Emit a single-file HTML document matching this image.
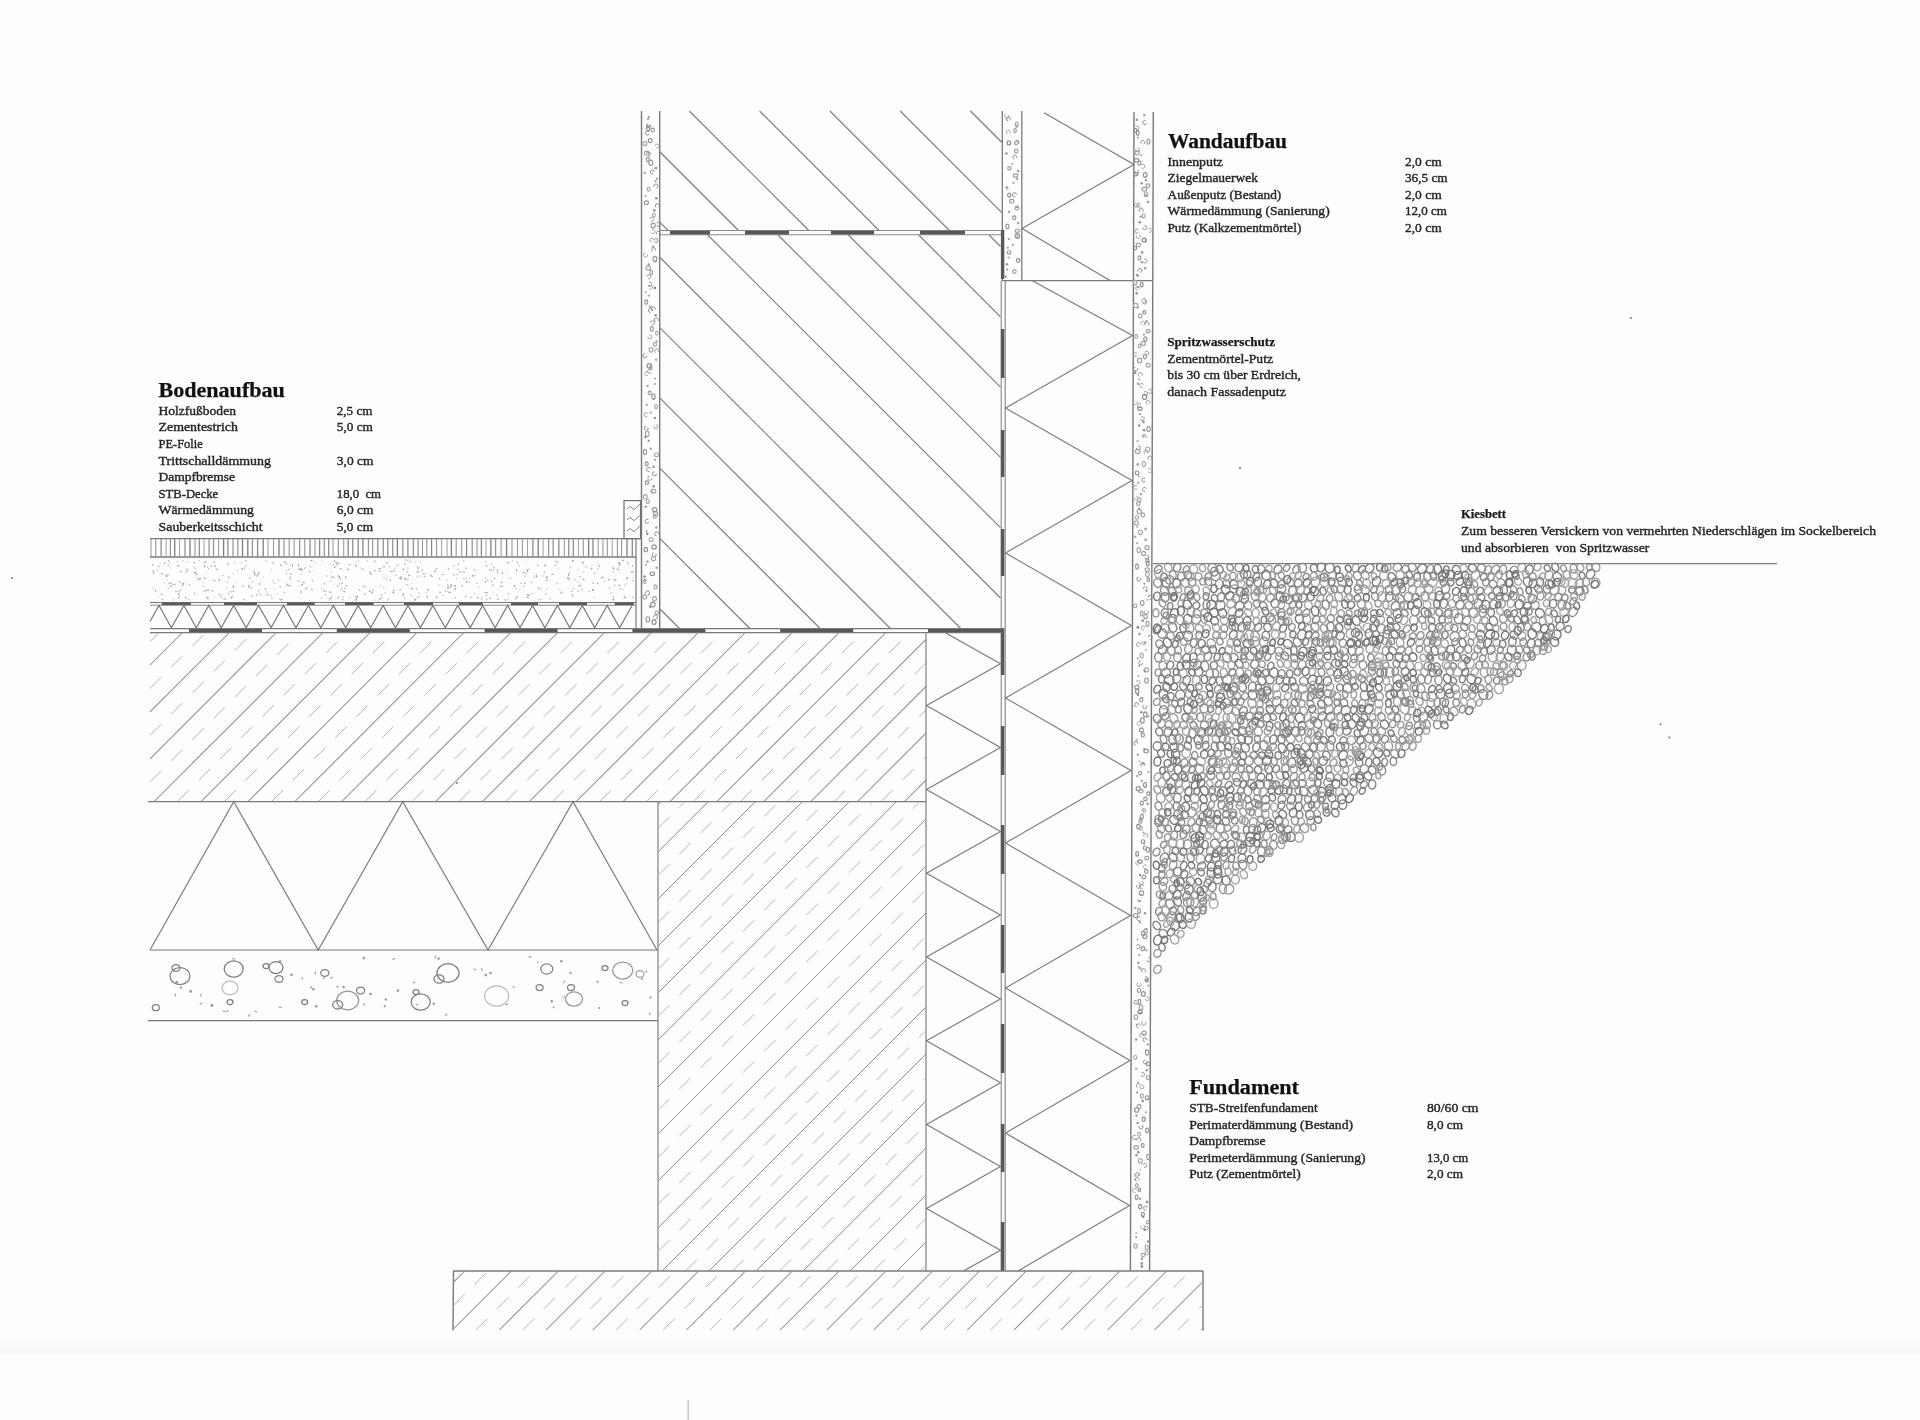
<!DOCTYPE html>
<html><head><meta charset="utf-8"><title>Detail</title>
<style>html,body{margin:0;padding:0;background:#fdfdfd;width:1920px;height:1420px;overflow:hidden} svg{display:block;filter:blur(0.4px)} text{font-family:"Liberation Serif",serif;white-space:pre}</style>
</head><body>
<svg width="1920" height="1420" viewBox="0 0 1920 1420" shape-rendering="geometricPrecision"><rect x="0" y="0" width="1920" height="1420" fill="#fdfdfd"/>
<linearGradient id="band" x1="0" y1="0" x2="0" y2="1"><stop offset="0" stop-color="#fdfdfd"/><stop offset="0.85" stop-color="#f8f8f8"/><stop offset="1" stop-color="#fdfdfd"/></linearGradient>
<rect x="0" y="1336" width="1920" height="20" fill="url(#band)"/>
<line x1="660.0" y1="222.3" x2="668.2" y2="230.5" stroke="#7e7e7e" stroke-width="1.15" />
<line x1="660.0" y1="152.0" x2="738.5" y2="230.5" stroke="#7e7e7e" stroke-width="1.15" />
<line x1="689.3" y1="111.0" x2="808.8" y2="230.5" stroke="#7e7e7e" stroke-width="1.15" />
<line x1="759.6" y1="111.0" x2="879.1" y2="230.5" stroke="#7e7e7e" stroke-width="1.15" />
<line x1="829.9" y1="111.0" x2="949.4" y2="230.5" stroke="#7e7e7e" stroke-width="1.15" />
<line x1="900.2" y1="111.0" x2="1002.0" y2="212.8" stroke="#7e7e7e" stroke-width="1.15" />
<line x1="970.5" y1="111.0" x2="1002.0" y2="142.5" stroke="#7e7e7e" stroke-width="1.15" />
<line x1="660.0" y1="609.0" x2="680.0" y2="629.0" stroke="#7e7e7e" stroke-width="1.15" />
<line x1="660.0" y1="538.7" x2="750.3" y2="629.0" stroke="#7e7e7e" stroke-width="1.15" />
<line x1="660.0" y1="468.4" x2="820.6" y2="629.0" stroke="#7e7e7e" stroke-width="1.15" />
<line x1="660.0" y1="398.1" x2="890.9" y2="629.0" stroke="#7e7e7e" stroke-width="1.15" />
<line x1="660.0" y1="327.8" x2="961.2" y2="629.0" stroke="#7e7e7e" stroke-width="1.15" />
<line x1="660.0" y1="257.5" x2="1000.5" y2="598.0" stroke="#7e7e7e" stroke-width="1.15" />
<line x1="707.8" y1="235.0" x2="1000.5" y2="527.7" stroke="#7e7e7e" stroke-width="1.15" />
<line x1="778.1" y1="235.0" x2="1000.5" y2="457.4" stroke="#7e7e7e" stroke-width="1.15" />
<line x1="848.4" y1="235.0" x2="1000.5" y2="387.1" stroke="#7e7e7e" stroke-width="1.15" />
<line x1="918.7" y1="235.0" x2="1000.5" y2="316.8" stroke="#7e7e7e" stroke-width="1.15" />
<line x1="989.0" y1="235.0" x2="1000.5" y2="246.5" stroke="#7e7e7e" stroke-width="1.15" />
<line x1="660.0" y1="230.5" x2="1002.0" y2="230.5" stroke="#8a8a8a" stroke-width="1.1" />
<line x1="660.0" y1="234.8" x2="1002.0" y2="234.8" stroke="#8a8a8a" stroke-width="1.1" />
<line x1="670.0" y1="232.6" x2="710.0" y2="232.6" stroke="#585858" stroke-width="3.6" />
<line x1="745.0" y1="232.6" x2="789.0" y2="232.6" stroke="#585858" stroke-width="3.6" />
<line x1="831.0" y1="232.6" x2="874.0" y2="232.6" stroke="#585858" stroke-width="3.6" />
<line x1="920.0" y1="232.6" x2="965.0" y2="232.6" stroke="#585858" stroke-width="3.6" />
<line x1="641.5" y1="111.0" x2="641.5" y2="628.0" stroke="#7a7a7a" stroke-width="1.4" />
<line x1="659.7" y1="111.0" x2="659.7" y2="629.0" stroke="#7a7a7a" stroke-width="1.4" />
<line x1="1002.3" y1="111.0" x2="1002.3" y2="280.5" stroke="#7a7a7a" stroke-width="1.3" />
<line x1="1021.8" y1="111.0" x2="1021.8" y2="280.5" stroke="#7a7a7a" stroke-width="1.3" />
<line x1="1001.2" y1="280.5" x2="1001.2" y2="1271.0" stroke="#8a8a8a" stroke-width="1.1" />
<line x1="1005.2" y1="280.5" x2="1005.2" y2="1271.0" stroke="#8a8a8a" stroke-width="1.2" />
<line x1="1002.6" y1="230.0" x2="1002.6" y2="279.0" stroke="#585858" stroke-width="3.4" />
<line x1="1002.6" y1="329.0" x2="1002.6" y2="378.0" stroke="#585858" stroke-width="3.4" />
<line x1="1002.6" y1="430.0" x2="1002.6" y2="477.0" stroke="#585858" stroke-width="3.4" />
<line x1="1002.6" y1="529.0" x2="1002.6" y2="576.0" stroke="#585858" stroke-width="3.4" />
<line x1="1002.6" y1="628.0" x2="1002.6" y2="675.0" stroke="#585858" stroke-width="3.4" />
<line x1="1002.6" y1="726.0" x2="1002.6" y2="775.0" stroke="#585858" stroke-width="3.4" />
<line x1="1002.6" y1="825.0" x2="1002.6" y2="874.0" stroke="#585858" stroke-width="3.4" />
<line x1="1002.6" y1="925.0" x2="1002.6" y2="973.0" stroke="#585858" stroke-width="3.4" />
<line x1="1002.6" y1="1024.0" x2="1002.6" y2="1073.0" stroke="#585858" stroke-width="3.4" />
<line x1="1002.6" y1="1124.0" x2="1002.6" y2="1172.0" stroke="#585858" stroke-width="3.4" />
<line x1="1002.6" y1="1222.0" x2="1002.6" y2="1271.0" stroke="#585858" stroke-width="3.4" />
<line x1="1134.0" y1="112.0" x2="1130.4" y2="1271.0" stroke="#7a7a7a" stroke-width="1.4" />
<line x1="1153.3" y1="112.0" x2="1149.6" y2="1271.0" stroke="#7a7a7a" stroke-width="1.4" />
<polyline fill="none" stroke="#7a7a7a" stroke-width="1.15" points="1044.0,112.8 1134.0,164.4 1022.0,228.6 1110.0,280.5"/>
<line x1="1002.0" y1="280.6" x2="1152.0" y2="280.6" stroke="#7a7a7a" stroke-width="1.15" />
<polyline fill="none" stroke="#7a7a7a" stroke-width="1.15" points="1032.0,280.6 1132.5,335.5 1005.5,408.0 1132.0,480.5 1005.5,553.0 1131.5,625.5 1005.5,698.0 1131.0,770.5 1005.5,843.0 1130.5,915.5 1005.5,988.0 1130.0,1060.5 1005.5,1133.0 1129.5,1205.5 1018.0,1271.0"/>
<line x1="150.0" y1="538.6" x2="641.0" y2="538.6" stroke="#7a7a7a" stroke-width="1.4" />
<line x1="150.0" y1="557.0" x2="636.0" y2="557.0" stroke="#7a7a7a" stroke-width="1.4" />
<line x1="151.0" y1="539" x2="151.0" y2="556.6" stroke="#8a8a8a" stroke-width="0.9"/>
<line x1="155.8" y1="539" x2="155.8" y2="556.6" stroke="#7e7e7e" stroke-width="0.9"/>
<line x1="161.1" y1="539" x2="161.1" y2="556.6" stroke="#7e7e7e" stroke-width="1.1"/>
<line x1="166.1" y1="539" x2="166.1" y2="556.6" stroke="#979797" stroke-width="0.9"/>
<line x1="170.4" y1="539" x2="170.4" y2="556.6" stroke="#8a8a8a" stroke-width="1.1"/>
<line x1="174.7" y1="539" x2="174.7" y2="556.6" stroke="#7e7e7e" stroke-width="1.3"/>
<line x1="179.5" y1="539" x2="179.5" y2="556.6" stroke="#979797" stroke-width="0.9"/>
<line x1="185.0" y1="539" x2="185.0" y2="556.6" stroke="#979797" stroke-width="1.3"/>
<line x1="190.0" y1="539" x2="190.0" y2="556.6" stroke="#7e7e7e" stroke-width="1.3"/>
<line x1="195.0" y1="539" x2="195.0" y2="556.6" stroke="#7e7e7e" stroke-width="0.9"/>
<line x1="199.3" y1="539" x2="199.3" y2="556.6" stroke="#7e7e7e" stroke-width="1.1"/>
<line x1="204.1" y1="539" x2="204.1" y2="556.6" stroke="#979797" stroke-width="0.9"/>
<line x1="209.1" y1="539" x2="209.1" y2="556.6" stroke="#979797" stroke-width="1.3"/>
<line x1="213.5" y1="539" x2="213.5" y2="556.6" stroke="#979797" stroke-width="1.3"/>
<line x1="218.6" y1="539" x2="218.6" y2="556.6" stroke="#8a8a8a" stroke-width="0.9"/>
<line x1="223.6" y1="539" x2="223.6" y2="556.6" stroke="#7e7e7e" stroke-width="1.3"/>
<line x1="227.9" y1="539" x2="227.9" y2="556.6" stroke="#7e7e7e" stroke-width="1.1"/>
<line x1="233.0" y1="539" x2="233.0" y2="556.6" stroke="#8a8a8a" stroke-width="1.1"/>
<line x1="237.9" y1="539" x2="237.9" y2="556.6" stroke="#8a8a8a" stroke-width="1.1"/>
<line x1="242.5" y1="539" x2="242.5" y2="556.6" stroke="#7e7e7e" stroke-width="1.3"/>
<line x1="247.8" y1="539" x2="247.8" y2="556.6" stroke="#7e7e7e" stroke-width="1.3"/>
<line x1="252.4" y1="539" x2="252.4" y2="556.6" stroke="#8a8a8a" stroke-width="1.1"/>
<line x1="257.6" y1="539" x2="257.6" y2="556.6" stroke="#8a8a8a" stroke-width="1.3"/>
<line x1="263.2" y1="539" x2="263.2" y2="556.6" stroke="#7e7e7e" stroke-width="1.3"/>
<line x1="268.0" y1="539" x2="268.0" y2="556.6" stroke="#8a8a8a" stroke-width="0.9"/>
<line x1="273.5" y1="539" x2="273.5" y2="556.6" stroke="#8a8a8a" stroke-width="0.9"/>
<line x1="279.0" y1="539" x2="279.0" y2="556.6" stroke="#7e7e7e" stroke-width="1.3"/>
<line x1="284.0" y1="539" x2="284.0" y2="556.6" stroke="#8a8a8a" stroke-width="1.1"/>
<line x1="289.2" y1="539" x2="289.2" y2="556.6" stroke="#979797" stroke-width="1.1"/>
<line x1="294.2" y1="539" x2="294.2" y2="556.6" stroke="#8a8a8a" stroke-width="0.9"/>
<line x1="299.6" y1="539" x2="299.6" y2="556.6" stroke="#8a8a8a" stroke-width="1.1"/>
<line x1="304.8" y1="539" x2="304.8" y2="556.6" stroke="#7e7e7e" stroke-width="0.9"/>
<line x1="310.0" y1="539" x2="310.0" y2="556.6" stroke="#8a8a8a" stroke-width="1.3"/>
<line x1="315.0" y1="539" x2="315.0" y2="556.6" stroke="#979797" stroke-width="1.1"/>
<line x1="319.6" y1="539" x2="319.6" y2="556.6" stroke="#8a8a8a" stroke-width="1.3"/>
<line x1="324.3" y1="539" x2="324.3" y2="556.6" stroke="#8a8a8a" stroke-width="1.1"/>
<line x1="328.7" y1="539" x2="328.7" y2="556.6" stroke="#7e7e7e" stroke-width="1.1"/>
<line x1="333.0" y1="539" x2="333.0" y2="556.6" stroke="#8a8a8a" stroke-width="0.9"/>
<line x1="338.3" y1="539" x2="338.3" y2="556.6" stroke="#8a8a8a" stroke-width="1.1"/>
<line x1="343.7" y1="539" x2="343.7" y2="556.6" stroke="#8a8a8a" stroke-width="0.9"/>
<line x1="348.2" y1="539" x2="348.2" y2="556.6" stroke="#8a8a8a" stroke-width="1.3"/>
<line x1="352.8" y1="539" x2="352.8" y2="556.6" stroke="#7e7e7e" stroke-width="1.1"/>
<line x1="358.2" y1="539" x2="358.2" y2="556.6" stroke="#8a8a8a" stroke-width="1.3"/>
<line x1="362.9" y1="539" x2="362.9" y2="556.6" stroke="#8a8a8a" stroke-width="1.3"/>
<line x1="368.4" y1="539" x2="368.4" y2="556.6" stroke="#7e7e7e" stroke-width="0.9"/>
<line x1="372.7" y1="539" x2="372.7" y2="556.6" stroke="#7e7e7e" stroke-width="0.9"/>
<line x1="377.8" y1="539" x2="377.8" y2="556.6" stroke="#7e7e7e" stroke-width="1.1"/>
<line x1="383.2" y1="539" x2="383.2" y2="556.6" stroke="#7e7e7e" stroke-width="1.1"/>
<line x1="387.8" y1="539" x2="387.8" y2="556.6" stroke="#7e7e7e" stroke-width="1.1"/>
<line x1="392.7" y1="539" x2="392.7" y2="556.6" stroke="#979797" stroke-width="1.3"/>
<line x1="397.4" y1="539" x2="397.4" y2="556.6" stroke="#7e7e7e" stroke-width="1.3"/>
<line x1="402.8" y1="539" x2="402.8" y2="556.6" stroke="#979797" stroke-width="1.3"/>
<line x1="407.9" y1="539" x2="407.9" y2="556.6" stroke="#7e7e7e" stroke-width="1.1"/>
<line x1="413.4" y1="539" x2="413.4" y2="556.6" stroke="#979797" stroke-width="1.3"/>
<line x1="418.1" y1="539" x2="418.1" y2="556.6" stroke="#8a8a8a" stroke-width="1.1"/>
<line x1="422.5" y1="539" x2="422.5" y2="556.6" stroke="#979797" stroke-width="1.1"/>
<line x1="426.8" y1="539" x2="426.8" y2="556.6" stroke="#7e7e7e" stroke-width="0.9"/>
<line x1="431.6" y1="539" x2="431.6" y2="556.6" stroke="#7e7e7e" stroke-width="1.1"/>
<line x1="436.6" y1="539" x2="436.6" y2="556.6" stroke="#7e7e7e" stroke-width="0.9"/>
<line x1="441.6" y1="539" x2="441.6" y2="556.6" stroke="#979797" stroke-width="0.9"/>
<line x1="447.1" y1="539" x2="447.1" y2="556.6" stroke="#979797" stroke-width="0.9"/>
<line x1="451.4" y1="539" x2="451.4" y2="556.6" stroke="#7e7e7e" stroke-width="1.3"/>
<line x1="456.2" y1="539" x2="456.2" y2="556.6" stroke="#979797" stroke-width="1.1"/>
<line x1="461.7" y1="539" x2="461.7" y2="556.6" stroke="#979797" stroke-width="1.1"/>
<line x1="466.6" y1="539" x2="466.6" y2="556.6" stroke="#7e7e7e" stroke-width="1.1"/>
<line x1="472.2" y1="539" x2="472.2" y2="556.6" stroke="#8a8a8a" stroke-width="1.1"/>
<line x1="477.0" y1="539" x2="477.0" y2="556.6" stroke="#7e7e7e" stroke-width="0.9"/>
<line x1="481.4" y1="539" x2="481.4" y2="556.6" stroke="#8a8a8a" stroke-width="1.3"/>
<line x1="486.0" y1="539" x2="486.0" y2="556.6" stroke="#979797" stroke-width="0.9"/>
<line x1="490.9" y1="539" x2="490.9" y2="556.6" stroke="#7e7e7e" stroke-width="1.3"/>
<line x1="495.6" y1="539" x2="495.6" y2="556.6" stroke="#979797" stroke-width="1.3"/>
<line x1="501.1" y1="539" x2="501.1" y2="556.6" stroke="#979797" stroke-width="1.1"/>
<line x1="506.6" y1="539" x2="506.6" y2="556.6" stroke="#7e7e7e" stroke-width="1.3"/>
<line x1="512.0" y1="539" x2="512.0" y2="556.6" stroke="#979797" stroke-width="1.1"/>
<line x1="517.5" y1="539" x2="517.5" y2="556.6" stroke="#8a8a8a" stroke-width="0.9"/>
<line x1="522.4" y1="539" x2="522.4" y2="556.6" stroke="#979797" stroke-width="1.1"/>
<line x1="527.5" y1="539" x2="527.5" y2="556.6" stroke="#979797" stroke-width="0.9"/>
<line x1="532.9" y1="539" x2="532.9" y2="556.6" stroke="#8a8a8a" stroke-width="1.3"/>
<line x1="538.2" y1="539" x2="538.2" y2="556.6" stroke="#7e7e7e" stroke-width="1.3"/>
<line x1="543.1" y1="539" x2="543.1" y2="556.6" stroke="#979797" stroke-width="0.9"/>
<line x1="548.7" y1="539" x2="548.7" y2="556.6" stroke="#8a8a8a" stroke-width="1.1"/>
<line x1="553.2" y1="539" x2="553.2" y2="556.6" stroke="#979797" stroke-width="1.3"/>
<line x1="558.8" y1="539" x2="558.8" y2="556.6" stroke="#8a8a8a" stroke-width="1.3"/>
<line x1="564.3" y1="539" x2="564.3" y2="556.6" stroke="#8a8a8a" stroke-width="0.9"/>
<line x1="568.8" y1="539" x2="568.8" y2="556.6" stroke="#7e7e7e" stroke-width="1.1"/>
<line x1="573.3" y1="539" x2="573.3" y2="556.6" stroke="#7e7e7e" stroke-width="1.1"/>
<line x1="578.4" y1="539" x2="578.4" y2="556.6" stroke="#979797" stroke-width="0.9"/>
<line x1="583.3" y1="539" x2="583.3" y2="556.6" stroke="#979797" stroke-width="1.1"/>
<line x1="588.6" y1="539" x2="588.6" y2="556.6" stroke="#7e7e7e" stroke-width="1.3"/>
<line x1="593.0" y1="539" x2="593.0" y2="556.6" stroke="#8a8a8a" stroke-width="1.3"/>
<line x1="598.2" y1="539" x2="598.2" y2="556.6" stroke="#8a8a8a" stroke-width="0.9"/>
<line x1="603.0" y1="539" x2="603.0" y2="556.6" stroke="#979797" stroke-width="1.1"/>
<line x1="607.3" y1="539" x2="607.3" y2="556.6" stroke="#979797" stroke-width="1.1"/>
<line x1="612.2" y1="539" x2="612.2" y2="556.6" stroke="#979797" stroke-width="0.9"/>
<line x1="617.4" y1="539" x2="617.4" y2="556.6" stroke="#7e7e7e" stroke-width="0.9"/>
<line x1="621.6" y1="539" x2="621.6" y2="556.6" stroke="#979797" stroke-width="1.1"/>
<line x1="627.0" y1="539" x2="627.0" y2="556.6" stroke="#7e7e7e" stroke-width="1.3"/>
<line x1="632.3" y1="539" x2="632.3" y2="556.6" stroke="#8a8a8a" stroke-width="1.3"/>
<line x1="636.0" y1="538.6" x2="636.0" y2="632.0" stroke="#7a7a7a" stroke-width="1.2" />
<rect x="624" y="500.6" width="16.5" height="38" fill="none" stroke="#707070" stroke-width="1.2"/>
<path d="M627,509 q3,-4 5,-1 t5,-1 t4,-2" fill="none" stroke="#777" stroke-width="0.9"/>
<path d="M627,520 q3,-4 5,-1 t5,-1 t4,-2" fill="none" stroke="#777" stroke-width="0.9"/>
<path d="M627,531 q3,-4 5,-1 t5,-1 t4,-2" fill="none" stroke="#777" stroke-width="0.9"/>
<circle cx="227.1" cy="581.9" r="0.71" fill="#a0a0a0"/>
<line x1="602.0" y1="577.4" x2="603.9" y2="577.5" stroke="#aaaaaa" stroke-width="0.9"/>
<circle cx="393.6" cy="590.5" r="0.83" fill="#959595"/>
<line x1="181.4" y1="589.6" x2="178.6" y2="591.3" stroke="#959595" stroke-width="0.9"/>
<circle cx="215.0" cy="566.1" r="0.81" fill="#959595"/>
<circle cx="445.3" cy="591.0" r="0.69" fill="#aaaaaa"/>
<circle cx="501.5" cy="582.3" r="0.81" fill="#959595"/>
<circle cx="203.1" cy="582.4" r="0.52" fill="#b8b8b8"/>
<circle cx="199.1" cy="578.1" r="0.68" fill="#a0a0a0"/>
<circle cx="447.2" cy="580.2" r="0.68" fill="#b8b8b8"/>
<line x1="409.0" y1="579.1" x2="405.9" y2="579.9" stroke="#b8b8b8" stroke-width="0.9"/>
<circle cx="249.6" cy="577.9" r="0.68" fill="#959595"/>
<circle cx="187.0" cy="569.6" r="0.81" fill="#b8b8b8"/>
<line x1="584.4" y1="566.2" x2="587.3" y2="567.6" stroke="#b8b8b8" stroke-width="0.9"/>
<line x1="618.4" y1="568.8" x2="616.6" y2="569.4" stroke="#959595" stroke-width="0.9"/>
<line x1="473.9" y1="568.9" x2="474.8" y2="570.6" stroke="#959595" stroke-width="0.9"/>
<circle cx="305.5" cy="588.9" r="0.68" fill="#959595"/>
<line x1="160.7" y1="573.3" x2="163.8" y2="574.4" stroke="#a0a0a0" stroke-width="0.9"/>
<circle cx="262.2" cy="595.1" r="0.52" fill="#b8b8b8"/>
<circle cx="527.5" cy="570.8" r="0.84" fill="#959595"/>
<circle cx="477.8" cy="597.8" r="0.78" fill="#959595"/>
<line x1="195.1" y1="562.3" x2="193.2" y2="563.0" stroke="#959595" stroke-width="0.9"/>
<circle cx="160.1" cy="563.5" r="0.53" fill="#aaaaaa"/>
<circle cx="567.9" cy="578.2" r="0.87" fill="#959595"/>
<circle cx="281.1" cy="565.2" r="0.88" fill="#aaaaaa"/>
<circle cx="619.2" cy="570.5" r="0.75" fill="#b8b8b8"/>
<circle cx="408.0" cy="568.2" r="0.61" fill="#aaaaaa"/>
<circle cx="539.4" cy="599.8" r="0.79" fill="#a0a0a0"/>
<circle cx="417.6" cy="567.6" r="0.54" fill="#959595"/>
<circle cx="546.7" cy="577.3" r="0.89" fill="#959595"/>
<circle cx="300.4" cy="568.6" r="0.83" fill="#aaaaaa"/>
<circle cx="492.6" cy="585.4" r="0.89" fill="#b8b8b8"/>
<line x1="555.4" y1="560.6" x2="555.8" y2="562.1" stroke="#b8b8b8" stroke-width="0.9"/>
<circle cx="472.6" cy="575.2" r="0.74" fill="#b8b8b8"/>
<circle cx="485.9" cy="561.8" r="0.68" fill="#b8b8b8"/>
<line x1="278.9" y1="598.5" x2="281.4" y2="600.9" stroke="#b8b8b8" stroke-width="0.9"/>
<circle cx="301.2" cy="574.3" r="0.53" fill="#959595"/>
<circle cx="286.4" cy="586.2" r="0.54" fill="#a0a0a0"/>
<circle cx="545.8" cy="565.8" r="0.51" fill="#959595"/>
<circle cx="298.6" cy="569.3" r="0.76" fill="#aaaaaa"/>
<circle cx="497.1" cy="595.2" r="0.79" fill="#b8b8b8"/>
<line x1="390.2" y1="571.4" x2="393.3" y2="571.8" stroke="#aaaaaa" stroke-width="0.9"/>
<line x1="581.9" y1="585.1" x2="579.0" y2="585.9" stroke="#aaaaaa" stroke-width="0.9"/>
<circle cx="426.0" cy="592.5" r="0.53" fill="#aaaaaa"/>
<line x1="172.2" y1="585.5" x2="169.9" y2="586.8" stroke="#959595" stroke-width="0.9"/>
<line x1="454.6" y1="585.0" x2="456.2" y2="586.8" stroke="#959595" stroke-width="0.9"/>
<line x1="185.8" y1="597.3" x2="185.0" y2="598.7" stroke="#a0a0a0" stroke-width="0.9"/>
<circle cx="507.1" cy="570.1" r="0.59" fill="#b8b8b8"/>
<line x1="516.6" y1="569.2" x2="516.6" y2="571.5" stroke="#959595" stroke-width="0.9"/>
<line x1="382.9" y1="587.3" x2="384.6" y2="587.8" stroke="#aaaaaa" stroke-width="0.9"/>
<circle cx="274.4" cy="589.7" r="0.50" fill="#aaaaaa"/>
<line x1="181.2" y1="570.8" x2="180.1" y2="572.5" stroke="#aaaaaa" stroke-width="0.9"/>
<circle cx="401.0" cy="578.6" r="0.90" fill="#a0a0a0"/>
<circle cx="416.7" cy="572.5" r="0.51" fill="#959595"/>
<line x1="373.2" y1="592.8" x2="371.0" y2="592.8" stroke="#959595" stroke-width="0.9"/>
<circle cx="593.8" cy="597.2" r="0.56" fill="#a0a0a0"/>
<circle cx="404.6" cy="598.1" r="0.85" fill="#b8b8b8"/>
<line x1="491.0" y1="569.3" x2="491.6" y2="571.0" stroke="#959595" stroke-width="0.9"/>
<circle cx="609.9" cy="587.3" r="0.67" fill="#aaaaaa"/>
<circle cx="333.3" cy="564.8" r="0.80" fill="#b8b8b8"/>
<line x1="556.5" y1="564.8" x2="554.5" y2="565.4" stroke="#a0a0a0" stroke-width="0.9"/>
<line x1="331.4" y1="575.7" x2="332.4" y2="577.9" stroke="#a0a0a0" stroke-width="0.9"/>
<circle cx="284.6" cy="561.9" r="0.75" fill="#b8b8b8"/>
<circle cx="223.8" cy="598.8" r="0.58" fill="#b8b8b8"/>
<line x1="332.0" y1="598.2" x2="328.7" y2="599.2" stroke="#959595" stroke-width="0.9"/>
<circle cx="416.7" cy="588.8" r="0.68" fill="#959595"/>
<circle cx="514.8" cy="585.8" r="0.86" fill="#a0a0a0"/>
<circle cx="417.2" cy="566.8" r="0.62" fill="#b8b8b8"/>
<circle cx="508.2" cy="599.1" r="0.62" fill="#aaaaaa"/>
<circle cx="420.6" cy="575.8" r="0.53" fill="#aaaaaa"/>
<circle cx="393.3" cy="592.5" r="0.86" fill="#959595"/>
<circle cx="632.3" cy="578.0" r="0.60" fill="#aaaaaa"/>
<circle cx="236.2" cy="582.2" r="0.60" fill="#b8b8b8"/>
<line x1="426.6" y1="595.5" x2="427.6" y2="598.3" stroke="#959595" stroke-width="0.9"/>
<line x1="253.2" y1="570.8" x2="255.4" y2="573.4" stroke="#959595" stroke-width="0.9"/>
<line x1="212.7" y1="580.1" x2="215.8" y2="581.1" stroke="#aaaaaa" stroke-width="0.9"/>
<circle cx="337.4" cy="585.8" r="0.84" fill="#b8b8b8"/>
<circle cx="572.7" cy="560.9" r="0.89" fill="#959595"/>
<line x1="388.1" y1="562.9" x2="386.1" y2="563.1" stroke="#959595" stroke-width="0.9"/>
<circle cx="204.6" cy="566.2" r="0.88" fill="#a0a0a0"/>
<line x1="499.9" y1="585.9" x2="502.8" y2="586.7" stroke="#959595" stroke-width="0.9"/>
<circle cx="152.7" cy="565.0" r="0.76" fill="#a0a0a0"/>
<circle cx="298.4" cy="565.1" r="0.78" fill="#959595"/>
<circle cx="206.0" cy="562.8" r="0.66" fill="#aaaaaa"/>
<circle cx="259.8" cy="584.0" r="0.90" fill="#b8b8b8"/>
<line x1="286.3" y1="572.7" x2="286.4" y2="574.6" stroke="#aaaaaa" stroke-width="0.9"/>
<line x1="271.1" y1="598.4" x2="272.9" y2="598.8" stroke="#b8b8b8" stroke-width="0.9"/>
<circle cx="578.5" cy="585.9" r="0.77" fill="#aaaaaa"/>
<circle cx="597.9" cy="569.1" r="0.79" fill="#b8b8b8"/>
<circle cx="326.6" cy="575.9" r="0.80" fill="#b8b8b8"/>
<line x1="395.4" y1="568.2" x2="394.0" y2="569.5" stroke="#b8b8b8" stroke-width="0.9"/>
<line x1="376.2" y1="570.6" x2="373.7" y2="571.0" stroke="#a0a0a0" stroke-width="0.9"/>
<circle cx="242.3" cy="568.9" r="0.88" fill="#a0a0a0"/>
<circle cx="222.6" cy="575.7" r="0.67" fill="#aaaaaa"/>
<circle cx="494.2" cy="567.4" r="0.79" fill="#b8b8b8"/>
<circle cx="632.8" cy="597.3" r="0.76" fill="#aaaaaa"/>
<circle cx="405.0" cy="578.7" r="0.84" fill="#959595"/>
<circle cx="626.8" cy="577.7" r="0.61" fill="#a0a0a0"/>
<circle cx="321.4" cy="598.2" r="0.65" fill="#aaaaaa"/>
<line x1="522.5" y1="572.3" x2="524.9" y2="572.7" stroke="#a0a0a0" stroke-width="0.9"/>
<circle cx="331.6" cy="596.8" r="0.79" fill="#b8b8b8"/>
<circle cx="380.7" cy="585.3" r="0.52" fill="#959595"/>
<line x1="168.8" y1="562.5" x2="170.1" y2="563.4" stroke="#b8b8b8" stroke-width="0.9"/>
<circle cx="443.9" cy="574.5" r="0.60" fill="#a0a0a0"/>
<circle cx="497.4" cy="572.7" r="0.79" fill="#a0a0a0"/>
<line x1="439.1" y1="592.2" x2="441.0" y2="592.4" stroke="#a0a0a0" stroke-width="0.9"/>
<line x1="381.0" y1="598.3" x2="378.4" y2="600.3" stroke="#959595" stroke-width="0.9"/>
<circle cx="544.7" cy="565.3" r="0.82" fill="#a0a0a0"/>
<line x1="508.0" y1="592.9" x2="509.1" y2="594.7" stroke="#aaaaaa" stroke-width="0.9"/>
<circle cx="326.4" cy="591.3" r="0.66" fill="#aaaaaa"/>
<line x1="229.1" y1="576.3" x2="228.7" y2="578.4" stroke="#959595" stroke-width="0.9"/>
<line x1="624.5" y1="595.3" x2="623.8" y2="597.1" stroke="#b8b8b8" stroke-width="0.9"/>
<line x1="355.0" y1="599.5" x2="356.7" y2="601.1" stroke="#aaaaaa" stroke-width="0.9"/>
<line x1="451.0" y1="587.0" x2="449.4" y2="588.3" stroke="#a0a0a0" stroke-width="0.9"/>
<circle cx="286.7" cy="570.7" r="0.58" fill="#b8b8b8"/>
<circle cx="271.3" cy="569.8" r="0.63" fill="#aaaaaa"/>
<circle cx="342.9" cy="599.7" r="0.76" fill="#aaaaaa"/>
<circle cx="200.5" cy="578.6" r="0.69" fill="#a0a0a0"/>
<line x1="546.8" y1="593.6" x2="545.0" y2="594.4" stroke="#a0a0a0" stroke-width="0.9"/>
<line x1="176.3" y1="584.0" x2="174.1" y2="584.5" stroke="#aaaaaa" stroke-width="0.9"/>
<circle cx="569.5" cy="578.0" r="0.54" fill="#a0a0a0"/>
<circle cx="439.3" cy="584.8" r="0.64" fill="#b8b8b8"/>
<circle cx="173.3" cy="600.0" r="0.83" fill="#aaaaaa"/>
<circle cx="546.7" cy="576.4" r="0.53" fill="#b8b8b8"/>
<circle cx="167.2" cy="579.8" r="0.54" fill="#959595"/>
<line x1="342.5" y1="582.0" x2="341.5" y2="584.0" stroke="#a0a0a0" stroke-width="0.9"/>
<line x1="282.7" y1="599.5" x2="280.6" y2="599.8" stroke="#959595" stroke-width="0.9"/>
<circle cx="425.1" cy="574.3" r="0.76" fill="#b8b8b8"/>
<line x1="340.3" y1="576.2" x2="338.1" y2="576.9" stroke="#959595" stroke-width="0.9"/>
<line x1="547.4" y1="576.2" x2="546.1" y2="577.4" stroke="#959595" stroke-width="0.9"/>
<line x1="176.9" y1="565.7" x2="179.6" y2="566.5" stroke="#959595" stroke-width="0.9"/>
<circle cx="330.7" cy="580.2" r="0.56" fill="#b8b8b8"/>
<circle cx="234.8" cy="562.7" r="0.62" fill="#aaaaaa"/>
<line x1="555.6" y1="561.7" x2="558.9" y2="562.3" stroke="#b8b8b8" stroke-width="0.9"/>
<line x1="339.0" y1="596.2" x2="337.6" y2="599.1" stroke="#aaaaaa" stroke-width="0.9"/>
<circle cx="451.3" cy="584.6" r="0.57" fill="#959595"/>
<circle cx="257.1" cy="576.0" r="0.64" fill="#959595"/>
<line x1="224.0" y1="598.8" x2="226.6" y2="599.2" stroke="#aaaaaa" stroke-width="0.9"/>
<line x1="517.1" y1="561.5" x2="517.9" y2="563.8" stroke="#a0a0a0" stroke-width="0.9"/>
<line x1="561.2" y1="591.1" x2="560.6" y2="593.4" stroke="#b8b8b8" stroke-width="0.9"/>
<circle cx="469.6" cy="577.9" r="0.50" fill="#a0a0a0"/>
<circle cx="627.3" cy="578.6" r="0.83" fill="#959595"/>
<circle cx="542.7" cy="576.0" r="0.67" fill="#b8b8b8"/>
<circle cx="196.2" cy="577.7" r="0.52" fill="#a0a0a0"/>
<circle cx="214.8" cy="596.9" r="0.52" fill="#a0a0a0"/>
<line x1="394.9" y1="575.1" x2="396.5" y2="575.2" stroke="#aaaaaa" stroke-width="0.9"/>
<circle cx="448.0" cy="587.7" r="0.89" fill="#aaaaaa"/>
<line x1="389.1" y1="598.3" x2="387.5" y2="600.7" stroke="#aaaaaa" stroke-width="0.9"/>
<line x1="258.6" y1="593.3" x2="261.5" y2="594.9" stroke="#b8b8b8" stroke-width="0.9"/>
<circle cx="284.5" cy="592.6" r="0.58" fill="#959595"/>
<circle cx="278.7" cy="580.2" r="0.58" fill="#a0a0a0"/>
<circle cx="346.5" cy="585.5" r="0.86" fill="#b8b8b8"/>
<circle cx="233.3" cy="591.4" r="0.75" fill="#a0a0a0"/>
<circle cx="325.4" cy="594.9" r="0.60" fill="#a0a0a0"/>
<line x1="410.2" y1="594.3" x2="412.6" y2="596.8" stroke="#b8b8b8" stroke-width="0.9"/>
<line x1="430.3" y1="574.4" x2="432.3" y2="576.2" stroke="#959595" stroke-width="0.9"/>
<circle cx="613.7" cy="571.9" r="0.76" fill="#b8b8b8"/>
<line x1="626.3" y1="583.4" x2="624.3" y2="585.7" stroke="#b8b8b8" stroke-width="0.9"/>
<line x1="258.8" y1="571.6" x2="258.7" y2="574.9" stroke="#959595" stroke-width="0.9"/>
<line x1="215.6" y1="569.1" x2="218.2" y2="569.5" stroke="#a0a0a0" stroke-width="0.9"/>
<circle cx="298.4" cy="580.9" r="0.73" fill="#959595"/>
<line x1="435.9" y1="568.2" x2="437.3" y2="568.9" stroke="#959595" stroke-width="0.9"/>
<circle cx="538.3" cy="588.3" r="0.76" fill="#a0a0a0"/>
<circle cx="572.0" cy="591.3" r="0.89" fill="#b8b8b8"/>
<line x1="179.1" y1="592.8" x2="178.3" y2="595.2" stroke="#959595" stroke-width="0.9"/>
<circle cx="389.6" cy="566.6" r="0.71" fill="#a0a0a0"/>
<circle cx="347.7" cy="569.5" r="0.50" fill="#a0a0a0"/>
<circle cx="417.5" cy="597.6" r="0.71" fill="#aaaaaa"/>
<circle cx="461.8" cy="585.9" r="0.70" fill="#aaaaaa"/>
<line x1="182.7" y1="585.0" x2="181.8" y2="586.2" stroke="#959595" stroke-width="0.9"/>
<circle cx="559.0" cy="589.8" r="0.57" fill="#959595"/>
<line x1="632.4" y1="570.5" x2="633.8" y2="573.1" stroke="#a0a0a0" stroke-width="0.9"/>
<line x1="487.0" y1="593.8" x2="485.9" y2="596.4" stroke="#b8b8b8" stroke-width="0.9"/>
<line x1="482.5" y1="596.7" x2="481.0" y2="599.8" stroke="#b8b8b8" stroke-width="0.9"/>
<circle cx="256.6" cy="595.2" r="0.86" fill="#b8b8b8"/>
<circle cx="557.7" cy="568.1" r="0.58" fill="#b8b8b8"/>
<circle cx="339.4" cy="584.0" r="0.69" fill="#959595"/>
<circle cx="407.8" cy="560.3" r="0.73" fill="#aaaaaa"/>
<line x1="300.3" y1="568.5" x2="300.0" y2="570.3" stroke="#a0a0a0" stroke-width="0.9"/>
<line x1="167.9" y1="564.5" x2="168.7" y2="566.1" stroke="#aaaaaa" stroke-width="0.9"/>
<line x1="165.8" y1="561.7" x2="164.1" y2="564.1" stroke="#a0a0a0" stroke-width="0.9"/>
<circle cx="183.7" cy="583.6" r="0.85" fill="#a0a0a0"/>
<circle cx="516.3" cy="588.4" r="0.58" fill="#aaaaaa"/>
<line x1="206.0" y1="561.4" x2="203.6" y2="562.8" stroke="#a0a0a0" stroke-width="0.9"/>
<circle cx="290.5" cy="564.0" r="0.62" fill="#aaaaaa"/>
<circle cx="314.2" cy="570.4" r="0.52" fill="#b8b8b8"/>
<line x1="518.2" y1="596.4" x2="515.8" y2="597.6" stroke="#959595" stroke-width="0.9"/>
<circle cx="166.9" cy="576.5" r="0.64" fill="#a0a0a0"/>
<circle cx="491.6" cy="581.5" r="0.73" fill="#a0a0a0"/>
<circle cx="290.4" cy="577.4" r="0.80" fill="#b8b8b8"/>
<circle cx="623.3" cy="560.2" r="0.78" fill="#959595"/>
<circle cx="549.8" cy="598.7" r="0.73" fill="#b8b8b8"/>
<line x1="228.6" y1="592.6" x2="228.6" y2="594.3" stroke="#aaaaaa" stroke-width="0.9"/>
<line x1="458.8" y1="563.2" x2="457.9" y2="565.3" stroke="#a0a0a0" stroke-width="0.9"/>
<line x1="345.4" y1="575.8" x2="346.1" y2="578.5" stroke="#a0a0a0" stroke-width="0.9"/>
<circle cx="331.3" cy="572.1" r="0.65" fill="#aaaaaa"/>
<circle cx="578.1" cy="569.3" r="0.64" fill="#a0a0a0"/>
<line x1="309.5" y1="566.2" x2="311.5" y2="567.4" stroke="#b8b8b8" stroke-width="0.9"/>
<circle cx="524.8" cy="583.2" r="0.76" fill="#959595"/>
<circle cx="487.7" cy="580.3" r="0.79" fill="#aaaaaa"/>
<line x1="621.8" y1="588.9" x2="623.7" y2="590.0" stroke="#b8b8b8" stroke-width="0.9"/>
<line x1="243.2" y1="599.0" x2="245.7" y2="600.4" stroke="#a0a0a0" stroke-width="0.9"/>
<circle cx="246.2" cy="566.0" r="0.79" fill="#b8b8b8"/>
<line x1="361.6" y1="567.8" x2="363.7" y2="570.4" stroke="#a0a0a0" stroke-width="0.9"/>
<line x1="375.6" y1="560.5" x2="374.2" y2="562.6" stroke="#959595" stroke-width="0.9"/>
<circle cx="456.8" cy="578.5" r="0.50" fill="#959595"/>
<line x1="268.8" y1="594.1" x2="266.3" y2="595.4" stroke="#959595" stroke-width="0.9"/>
<line x1="466.5" y1="595.1" x2="465.0" y2="597.5" stroke="#aaaaaa" stroke-width="0.9"/>
<line x1="370.8" y1="572.5" x2="368.9" y2="573.2" stroke="#a0a0a0" stroke-width="0.9"/>
<circle cx="344.9" cy="588.5" r="0.69" fill="#959595"/>
<circle cx="161.5" cy="594.3" r="0.86" fill="#aaaaaa"/>
<line x1="310.1" y1="560.4" x2="312.7" y2="560.7" stroke="#a0a0a0" stroke-width="0.9"/>
<line x1="229.5" y1="591.3" x2="232.0" y2="592.1" stroke="#b8b8b8" stroke-width="0.9"/>
<circle cx="412.8" cy="588.7" r="0.71" fill="#b8b8b8"/>
<circle cx="349.8" cy="597.9" r="0.66" fill="#aaaaaa"/>
<line x1="519.6" y1="564.9" x2="518.8" y2="566.7" stroke="#b8b8b8" stroke-width="0.9"/>
<circle cx="336.0" cy="562.5" r="0.75" fill="#959595"/>
<circle cx="477.3" cy="583.2" r="0.80" fill="#b8b8b8"/>
<circle cx="605.0" cy="581.1" r="0.68" fill="#959595"/>
<circle cx="231.3" cy="597.2" r="0.69" fill="#aaaaaa"/>
<line x1="422.9" y1="569.0" x2="421.3" y2="571.8" stroke="#b8b8b8" stroke-width="0.9"/>
<line x1="535.3" y1="576.5" x2="533.4" y2="578.1" stroke="#aaaaaa" stroke-width="0.9"/>
<line x1="529.7" y1="569.2" x2="526.8" y2="569.4" stroke="#b8b8b8" stroke-width="0.9"/>
<line x1="384.1" y1="592.2" x2="385.6" y2="593.7" stroke="#b8b8b8" stroke-width="0.9"/>
<line x1="383.1" y1="577.1" x2="385.0" y2="578.1" stroke="#b8b8b8" stroke-width="0.9"/>
<circle cx="337.6" cy="563.4" r="0.81" fill="#b8b8b8"/>
<line x1="219.7" y1="593.3" x2="218.8" y2="594.9" stroke="#a0a0a0" stroke-width="0.9"/>
<line x1="186.7" y1="571.7" x2="185.0" y2="572.5" stroke="#aaaaaa" stroke-width="0.9"/>
<circle cx="369.8" cy="591.4" r="0.82" fill="#959595"/>
<line x1="232.9" y1="595.6" x2="231.3" y2="598.5" stroke="#a0a0a0" stroke-width="0.9"/>
<circle cx="531.9" cy="593.6" r="0.71" fill="#aaaaaa"/>
<line x1="509.6" y1="577.5" x2="510.9" y2="579.0" stroke="#a0a0a0" stroke-width="0.9"/>
<circle cx="219.2" cy="579.7" r="0.86" fill="#959595"/>
<circle cx="489.6" cy="569.9" r="0.56" fill="#a0a0a0"/>
<circle cx="306.6" cy="587.8" r="0.84" fill="#b8b8b8"/>
<line x1="332.7" y1="576.8" x2="334.6" y2="577.9" stroke="#a0a0a0" stroke-width="0.9"/>
<circle cx="463.6" cy="560.8" r="0.82" fill="#b8b8b8"/>
<line x1="197.3" y1="579.4" x2="200.2" y2="579.7" stroke="#aaaaaa" stroke-width="0.9"/>
<line x1="453.4" y1="573.5" x2="454.8" y2="576.2" stroke="#b8b8b8" stroke-width="0.9"/>
<circle cx="419.1" cy="596.5" r="0.67" fill="#b8b8b8"/>
<circle cx="419.0" cy="593.1" r="0.66" fill="#959595"/>
<circle cx="394.8" cy="570.9" r="0.76" fill="#aaaaaa"/>
<circle cx="533.7" cy="573.2" r="0.55" fill="#b8b8b8"/>
<line x1="620.9" y1="563.5" x2="618.8" y2="566.0" stroke="#959595" stroke-width="0.9"/>
<circle cx="414.9" cy="562.0" r="0.52" fill="#a0a0a0"/>
<line x1="548.2" y1="579.0" x2="545.6" y2="581.0" stroke="#a0a0a0" stroke-width="0.9"/>
<line x1="446.9" y1="584.7" x2="449.1" y2="586.4" stroke="#a0a0a0" stroke-width="0.9"/>
<circle cx="372.7" cy="590.5" r="0.85" fill="#aaaaaa"/>
<line x1="355.2" y1="564.0" x2="356.5" y2="566.9" stroke="#a0a0a0" stroke-width="0.9"/>
<circle cx="531.1" cy="582.5" r="0.57" fill="#b8b8b8"/>
<circle cx="168.5" cy="560.8" r="0.70" fill="#a0a0a0"/>
<line x1="403.7" y1="593.0" x2="402.9" y2="596.2" stroke="#959595" stroke-width="0.9"/>
<circle cx="367.2" cy="560.6" r="0.69" fill="#aaaaaa"/>
<line x1="350.8" y1="564.1" x2="348.2" y2="565.0" stroke="#aaaaaa" stroke-width="0.9"/>
<line x1="357.8" y1="560.4" x2="359.2" y2="561.5" stroke="#a0a0a0" stroke-width="0.9"/>
<circle cx="379.7" cy="571.0" r="0.79" fill="#959595"/>
<line x1="242.3" y1="562.0" x2="241.2" y2="563.3" stroke="#aaaaaa" stroke-width="0.9"/>
<circle cx="455.0" cy="588.4" r="0.87" fill="#b8b8b8"/>
<circle cx="177.4" cy="561.3" r="0.66" fill="#a0a0a0"/>
<line x1="302.6" y1="584.0" x2="301.9" y2="586.0" stroke="#959595" stroke-width="0.9"/>
<circle cx="609.3" cy="589.1" r="0.56" fill="#aaaaaa"/>
<line x1="536.3" y1="574.5" x2="536.5" y2="577.6" stroke="#959595" stroke-width="0.9"/>
<line x1="370.2" y1="570.9" x2="371.2" y2="572.2" stroke="#b8b8b8" stroke-width="0.9"/>
<line x1="621.4" y1="588.1" x2="618.7" y2="589.3" stroke="#b8b8b8" stroke-width="0.9"/>
<line x1="159.5" y1="566.0" x2="157.5" y2="566.2" stroke="#959595" stroke-width="0.9"/>
<line x1="338.7" y1="575.0" x2="337.0" y2="576.2" stroke="#aaaaaa" stroke-width="0.9"/>
<circle cx="152.8" cy="570.5" r="0.62" fill="#a0a0a0"/>
<line x1="219.8" y1="595.6" x2="221.9" y2="598.1" stroke="#aaaaaa" stroke-width="0.9"/>
<line x1="541.0" y1="587.4" x2="540.7" y2="590.0" stroke="#b8b8b8" stroke-width="0.9"/>
<line x1="385.7" y1="575.3" x2="386.6" y2="576.6" stroke="#aaaaaa" stroke-width="0.9"/>
<line x1="342.6" y1="588.3" x2="340.7" y2="589.8" stroke="#a0a0a0" stroke-width="0.9"/>
<line x1="194.3" y1="592.3" x2="195.1" y2="594.7" stroke="#aaaaaa" stroke-width="0.9"/>
<circle cx="277.1" cy="593.3" r="0.58" fill="#aaaaaa"/>
<line x1="244.7" y1="567.2" x2="244.2" y2="569.4" stroke="#b8b8b8" stroke-width="0.9"/>
<circle cx="527.8" cy="594.3" r="0.65" fill="#959595"/>
<line x1="203.1" y1="585.3" x2="204.0" y2="586.6" stroke="#aaaaaa" stroke-width="0.9"/>
<circle cx="287.2" cy="584.3" r="0.90" fill="#aaaaaa"/>
<circle cx="569.5" cy="579.5" r="0.87" fill="#b8b8b8"/>
<circle cx="286.9" cy="563.9" r="0.60" fill="#aaaaaa"/>
<circle cx="170.3" cy="568.0" r="0.51" fill="#a0a0a0"/>
<line x1="168.8" y1="574.8" x2="165.5" y2="575.3" stroke="#959595" stroke-width="0.9"/>
<circle cx="182.9" cy="583.9" r="0.78" fill="#a0a0a0"/>
<circle cx="195.4" cy="572.7" r="0.88" fill="#a0a0a0"/>
<circle cx="474.8" cy="575.7" r="0.65" fill="#aaaaaa"/>
<circle cx="265.3" cy="588.8" r="0.88" fill="#b8b8b8"/>
<circle cx="180.6" cy="582.1" r="0.60" fill="#a0a0a0"/>
<line x1="399.4" y1="589.6" x2="401.2" y2="589.9" stroke="#959595" stroke-width="0.9"/>
<line x1="515.9" y1="597.6" x2="515.2" y2="599.9" stroke="#b8b8b8" stroke-width="0.9"/>
<circle cx="466.5" cy="578.8" r="0.55" fill="#959595"/>
<circle cx="384.0" cy="566.7" r="0.87" fill="#aaaaaa"/>
<line x1="582.0" y1="578.7" x2="584.8" y2="580.2" stroke="#a0a0a0" stroke-width="0.9"/>
<circle cx="189.5" cy="584.7" r="0.81" fill="#aaaaaa"/>
<circle cx="613.7" cy="597.0" r="0.75" fill="#a0a0a0"/>
<line x1="370.0" y1="573.6" x2="372.1" y2="574.4" stroke="#959595" stroke-width="0.9"/>
<circle cx="312.0" cy="589.4" r="0.72" fill="#959595"/>
<circle cx="221.8" cy="594.8" r="0.60" fill="#959595"/>
<circle cx="164.3" cy="582.8" r="0.60" fill="#aaaaaa"/>
<circle cx="204.7" cy="578.2" r="0.89" fill="#aaaaaa"/>
<line x1="179.4" y1="595.8" x2="178.8" y2="598.9" stroke="#aaaaaa" stroke-width="0.9"/>
<line x1="209.4" y1="590.2" x2="206.0" y2="590.3" stroke="#959595" stroke-width="0.9"/>
<circle cx="597.9" cy="563.9" r="0.52" fill="#aaaaaa"/>
<line x1="502.2" y1="571.7" x2="502.6" y2="574.2" stroke="#a0a0a0" stroke-width="0.9"/>
<line x1="398.2" y1="577.7" x2="400.2" y2="579.0" stroke="#b8b8b8" stroke-width="0.9"/>
<circle cx="591.6" cy="568.7" r="0.84" fill="#aaaaaa"/>
<circle cx="403.4" cy="569.2" r="0.83" fill="#a0a0a0"/>
<line x1="580.7" y1="589.2" x2="582.8" y2="590.9" stroke="#aaaaaa" stroke-width="0.9"/>
<circle cx="493.1" cy="592.5" r="0.50" fill="#aaaaaa"/>
<line x1="485.7" y1="580.8" x2="485.5" y2="583.0" stroke="#a0a0a0" stroke-width="0.9"/>
<line x1="287.8" y1="585.6" x2="291.1" y2="585.7" stroke="#a0a0a0" stroke-width="0.9"/>
<circle cx="381.7" cy="594.9" r="0.73" fill="#aaaaaa"/>
<line x1="627.1" y1="561.5" x2="628.6" y2="564.5" stroke="#a0a0a0" stroke-width="0.9"/>
<circle cx="618.9" cy="562.9" r="0.83" fill="#aaaaaa"/>
<line x1="569.2" y1="572.8" x2="568.4" y2="576.0" stroke="#959595" stroke-width="0.9"/>
<line x1="292.5" y1="564.3" x2="292.4" y2="566.9" stroke="#959595" stroke-width="0.9"/>
<line x1="411.0" y1="560.8" x2="410.3" y2="562.5" stroke="#aaaaaa" stroke-width="0.9"/>
<line x1="302.3" y1="582.2" x2="305.1" y2="583.1" stroke="#a0a0a0" stroke-width="0.9"/>
<circle cx="246.0" cy="560.7" r="0.71" fill="#959595"/>
<line x1="490.7" y1="564.1" x2="492.4" y2="564.4" stroke="#aaaaaa" stroke-width="0.9"/>
<circle cx="389.9" cy="580.0" r="0.55" fill="#a0a0a0"/>
<circle cx="578.3" cy="581.7" r="0.56" fill="#aaaaaa"/>
<circle cx="428.1" cy="589.9" r="0.88" fill="#a0a0a0"/>
<line x1="339.4" y1="576.8" x2="340.5" y2="580.0" stroke="#a0a0a0" stroke-width="0.9"/>
<circle cx="526.5" cy="573.5" r="0.79" fill="#b8b8b8"/>
<line x1="558.3" y1="582.6" x2="555.7" y2="584.3" stroke="#b8b8b8" stroke-width="0.9"/>
<line x1="177.8" y1="580.7" x2="179.5" y2="582.3" stroke="#b8b8b8" stroke-width="0.9"/>
<circle cx="457.0" cy="574.6" r="0.63" fill="#a0a0a0"/>
<circle cx="248.8" cy="586.8" r="0.89" fill="#959595"/>
<line x1="526.3" y1="597.5" x2="529.1" y2="597.8" stroke="#a0a0a0" stroke-width="0.9"/>
<circle cx="280.1" cy="587.1" r="0.75" fill="#a0a0a0"/>
<circle cx="272.8" cy="580.8" r="0.62" fill="#a0a0a0"/>
<circle cx="299.2" cy="585.9" r="0.53" fill="#b8b8b8"/>
<circle cx="436.5" cy="597.3" r="0.85" fill="#aaaaaa"/>
<circle cx="593.3" cy="583.1" r="0.80" fill="#a0a0a0"/>
<line x1="290.4" y1="578.2" x2="289.5" y2="579.9" stroke="#aaaaaa" stroke-width="0.9"/>
<circle cx="494.4" cy="578.4" r="0.69" fill="#959595"/>
<circle cx="301.7" cy="569.7" r="0.89" fill="#959595"/>
<circle cx="343.1" cy="597.0" r="0.63" fill="#aaaaaa"/>
<line x1="308.9" y1="570.8" x2="310.7" y2="573.2" stroke="#aaaaaa" stroke-width="0.9"/>
<line x1="228.4" y1="562.7" x2="227.2" y2="564.9" stroke="#959595" stroke-width="0.9"/>
<line x1="554.1" y1="574.2" x2="551.3" y2="574.3" stroke="#aaaaaa" stroke-width="0.9"/>
<line x1="602.2" y1="576.7" x2="600.7" y2="579.0" stroke="#aaaaaa" stroke-width="0.9"/>
<circle cx="561.7" cy="592.8" r="0.61" fill="#959595"/>
<line x1="456.0" y1="585.3" x2="454.6" y2="585.9" stroke="#959595" stroke-width="0.9"/>
<circle cx="521.1" cy="583.4" r="0.67" fill="#aaaaaa"/>
<line x1="529.7" y1="594.9" x2="527.2" y2="596.2" stroke="#959595" stroke-width="0.9"/>
<circle cx="290.8" cy="574.1" r="0.76" fill="#959595"/>
<line x1="155.3" y1="589.8" x2="155.6" y2="591.7" stroke="#959595" stroke-width="0.9"/>
<circle cx="298.5" cy="565.8" r="0.54" fill="#aaaaaa"/>
<line x1="595.5" y1="573.0" x2="593.6" y2="573.2" stroke="#aaaaaa" stroke-width="0.9"/>
<circle cx="357.5" cy="596.4" r="0.60" fill="#a0a0a0"/>
<circle cx="583.8" cy="572.0" r="0.72" fill="#b8b8b8"/>
<circle cx="633.2" cy="580.7" r="0.66" fill="#959595"/>
<circle cx="324.4" cy="583.8" r="0.77" fill="#a0a0a0"/>
<circle cx="405.2" cy="564.0" r="0.76" fill="#959595"/>
<circle cx="599.5" cy="566.2" r="0.69" fill="#959595"/>
<line x1="364.2" y1="585.0" x2="362.5" y2="587.5" stroke="#b8b8b8" stroke-width="0.9"/>
<circle cx="196.5" cy="574.5" r="0.83" fill="#a0a0a0"/>
<line x1="399.1" y1="564.4" x2="396.1" y2="566.3" stroke="#b8b8b8" stroke-width="0.9"/>
<circle cx="580.1" cy="576.8" r="0.83" fill="#b8b8b8"/>
<circle cx="252.2" cy="595.7" r="0.75" fill="#a0a0a0"/>
<line x1="442.7" y1="574.1" x2="441.8" y2="575.4" stroke="#a0a0a0" stroke-width="0.9"/>
<circle cx="153.3" cy="588.4" r="0.66" fill="#b8b8b8"/>
<circle cx="199.5" cy="560.6" r="0.70" fill="#aaaaaa"/>
<line x1="418.7" y1="570.6" x2="418.1" y2="572.9" stroke="#aaaaaa" stroke-width="0.9"/>
<line x1="210.6" y1="566.3" x2="212.2" y2="566.4" stroke="#a0a0a0" stroke-width="0.9"/>
<circle cx="608.9" cy="579.6" r="0.82" fill="#959595"/>
<line x1="181.9" y1="560.5" x2="183.7" y2="561.4" stroke="#b8b8b8" stroke-width="0.9"/>
<line x1="284.8" y1="561.3" x2="285.9" y2="563.4" stroke="#a0a0a0" stroke-width="0.9"/>
<line x1="337.9" y1="562.2" x2="338.4" y2="564.9" stroke="#a0a0a0" stroke-width="0.9"/>
<line x1="272.2" y1="561.8" x2="274.0" y2="564.5" stroke="#aaaaaa" stroke-width="0.9"/>
<line x1="545.3" y1="572.1" x2="543.6" y2="572.3" stroke="#959595" stroke-width="0.9"/>
<circle cx="478.4" cy="587.0" r="0.62" fill="#959595"/>
<line x1="573.9" y1="579.4" x2="575.7" y2="579.9" stroke="#aaaaaa" stroke-width="0.9"/>
<line x1="334.7" y1="560.3" x2="334.4" y2="562.0" stroke="#959595" stroke-width="0.9"/>
<circle cx="409.3" cy="575.4" r="0.88" fill="#a0a0a0"/>
<circle cx="355.5" cy="596.5" r="0.58" fill="#959595"/>
<circle cx="288.7" cy="569.5" r="0.64" fill="#a0a0a0"/>
<circle cx="227.1" cy="588.2" r="0.72" fill="#b8b8b8"/>
<circle cx="531.6" cy="582.2" r="0.56" fill="#aaaaaa"/>
<circle cx="322.1" cy="588.9" r="0.62" fill="#aaaaaa"/>
<line x1="381.4" y1="568.2" x2="378.0" y2="568.8" stroke="#aaaaaa" stroke-width="0.9"/>
<line x1="439.2" y1="577.6" x2="440.0" y2="580.0" stroke="#aaaaaa" stroke-width="0.9"/>
<line x1="212.5" y1="590.0" x2="212.2" y2="592.0" stroke="#a0a0a0" stroke-width="0.9"/>
<line x1="524.0" y1="575.4" x2="525.3" y2="577.3" stroke="#aaaaaa" stroke-width="0.9"/>
<line x1="193.5" y1="567.1" x2="196.2" y2="568.9" stroke="#b8b8b8" stroke-width="0.9"/>
<line x1="184.8" y1="596.6" x2="187.2" y2="598.2" stroke="#b8b8b8" stroke-width="0.9"/>
<line x1="194.4" y1="571.5" x2="195.8" y2="573.3" stroke="#959595" stroke-width="0.9"/>
<line x1="590.1" y1="591.0" x2="588.3" y2="591.4" stroke="#aaaaaa" stroke-width="0.9"/>
<line x1="328.7" y1="592.0" x2="331.6" y2="592.2" stroke="#959595" stroke-width="0.9"/>
<circle cx="375.0" cy="600.0" r="0.57" fill="#a0a0a0"/>
<line x1="207.5" y1="596.5" x2="208.3" y2="599.1" stroke="#a0a0a0" stroke-width="0.9"/>
<circle cx="359.6" cy="590.3" r="0.72" fill="#a0a0a0"/>
<circle cx="455.4" cy="597.7" r="0.73" fill="#aaaaaa"/>
<circle cx="497.4" cy="570.2" r="0.87" fill="#b8b8b8"/>
<line x1="205.9" y1="590.5" x2="203.5" y2="591.6" stroke="#a0a0a0" stroke-width="0.9"/>
<line x1="487.5" y1="599.0" x2="486.0" y2="600.1" stroke="#a0a0a0" stroke-width="0.9"/>
<circle cx="592.8" cy="590.0" r="0.90" fill="#959595"/>
<circle cx="448.6" cy="568.8" r="0.88" fill="#b8b8b8"/>
<line x1="356.4" y1="597.2" x2="356.3" y2="600.1" stroke="#959595" stroke-width="0.9"/>
<line x1="251.3" y1="586.9" x2="251.3" y2="588.8" stroke="#aaaaaa" stroke-width="0.9"/>
<circle cx="611.0" cy="593.0" r="0.72" fill="#aaaaaa"/>
<circle cx="619.3" cy="585.5" r="0.89" fill="#aaaaaa"/>
<circle cx="233.0" cy="573.9" r="0.55" fill="#b8b8b8"/>
<circle cx="482.8" cy="579.5" r="0.50" fill="#aaaaaa"/>
<line x1="485.3" y1="565.3" x2="488.0" y2="566.5" stroke="#b8b8b8" stroke-width="0.9"/>
<line x1="435.2" y1="569.6" x2="434.7" y2="572.6" stroke="#a0a0a0" stroke-width="0.9"/>
<circle cx="233.6" cy="586.7" r="0.84" fill="#959595"/>
<line x1="347.7" y1="568.3" x2="348.6" y2="570.0" stroke="#a0a0a0" stroke-width="0.9"/>
<circle cx="181.1" cy="571.2" r="0.68" fill="#b8b8b8"/>
<circle cx="206.5" cy="573.0" r="0.62" fill="#b8b8b8"/>
<circle cx="420.7" cy="561.8" r="0.53" fill="#959595"/>
<circle cx="497.7" cy="599.2" r="0.76" fill="#a0a0a0"/>
<line x1="613.1" y1="579.5" x2="616.5" y2="579.6" stroke="#b8b8b8" stroke-width="0.9"/>
<line x1="462.7" y1="585.1" x2="461.9" y2="586.6" stroke="#b8b8b8" stroke-width="0.9"/>
<circle cx="512.3" cy="561.0" r="0.62" fill="#aaaaaa"/>
<line x1="241.5" y1="585.5" x2="244.3" y2="586.5" stroke="#aaaaaa" stroke-width="0.9"/>
<circle cx="301.6" cy="584.7" r="0.63" fill="#b8b8b8"/>
<circle cx="329.6" cy="582.0" r="0.60" fill="#b8b8b8"/>
<line x1="171.9" y1="582.7" x2="168.6" y2="583.7" stroke="#959595" stroke-width="0.9"/>
<circle cx="390.3" cy="580.0" r="0.74" fill="#b8b8b8"/>
<circle cx="454.0" cy="565.7" r="0.68" fill="#aaaaaa"/>
<circle cx="619.4" cy="563.6" r="0.69" fill="#959595"/>
<circle cx="257.2" cy="574.9" r="0.56" fill="#959595"/>
<line x1="186.7" y1="562.2" x2="188.2" y2="562.5" stroke="#b8b8b8" stroke-width="0.9"/>
<line x1="612.8" y1="567.1" x2="614.2" y2="569.0" stroke="#959595" stroke-width="0.9"/>
<circle cx="423.5" cy="573.9" r="0.72" fill="#a0a0a0"/>
<circle cx="401.1" cy="577.1" r="0.89" fill="#aaaaaa"/>
<line x1="615.6" y1="584.8" x2="614.2" y2="586.4" stroke="#a0a0a0" stroke-width="0.9"/>
<circle cx="469.4" cy="582.6" r="0.69" fill="#b8b8b8"/>
<circle cx="464.0" cy="572.0" r="0.84" fill="#a0a0a0"/>
<line x1="259.2" y1="589.6" x2="258.2" y2="591.6" stroke="#aaaaaa" stroke-width="0.9"/>
<circle cx="431.9" cy="576.7" r="0.66" fill="#959595"/>
<line x1="207.1" y1="567.2" x2="209.5" y2="569.3" stroke="#a0a0a0" stroke-width="0.9"/>
<line x1="465.1" y1="567.5" x2="467.0" y2="569.1" stroke="#959595" stroke-width="0.9"/>
<line x1="412.9" y1="587.9" x2="410.3" y2="589.2" stroke="#a0a0a0" stroke-width="0.9"/>
<circle cx="537.8" cy="565.4" r="0.75" fill="#a0a0a0"/>
<circle cx="614.9" cy="580.6" r="0.72" fill="#959595"/>
<circle cx="618.6" cy="567.7" r="0.55" fill="#a0a0a0"/>
<circle cx="526.1" cy="562.3" r="0.52" fill="#b8b8b8"/>
<circle cx="490.3" cy="598.2" r="0.78" fill="#a0a0a0"/>
<line x1="357.3" y1="595.5" x2="356.7" y2="598.8" stroke="#aaaaaa" stroke-width="0.9"/>
<line x1="571.7" y1="566.7" x2="569.3" y2="568.4" stroke="#b8b8b8" stroke-width="0.9"/>
<circle cx="157.6" cy="570.2" r="0.79" fill="#b8b8b8"/>
<circle cx="173.0" cy="584.2" r="0.82" fill="#b8b8b8"/>
<line x1="206.5" y1="597.0" x2="207.7" y2="599.6" stroke="#b8b8b8" stroke-width="0.9"/>
<circle cx="162.3" cy="599.5" r="0.70" fill="#a0a0a0"/>
<circle cx="187.5" cy="570.3" r="0.85" fill="#b8b8b8"/>
<circle cx="474.7" cy="593.4" r="0.72" fill="#b8b8b8"/>
<line x1="484.3" y1="592.3" x2="487.8" y2="592.6" stroke="#a0a0a0" stroke-width="0.9"/>
<circle cx="386.8" cy="579.4" r="0.53" fill="#a0a0a0"/>
<circle cx="451.0" cy="585.8" r="0.89" fill="#959595"/>
<circle cx="486.0" cy="577.9" r="0.64" fill="#a0a0a0"/>
<circle cx="406.6" cy="572.5" r="0.58" fill="#a0a0a0"/>
<circle cx="546.8" cy="589.1" r="0.66" fill="#959595"/>
<circle cx="322.5" cy="560.2" r="0.59" fill="#b8b8b8"/>
<line x1="271.9" y1="595.1" x2="270.7" y2="596.4" stroke="#aaaaaa" stroke-width="0.9"/>
<line x1="337.3" y1="562.5" x2="336.7" y2="565.0" stroke="#b8b8b8" stroke-width="0.9"/>
<circle cx="613.3" cy="599.7" r="0.85" fill="#a0a0a0"/>
<line x1="525.2" y1="585.3" x2="522.8" y2="587.2" stroke="#b8b8b8" stroke-width="0.9"/>
<circle cx="266.7" cy="591.9" r="0.62" fill="#a0a0a0"/>
<circle cx="519.9" cy="589.6" r="0.64" fill="#aaaaaa"/>
<circle cx="417.5" cy="576.2" r="0.77" fill="#b8b8b8"/>
<circle cx="577.9" cy="591.3" r="0.82" fill="#aaaaaa"/>
<circle cx="632.4" cy="566.0" r="0.66" fill="#959595"/>
<line x1="342.9" y1="590.9" x2="345.6" y2="592.2" stroke="#a0a0a0" stroke-width="0.9"/>
<line x1="273.5" y1="582.9" x2="275.4" y2="583.3" stroke="#b8b8b8" stroke-width="0.9"/>
<circle cx="597.7" cy="583.4" r="0.89" fill="#b8b8b8"/>
<circle cx="324.1" cy="591.0" r="0.84" fill="#a0a0a0"/>
<line x1="305.9" y1="567.0" x2="303.9" y2="568.9" stroke="#a0a0a0" stroke-width="0.9"/>
<circle cx="266.2" cy="560.8" r="0.58" fill="#959595"/>
<line x1="442.6" y1="594.6" x2="443.8" y2="595.7" stroke="#aaaaaa" stroke-width="0.9"/>
<circle cx="214.2" cy="561.9" r="0.79" fill="#b8b8b8"/>
<line x1="154.4" y1="570.8" x2="153.0" y2="573.9" stroke="#a0a0a0" stroke-width="0.9"/>
<line x1="254.3" y1="573.1" x2="255.1" y2="575.8" stroke="#959595" stroke-width="0.9"/>
<circle cx="314.8" cy="562.3" r="0.53" fill="#a0a0a0"/>
<line x1="447.4" y1="591.0" x2="449.0" y2="592.8" stroke="#959595" stroke-width="0.9"/>
<circle cx="158.6" cy="597.0" r="0.52" fill="#b8b8b8"/>
<circle cx="447.9" cy="589.0" r="0.51" fill="#a0a0a0"/>
<line x1="253.5" y1="581.2" x2="251.5" y2="582.5" stroke="#b8b8b8" stroke-width="0.9"/>
<circle cx="411.6" cy="583.5" r="0.59" fill="#b8b8b8"/>
<circle cx="450.2" cy="592.5" r="0.81" fill="#a0a0a0"/>
<line x1="301.1" y1="590.9" x2="300.6" y2="593.1" stroke="#959595" stroke-width="0.9"/>
<circle cx="407.3" cy="571.0" r="0.54" fill="#959595"/>
<circle cx="542.0" cy="599.1" r="0.66" fill="#aaaaaa"/>
<line x1="623.9" y1="597.5" x2="626.4" y2="597.9" stroke="#a0a0a0" stroke-width="0.9"/>
<line x1="419.6" y1="567.3" x2="417.4" y2="569.7" stroke="#b8b8b8" stroke-width="0.9"/>
<line x1="571.7" y1="594.2" x2="573.1" y2="596.8" stroke="#a0a0a0" stroke-width="0.9"/>
<circle cx="364.8" cy="594.4" r="0.86" fill="#b8b8b8"/>
<line x1="339.5" y1="568.5" x2="342.3" y2="569.5" stroke="#a0a0a0" stroke-width="0.9"/>
<circle cx="183.5" cy="585.8" r="0.52" fill="#b8b8b8"/>
<line x1="423.9" y1="576.4" x2="425.5" y2="576.5" stroke="#aaaaaa" stroke-width="0.9"/>
<circle cx="493.9" cy="569.7" r="0.80" fill="#b8b8b8"/>
<line x1="461.8" y1="571.9" x2="458.7" y2="572.1" stroke="#aaaaaa" stroke-width="0.9"/>
<line x1="382.1" y1="597.4" x2="380.3" y2="598.4" stroke="#aaaaaa" stroke-width="0.9"/>
<line x1="311.8" y1="579.4" x2="313.3" y2="581.7" stroke="#aaaaaa" stroke-width="0.9"/>
<circle cx="613.2" cy="568.5" r="0.84" fill="#aaaaaa"/>
<line x1="506.5" y1="561.8" x2="509.2" y2="563.6" stroke="#959595" stroke-width="0.9"/>
<circle cx="631.5" cy="571.9" r="0.56" fill="#a0a0a0"/>
<circle cx="591.9" cy="565.3" r="0.54" fill="#b8b8b8"/>
<circle cx="233.3" cy="587.3" r="0.76" fill="#b8b8b8"/>
<circle cx="472.7" cy="575.9" r="0.73" fill="#a0a0a0"/>
<circle cx="249.1" cy="585.1" r="0.70" fill="#aaaaaa"/>
<circle cx="263.6" cy="577.2" r="0.52" fill="#a0a0a0"/>
<circle cx="582.9" cy="562.6" r="0.89" fill="#959595"/>
<circle cx="405.3" cy="560.1" r="0.75" fill="#aaaaaa"/>
<circle cx="414.9" cy="599.7" r="0.88" fill="#959595"/>
<line x1="189.3" y1="598.8" x2="187.9" y2="600.3" stroke="#aaaaaa" stroke-width="0.9"/>
<circle cx="237.4" cy="570.6" r="0.58" fill="#a0a0a0"/>
<line x1="175.1" y1="591.6" x2="177.9" y2="591.7" stroke="#b8b8b8" stroke-width="0.9"/>
<circle cx="466.8" cy="581.8" r="0.89" fill="#959595"/>
<circle cx="573.3" cy="588.7" r="0.72" fill="#b8b8b8"/>
<line x1="336.6" y1="566.0" x2="333.9" y2="568.0" stroke="#959595" stroke-width="0.9"/>
<circle cx="458.1" cy="569.6" r="0.78" fill="#b8b8b8"/>
<line x1="503.9" y1="599.6" x2="506.5" y2="600.4" stroke="#a0a0a0" stroke-width="0.9"/>
<circle cx="168.2" cy="588.7" r="0.77" fill="#b8b8b8"/>
<circle cx="365.2" cy="586.7" r="0.69" fill="#a0a0a0"/>
<circle cx="464.0" cy="578.8" r="0.59" fill="#959595"/>
<circle cx="455.4" cy="589.7" r="0.66" fill="#a0a0a0"/>
<line x1="405.7" y1="584.5" x2="408.7" y2="585.2" stroke="#b8b8b8" stroke-width="0.9"/>
<line x1="472.2" y1="597.0" x2="469.8" y2="597.6" stroke="#b8b8b8" stroke-width="0.9"/>
<line x1="150.0" y1="602.5" x2="636.0" y2="602.5" stroke="#777" stroke-width="1.2" />
<line x1="150.0" y1="605.2" x2="636.0" y2="605.2" stroke="#8a8a8a" stroke-width="1.0" />
<line x1="161.7" y1="603.8" x2="190.8" y2="603.8" stroke="#5a5a5a" stroke-width="2.6" />
<line x1="224.0" y1="603.8" x2="257.0" y2="603.8" stroke="#5a5a5a" stroke-width="2.6" />
<line x1="287.0" y1="603.8" x2="314.7" y2="603.8" stroke="#5a5a5a" stroke-width="2.6" />
<line x1="345.0" y1="603.8" x2="373.6" y2="603.8" stroke="#5a5a5a" stroke-width="2.6" />
<line x1="404.0" y1="603.8" x2="433.0" y2="603.8" stroke="#5a5a5a" stroke-width="2.6" />
<line x1="458.8" y1="603.8" x2="482.8" y2="603.8" stroke="#5a5a5a" stroke-width="2.6" />
<line x1="511.0" y1="603.8" x2="538.0" y2="603.8" stroke="#5a5a5a" stroke-width="2.6" />
<line x1="559.0" y1="603.8" x2="587.0" y2="603.8" stroke="#5a5a5a" stroke-width="2.6" />
<line x1="614.8" y1="603.8" x2="633.8" y2="603.8" stroke="#5a5a5a" stroke-width="2.6" />
<polyline fill="none" stroke="#767676" stroke-width="1.1" points="150.0,621.6 159.0,605.4 171.4,627.8 183.9,605.4 196.3,627.8 208.8,605.4 221.2,627.8 233.7,605.4 246.2,627.8 258.6,605.4 271.1,627.8 283.5,605.4 295.9,627.8 308.4,605.4 320.8,627.8 333.3,605.4 345.7,627.8 358.2,605.4 370.6,627.8 383.1,605.4 395.5,627.8 408.0,605.4 420.4,627.8 432.9,605.4 445.3,627.8 457.8,605.4 470.2,627.8 482.7,605.4 495.1,627.8 507.6,605.4 520.0,627.8 532.5,605.4 544.9,627.8 557.4,605.4 569.8,627.8 582.3,605.4 594.7,627.8 607.2,605.4 619.6,627.8 632.1,605.4"/>
<line x1="150.0" y1="628.6" x2="1002.0" y2="628.6" stroke="#7a7a7a" stroke-width="1.2" />
<line x1="150.0" y1="632.6" x2="1002.0" y2="632.6" stroke="#7a7a7a" stroke-width="1.2" />
<line x1="189.0" y1="630.6" x2="262.0" y2="630.6" stroke="#585858" stroke-width="3.4" />
<line x1="336.8" y1="630.6" x2="409.8" y2="630.6" stroke="#585858" stroke-width="3.4" />
<line x1="484.6" y1="630.6" x2="557.6" y2="630.6" stroke="#585858" stroke-width="3.4" />
<line x1="632.4" y1="630.6" x2="705.4" y2="630.6" stroke="#585858" stroke-width="3.4" />
<line x1="780.2" y1="630.6" x2="853.2" y2="630.6" stroke="#585858" stroke-width="3.4" />
<line x1="928.0" y1="630.6" x2="1001.0" y2="630.6" stroke="#585858" stroke-width="3.4" />
<line x1="150.0" y1="665.0" x2="182.0" y2="633.0" stroke="#8c8c8c" stroke-width="1.05" />
<line x1="150.0" y1="711.9" x2="228.9" y2="633.0" stroke="#8c8c8c" stroke-width="1.05" />
<line x1="150.0" y1="758.8" x2="275.8" y2="633.0" stroke="#8c8c8c" stroke-width="1.05" />
<line x1="154.2" y1="801.5" x2="322.7" y2="633.0" stroke="#8c8c8c" stroke-width="1.05" />
<line x1="201.1" y1="801.5" x2="369.6" y2="633.0" stroke="#8c8c8c" stroke-width="1.05" />
<line x1="248.0" y1="801.5" x2="416.5" y2="633.0" stroke="#8c8c8c" stroke-width="1.05" />
<line x1="294.9" y1="801.5" x2="463.4" y2="633.0" stroke="#8c8c8c" stroke-width="1.05" />
<line x1="341.8" y1="801.5" x2="510.3" y2="633.0" stroke="#8c8c8c" stroke-width="1.05" />
<line x1="388.7" y1="801.5" x2="557.2" y2="633.0" stroke="#8c8c8c" stroke-width="1.05" />
<line x1="435.6" y1="801.5" x2="604.1" y2="633.0" stroke="#8c8c8c" stroke-width="1.05" />
<line x1="482.5" y1="801.5" x2="651.0" y2="633.0" stroke="#8c8c8c" stroke-width="1.05" />
<line x1="529.4" y1="801.5" x2="697.9" y2="633.0" stroke="#8c8c8c" stroke-width="1.05" />
<line x1="576.3" y1="801.5" x2="744.8" y2="633.0" stroke="#8c8c8c" stroke-width="1.05" />
<line x1="623.2" y1="801.5" x2="791.7" y2="633.0" stroke="#8c8c8c" stroke-width="1.05" />
<line x1="670.1" y1="801.5" x2="838.6" y2="633.0" stroke="#8c8c8c" stroke-width="1.05" />
<line x1="717.0" y1="801.5" x2="885.5" y2="633.0" stroke="#8c8c8c" stroke-width="1.05" />
<line x1="763.9" y1="801.5" x2="926.0" y2="639.4" stroke="#8c8c8c" stroke-width="1.05" />
<line x1="810.8" y1="801.5" x2="926.0" y2="686.3" stroke="#8c8c8c" stroke-width="1.05" />
<line x1="857.7" y1="801.5" x2="926.0" y2="733.2" stroke="#8c8c8c" stroke-width="1.05" />
<line x1="904.6" y1="801.5" x2="926.0" y2="780.1" stroke="#8c8c8c" stroke-width="1.05" />
<line x1="150.0" y1="641.6" x2="158.6" y2="633.0" stroke="#b4b4b4" stroke-width="1.0" stroke-dasharray="16 14"/>
<line x1="150.0" y1="688.5" x2="205.5" y2="633.0" stroke="#b4b4b4" stroke-width="1.0" stroke-dasharray="16 14"/>
<line x1="150.0" y1="735.4" x2="252.4" y2="633.0" stroke="#b4b4b4" stroke-width="1.0" stroke-dasharray="16 14"/>
<line x1="150.0" y1="782.2" x2="299.2" y2="633.0" stroke="#b4b4b4" stroke-width="1.0" stroke-dasharray="16 14"/>
<line x1="177.7" y1="801.5" x2="346.2" y2="633.0" stroke="#b4b4b4" stroke-width="1.0" stroke-dasharray="16 14"/>
<line x1="224.5" y1="801.5" x2="393.0" y2="633.0" stroke="#b4b4b4" stroke-width="1.0" stroke-dasharray="16 14"/>
<line x1="271.5" y1="801.5" x2="440.0" y2="633.0" stroke="#b4b4b4" stroke-width="1.0" stroke-dasharray="16 14"/>
<line x1="318.3" y1="801.5" x2="486.8" y2="633.0" stroke="#b4b4b4" stroke-width="1.0" stroke-dasharray="16 14"/>
<line x1="365.2" y1="801.5" x2="533.8" y2="633.0" stroke="#b4b4b4" stroke-width="1.0" stroke-dasharray="16 14"/>
<line x1="412.2" y1="801.5" x2="580.7" y2="633.0" stroke="#b4b4b4" stroke-width="1.0" stroke-dasharray="16 14"/>
<line x1="459.0" y1="801.5" x2="627.5" y2="633.0" stroke="#b4b4b4" stroke-width="1.0" stroke-dasharray="16 14"/>
<line x1="506.0" y1="801.5" x2="674.5" y2="633.0" stroke="#b4b4b4" stroke-width="1.0" stroke-dasharray="16 14"/>
<line x1="552.8" y1="801.5" x2="721.3" y2="633.0" stroke="#b4b4b4" stroke-width="1.0" stroke-dasharray="16 14"/>
<line x1="599.8" y1="801.5" x2="768.2" y2="633.0" stroke="#b4b4b4" stroke-width="1.0" stroke-dasharray="16 14"/>
<line x1="646.7" y1="801.5" x2="815.2" y2="633.0" stroke="#b4b4b4" stroke-width="1.0" stroke-dasharray="16 14"/>
<line x1="693.6" y1="801.5" x2="862.1" y2="633.0" stroke="#b4b4b4" stroke-width="1.0" stroke-dasharray="16 14"/>
<line x1="740.5" y1="801.5" x2="909.0" y2="633.0" stroke="#b4b4b4" stroke-width="1.0" stroke-dasharray="16 14"/>
<line x1="787.3" y1="801.5" x2="926.0" y2="662.8" stroke="#b4b4b4" stroke-width="1.0" stroke-dasharray="16 14"/>
<line x1="834.2" y1="801.5" x2="926.0" y2="709.8" stroke="#b4b4b4" stroke-width="1.0" stroke-dasharray="16 14"/>
<line x1="881.2" y1="801.5" x2="926.0" y2="756.7" stroke="#b4b4b4" stroke-width="1.0" stroke-dasharray="16 14"/>
<line x1="148.0" y1="801.6" x2="926.0" y2="801.6" stroke="#7a7a7a" stroke-width="1.15" />
<line x1="926.0" y1="633.0" x2="926.0" y2="1271.0" stroke="#7a7a7a" stroke-width="1.15" />
<polyline fill="none" stroke="#7a7a7a" stroke-width="1.15" points="945.8,633.0 1000.5,663.8 926.5,705.6 1000.5,747.5 926.5,789.4 1000.5,831.4 926.5,873.2 1000.5,915.1 926.5,957.0 1000.5,999.0 926.5,1040.8 1000.5,1082.8 926.5,1124.6 1000.5,1166.5 926.5,1208.4 1000.5,1250.3 963.5,1271.0"/>
<line x1="658.0" y1="802.0" x2="658.0" y2="1271.0" stroke="#7a7a7a" stroke-width="1.15" />
<line x1="658.0" y1="805.0" x2="661.0" y2="802.0" stroke="#929292" stroke-width="1.0" />
<line x1="658.0" y1="852.0" x2="708.0" y2="802.0" stroke="#929292" stroke-width="1.0" />
<line x1="658.0" y1="899.0" x2="755.0" y2="802.0" stroke="#929292" stroke-width="1.0" />
<line x1="658.0" y1="946.0" x2="802.0" y2="802.0" stroke="#929292" stroke-width="1.0" />
<line x1="658.0" y1="993.0" x2="849.0" y2="802.0" stroke="#929292" stroke-width="1.0" />
<line x1="658.0" y1="1040.0" x2="896.0" y2="802.0" stroke="#929292" stroke-width="1.0" />
<line x1="658.0" y1="1087.0" x2="926.0" y2="819.0" stroke="#929292" stroke-width="1.0" />
<line x1="658.0" y1="1134.0" x2="926.0" y2="866.0" stroke="#929292" stroke-width="1.0" />
<line x1="658.0" y1="1181.0" x2="926.0" y2="913.0" stroke="#929292" stroke-width="1.0" />
<line x1="658.0" y1="1228.0" x2="926.0" y2="960.0" stroke="#929292" stroke-width="1.0" />
<line x1="662.0" y1="1271.0" x2="926.0" y2="1007.0" stroke="#929292" stroke-width="1.0" />
<line x1="709.0" y1="1271.0" x2="926.0" y2="1054.0" stroke="#929292" stroke-width="1.0" />
<line x1="756.0" y1="1271.0" x2="926.0" y2="1101.0" stroke="#929292" stroke-width="1.0" />
<line x1="803.0" y1="1271.0" x2="926.0" y2="1148.0" stroke="#929292" stroke-width="1.0" />
<line x1="850.0" y1="1271.0" x2="926.0" y2="1195.0" stroke="#929292" stroke-width="1.0" />
<line x1="897.0" y1="1271.0" x2="926.0" y2="1242.0" stroke="#929292" stroke-width="1.0" />
<line x1="658.0" y1="828.5" x2="684.5" y2="802.0" stroke="#b4b4b4" stroke-width="1.0" stroke-dasharray="16 14"/>
<line x1="658.0" y1="875.5" x2="731.5" y2="802.0" stroke="#b4b4b4" stroke-width="1.0" stroke-dasharray="16 14"/>
<line x1="658.0" y1="922.5" x2="778.5" y2="802.0" stroke="#b4b4b4" stroke-width="1.0" stroke-dasharray="16 14"/>
<line x1="658.0" y1="969.5" x2="825.5" y2="802.0" stroke="#b4b4b4" stroke-width="1.0" stroke-dasharray="16 14"/>
<line x1="658.0" y1="1016.5" x2="872.5" y2="802.0" stroke="#b4b4b4" stroke-width="1.0" stroke-dasharray="16 14"/>
<line x1="658.0" y1="1063.5" x2="919.5" y2="802.0" stroke="#b4b4b4" stroke-width="1.0" stroke-dasharray="16 14"/>
<line x1="658.0" y1="1110.5" x2="926.0" y2="842.5" stroke="#b4b4b4" stroke-width="1.0" stroke-dasharray="16 14"/>
<line x1="658.0" y1="1157.5" x2="926.0" y2="889.5" stroke="#b4b4b4" stroke-width="1.0" stroke-dasharray="16 14"/>
<line x1="658.0" y1="1204.5" x2="926.0" y2="936.5" stroke="#b4b4b4" stroke-width="1.0" stroke-dasharray="16 14"/>
<line x1="658.0" y1="1251.5" x2="926.0" y2="983.5" stroke="#b4b4b4" stroke-width="1.0" stroke-dasharray="16 14"/>
<line x1="685.5" y1="1271.0" x2="926.0" y2="1030.5" stroke="#b4b4b4" stroke-width="1.0" stroke-dasharray="16 14"/>
<line x1="732.5" y1="1271.0" x2="926.0" y2="1077.5" stroke="#b4b4b4" stroke-width="1.0" stroke-dasharray="16 14"/>
<line x1="779.5" y1="1271.0" x2="926.0" y2="1124.5" stroke="#b4b4b4" stroke-width="1.0" stroke-dasharray="16 14"/>
<line x1="826.5" y1="1271.0" x2="926.0" y2="1171.5" stroke="#b4b4b4" stroke-width="1.0" stroke-dasharray="16 14"/>
<line x1="873.5" y1="1271.0" x2="926.0" y2="1218.5" stroke="#b4b4b4" stroke-width="1.0" stroke-dasharray="16 14"/>
<line x1="920.5" y1="1271.0" x2="926.0" y2="1265.5" stroke="#b4b4b4" stroke-width="1.0" stroke-dasharray="16 14"/>
<polyline fill="none" stroke="#7a7a7a" stroke-width="1.15" points="150.0,950.0 233.7,801.6 318.2,950.0 402.7,801.6 488.0,950.0 573.0,801.6 657.0,950.0"/>
<line x1="150.0" y1="950.0" x2="658.0" y2="950.0" stroke="#7a7a7a" stroke-width="1.15" />
<line x1="148.0" y1="1020.6" x2="658.0" y2="1020.6" stroke="#7a7a7a" stroke-width="1.15" />
<ellipse cx="180" cy="976" rx="10" ry="8.5" fill="none" stroke="#7e7e7e" stroke-opacity="1" stroke-width="1.25"/>
<ellipse cx="176" cy="968" rx="4" ry="3.4" fill="none" stroke="#7e7e7e" stroke-opacity="1" stroke-width="1.25"/>
<ellipse cx="233.7" cy="969" rx="9.5" ry="8.1" fill="none" stroke="#7e7e7e" stroke-opacity="1" stroke-width="1.25"/>
<ellipse cx="230" cy="988" rx="8" ry="6.8" fill="none" stroke="#7e7e7e" stroke-opacity="0.5" stroke-width="1.25"/>
<ellipse cx="276" cy="967.6" rx="7" ry="6.0" fill="none" stroke="#7e7e7e" stroke-opacity="1" stroke-width="1.25"/>
<ellipse cx="279" cy="979" rx="4" ry="3.4" fill="none" stroke="#7e7e7e" stroke-opacity="1" stroke-width="1.25"/>
<ellipse cx="266" cy="966" rx="3" ry="2.5" fill="none" stroke="#7e7e7e" stroke-opacity="1" stroke-width="1.25"/>
<ellipse cx="324.8" cy="973" rx="4" ry="3.4" fill="none" stroke="#7e7e7e" stroke-opacity="1" stroke-width="1.25"/>
<ellipse cx="448" cy="973" rx="11" ry="9.3" fill="none" stroke="#7e7e7e" stroke-opacity="1" stroke-width="1.25"/>
<ellipse cx="439" cy="979" rx="5" ry="4.2" fill="none" stroke="#7e7e7e" stroke-opacity="1" stroke-width="1.25"/>
<ellipse cx="546.8" cy="969" rx="6" ry="5.1" fill="none" stroke="#7e7e7e" stroke-opacity="1" stroke-width="1.25"/>
<ellipse cx="622.7" cy="970.5" rx="10" ry="8.5" fill="none" stroke="#7e7e7e" stroke-opacity="0.8" stroke-width="1.25"/>
<ellipse cx="155.8" cy="1007.7" rx="3.5" ry="3.0" fill="none" stroke="#7e7e7e" stroke-opacity="1" stroke-width="1.25"/>
<ellipse cx="230" cy="1002" rx="3" ry="2.5" fill="none" stroke="#7e7e7e" stroke-opacity="1" stroke-width="1.25"/>
<ellipse cx="304.7" cy="1002" rx="3" ry="2.5" fill="none" stroke="#7e7e7e" stroke-opacity="1" stroke-width="1.25"/>
<ellipse cx="347.7" cy="1000.5" rx="11" ry="9.3" fill="none" stroke="#7e7e7e" stroke-opacity="0.8" stroke-width="1.25"/>
<ellipse cx="337.7" cy="1004.8" rx="5" ry="4.2" fill="none" stroke="#7e7e7e" stroke-opacity="1" stroke-width="1.25"/>
<ellipse cx="360.6" cy="990.5" rx="4" ry="3.4" fill="none" stroke="#7e7e7e" stroke-opacity="1" stroke-width="1.25"/>
<ellipse cx="420.7" cy="1002" rx="9.5" ry="8.1" fill="none" stroke="#7e7e7e" stroke-opacity="1" stroke-width="1.25"/>
<ellipse cx="416" cy="992" rx="3" ry="2.5" fill="none" stroke="#7e7e7e" stroke-opacity="1" stroke-width="1.25"/>
<ellipse cx="496.6" cy="996" rx="12" ry="10.2" fill="none" stroke="#7e7e7e" stroke-opacity="0.5" stroke-width="1.25"/>
<ellipse cx="574" cy="999" rx="8.5" ry="7.2" fill="none" stroke="#7e7e7e" stroke-opacity="0.8" stroke-width="1.25"/>
<ellipse cx="571" cy="987.6" rx="3.5" ry="3.0" fill="none" stroke="#7e7e7e" stroke-opacity="1" stroke-width="1.25"/>
<ellipse cx="539.6" cy="987.6" rx="3.5" ry="3.0" fill="none" stroke="#7e7e7e" stroke-opacity="1" stroke-width="1.25"/>
<ellipse cx="625" cy="1003" rx="3" ry="2.5" fill="none" stroke="#7e7e7e" stroke-opacity="1" stroke-width="1.25"/>
<ellipse cx="605" cy="968" rx="3" ry="2.5" fill="none" stroke="#7e7e7e" stroke-opacity="1" stroke-width="1.25"/>
<ellipse cx="640" cy="974" rx="4" ry="3.4" fill="none" stroke="#7e7e7e" stroke-opacity="0.7" stroke-width="1.25"/>
<circle cx="513.6" cy="986.8" r="0.9" fill="#999"/>
<path d="M225.6,1011.6 l-3.0,-0.4" stroke="#a0a0a0" stroke-width="1.1"/>
<circle cx="417.2" cy="1004.6" r="0.9" fill="#999"/>
<path d="M563.5,983.1 l1.4,-2.7" stroke="#a0a0a0" stroke-width="1.1"/>
<circle cx="599.3" cy="1007.9" r="1.0" fill="#999"/>
<circle cx="568.6" cy="1004.9" r="0.9" fill="#999"/>
<circle cx="280.0" cy="961.3" r="1.3" fill="#999"/>
<circle cx="414.1" cy="982.6" r="1.0" fill="#999"/>
<circle cx="650.5" cy="997.4" r="1.1" fill="#999"/>
<circle cx="551.7" cy="1001.3" r="1.2" fill="#999"/>
<circle cx="337.4" cy="986.8" r="1.0" fill="#999"/>
<circle cx="324.0" cy="978.2" r="0.9" fill="#999"/>
<circle cx="438.6" cy="958.5" r="1.2" fill="#999"/>
<circle cx="291.5" cy="974.8" r="1.3" fill="#999"/>
<path d="M200.4,993.8 l0.9,2.9" stroke="#a0a0a0" stroke-width="1.1"/>
<path d="M365.3,1003.3 l-2.1,2.2" stroke="#a0a0a0" stroke-width="1.1"/>
<circle cx="176.8" cy="982.0" r="1.2" fill="#999"/>
<path d="M301.7,979.9 l1.1,-2.8" stroke="#a0a0a0" stroke-width="1.1"/>
<path d="M330.1,978.5 l2.7,-1.4" stroke="#a0a0a0" stroke-width="1.1"/>
<path d="M250.2,1014.3 l-2.1,2.2" stroke="#a0a0a0" stroke-width="1.1"/>
<circle cx="485.8" cy="975.1" r="1.3" fill="#999"/>
<circle cx="343.6" cy="987.1" r="1.3" fill="#999"/>
<path d="M531.2,956.6 l-2.9,0.7" stroke="#a0a0a0" stroke-width="1.1"/>
<circle cx="384.7" cy="1006.2" r="1.1" fill="#999"/>
<circle cx="597.5" cy="981.8" r="1.1" fill="#999"/>
<path d="M564.9,995.9 l-2.4,1.7" stroke="#a0a0a0" stroke-width="1.1"/>
<path d="M175.2,996.5 l0.4,-3.0" stroke="#a0a0a0" stroke-width="1.1"/>
<circle cx="537.6" cy="962.2" r="0.8" fill="#999"/>
<circle cx="561.3" cy="961.2" r="1.3" fill="#999"/>
<path d="M435.5,958.4 l-0.7,-2.9" stroke="#a0a0a0" stroke-width="1.1"/>
<path d="M394.9,958.3 l-2.6,1.5" stroke="#a0a0a0" stroke-width="1.1"/>
<path d="M445.2,1015.9 l2.1,-2.2" stroke="#a0a0a0" stroke-width="1.1"/>
<path d="M227.3,975.4 l3.0,0.1" stroke="#a0a0a0" stroke-width="1.1"/>
<circle cx="646.4" cy="971.8" r="1.0" fill="#999"/>
<path d="M281.7,1007.4 l-3.0,-0.2" stroke="#a0a0a0" stroke-width="1.1"/>
<circle cx="363.8" cy="958.1" r="1.3" fill="#999"/>
<circle cx="553.6" cy="1007.3" r="0.9" fill="#999"/>
<circle cx="180.9" cy="987.7" r="1.1" fill="#999"/>
<circle cx="398.0" cy="990.6" r="1.3" fill="#999"/>
<path d="M254.5,1011.1 l2.8,0.9" stroke="#a0a0a0" stroke-width="1.1"/>
<circle cx="311.2" cy="987.5" r="1.1" fill="#999"/>
<path d="M315.8,971.7 l-0.8,2.9" stroke="#a0a0a0" stroke-width="1.1"/>
<path d="M508.1,1004.0 l-2.9,0.8" stroke="#a0a0a0" stroke-width="1.1"/>
<path d="M619.6,982.1 l2.8,1.1" stroke="#a0a0a0" stroke-width="1.1"/>
<circle cx="370.6" cy="994.0" r="1.3" fill="#999"/>
<circle cx="190.7" cy="991.4" r="1.4" fill="#999"/>
<circle cx="433.8" cy="1003.8" r="1.2" fill="#999"/>
<circle cx="490.5" cy="973.0" r="1.3" fill="#999"/>
<circle cx="227.5" cy="1011.0" r="0.9" fill="#999"/>
<path d="M202.3,1002.8 l-2.6,1.5" stroke="#a0a0a0" stroke-width="1.1"/>
<path d="M482.5,970.7 l-1.2,-2.8" stroke="#a0a0a0" stroke-width="1.1"/>
<path d="M232.0,958.5 l2.9,0.8" stroke="#a0a0a0" stroke-width="1.1"/>
<circle cx="570.6" cy="972.9" r="1.1" fill="#999"/>
<circle cx="313.4" cy="989.2" r="1.3" fill="#999"/>
<circle cx="316.2" cy="1006.3" r="1.3" fill="#999"/>
<circle cx="642.1" cy="978.9" r="1.0" fill="#999"/>
<path d="M473.5,968.6 l2.5,1.7" stroke="#a0a0a0" stroke-width="1.1"/>
<circle cx="385.8" cy="999.4" r="1.2" fill="#999"/>
<circle cx="211.8" cy="1005.5" r="1.4" fill="#999"/>
<path d="M650.1,1012.3 l-0.8,2.9" stroke="#a0a0a0" stroke-width="1.1"/>
<line x1="453.0" y1="1271.0" x2="1203.0" y2="1271.0" stroke="#7a7a7a" stroke-width="1.5" />
<line x1="453.5" y1="1271.0" x2="453.0" y2="1330.5" stroke="#7a7a7a" stroke-width="1.4" />
<line x1="1203.0" y1="1271.0" x2="1203.0" y2="1330.5" stroke="#7a7a7a" stroke-width="1.4" />
<line x1="453.5" y1="1282.2" x2="464.7" y2="1271.0" stroke="#8c8c8c" stroke-width="1.05" />
<line x1="453.5" y1="1329.0" x2="511.5" y2="1271.0" stroke="#8c8c8c" stroke-width="1.05" />
<line x1="499.3" y1="1330.0" x2="558.3" y2="1271.0" stroke="#8c8c8c" stroke-width="1.05" />
<line x1="546.1" y1="1330.0" x2="605.1" y2="1271.0" stroke="#8c8c8c" stroke-width="1.05" />
<line x1="592.9" y1="1330.0" x2="651.9" y2="1271.0" stroke="#8c8c8c" stroke-width="1.05" />
<line x1="639.7" y1="1330.0" x2="698.7" y2="1271.0" stroke="#8c8c8c" stroke-width="1.05" />
<line x1="686.5" y1="1330.0" x2="745.5" y2="1271.0" stroke="#8c8c8c" stroke-width="1.05" />
<line x1="733.3" y1="1330.0" x2="792.3" y2="1271.0" stroke="#8c8c8c" stroke-width="1.05" />
<line x1="780.1" y1="1330.0" x2="839.1" y2="1271.0" stroke="#8c8c8c" stroke-width="1.05" />
<line x1="826.9" y1="1330.0" x2="885.9" y2="1271.0" stroke="#8c8c8c" stroke-width="1.05" />
<line x1="873.7" y1="1330.0" x2="932.7" y2="1271.0" stroke="#8c8c8c" stroke-width="1.05" />
<line x1="920.5" y1="1330.0" x2="979.5" y2="1271.0" stroke="#8c8c8c" stroke-width="1.05" />
<line x1="967.3" y1="1330.0" x2="1026.3" y2="1271.0" stroke="#8c8c8c" stroke-width="1.05" />
<line x1="1014.1" y1="1330.0" x2="1073.1" y2="1271.0" stroke="#8c8c8c" stroke-width="1.05" />
<line x1="1060.9" y1="1330.0" x2="1119.9" y2="1271.0" stroke="#8c8c8c" stroke-width="1.05" />
<line x1="1107.7" y1="1330.0" x2="1166.7" y2="1271.0" stroke="#8c8c8c" stroke-width="1.05" />
<line x1="1154.5" y1="1330.0" x2="1203.0" y2="1281.5" stroke="#8c8c8c" stroke-width="1.05" />
<line x1="1201.3" y1="1330.0" x2="1203.0" y2="1328.3" stroke="#8c8c8c" stroke-width="1.05" />
<line x1="453.5" y1="1305.6" x2="488.1" y2="1271.0" stroke="#b4b4b4" stroke-width="1.0" stroke-dasharray="16 14"/>
<line x1="475.9" y1="1330.0" x2="534.9" y2="1271.0" stroke="#b4b4b4" stroke-width="1.0" stroke-dasharray="16 14"/>
<line x1="522.7" y1="1330.0" x2="581.7" y2="1271.0" stroke="#b4b4b4" stroke-width="1.0" stroke-dasharray="16 14"/>
<line x1="569.5" y1="1330.0" x2="628.5" y2="1271.0" stroke="#b4b4b4" stroke-width="1.0" stroke-dasharray="16 14"/>
<line x1="616.3" y1="1330.0" x2="675.3" y2="1271.0" stroke="#b4b4b4" stroke-width="1.0" stroke-dasharray="16 14"/>
<line x1="663.1" y1="1330.0" x2="722.1" y2="1271.0" stroke="#b4b4b4" stroke-width="1.0" stroke-dasharray="16 14"/>
<line x1="709.9" y1="1330.0" x2="768.9" y2="1271.0" stroke="#b4b4b4" stroke-width="1.0" stroke-dasharray="16 14"/>
<line x1="756.7" y1="1330.0" x2="815.7" y2="1271.0" stroke="#b4b4b4" stroke-width="1.0" stroke-dasharray="16 14"/>
<line x1="803.5" y1="1330.0" x2="862.5" y2="1271.0" stroke="#b4b4b4" stroke-width="1.0" stroke-dasharray="16 14"/>
<line x1="850.3" y1="1330.0" x2="909.3" y2="1271.0" stroke="#b4b4b4" stroke-width="1.0" stroke-dasharray="16 14"/>
<line x1="897.1" y1="1330.0" x2="956.1" y2="1271.0" stroke="#b4b4b4" stroke-width="1.0" stroke-dasharray="16 14"/>
<line x1="943.9" y1="1330.0" x2="1002.9" y2="1271.0" stroke="#b4b4b4" stroke-width="1.0" stroke-dasharray="16 14"/>
<line x1="990.7" y1="1330.0" x2="1049.7" y2="1271.0" stroke="#b4b4b4" stroke-width="1.0" stroke-dasharray="16 14"/>
<line x1="1037.5" y1="1330.0" x2="1096.5" y2="1271.0" stroke="#b4b4b4" stroke-width="1.0" stroke-dasharray="16 14"/>
<line x1="1084.3" y1="1330.0" x2="1143.3" y2="1271.0" stroke="#b4b4b4" stroke-width="1.0" stroke-dasharray="16 14"/>
<line x1="1131.1" y1="1330.0" x2="1190.1" y2="1271.0" stroke="#b4b4b4" stroke-width="1.0" stroke-dasharray="16 14"/>
<line x1="1177.9" y1="1330.0" x2="1203.0" y2="1304.9" stroke="#b4b4b4" stroke-width="1.0" stroke-dasharray="16 14"/>
<circle cx="648.8" cy="117.0" r="1.0" fill="#8e8e8e"/>
<circle cx="648.0" cy="119.1" r="1.0" fill="#8e8e8e"/>
<path d="M650.4,124.9 a2,2 0 1 1 -2.2,-1.2" fill="none" stroke="#8e8e8e" stroke-width="1"/>
<ellipse cx="648.2" cy="128.1" rx="1.6" ry="2.5" fill="none" stroke="#8e8e8e" stroke-width="1.15"/>
<ellipse cx="652.7" cy="130.0" rx="1.8" ry="1.9" fill="none" stroke="#9a9a9a" stroke-width="1.15"/>
<path d="M649.1,134.1 a2,2 0 1 1 -0.4,-2.5" fill="none" stroke="#8e8e8e" stroke-width="1"/>
<ellipse cx="650.2" cy="140.6" rx="1.9" ry="2.1" fill="none" stroke="#8e8e8e" stroke-width="1.15"/>
<ellipse cx="644.9" cy="143.6" rx="2.0" ry="2.0" fill="none" stroke="#a6a6a6" stroke-width="1.15"/>
<path d="M655.0,145.8 a2,2 0 1 1 1.3,2.1" fill="none" stroke="#a6a6a6" stroke-width="1"/>
<ellipse cx="646.6" cy="153.2" rx="2.2" ry="2.1" fill="none" stroke="#a6a6a6" stroke-width="1.15"/>
<path d="M646.4,153.8 a2,2 0 1 1 1.4,2.0" fill="none" stroke="#8e8e8e" stroke-width="1"/>
<ellipse cx="647.9" cy="159.5" rx="1.5" ry="2.1" fill="none" stroke="#8e8e8e" stroke-width="1.15"/>
<ellipse cx="650.8" cy="162.7" rx="1.9" ry="2.6" fill="none" stroke="#9a9a9a" stroke-width="1.15"/>
<circle cx="655.9" cy="168.1" r="1.3" fill="#8e8e8e"/>
<circle cx="644.7" cy="172.9" r="1.2" fill="#a6a6a6"/>
<path d="M653.1,174.0 a2,2 0 1 1 1.3,-2.1" fill="none" stroke="#8e8e8e" stroke-width="1"/>
<circle cx="657.0" cy="178.7" r="1.0" fill="#8e8e8e"/>
<circle cx="655.6" cy="181.3" r="1.0" fill="#8e8e8e"/>
<path d="M654.2,186.9 a2,2 0 1 1 2.2,1.1" fill="none" stroke="#8e8e8e" stroke-width="1"/>
<ellipse cx="648.7" cy="189.2" rx="1.5" ry="1.9" fill="none" stroke="#a6a6a6" stroke-width="1.15"/>
<circle cx="645.6" cy="195.8" r="0.9" fill="#8e8e8e"/>
<circle cx="656.3" cy="198.3" r="1.3" fill="#8e8e8e"/>
<ellipse cx="646.4" cy="202.7" rx="2.1" ry="1.8" fill="none" stroke="#9a9a9a" stroke-width="1.15"/>
<path d="M656.1,207.3 a2,2 0 1 1 2.5,-0.1" fill="none" stroke="#8e8e8e" stroke-width="1"/>
<circle cx="654.4" cy="210.4" r="1.4" fill="#9a9a9a"/>
<ellipse cx="653.9" cy="215.0" rx="1.4" ry="2.0" fill="none" stroke="#a6a6a6" stroke-width="1.15"/>
<path d="M649.6,219.0 a2,2 0 1 1 1.3,2.1" fill="none" stroke="#a6a6a6" stroke-width="1"/>
<path d="M656.6,223.0 a2,2 0 1 1 -0.1,2.5" fill="none" stroke="#8e8e8e" stroke-width="1"/>
<ellipse cx="653.2" cy="225.5" rx="2.1" ry="2.4" fill="none" stroke="#9a9a9a" stroke-width="1.15"/>
<path d="M651.9,229.9 a2,2 0 1 1 -0.8,2.4" fill="none" stroke="#a6a6a6" stroke-width="1"/>
<path d="M656.5,234.2 a2,2 0 1 1 2.3,1.0" fill="none" stroke="#8e8e8e" stroke-width="1"/>
<path d="M654.3,239.3 a2,2 0 1 1 0.2,2.5" fill="none" stroke="#8e8e8e" stroke-width="1"/>
<path d="M651.8,242.2 a2,2 0 1 1 2.1,-1.4" fill="none" stroke="#a6a6a6" stroke-width="1"/>
<circle cx="653.1" cy="246.8" r="1.3" fill="#9a9a9a"/>
<path d="M653.0,251.6 a2,2 0 1 1 2.4,-0.8" fill="none" stroke="#9a9a9a" stroke-width="1"/>
<path d="M647.4,254.5 a2,2 0 1 1 -2.1,-1.4" fill="none" stroke="#a6a6a6" stroke-width="1"/>
<ellipse cx="655.0" cy="258.9" rx="1.9" ry="2.6" fill="none" stroke="#9a9a9a" stroke-width="1.15"/>
<circle cx="655.5" cy="261.6" r="1.1" fill="#9a9a9a"/>
<circle cx="648.7" cy="264.5" r="1.2" fill="#9a9a9a"/>
<ellipse cx="648.2" cy="267.9" rx="2.2" ry="2.0" fill="none" stroke="#a6a6a6" stroke-width="1.15"/>
<ellipse cx="651.2" cy="272.5" rx="1.3" ry="2.4" fill="none" stroke="#a6a6a6" stroke-width="1.15"/>
<path d="M646.8,276.5 a2,2 0 1 1 1.2,2.2" fill="none" stroke="#9a9a9a" stroke-width="1"/>
<path d="M648.9,282.6 a2,2 0 1 1 -0.9,2.3" fill="none" stroke="#9a9a9a" stroke-width="1"/>
<path d="M648.5,286.8 a2,2 0 1 1 0.9,2.3" fill="none" stroke="#a6a6a6" stroke-width="1"/>
<circle cx="654.9" cy="287.9" r="1.3" fill="#8e8e8e"/>
<circle cx="645.8" cy="292.2" r="1.0" fill="#a6a6a6"/>
<circle cx="648.9" cy="295.6" r="1.2" fill="#a6a6a6"/>
<ellipse cx="646.2" cy="302.1" rx="1.4" ry="2.2" fill="none" stroke="#9a9a9a" stroke-width="1.15"/>
<circle cx="650.1" cy="306.8" r="1.3" fill="#a6a6a6"/>
<path d="M653.1,310.7 a2,2 0 1 1 2.1,-1.4" fill="none" stroke="#8e8e8e" stroke-width="1"/>
<path d="M650.7,312.4 a2,2 0 1 1 1.8,-1.8" fill="none" stroke="#8e8e8e" stroke-width="1"/>
<circle cx="655.6" cy="315.3" r="1.3" fill="#9a9a9a"/>
<path d="M655.6,321.7 a2,2 0 1 1 2.4,-0.8" fill="none" stroke="#8e8e8e" stroke-width="1"/>
<path d="M650.5,322.8 a2,2 0 1 1 1.5,2.0" fill="none" stroke="#9a9a9a" stroke-width="1"/>
<ellipse cx="651.8" cy="328.9" rx="1.5" ry="2.2" fill="none" stroke="#9a9a9a" stroke-width="1.15"/>
<ellipse cx="656.8" cy="333.1" rx="1.3" ry="2.1" fill="none" stroke="#a6a6a6" stroke-width="1.15"/>
<path d="M649.6,334.9 a2,2 0 1 1 -1.8,1.7" fill="none" stroke="#a6a6a6" stroke-width="1"/>
<circle cx="656.5" cy="341.3" r="1.1" fill="#9a9a9a"/>
<ellipse cx="654.9" cy="344.4" rx="1.6" ry="1.7" fill="none" stroke="#a6a6a6" stroke-width="1.15"/>
<ellipse cx="650.9" cy="349.8" rx="1.8" ry="2.3" fill="none" stroke="#a6a6a6" stroke-width="1.15"/>
<path d="M655.8,352.6 a2,2 0 1 1 2.4,-0.6" fill="none" stroke="#9a9a9a" stroke-width="1"/>
<path d="M646.8,355.5 a2,2 0 1 1 -1.8,-1.7" fill="none" stroke="#8e8e8e" stroke-width="1"/>
<circle cx="656.1" cy="359.8" r="1.1" fill="#9a9a9a"/>
<ellipse cx="649.3" cy="365.9" rx="2.2" ry="2.2" fill="none" stroke="#8e8e8e" stroke-width="1.15"/>
<ellipse cx="650.8" cy="367.7" rx="1.3" ry="1.9" fill="none" stroke="#9a9a9a" stroke-width="1.15"/>
<path d="M651.2,372.6 a2,2 0 1 1 0.0,-2.5" fill="none" stroke="#9a9a9a" stroke-width="1"/>
<path d="M647.9,375.4 a2,2 0 1 1 0.9,-2.3" fill="none" stroke="#a6a6a6" stroke-width="1"/>
<circle cx="655.1" cy="378.4" r="0.9" fill="#8e8e8e"/>
<circle cx="654.8" cy="384.0" r="1.0" fill="#9a9a9a"/>
<circle cx="647.5" cy="386.0" r="1.2" fill="#a6a6a6"/>
<ellipse cx="649.7" cy="392.9" rx="1.5" ry="1.8" fill="none" stroke="#9a9a9a" stroke-width="1.15"/>
<ellipse cx="653.5" cy="396.6" rx="1.7" ry="2.5" fill="none" stroke="#9a9a9a" stroke-width="1.15"/>
<circle cx="653.8" cy="398.9" r="1.1" fill="#9a9a9a"/>
<circle cx="646.8" cy="404.9" r="1.1" fill="#a6a6a6"/>
<ellipse cx="656.1" cy="406.6" rx="1.4" ry="2.0" fill="none" stroke="#a6a6a6" stroke-width="1.15"/>
<circle cx="650.8" cy="412.7" r="1.1" fill="#a6a6a6"/>
<path d="M647.2,416.2 a2,2 0 1 1 0.6,-2.4" fill="none" stroke="#a6a6a6" stroke-width="1"/>
<circle cx="655.0" cy="417.9" r="1.2" fill="#8e8e8e"/>
<path d="M655.7,424.7 a2,2 0 1 1 -1.8,1.7" fill="none" stroke="#a6a6a6" stroke-width="1"/>
<path d="M648.1,427.7 a2,2 0 1 1 -1.9,-1.6" fill="none" stroke="#9a9a9a" stroke-width="1"/>
<circle cx="647.9" cy="429.3" r="1.0" fill="#a6a6a6"/>
<ellipse cx="647.2" cy="433.9" rx="1.9" ry="2.5" fill="none" stroke="#a6a6a6" stroke-width="1.15"/>
<circle cx="645.5" cy="437.0" r="1.3" fill="#8e8e8e"/>
<circle cx="648.6" cy="440.9" r="1.1" fill="#8e8e8e"/>
<circle cx="650.8" cy="448.7" r="1.3" fill="#a6a6a6"/>
<ellipse cx="645.0" cy="452.0" rx="1.6" ry="2.5" fill="none" stroke="#8e8e8e" stroke-width="1.15"/>
<ellipse cx="656.6" cy="454.8" rx="2.1" ry="1.8" fill="none" stroke="#a6a6a6" stroke-width="1.15"/>
<circle cx="655.0" cy="459.8" r="1.0" fill="#8e8e8e"/>
<ellipse cx="646.7" cy="463.8" rx="1.4" ry="2.2" fill="none" stroke="#9a9a9a" stroke-width="1.15"/>
<circle cx="653.6" cy="466.8" r="1.4" fill="#a6a6a6"/>
<path d="M649.6,471.1 a2,2 0 1 1 0.8,-2.4" fill="none" stroke="#8e8e8e" stroke-width="1"/>
<path d="M656.5,473.7 a2,2 0 1 1 -1.6,-1.9" fill="none" stroke="#8e8e8e" stroke-width="1"/>
<path d="M651.7,478.0 a2,2 0 1 1 -1.9,-1.7" fill="none" stroke="#a6a6a6" stroke-width="1"/>
<ellipse cx="646.9" cy="482.7" rx="1.6" ry="1.8" fill="none" stroke="#8e8e8e" stroke-width="1.15"/>
<circle cx="653.7" cy="486.2" r="1.3" fill="#8e8e8e"/>
<ellipse cx="653.8" cy="491.2" rx="2.1" ry="1.9" fill="none" stroke="#a6a6a6" stroke-width="1.15"/>
<path d="M654.3,492.2 a2,2 0 1 1 -0.5,-2.5" fill="none" stroke="#a6a6a6" stroke-width="1"/>
<ellipse cx="645.3" cy="496.8" rx="2.0" ry="2.2" fill="none" stroke="#a6a6a6" stroke-width="1.15"/>
<ellipse cx="647.8" cy="501.4" rx="1.6" ry="2.0" fill="none" stroke="#a6a6a6" stroke-width="1.15"/>
<circle cx="645.8" cy="506.8" r="1.3" fill="#9a9a9a"/>
<ellipse cx="654.6" cy="509.6" rx="2.2" ry="2.0" fill="none" stroke="#8e8e8e" stroke-width="1.15"/>
<ellipse cx="655.6" cy="513.7" rx="2.1" ry="2.1" fill="none" stroke="#9a9a9a" stroke-width="1.15"/>
<ellipse cx="654.8" cy="516.2" rx="1.6" ry="2.0" fill="none" stroke="#a6a6a6" stroke-width="1.15"/>
<path d="M648.9,522.2 a2,2 0 1 1 -0.6,-2.4" fill="none" stroke="#8e8e8e" stroke-width="1"/>
<circle cx="656.3" cy="527.5" r="1.3" fill="#a6a6a6"/>
<circle cx="646.5" cy="531.1" r="0.9" fill="#8e8e8e"/>
<circle cx="647.2" cy="533.8" r="1.3" fill="#8e8e8e"/>
<path d="M656.7,535.8 a2,2 0 1 1 1.9,-1.6" fill="none" stroke="#8e8e8e" stroke-width="1"/>
<ellipse cx="651.2" cy="539.6" rx="1.9" ry="2.1" fill="none" stroke="#a6a6a6" stroke-width="1.15"/>
<ellipse cx="654.1" cy="546.9" rx="2.2" ry="2.0" fill="none" stroke="#8e8e8e" stroke-width="1.15"/>
<ellipse cx="645.8" cy="549.6" rx="1.7" ry="2.2" fill="none" stroke="#8e8e8e" stroke-width="1.15"/>
<path d="M656.0,553.9 a2,2 0 1 1 -2.3,-1.1" fill="none" stroke="#8e8e8e" stroke-width="1"/>
<ellipse cx="653.5" cy="558.5" rx="2.0" ry="2.3" fill="none" stroke="#a6a6a6" stroke-width="1.15"/>
<circle cx="647.5" cy="561.6" r="1.2" fill="#9a9a9a"/>
<circle cx="646.0" cy="564.9" r="1.0" fill="#a6a6a6"/>
<circle cx="656.8" cy="567.8" r="1.3" fill="#a6a6a6"/>
<ellipse cx="652.4" cy="573.8" rx="2.2" ry="1.8" fill="none" stroke="#8e8e8e" stroke-width="1.15"/>
<circle cx="644.5" cy="576.6" r="1.3" fill="#8e8e8e"/>
<circle cx="645.1" cy="580.9" r="1.0" fill="#9a9a9a"/>
<path d="M646.4,582.7 a2,2 0 1 1 0.1,-2.5" fill="none" stroke="#8e8e8e" stroke-width="1"/>
<ellipse cx="655.5" cy="587.0" rx="1.5" ry="2.1" fill="none" stroke="#a6a6a6" stroke-width="1.15"/>
<path d="M645.8,593.7 a2,2 0 1 1 2.2,1.1" fill="none" stroke="#8e8e8e" stroke-width="1"/>
<ellipse cx="644.9" cy="597.0" rx="1.9" ry="2.2" fill="none" stroke="#a6a6a6" stroke-width="1.15"/>
<ellipse cx="654.5" cy="598.7" rx="1.9" ry="2.1" fill="none" stroke="#a6a6a6" stroke-width="1.15"/>
<ellipse cx="652.9" cy="604.6" rx="2.1" ry="2.4" fill="none" stroke="#8e8e8e" stroke-width="1.15"/>
<circle cx="650.2" cy="606.8" r="1.2" fill="#8e8e8e"/>
<ellipse cx="656.8" cy="612.7" rx="1.7" ry="1.7" fill="none" stroke="#a6a6a6" stroke-width="1.15"/>
<path d="M653.6,617.5 a2,2 0 1 1 2.1,1.3" fill="none" stroke="#8e8e8e" stroke-width="1"/>
<ellipse cx="647.9" cy="619.3" rx="1.9" ry="2.6" fill="none" stroke="#9a9a9a" stroke-width="1.15"/>
<ellipse cx="654.1" cy="622.1" rx="2.0" ry="2.4" fill="none" stroke="#8e8e8e" stroke-width="1.15"/>
<path d="M1008.4,115.5 a2,2 0 1 1 -2.2,-1.1" fill="none" stroke="#a6a6a6" stroke-width="1"/>
<path d="M1008.3,120.9 a2,2 0 1 1 2.1,-1.3" fill="none" stroke="#8e8e8e" stroke-width="1"/>
<ellipse cx="1016.8" cy="124.6" rx="1.4" ry="2.5" fill="none" stroke="#a6a6a6" stroke-width="1.15"/>
<circle cx="1016.3" cy="125.9" r="1.1" fill="#9a9a9a"/>
<ellipse cx="1015.0" cy="130.6" rx="1.3" ry="2.0" fill="none" stroke="#9a9a9a" stroke-width="1.15"/>
<path d="M1007.7,134.2 a2,2 0 1 1 2.3,-1.0" fill="none" stroke="#a6a6a6" stroke-width="1"/>
<path d="M1015.8,140.7 a2,2 0 1 1 -0.4,2.5" fill="none" stroke="#9a9a9a" stroke-width="1"/>
<ellipse cx="1008.9" cy="142.9" rx="1.8" ry="2.0" fill="none" stroke="#8e8e8e" stroke-width="1.15"/>
<path d="M1016.5,145.2 a2,2 0 1 1 1.9,-1.6" fill="none" stroke="#8e8e8e" stroke-width="1"/>
<ellipse cx="1016.2" cy="151.2" rx="1.7" ry="1.9" fill="none" stroke="#9a9a9a" stroke-width="1.15"/>
<circle cx="1006.4" cy="153.5" r="1.2" fill="#8e8e8e"/>
<path d="M1014.3,159.1 a2,2 0 1 1 2.3,-1.1" fill="none" stroke="#9a9a9a" stroke-width="1"/>
<circle cx="1012.5" cy="163.9" r="1.0" fill="#a6a6a6"/>
<ellipse cx="1009.4" cy="168.3" rx="1.7" ry="1.7" fill="none" stroke="#9a9a9a" stroke-width="1.15"/>
<circle cx="1018.3" cy="171.1" r="1.2" fill="#8e8e8e"/>
<ellipse cx="1015.6" cy="175.5" rx="2.3" ry="1.7" fill="none" stroke="#9a9a9a" stroke-width="1.15"/>
<circle cx="1017.2" cy="179.0" r="1.2" fill="#a6a6a6"/>
<circle cx="1013.5" cy="182.9" r="1.1" fill="#a6a6a6"/>
<circle cx="1006.6" cy="187.1" r="1.1" fill="#8e8e8e"/>
<circle cx="1007.4" cy="188.6" r="1.2" fill="#a6a6a6"/>
<ellipse cx="1009.2" cy="195.1" rx="1.6" ry="2.0" fill="none" stroke="#8e8e8e" stroke-width="1.15"/>
<path d="M1014.9,196.7 a2,2 0 1 1 1.6,-1.9" fill="none" stroke="#8e8e8e" stroke-width="1"/>
<ellipse cx="1011.7" cy="201.2" rx="2.1" ry="1.8" fill="none" stroke="#9a9a9a" stroke-width="1.15"/>
<circle cx="1017.0" cy="206.9" r="1.2" fill="#9a9a9a"/>
<ellipse cx="1016.9" cy="208.0" rx="2.0" ry="1.9" fill="none" stroke="#a6a6a6" stroke-width="1.15"/>
<circle cx="1009.1" cy="211.8" r="1.1" fill="#8e8e8e"/>
<ellipse cx="1014.3" cy="217.7" rx="1.6" ry="1.9" fill="none" stroke="#8e8e8e" stroke-width="1.15"/>
<circle cx="1018.1" cy="223.1" r="1.3" fill="#a6a6a6"/>
<ellipse cx="1007.4" cy="226.4" rx="1.5" ry="2.3" fill="none" stroke="#9a9a9a" stroke-width="1.15"/>
<ellipse cx="1017.3" cy="230.8" rx="2.2" ry="1.6" fill="none" stroke="#9a9a9a" stroke-width="1.15"/>
<path d="M1014.3,234.6 a2,2 0 1 1 0.1,2.5" fill="none" stroke="#9a9a9a" stroke-width="1"/>
<ellipse cx="1017.6" cy="236.1" rx="2.0" ry="2.4" fill="none" stroke="#8e8e8e" stroke-width="1.15"/>
<circle cx="1008.7" cy="239.1" r="1.0" fill="#8e8e8e"/>
<circle cx="1013.0" cy="244.8" r="1.1" fill="#9a9a9a"/>
<circle cx="1007.8" cy="247.7" r="1.0" fill="#8e8e8e"/>
<ellipse cx="1009.1" cy="252.4" rx="1.9" ry="1.7" fill="none" stroke="#9a9a9a" stroke-width="1.15"/>
<circle cx="1008.5" cy="257.5" r="1.0" fill="#9a9a9a"/>
<ellipse cx="1018.2" cy="260.5" rx="1.8" ry="1.9" fill="none" stroke="#8e8e8e" stroke-width="1.15"/>
<circle cx="1006.9" cy="264.2" r="1.3" fill="#9a9a9a"/>
<circle cx="1007.3" cy="269.4" r="1.0" fill="#8e8e8e"/>
<ellipse cx="1014.4" cy="271.6" rx="1.8" ry="1.8" fill="none" stroke="#9a9a9a" stroke-width="1.15"/>
<circle cx="1005.6" cy="276.6" r="1.2" fill="#8e8e8e"/>
<circle cx="1144.3" cy="115.1" r="1.2" fill="#9a9a9a"/>
<circle cx="1136.9" cy="119.8" r="1.3" fill="#9a9a9a"/>
<path d="M1146.6,123.3 a2,2 0 1 1 -0.8,-2.4" fill="none" stroke="#8e8e8e" stroke-width="1"/>
<path d="M1135.2,127.1 a2,2 0 1 1 0.5,2.4" fill="none" stroke="#9a9a9a" stroke-width="1"/>
<ellipse cx="1135.5" cy="130.5" rx="1.6" ry="1.9" fill="none" stroke="#8e8e8e" stroke-width="1.15"/>
<ellipse cx="1137.7" cy="132.7" rx="1.3" ry="2.5" fill="none" stroke="#8e8e8e" stroke-width="1.15"/>
<circle cx="1138.1" cy="137.6" r="1.1" fill="#a6a6a6"/>
<ellipse cx="1148.4" cy="141.6" rx="1.5" ry="2.6" fill="none" stroke="#9a9a9a" stroke-width="1.15"/>
<path d="M1141.2,143.7 a2,2 0 1 1 2.5,0.5" fill="none" stroke="#9a9a9a" stroke-width="1"/>
<path d="M1137.4,147.9 a2,2 0 1 1 -1.8,1.8" fill="none" stroke="#a6a6a6" stroke-width="1"/>
<ellipse cx="1137.2" cy="152.8" rx="2.1" ry="2.2" fill="none" stroke="#a6a6a6" stroke-width="1.15"/>
<circle cx="1141.4" cy="155.3" r="1.0" fill="#9a9a9a"/>
<ellipse cx="1136.6" cy="160.3" rx="2.3" ry="1.7" fill="none" stroke="#8e8e8e" stroke-width="1.15"/>
<ellipse cx="1139.3" cy="163.1" rx="1.5" ry="2.2" fill="none" stroke="#9a9a9a" stroke-width="1.15"/>
<path d="M1141.1,165.3 a2,2 0 1 1 0.4,2.5" fill="none" stroke="#a6a6a6" stroke-width="1"/>
<path d="M1137.0,170.0 a2,2 0 1 1 -2.1,1.4" fill="none" stroke="#a6a6a6" stroke-width="1"/>
<ellipse cx="1135.7" cy="174.1" rx="2.2" ry="1.7" fill="none" stroke="#8e8e8e" stroke-width="1.15"/>
<ellipse cx="1145.2" cy="175.0" rx="1.8" ry="2.4" fill="none" stroke="#8e8e8e" stroke-width="1.15"/>
<circle cx="1145.9" cy="180.2" r="1.1" fill="#8e8e8e"/>
<circle cx="1141.7" cy="183.2" r="1.3" fill="#9a9a9a"/>
<ellipse cx="1148.0" cy="185.6" rx="1.9" ry="1.8" fill="none" stroke="#9a9a9a" stroke-width="1.15"/>
<ellipse cx="1144.3" cy="189.3" rx="2.3" ry="1.9" fill="none" stroke="#9a9a9a" stroke-width="1.15"/>
<ellipse cx="1146.1" cy="194.3" rx="1.8" ry="2.3" fill="none" stroke="#a6a6a6" stroke-width="1.15"/>
<circle cx="1145.8" cy="195.4" r="1.3" fill="#a6a6a6"/>
<circle cx="1147.9" cy="202.0" r="1.3" fill="#9a9a9a"/>
<path d="M1138.1,203.9 a2,2 0 1 1 -2.4,-0.7" fill="none" stroke="#8e8e8e" stroke-width="1"/>
<path d="M1140.4,206.3 a2,2 0 1 1 -0.2,-2.5" fill="none" stroke="#9a9a9a" stroke-width="1"/>
<path d="M1139.9,211.7 a2,2 0 1 1 2.5,-0.0" fill="none" stroke="#8e8e8e" stroke-width="1"/>
<ellipse cx="1143.6" cy="215.9" rx="1.4" ry="2.0" fill="none" stroke="#a6a6a6" stroke-width="1.15"/>
<circle cx="1140.7" cy="216.6" r="1.2" fill="#9a9a9a"/>
<circle cx="1139.8" cy="222.3" r="1.3" fill="#8e8e8e"/>
<path d="M1144.4,225.7 a2,2 0 1 1 -1.7,1.8" fill="none" stroke="#9a9a9a" stroke-width="1"/>
<path d="M1148.0,229.5 a2,2 0 1 1 0.7,2.4" fill="none" stroke="#a6a6a6" stroke-width="1"/>
<path d="M1138.4,232.4 a2,2 0 1 1 0.2,-2.5" fill="none" stroke="#9a9a9a" stroke-width="1"/>
<path d="M1139.1,234.7 a2,2 0 1 1 -2.4,0.7" fill="none" stroke="#a6a6a6" stroke-width="1"/>
<ellipse cx="1144.0" cy="240.0" rx="1.9" ry="2.0" fill="none" stroke="#8e8e8e" stroke-width="1.15"/>
<path d="M1142.6,240.9 a2,2 0 1 1 2.1,1.3" fill="none" stroke="#8e8e8e" stroke-width="1"/>
<ellipse cx="1138.4" cy="244.9" rx="2.1" ry="1.8" fill="none" stroke="#a6a6a6" stroke-width="1.15"/>
<ellipse cx="1135.3" cy="248.1" rx="1.4" ry="1.9" fill="none" stroke="#8e8e8e" stroke-width="1.15"/>
<circle cx="1142.1" cy="252.4" r="1.3" fill="#9a9a9a"/>
<ellipse cx="1139.5" cy="258.0" rx="1.4" ry="2.2" fill="none" stroke="#9a9a9a" stroke-width="1.15"/>
<path d="M1144.4,259.2 a2,2 0 1 1 -1.2,2.2" fill="none" stroke="#a6a6a6" stroke-width="1"/>
<circle cx="1141.8" cy="262.2" r="1.3" fill="#a6a6a6"/>
<circle cx="1145.1" cy="268.2" r="1.3" fill="#9a9a9a"/>
<path d="M1138.1,271.5 a2,2 0 1 1 2.3,1.0" fill="none" stroke="#8e8e8e" stroke-width="1"/>
<circle cx="1137.1" cy="275.0" r="1.3" fill="#9a9a9a"/>
<circle cx="1138.1" cy="276.0" r="1.1" fill="#a6a6a6"/>
<ellipse cx="1135.2" cy="282.5" rx="1.8" ry="2.4" fill="none" stroke="#a6a6a6" stroke-width="1.15"/>
<ellipse cx="1141.8" cy="284.5" rx="1.3" ry="2.3" fill="none" stroke="#8e8e8e" stroke-width="1.15"/>
<circle cx="1138.0" cy="287.2" r="1.1" fill="#a6a6a6"/>
<path d="M1137.6,290.3 a2,2 0 1 1 2.0,-1.5" fill="none" stroke="#a6a6a6" stroke-width="1"/>
<circle cx="1136.8" cy="293.4" r="1.3" fill="#9a9a9a"/>
<path d="M1144.7,300.0 a2,2 0 1 1 -2.0,1.5" fill="none" stroke="#9a9a9a" stroke-width="1"/>
<path d="M1142.1,301.2 a2,2 0 1 1 2.1,1.3" fill="none" stroke="#9a9a9a" stroke-width="1"/>
<ellipse cx="1135.7" cy="305.5" rx="2.2" ry="2.1" fill="none" stroke="#a6a6a6" stroke-width="1.15"/>
<circle cx="1137.7" cy="307.6" r="1.3" fill="#a6a6a6"/>
<ellipse cx="1144.3" cy="312.3" rx="1.4" ry="1.7" fill="none" stroke="#8e8e8e" stroke-width="1.15"/>
<ellipse cx="1140.2" cy="315.8" rx="1.8" ry="2.0" fill="none" stroke="#a6a6a6" stroke-width="1.15"/>
<circle cx="1146.5" cy="320.9" r="1.1" fill="#a6a6a6"/>
<path d="M1141.0,324.4 a2,2 0 1 1 2.4,0.8" fill="none" stroke="#a6a6a6" stroke-width="1"/>
<path d="M1145.4,324.9 a2,2 0 1 1 2.4,0.6" fill="none" stroke="#8e8e8e" stroke-width="1"/>
<ellipse cx="1148.2" cy="331.3" rx="2.0" ry="1.6" fill="none" stroke="#9a9a9a" stroke-width="1.15"/>
<circle cx="1143.9" cy="334.6" r="1.1" fill="#9a9a9a"/>
<ellipse cx="1136.2" cy="336.5" rx="1.4" ry="1.9" fill="none" stroke="#a6a6a6" stroke-width="1.15"/>
<ellipse cx="1145.4" cy="339.1" rx="1.6" ry="2.4" fill="none" stroke="#8e8e8e" stroke-width="1.15"/>
<ellipse cx="1143.1" cy="343.5" rx="2.1" ry="2.0" fill="none" stroke="#9a9a9a" stroke-width="1.15"/>
<ellipse cx="1139.6" cy="346.0" rx="1.4" ry="1.9" fill="none" stroke="#a6a6a6" stroke-width="1.15"/>
<path d="M1145.0,352.2 a2,2 0 1 1 0.4,2.5" fill="none" stroke="#9a9a9a" stroke-width="1"/>
<path d="M1137.5,355.4 a2,2 0 1 1 -0.5,-2.4" fill="none" stroke="#9a9a9a" stroke-width="1"/>
<ellipse cx="1144.9" cy="356.5" rx="1.4" ry="2.4" fill="none" stroke="#9a9a9a" stroke-width="1.15"/>
<ellipse cx="1139.6" cy="360.4" rx="2.1" ry="2.3" fill="none" stroke="#9a9a9a" stroke-width="1.15"/>
<ellipse cx="1148.2" cy="365.2" rx="2.0" ry="1.9" fill="none" stroke="#a6a6a6" stroke-width="1.15"/>
<path d="M1137.5,368.0 a2,2 0 1 1 -2.2,-1.1" fill="none" stroke="#8e8e8e" stroke-width="1"/>
<circle cx="1135.1" cy="372.7" r="1.4" fill="#8e8e8e"/>
<path d="M1139.4,376.5 a2,2 0 1 1 2.4,-0.8" fill="none" stroke="#9a9a9a" stroke-width="1"/>
<circle cx="1139.1" cy="379.2" r="1.0" fill="#9a9a9a"/>
<circle cx="1138.1" cy="383.7" r="1.3" fill="#a6a6a6"/>
<path d="M1142.7,387.2 a2,2 0 1 1 0.8,-2.4" fill="none" stroke="#a6a6a6" stroke-width="1"/>
<path d="M1148.4,390.1 a2,2 0 1 1 -0.0,2.5" fill="none" stroke="#9a9a9a" stroke-width="1"/>
<path d="M1143.9,392.4 a2,2 0 1 1 0.2,2.5" fill="none" stroke="#8e8e8e" stroke-width="1"/>
<ellipse cx="1144.6" cy="396.9" rx="2.1" ry="2.5" fill="none" stroke="#8e8e8e" stroke-width="1.15"/>
<path d="M1136.9,401.3 a2,2 0 1 1 -2.4,-0.7" fill="none" stroke="#a6a6a6" stroke-width="1"/>
<path d="M1147.3,404.3 a2,2 0 1 1 2.4,-0.8" fill="none" stroke="#9a9a9a" stroke-width="1"/>
<path d="M1141.3,406.6 a2,2 0 1 1 -0.3,-2.5" fill="none" stroke="#8e8e8e" stroke-width="1"/>
<ellipse cx="1139.9" cy="408.7" rx="2.2" ry="1.6" fill="none" stroke="#8e8e8e" stroke-width="1.15"/>
<circle cx="1140.0" cy="414.1" r="1.0" fill="#8e8e8e"/>
<path d="M1141.2,416.9 a2,2 0 1 1 -0.9,2.3" fill="none" stroke="#9a9a9a" stroke-width="1"/>
<circle cx="1143.5" cy="422.1" r="1.3" fill="#9a9a9a"/>
<circle cx="1139.2" cy="425.5" r="1.2" fill="#8e8e8e"/>
<ellipse cx="1148.5" cy="429.1" rx="1.7" ry="2.5" fill="none" stroke="#9a9a9a" stroke-width="1.15"/>
<circle cx="1144.0" cy="430.2" r="1.4" fill="#9a9a9a"/>
<circle cx="1143.9" cy="436.0" r="0.9" fill="#a6a6a6"/>
<path d="M1143.0,438.0 a2,2 0 1 1 2.5,-0.0" fill="none" stroke="#9a9a9a" stroke-width="1"/>
<circle cx="1137.5" cy="441.0" r="1.1" fill="#a6a6a6"/>
<path d="M1138.0,446.0 a2,2 0 1 1 -1.7,1.9" fill="none" stroke="#8e8e8e" stroke-width="1"/>
<ellipse cx="1147.7" cy="449.5" rx="2.0" ry="2.5" fill="none" stroke="#a6a6a6" stroke-width="1.15"/>
<ellipse cx="1137.7" cy="451.5" rx="2.3" ry="2.1" fill="none" stroke="#a6a6a6" stroke-width="1.15"/>
<path d="M1145.2,453.9 a2,2 0 1 1 2.4,-0.7" fill="none" stroke="#a6a6a6" stroke-width="1"/>
<path d="M1148.5,459.4 a2,2 0 1 1 2.5,0.3" fill="none" stroke="#8e8e8e" stroke-width="1"/>
<ellipse cx="1143.8" cy="464.0" rx="1.7" ry="2.5" fill="none" stroke="#a6a6a6" stroke-width="1.15"/>
<circle cx="1137.8" cy="464.5" r="1.4" fill="#a6a6a6"/>
<path d="M1147.9,469.7 a2,2 0 1 1 0.6,2.4" fill="none" stroke="#a6a6a6" stroke-width="1"/>
<ellipse cx="1137.1" cy="472.9" rx="1.9" ry="1.9" fill="none" stroke="#8e8e8e" stroke-width="1.15"/>
<circle cx="1138.7" cy="476.3" r="0.9" fill="#9a9a9a"/>
<path d="M1145.4,481.2 a2,2 0 1 1 -0.0,-2.5" fill="none" stroke="#8e8e8e" stroke-width="1"/>
<circle cx="1138.2" cy="482.8" r="1.0" fill="#8e8e8e"/>
<path d="M1137.4,488.4 a2,2 0 1 1 -0.5,-2.5" fill="none" stroke="#a6a6a6" stroke-width="1"/>
<path d="M1145.1,491.3 a2,2 0 1 1 1.3,-2.1" fill="none" stroke="#9a9a9a" stroke-width="1"/>
<circle cx="1140.7" cy="494.1" r="1.1" fill="#8e8e8e"/>
<path d="M1136.2,496.1 a2,2 0 1 1 -2.2,1.3" fill="none" stroke="#a6a6a6" stroke-width="1"/>
<ellipse cx="1139.3" cy="499.9" rx="1.6" ry="2.4" fill="none" stroke="#a6a6a6" stroke-width="1.15"/>
<ellipse cx="1138.3" cy="503.5" rx="1.7" ry="2.0" fill="none" stroke="#9a9a9a" stroke-width="1.15"/>
<circle cx="1139.2" cy="508.5" r="1.0" fill="#8e8e8e"/>
<ellipse cx="1139.3" cy="511.6" rx="2.1" ry="2.4" fill="none" stroke="#9a9a9a" stroke-width="1.15"/>
<ellipse cx="1143.0" cy="515.0" rx="1.5" ry="2.2" fill="none" stroke="#a6a6a6" stroke-width="1.15"/>
<ellipse cx="1137.0" cy="517.4" rx="1.7" ry="1.7" fill="none" stroke="#a6a6a6" stroke-width="1.15"/>
<ellipse cx="1136.4" cy="522.9" rx="2.0" ry="2.0" fill="none" stroke="#a6a6a6" stroke-width="1.15"/>
<circle cx="1137.1" cy="526.8" r="0.9" fill="#8e8e8e"/>
<circle cx="1145.6" cy="529.0" r="1.4" fill="#a6a6a6"/>
<ellipse cx="1140.4" cy="532.3" rx="2.0" ry="2.3" fill="none" stroke="#a6a6a6" stroke-width="1.15"/>
<circle cx="1135.1" cy="536.7" r="1.3" fill="#a6a6a6"/>
<circle cx="1145.7" cy="539.8" r="1.3" fill="#9a9a9a"/>
<circle cx="1137.1" cy="543.2" r="1.0" fill="#9a9a9a"/>
<ellipse cx="1147.1" cy="547.6" rx="2.1" ry="2.0" fill="none" stroke="#9a9a9a" stroke-width="1.15"/>
<ellipse cx="1138.7" cy="550.1" rx="1.8" ry="2.5" fill="none" stroke="#a6a6a6" stroke-width="1.15"/>
<ellipse cx="1143.6" cy="553.4" rx="1.9" ry="2.2" fill="none" stroke="#9a9a9a" stroke-width="1.15"/>
<path d="M1146.6,555.3 a2,2 0 1 1 -1.6,1.9" fill="none" stroke="#8e8e8e" stroke-width="1"/>
<ellipse cx="1147.3" cy="560.6" rx="1.6" ry="2.1" fill="none" stroke="#9a9a9a" stroke-width="1.15"/>
<ellipse cx="1147.7" cy="563.5" rx="1.4" ry="2.4" fill="none" stroke="#8e8e8e" stroke-width="1.15"/>
<ellipse cx="1137.0" cy="566.5" rx="1.4" ry="2.6" fill="none" stroke="#9a9a9a" stroke-width="1.15"/>
<ellipse cx="1147.2" cy="569.6" rx="2.2" ry="1.7" fill="none" stroke="#a6a6a6" stroke-width="1.15"/>
<ellipse cx="1147.5" cy="574.2" rx="1.8" ry="2.3" fill="none" stroke="#a6a6a6" stroke-width="1.15"/>
<path d="M1140.7,578.4 a2,2 0 1 1 -2.1,-1.4" fill="none" stroke="#8e8e8e" stroke-width="1"/>
<ellipse cx="1148.2" cy="579.8" rx="1.3" ry="1.9" fill="none" stroke="#8e8e8e" stroke-width="1.15"/>
<circle cx="1144.4" cy="583.8" r="1.0" fill="#8e8e8e"/>
<path d="M1143.2,589.0 a2,2 0 1 1 1.8,1.7" fill="none" stroke="#9a9a9a" stroke-width="1"/>
<circle cx="1146.6" cy="591.3" r="1.0" fill="#9a9a9a"/>
<path d="M1148.2,597.1 a2,2 0 1 1 1.3,2.2" fill="none" stroke="#8e8e8e" stroke-width="1"/>
<circle cx="1147.1" cy="599.9" r="0.9" fill="#a6a6a6"/>
<ellipse cx="1142.2" cy="603.0" rx="1.8" ry="2.5" fill="none" stroke="#9a9a9a" stroke-width="1.15"/>
<ellipse cx="1135.2" cy="605.7" rx="1.6" ry="2.0" fill="none" stroke="#a6a6a6" stroke-width="1.15"/>
<path d="M1147.7,610.6 a2,2 0 1 1 -2.5,-0.3" fill="none" stroke="#a6a6a6" stroke-width="1"/>
<ellipse cx="1141.7" cy="613.5" rx="1.3" ry="2.4" fill="none" stroke="#a6a6a6" stroke-width="1.15"/>
<ellipse cx="1145.6" cy="616.4" rx="1.7" ry="2.3" fill="none" stroke="#9a9a9a" stroke-width="1.15"/>
<circle cx="1142.7" cy="620.7" r="1.4" fill="#9a9a9a"/>
<ellipse cx="1147.5" cy="623.8" rx="1.5" ry="2.6" fill="none" stroke="#9a9a9a" stroke-width="1.15"/>
<circle cx="1137.8" cy="627.4" r="1.4" fill="#8e8e8e"/>
<path d="M1144.3,629.7 a2,2 0 1 1 0.8,-2.4" fill="none" stroke="#9a9a9a" stroke-width="1"/>
<circle cx="1139.5" cy="634.1" r="1.3" fill="#9a9a9a"/>
<path d="M1148.3,637.3 a2,2 0 1 1 1.5,2.0" fill="none" stroke="#8e8e8e" stroke-width="1"/>
<path d="M1145.3,641.1 a2,2 0 1 1 -2.5,-0.1" fill="none" stroke="#a6a6a6" stroke-width="1"/>
<circle cx="1144.5" cy="642.6" r="1.0" fill="#8e8e8e"/>
<path d="M1138.7,646.5 a2,2 0 1 1 1.8,-1.7" fill="none" stroke="#9a9a9a" stroke-width="1"/>
<circle cx="1145.9" cy="649.9" r="0.9" fill="#9a9a9a"/>
<ellipse cx="1141.7" cy="655.6" rx="1.6" ry="2.4" fill="none" stroke="#a6a6a6" stroke-width="1.15"/>
<circle cx="1137.8" cy="658.3" r="1.1" fill="#a6a6a6"/>
<path d="M1142.7,662.9 a2,2 0 1 1 -1.6,-2.0" fill="none" stroke="#9a9a9a" stroke-width="1"/>
<circle cx="1139.3" cy="665.9" r="0.9" fill="#8e8e8e"/>
<ellipse cx="1146.3" cy="669.9" rx="2.3" ry="2.1" fill="none" stroke="#a6a6a6" stroke-width="1.15"/>
<circle cx="1145.0" cy="671.0" r="1.3" fill="#9a9a9a"/>
<circle cx="1138.5" cy="675.8" r="0.9" fill="#8e8e8e"/>
<ellipse cx="1146.5" cy="680.6" rx="1.9" ry="2.5" fill="none" stroke="#9a9a9a" stroke-width="1.15"/>
<path d="M1136.1,682.0 a2,2 0 1 1 1.0,2.3" fill="none" stroke="#a6a6a6" stroke-width="1"/>
<ellipse cx="1136.8" cy="687.4" rx="2.1" ry="1.9" fill="none" stroke="#8e8e8e" stroke-width="1.15"/>
<ellipse cx="1137.2" cy="691.2" rx="1.6" ry="2.5" fill="none" stroke="#8e8e8e" stroke-width="1.15"/>
<circle cx="1138.0" cy="694.7" r="1.2" fill="#8e8e8e"/>
<circle cx="1142.2" cy="698.0" r="1.1" fill="#8e8e8e"/>
<ellipse cx="1141.3" cy="699.6" rx="1.5" ry="2.1" fill="none" stroke="#9a9a9a" stroke-width="1.15"/>
<path d="M1146.1,705.3 a2,2 0 1 1 -2.5,-0.3" fill="none" stroke="#8e8e8e" stroke-width="1"/>
<path d="M1136.6,706.6 a2,2 0 1 1 2.0,-1.5" fill="none" stroke="#8e8e8e" stroke-width="1"/>
<circle cx="1141.3" cy="712.2" r="1.2" fill="#8e8e8e"/>
<ellipse cx="1145.3" cy="714.5" rx="1.7" ry="2.6" fill="none" stroke="#8e8e8e" stroke-width="1.15"/>
<circle cx="1148.3" cy="716.4" r="1.1" fill="#9a9a9a"/>
<ellipse cx="1142.4" cy="720.5" rx="1.8" ry="2.6" fill="none" stroke="#8e8e8e" stroke-width="1.15"/>
<path d="M1141.1,724.2 a2,2 0 1 1 -0.8,-2.4" fill="none" stroke="#a6a6a6" stroke-width="1"/>
<ellipse cx="1141.5" cy="729.7" rx="2.0" ry="2.0" fill="none" stroke="#a6a6a6" stroke-width="1.15"/>
<path d="M1143.2,731.0 a2,2 0 1 1 -0.6,-2.4" fill="none" stroke="#8e8e8e" stroke-width="1"/>
<ellipse cx="1142.9" cy="734.9" rx="1.5" ry="2.1" fill="none" stroke="#8e8e8e" stroke-width="1.15"/>
<circle cx="1136.6" cy="739.8" r="1.0" fill="#a6a6a6"/>
<circle cx="1136.4" cy="741.1" r="0.9" fill="#a6a6a6"/>
<path d="M1135.7,745.4 a2,2 0 1 1 2.0,-1.5" fill="none" stroke="#9a9a9a" stroke-width="1"/>
<circle cx="1144.4" cy="749.2" r="1.2" fill="#a6a6a6"/>
<ellipse cx="1146.1" cy="750.9" rx="2.2" ry="1.8" fill="none" stroke="#8e8e8e" stroke-width="1.15"/>
<circle cx="1137.8" cy="754.8" r="1.2" fill="#a6a6a6"/>
<circle cx="1139.4" cy="761.3" r="0.9" fill="#a6a6a6"/>
<circle cx="1143.1" cy="763.8" r="1.3" fill="#a6a6a6"/>
<path d="M1141.9,766.4 a2,2 0 1 1 2.4,-0.7" fill="none" stroke="#8e8e8e" stroke-width="1"/>
<circle cx="1148.4" cy="771.8" r="1.1" fill="#a6a6a6"/>
<ellipse cx="1140.0" cy="773.1" rx="1.6" ry="1.7" fill="none" stroke="#9a9a9a" stroke-width="1.15"/>
<circle cx="1137.1" cy="775.9" r="1.0" fill="#8e8e8e"/>
<circle cx="1141.8" cy="780.9" r="1.1" fill="#9a9a9a"/>
<ellipse cx="1145.1" cy="784.9" rx="1.5" ry="2.4" fill="none" stroke="#8e8e8e" stroke-width="1.15"/>
<ellipse cx="1138.3" cy="788.7" rx="2.1" ry="2.2" fill="none" stroke="#8e8e8e" stroke-width="1.15"/>
<ellipse cx="1140.8" cy="791.0" rx="2.3" ry="1.6" fill="none" stroke="#a6a6a6" stroke-width="1.15"/>
<ellipse cx="1148.3" cy="793.7" rx="1.5" ry="1.9" fill="none" stroke="#8e8e8e" stroke-width="1.15"/>
<ellipse cx="1145.4" cy="799.0" rx="1.7" ry="1.9" fill="none" stroke="#8e8e8e" stroke-width="1.15"/>
<ellipse cx="1141.9" cy="803.1" rx="1.5" ry="2.0" fill="none" stroke="#8e8e8e" stroke-width="1.15"/>
<circle cx="1147.6" cy="803.7" r="1.2" fill="#8e8e8e"/>
<path d="M1141.7,810.3 a2,2 0 1 1 1.4,2.1" fill="none" stroke="#a6a6a6" stroke-width="1"/>
<circle cx="1143.4" cy="810.5" r="0.9" fill="#9a9a9a"/>
<ellipse cx="1142.0" cy="816.4" rx="1.5" ry="2.3" fill="none" stroke="#9a9a9a" stroke-width="1.15"/>
<ellipse cx="1140.8" cy="819.6" rx="1.3" ry="1.8" fill="none" stroke="#9a9a9a" stroke-width="1.15"/>
<ellipse cx="1140.4" cy="821.5" rx="1.6" ry="2.0" fill="none" stroke="#a6a6a6" stroke-width="1.15"/>
<ellipse cx="1138.4" cy="826.6" rx="1.7" ry="2.3" fill="none" stroke="#8e8e8e" stroke-width="1.15"/>
<ellipse cx="1140.8" cy="828.3" rx="1.5" ry="1.9" fill="none" stroke="#a6a6a6" stroke-width="1.15"/>
<circle cx="1143.5" cy="832.6" r="1.0" fill="#9a9a9a"/>
<path d="M1144.0,836.5 a2,2 0 1 1 2.3,1.0" fill="none" stroke="#9a9a9a" stroke-width="1"/>
<ellipse cx="1143.0" cy="841.4" rx="1.8" ry="1.7" fill="none" stroke="#8e8e8e" stroke-width="1.15"/>
<circle cx="1144.3" cy="844.2" r="0.9" fill="#a6a6a6"/>
<ellipse cx="1144.7" cy="848.0" rx="1.5" ry="1.8" fill="none" stroke="#9a9a9a" stroke-width="1.15"/>
<ellipse cx="1147.8" cy="849.7" rx="1.7" ry="2.4" fill="none" stroke="#9a9a9a" stroke-width="1.15"/>
<ellipse cx="1137.2" cy="853.8" rx="1.4" ry="2.3" fill="none" stroke="#8e8e8e" stroke-width="1.15"/>
<ellipse cx="1146.7" cy="857.9" rx="2.0" ry="1.7" fill="none" stroke="#9a9a9a" stroke-width="1.15"/>
<ellipse cx="1140.1" cy="861.6" rx="2.2" ry="1.7" fill="none" stroke="#8e8e8e" stroke-width="1.15"/>
<path d="M1139.1,864.8 a2,2 0 1 1 0.6,-2.4" fill="none" stroke="#a6a6a6" stroke-width="1"/>
<path d="M1146.7,868.3 a2,2 0 1 1 0.5,-2.4" fill="none" stroke="#a6a6a6" stroke-width="1"/>
<ellipse cx="1146.3" cy="871.6" rx="1.8" ry="1.9" fill="none" stroke="#8e8e8e" stroke-width="1.15"/>
<circle cx="1140.0" cy="875.0" r="1.2" fill="#8e8e8e"/>
<ellipse cx="1143.9" cy="877.1" rx="2.0" ry="1.8" fill="none" stroke="#9a9a9a" stroke-width="1.15"/>
<path d="M1142.2,881.1 a2,2 0 1 1 -2.4,0.8" fill="none" stroke="#a6a6a6" stroke-width="1"/>
<path d="M1140.1,885.3 a2,2 0 1 1 -2.4,-0.7" fill="none" stroke="#a6a6a6" stroke-width="1"/>
<path d="M1142.3,888.2 a2,2 0 1 1 1.0,-2.3" fill="none" stroke="#8e8e8e" stroke-width="1"/>
<ellipse cx="1141.5" cy="893.2" rx="2.2" ry="2.3" fill="none" stroke="#9a9a9a" stroke-width="1.15"/>
<circle cx="1141.1" cy="894.4" r="1.0" fill="#a6a6a6"/>
<circle cx="1138.2" cy="900.4" r="1.0" fill="#a6a6a6"/>
<circle cx="1139.9" cy="901.2" r="1.1" fill="#9a9a9a"/>
<circle cx="1135.4" cy="908.0" r="1.3" fill="#a6a6a6"/>
<ellipse cx="1139.1" cy="910.9" rx="1.4" ry="2.4" fill="none" stroke="#9a9a9a" stroke-width="1.15"/>
<circle cx="1145.0" cy="913.3" r="1.3" fill="#9a9a9a"/>
<ellipse cx="1135.6" cy="915.6" rx="2.2" ry="2.0" fill="none" stroke="#9a9a9a" stroke-width="1.15"/>
<path d="M1140.7,919.7 a2,2 0 1 1 -0.6,-2.4" fill="none" stroke="#8e8e8e" stroke-width="1"/>
<circle cx="1139.8" cy="922.3" r="1.1" fill="#8e8e8e"/>
<circle cx="1146.5" cy="928.7" r="1.0" fill="#8e8e8e"/>
<ellipse cx="1145.6" cy="930.9" rx="1.7" ry="2.0" fill="none" stroke="#9a9a9a" stroke-width="1.15"/>
<ellipse cx="1143.0" cy="933.5" rx="1.5" ry="2.4" fill="none" stroke="#9a9a9a" stroke-width="1.15"/>
<ellipse cx="1144.9" cy="936.5" rx="2.0" ry="2.2" fill="none" stroke="#8e8e8e" stroke-width="1.15"/>
<circle cx="1137.5" cy="939.6" r="1.0" fill="#a6a6a6"/>
<path d="M1136.3,945.5 a2,2 0 1 1 0.3,2.5" fill="none" stroke="#8e8e8e" stroke-width="1"/>
<ellipse cx="1142.9" cy="948.6" rx="1.9" ry="2.1" fill="none" stroke="#8e8e8e" stroke-width="1.15"/>
<circle cx="1146.5" cy="950.4" r="1.0" fill="#8e8e8e"/>
<circle cx="1139.2" cy="955.0" r="1.0" fill="#8e8e8e"/>
<path d="M1148.3,957.9 a2,2 0 1 1 -1.3,2.2" fill="none" stroke="#8e8e8e" stroke-width="1"/>
<circle cx="1138.2" cy="962.7" r="1.3" fill="#a6a6a6"/>
<circle cx="1138.6" cy="966.7" r="0.9" fill="#8e8e8e"/>
<circle cx="1140.1" cy="968.3" r="1.3" fill="#a6a6a6"/>
<path d="M1142.4,972.4 a2,2 0 1 1 2.5,-0.3" fill="none" stroke="#8e8e8e" stroke-width="1"/>
<path d="M1145.2,977.1 a2,2 0 1 1 -0.9,2.3" fill="none" stroke="#8e8e8e" stroke-width="1"/>
<ellipse cx="1146.8" cy="980.4" rx="1.5" ry="1.6" fill="none" stroke="#8e8e8e" stroke-width="1.15"/>
<path d="M1140.5,983.1 a2,2 0 1 1 -2.5,-0.2" fill="none" stroke="#9a9a9a" stroke-width="1"/>
<circle cx="1148.3" cy="985.6" r="1.0" fill="#9a9a9a"/>
<ellipse cx="1138.9" cy="990.4" rx="1.7" ry="1.9" fill="none" stroke="#9a9a9a" stroke-width="1.15"/>
<ellipse cx="1143.3" cy="993.9" rx="1.9" ry="2.3" fill="none" stroke="#8e8e8e" stroke-width="1.15"/>
<path d="M1146.4,996.8 a2,2 0 1 1 -1.2,2.2" fill="none" stroke="#a6a6a6" stroke-width="1"/>
<ellipse cx="1139.4" cy="1001.9" rx="1.3" ry="2.5" fill="none" stroke="#9a9a9a" stroke-width="1.15"/>
<path d="M1138.0,1002.5 a2,2 0 1 1 -1.3,-2.1" fill="none" stroke="#8e8e8e" stroke-width="1"/>
<ellipse cx="1141.0" cy="1007.4" rx="1.8" ry="2.4" fill="none" stroke="#a6a6a6" stroke-width="1.15"/>
<ellipse cx="1140.1" cy="1012.0" rx="2.2" ry="1.9" fill="none" stroke="#8e8e8e" stroke-width="1.15"/>
<circle cx="1140.4" cy="1013.1" r="1.2" fill="#8e8e8e"/>
<ellipse cx="1135.9" cy="1017.0" rx="1.8" ry="2.3" fill="none" stroke="#a6a6a6" stroke-width="1.15"/>
<path d="M1145.4,1022.2 a2,2 0 1 1 -2.4,-0.8" fill="none" stroke="#9a9a9a" stroke-width="1"/>
<circle cx="1136.8" cy="1025.1" r="1.0" fill="#8e8e8e"/>
<path d="M1139.1,1027.6 a2,2 0 1 1 1.2,-2.2" fill="none" stroke="#a6a6a6" stroke-width="1"/>
<ellipse cx="1144.1" cy="1033.0" rx="2.1" ry="2.0" fill="none" stroke="#8e8e8e" stroke-width="1.15"/>
<path d="M1141.1,1037.3 a2,2 0 1 1 2.3,-1.0" fill="none" stroke="#a6a6a6" stroke-width="1"/>
<circle cx="1136.1" cy="1039.6" r="1.4" fill="#a6a6a6"/>
<path d="M1144.8,1041.8 a2,2 0 1 1 2.1,-1.4" fill="none" stroke="#8e8e8e" stroke-width="1"/>
<circle cx="1147.8" cy="1044.5" r="1.1" fill="#8e8e8e"/>
<circle cx="1146.2" cy="1050.3" r="1.0" fill="#8e8e8e"/>
<ellipse cx="1147.1" cy="1052.6" rx="1.7" ry="2.5" fill="none" stroke="#9a9a9a" stroke-width="1.15"/>
<ellipse cx="1135.3" cy="1057.4" rx="1.6" ry="1.9" fill="none" stroke="#a6a6a6" stroke-width="1.15"/>
<path d="M1147.4,1061.5 a2,2 0 1 1 -2.0,-1.5" fill="none" stroke="#9a9a9a" stroke-width="1"/>
<ellipse cx="1148.1" cy="1063.8" rx="2.0" ry="1.8" fill="none" stroke="#8e8e8e" stroke-width="1.15"/>
<circle cx="1136.2" cy="1068.6" r="1.2" fill="#a6a6a6"/>
<circle cx="1146.9" cy="1070.2" r="1.3" fill="#9a9a9a"/>
<path d="M1141.2,1073.0 a2,2 0 1 1 -0.3,2.5" fill="none" stroke="#9a9a9a" stroke-width="1"/>
<ellipse cx="1147.9" cy="1077.6" rx="1.7" ry="1.8" fill="none" stroke="#9a9a9a" stroke-width="1.15"/>
<circle cx="1137.9" cy="1082.7" r="1.1" fill="#a6a6a6"/>
<path d="M1141.5,1085.0 a2,2 0 1 1 -1.6,2.0" fill="none" stroke="#a6a6a6" stroke-width="1"/>
<path d="M1137.8,1087.5 a2,2 0 1 1 2.3,-1.0" fill="none" stroke="#a6a6a6" stroke-width="1"/>
<circle cx="1137.1" cy="1092.5" r="1.1" fill="#8e8e8e"/>
<ellipse cx="1141.8" cy="1096.1" rx="1.5" ry="2.2" fill="none" stroke="#a6a6a6" stroke-width="1.15"/>
<ellipse cx="1147.2" cy="1097.7" rx="1.8" ry="2.0" fill="none" stroke="#8e8e8e" stroke-width="1.15"/>
<circle cx="1142.8" cy="1101.1" r="1.3" fill="#8e8e8e"/>
<ellipse cx="1139.1" cy="1106.6" rx="1.9" ry="2.2" fill="none" stroke="#a6a6a6" stroke-width="1.15"/>
<ellipse cx="1136.7" cy="1110.0" rx="2.1" ry="2.3" fill="none" stroke="#8e8e8e" stroke-width="1.15"/>
<circle cx="1146.0" cy="1112.3" r="1.0" fill="#9a9a9a"/>
<circle cx="1136.4" cy="1115.7" r="1.1" fill="#8e8e8e"/>
<ellipse cx="1143.7" cy="1119.3" rx="1.5" ry="2.2" fill="none" stroke="#8e8e8e" stroke-width="1.15"/>
<circle cx="1137.6" cy="1122.9" r="1.2" fill="#9a9a9a"/>
<path d="M1141.6,1125.1 a2,2 0 1 1 -2.3,0.9" fill="none" stroke="#8e8e8e" stroke-width="1"/>
<ellipse cx="1147.0" cy="1130.5" rx="1.5" ry="2.4" fill="none" stroke="#9a9a9a" stroke-width="1.15"/>
<ellipse cx="1139.1" cy="1134.3" rx="1.5" ry="1.9" fill="none" stroke="#a6a6a6" stroke-width="1.15"/>
<path d="M1136.4,1138.0 a2,2 0 1 1 -0.9,-2.3" fill="none" stroke="#8e8e8e" stroke-width="1"/>
<path d="M1137.1,1140.6 a2,2 0 1 1 2.3,0.9" fill="none" stroke="#8e8e8e" stroke-width="1"/>
<ellipse cx="1142.7" cy="1145.4" rx="1.4" ry="1.9" fill="none" stroke="#8e8e8e" stroke-width="1.15"/>
<ellipse cx="1136.2" cy="1147.4" rx="2.2" ry="1.8" fill="none" stroke="#9a9a9a" stroke-width="1.15"/>
<circle cx="1138.3" cy="1152.3" r="1.3" fill="#8e8e8e"/>
<circle cx="1136.5" cy="1155.3" r="1.3" fill="#9a9a9a"/>
<ellipse cx="1148.4" cy="1156.9" rx="1.7" ry="2.5" fill="none" stroke="#9a9a9a" stroke-width="1.15"/>
<ellipse cx="1140.3" cy="1160.8" rx="2.0" ry="2.3" fill="none" stroke="#a6a6a6" stroke-width="1.15"/>
<path d="M1142.9,1165.0 a2,2 0 1 1 1.1,2.2" fill="none" stroke="#9a9a9a" stroke-width="1"/>
<circle cx="1140.5" cy="1169.8" r="0.9" fill="#a6a6a6"/>
<path d="M1137.9,1173.5 a2,2 0 1 1 -2.5,-0.1" fill="none" stroke="#a6a6a6" stroke-width="1"/>
<path d="M1136.6,1176.1 a2,2 0 1 1 2.5,-0.3" fill="none" stroke="#9a9a9a" stroke-width="1"/>
<circle cx="1135.2" cy="1179.3" r="1.1" fill="#8e8e8e"/>
<path d="M1136.8,1181.7 a2,2 0 1 1 2.3,-1.0" fill="none" stroke="#a6a6a6" stroke-width="1"/>
<ellipse cx="1136.9" cy="1185.5" rx="1.3" ry="2.0" fill="none" stroke="#9a9a9a" stroke-width="1.15"/>
<ellipse cx="1139.4" cy="1189.7" rx="1.3" ry="1.7" fill="none" stroke="#8e8e8e" stroke-width="1.15"/>
<path d="M1135.6,1192.2 a2,2 0 1 1 0.9,-2.3" fill="none" stroke="#a6a6a6" stroke-width="1"/>
<ellipse cx="1136.6" cy="1197.2" rx="1.3" ry="2.3" fill="none" stroke="#9a9a9a" stroke-width="1.15"/>
<circle cx="1140.0" cy="1198.7" r="1.3" fill="#a6a6a6"/>
<circle cx="1147.1" cy="1202.0" r="1.4" fill="#9a9a9a"/>
<ellipse cx="1140.2" cy="1206.6" rx="1.6" ry="2.2" fill="none" stroke="#8e8e8e" stroke-width="1.15"/>
<path d="M1146.2,1210.0 a2,2 0 1 1 1.3,-2.2" fill="none" stroke="#9a9a9a" stroke-width="1"/>
<ellipse cx="1142.9" cy="1214.4" rx="1.5" ry="2.0" fill="none" stroke="#8e8e8e" stroke-width="1.15"/>
<circle cx="1143.2" cy="1216.9" r="1.1" fill="#8e8e8e"/>
<ellipse cx="1147.7" cy="1222.2" rx="1.3" ry="1.7" fill="none" stroke="#a6a6a6" stroke-width="1.15"/>
<path d="M1143.3,1224.9 a2,2 0 1 1 -2.3,0.9" fill="none" stroke="#a6a6a6" stroke-width="1"/>
<path d="M1145.3,1226.4 a2,2 0 1 1 -0.8,2.4" fill="none" stroke="#9a9a9a" stroke-width="1"/>
<circle cx="1144.7" cy="1229.6" r="1.3" fill="#8e8e8e"/>
<circle cx="1136.2" cy="1233.2" r="0.9" fill="#a6a6a6"/>
<circle cx="1136.2" cy="1237.2" r="1.0" fill="#8e8e8e"/>
<circle cx="1148.1" cy="1241.6" r="1.3" fill="#9a9a9a"/>
<ellipse cx="1135.6" cy="1246.1" rx="1.7" ry="2.2" fill="none" stroke="#a6a6a6" stroke-width="1.15"/>
<ellipse cx="1146.7" cy="1247.4" rx="1.5" ry="2.4" fill="none" stroke="#a6a6a6" stroke-width="1.15"/>
<ellipse cx="1146.6" cy="1252.9" rx="1.7" ry="1.9" fill="none" stroke="#a6a6a6" stroke-width="1.15"/>
<ellipse cx="1142.9" cy="1255.1" rx="1.8" ry="1.7" fill="none" stroke="#a6a6a6" stroke-width="1.15"/>
<circle cx="1142.0" cy="1258.7" r="1.2" fill="#9a9a9a"/>
<circle cx="1141.8" cy="1263.5" r="1.4" fill="#9a9a9a"/>
<circle cx="1141.9" cy="1266.6" r="1.4" fill="#8e8e8e"/>
<clipPath id="gclip"><rect x="1152" y="562.5" width="700" height="430"/></clipPath>
<g fill="none" stroke-width="1.45" clip-path="url(#gclip)"><ellipse cx="1158.2" cy="569.4" rx="4.4" ry="3.3" transform="rotate(130 1158.2 569.4)" stroke="#808080"/><ellipse cx="1168.2" cy="567.2" rx="4.8" ry="3.6" transform="rotate(71 1168.2 567.2)" stroke="#a4a4a4"/><ellipse cx="1177.2" cy="567.5" rx="4.4" ry="3.5" transform="rotate(114 1177.2 567.5)" stroke="#808080"/><ellipse cx="1186.2" cy="569.1" rx="3.5" ry="2.6" transform="rotate(127 1186.2 569.1)" stroke="#989898"/><ellipse cx="1193.8" cy="569.0" rx="4.3" ry="3.9" transform="rotate(73 1193.8 569.0)" stroke="#a4a4a4"/><ellipse cx="1202.5" cy="568.2" rx="3.6" ry="3.0" transform="rotate(77 1202.5 568.2)" stroke="#a4a4a4"/><ellipse cx="1212.1" cy="567.7" rx="4.6" ry="4.0" transform="rotate(125 1212.1 567.7)" stroke="#8c8c8c"/><ellipse cx="1219.8" cy="569.4" rx="4.2" ry="3.3" transform="rotate(79 1219.8 569.4)" stroke="#808080"/><ellipse cx="1230.1" cy="567.5" rx="3.6" ry="3.0" transform="rotate(67 1230.1 567.5)" stroke="#8c8c8c"/><ellipse cx="1239.0" cy="567.4" rx="4.3" ry="3.9" transform="rotate(115 1239.0 567.4)" stroke="#8c8c8c"/><ellipse cx="1246.2" cy="568.2" rx="3.4" ry="2.8" transform="rotate(80 1246.2 568.2)" stroke="#747474"/><ellipse cx="1255.5" cy="569.4" rx="3.6" ry="3.2" transform="rotate(82 1255.5 569.4)" stroke="#808080"/><ellipse cx="1261.3" cy="569.1" rx="4.3" ry="3.6" transform="rotate(70 1261.3 569.1)" stroke="#8c8c8c"/><ellipse cx="1268.9" cy="568.7" rx="3.5" ry="3.1" transform="rotate(111 1268.9 568.7)" stroke="#a4a4a4"/><ellipse cx="1277.9" cy="569.4" rx="4.5" ry="3.7" transform="rotate(115 1277.9 569.4)" stroke="#808080"/><ellipse cx="1286.6" cy="568.0" rx="3.7" ry="2.7" transform="rotate(129 1286.6 568.0)" stroke="#8c8c8c"/><ellipse cx="1296.5" cy="569.4" rx="4.3" ry="3.4" transform="rotate(124 1296.5 569.4)" stroke="#8c8c8c"/><ellipse cx="1302.4" cy="567.8" rx="4.6" ry="4.2" transform="rotate(71 1302.4 567.8)" stroke="#8c8c8c"/><ellipse cx="1314.0" cy="568.3" rx="4.1" ry="3.6" transform="rotate(75 1314.0 568.3)" stroke="#747474"/><ellipse cx="1321.1" cy="567.3" rx="4.6" ry="3.9" transform="rotate(107 1321.1 567.3)" stroke="#808080"/><ellipse cx="1329.6" cy="568.0" rx="4.9" ry="4.5" transform="rotate(86 1329.6 568.0)" stroke="#747474"/><ellipse cx="1337.4" cy="569.9" rx="3.7" ry="2.7" transform="rotate(86 1337.4 569.9)" stroke="#747474"/><ellipse cx="1348.3" cy="568.5" rx="3.5" ry="2.7" transform="rotate(61 1348.3 568.5)" stroke="#747474"/><ellipse cx="1355.5" cy="567.9" rx="4.2" ry="3.3" transform="rotate(102 1355.5 567.9)" stroke="#a4a4a4"/><ellipse cx="1362.1" cy="569.4" rx="4.1" ry="3.1" transform="rotate(129 1362.1 569.4)" stroke="#747474"/><ellipse cx="1369.6" cy="568.3" rx="4.7" ry="4.1" transform="rotate(127 1369.6 568.3)" stroke="#747474"/><ellipse cx="1379.7" cy="567.0" rx="4.0" ry="3.1" transform="rotate(100 1379.7 567.0)" stroke="#747474"/><ellipse cx="1387.9" cy="567.3" rx="3.6" ry="3.0" transform="rotate(90 1387.9 567.3)" stroke="#989898"/><ellipse cx="1397.3" cy="567.3" rx="4.4" ry="3.9" transform="rotate(129 1397.3 567.3)" stroke="#8c8c8c"/><ellipse cx="1405.4" cy="569.0" rx="3.8" ry="3.5" transform="rotate(116 1405.4 569.0)" stroke="#808080"/><ellipse cx="1412.3" cy="567.3" rx="4.4" ry="3.7" transform="rotate(54 1412.3 567.3)" stroke="#8c8c8c"/><ellipse cx="1422.0" cy="568.7" rx="4.9" ry="4.1" transform="rotate(129 1422.0 568.7)" stroke="#747474"/><ellipse cx="1430.1" cy="568.9" rx="4.3" ry="3.2" transform="rotate(109 1430.1 568.9)" stroke="#8c8c8c"/><ellipse cx="1437.9" cy="569.1" rx="4.9" ry="3.6" transform="rotate(76 1437.9 569.1)" stroke="#747474"/><ellipse cx="1446.1" cy="569.7" rx="3.7" ry="2.8" transform="rotate(109 1446.1 569.7)" stroke="#808080"/><ellipse cx="1456.4" cy="569.9" rx="4.6" ry="3.9" transform="rotate(61 1456.4 569.9)" stroke="#747474"/><ellipse cx="1463.7" cy="568.2" rx="4.0" ry="3.5" transform="rotate(64 1463.7 568.2)" stroke="#a4a4a4"/><ellipse cx="1472.5" cy="568.1" rx="4.2" ry="3.7" transform="rotate(54 1472.5 568.1)" stroke="#747474"/><ellipse cx="1481.7" cy="568.2" rx="4.3" ry="3.9" transform="rotate(55 1481.7 568.2)" stroke="#8c8c8c"/><ellipse cx="1487.8" cy="569.8" rx="4.3" ry="3.1" transform="rotate(120 1487.8 569.8)" stroke="#989898"/><ellipse cx="1495.5" cy="569.5" rx="4.7" ry="3.6" transform="rotate(125 1495.5 569.5)" stroke="#8c8c8c"/><ellipse cx="1502.9" cy="569.6" rx="4.7" ry="3.5" transform="rotate(111 1502.9 569.6)" stroke="#989898"/><ellipse cx="1513.9" cy="570.0" rx="3.9" ry="3.5" transform="rotate(124 1513.9 570.0)" stroke="#8c8c8c"/><ellipse cx="1521.6" cy="567.4" rx="4.5" ry="3.6" transform="rotate(114 1521.6 567.4)" stroke="#a4a4a4"/><ellipse cx="1529.4" cy="569.6" rx="4.8" ry="3.7" transform="rotate(106 1529.4 569.6)" stroke="#747474"/><ellipse cx="1537.5" cy="567.0" rx="3.9" ry="3.4" transform="rotate(124 1537.5 567.0)" stroke="#989898"/><ellipse cx="1547.3" cy="568.3" rx="3.5" ry="2.8" transform="rotate(64 1547.3 568.3)" stroke="#808080"/><ellipse cx="1555.3" cy="567.3" rx="4.5" ry="3.3" transform="rotate(70 1555.3 567.3)" stroke="#747474"/><ellipse cx="1563.6" cy="568.3" rx="3.4" ry="2.7" transform="rotate(69 1563.6 568.3)" stroke="#989898"/><ellipse cx="1573.6" cy="568.6" rx="4.5" ry="3.4" transform="rotate(81 1573.6 568.6)" stroke="#8c8c8c"/><ellipse cx="1580.4" cy="567.4" rx="4.1" ry="3.3" transform="rotate(65 1580.4 567.4)" stroke="#989898"/><ellipse cx="1589.3" cy="567.3" rx="3.6" ry="2.6" transform="rotate(86 1589.3 567.3)" stroke="#989898"/><ellipse cx="1596.1" cy="567.3" rx="4.2" ry="3.7" transform="rotate(63 1596.1 567.3)" stroke="#989898"/><ellipse cx="1163.9" cy="577.0" rx="3.9" ry="3.3" transform="rotate(95 1163.9 577.0)" stroke="#747474"/><ellipse cx="1172.8" cy="575.0" rx="4.2" ry="3.3" transform="rotate(86 1172.8 575.0)" stroke="#989898"/><ellipse cx="1181.3" cy="576.4" rx="4.3" ry="3.7" transform="rotate(100 1181.3 576.4)" stroke="#808080"/><ellipse cx="1190.1" cy="576.7" rx="4.1" ry="3.7" transform="rotate(52 1190.1 576.7)" stroke="#a4a4a4"/><ellipse cx="1198.5" cy="576.6" rx="3.7" ry="3.3" transform="rotate(87 1198.5 576.6)" stroke="#989898"/><ellipse cx="1208.3" cy="576.2" rx="3.5" ry="3.0" transform="rotate(129 1208.3 576.2)" stroke="#8c8c8c"/><ellipse cx="1215.7" cy="575.8" rx="4.8" ry="4.4" transform="rotate(101 1215.7 575.8)" stroke="#8c8c8c"/><ellipse cx="1223.3" cy="575.0" rx="3.6" ry="3.1" transform="rotate(111 1223.3 575.0)" stroke="#989898"/><ellipse cx="1233.0" cy="576.0" rx="3.8" ry="3.2" transform="rotate(91 1233.0 576.0)" stroke="#989898"/><ellipse cx="1240.5" cy="577.1" rx="4.6" ry="3.3" transform="rotate(90 1240.5 577.1)" stroke="#a4a4a4"/><ellipse cx="1247.3" cy="574.6" rx="4.0" ry="3.5" transform="rotate(121 1247.3 574.6)" stroke="#808080"/><ellipse cx="1256.3" cy="576.8" rx="4.1" ry="3.0" transform="rotate(109 1256.3 576.8)" stroke="#808080"/><ellipse cx="1266.2" cy="575.2" rx="4.9" ry="4.3" transform="rotate(74 1266.2 575.2)" stroke="#747474"/><ellipse cx="1272.7" cy="575.4" rx="3.6" ry="2.6" transform="rotate(76 1272.7 575.4)" stroke="#989898"/><ellipse cx="1281.3" cy="575.4" rx="3.8" ry="2.9" transform="rotate(65 1281.3 575.4)" stroke="#989898"/><ellipse cx="1292.5" cy="576.4" rx="3.6" ry="3.1" transform="rotate(115 1292.5 576.4)" stroke="#a4a4a4"/><ellipse cx="1298.2" cy="575.2" rx="3.8" ry="2.9" transform="rotate(115 1298.2 575.2)" stroke="#a4a4a4"/><ellipse cx="1306.0" cy="576.6" rx="3.4" ry="2.8" transform="rotate(119 1306.0 576.6)" stroke="#8c8c8c"/><ellipse cx="1313.9" cy="576.2" rx="3.9" ry="3.4" transform="rotate(78 1313.9 576.2)" stroke="#989898"/><ellipse cx="1324.2" cy="577.1" rx="4.0" ry="3.7" transform="rotate(51 1324.2 577.1)" stroke="#747474"/><ellipse cx="1332.4" cy="576.0" rx="4.4" ry="3.6" transform="rotate(85 1332.4 576.0)" stroke="#a4a4a4"/><ellipse cx="1339.7" cy="577.1" rx="4.2" ry="3.7" transform="rotate(76 1339.7 577.1)" stroke="#747474"/><ellipse cx="1348.8" cy="576.2" rx="3.6" ry="3.2" transform="rotate(114 1348.8 576.2)" stroke="#a4a4a4"/><ellipse cx="1357.4" cy="575.7" rx="4.4" ry="3.8" transform="rotate(66 1357.4 575.7)" stroke="#8c8c8c"/><ellipse cx="1365.0" cy="575.0" rx="4.9" ry="3.7" transform="rotate(62 1365.0 575.0)" stroke="#989898"/><ellipse cx="1374.2" cy="576.4" rx="3.6" ry="2.7" transform="rotate(70 1374.2 576.4)" stroke="#a4a4a4"/><ellipse cx="1383.9" cy="575.5" rx="4.8" ry="4.2" transform="rotate(104 1383.9 575.5)" stroke="#a4a4a4"/><ellipse cx="1392.0" cy="577.0" rx="4.6" ry="3.5" transform="rotate(68 1392.0 577.0)" stroke="#808080"/><ellipse cx="1400.0" cy="575.1" rx="4.6" ry="3.9" transform="rotate(73 1400.0 575.1)" stroke="#a4a4a4"/><ellipse cx="1409.4" cy="574.7" rx="3.6" ry="2.8" transform="rotate(60 1409.4 574.7)" stroke="#808080"/><ellipse cx="1417.1" cy="576.9" rx="4.2" ry="3.3" transform="rotate(91 1417.1 576.9)" stroke="#747474"/><ellipse cx="1427.4" cy="576.5" rx="4.3" ry="3.5" transform="rotate(76 1427.4 576.5)" stroke="#808080"/><ellipse cx="1433.4" cy="576.2" rx="3.8" ry="2.9" transform="rotate(70 1433.4 576.2)" stroke="#808080"/><ellipse cx="1442.2" cy="575.7" rx="4.7" ry="3.7" transform="rotate(90 1442.2 575.7)" stroke="#747474"/><ellipse cx="1450.9" cy="575.4" rx="5.0" ry="3.8" transform="rotate(107 1450.9 575.4)" stroke="#747474"/><ellipse cx="1457.6" cy="575.6" rx="4.2" ry="3.8" transform="rotate(126 1457.6 575.6)" stroke="#747474"/><ellipse cx="1465.4" cy="575.2" rx="3.9" ry="3.3" transform="rotate(77 1465.4 575.2)" stroke="#747474"/><ellipse cx="1475.4" cy="575.3" rx="4.9" ry="3.9" transform="rotate(127 1475.4 575.3)" stroke="#989898"/><ellipse cx="1483.7" cy="576.9" rx="3.6" ry="3.2" transform="rotate(112 1483.7 576.9)" stroke="#808080"/><ellipse cx="1491.1" cy="577.0" rx="3.6" ry="3.1" transform="rotate(108 1491.1 577.0)" stroke="#8c8c8c"/><ellipse cx="1499.1" cy="574.4" rx="4.3" ry="3.3" transform="rotate(100 1499.1 574.4)" stroke="#989898"/><ellipse cx="1509.5" cy="575.0" rx="4.3" ry="3.1" transform="rotate(89 1509.5 575.0)" stroke="#747474"/><ellipse cx="1515.8" cy="575.8" rx="3.7" ry="3.2" transform="rotate(55 1515.8 575.8)" stroke="#747474"/><ellipse cx="1525.7" cy="574.2" rx="3.6" ry="3.0" transform="rotate(89 1525.7 574.2)" stroke="#a4a4a4"/><ellipse cx="1532.8" cy="576.9" rx="4.1" ry="3.4" transform="rotate(92 1532.8 576.9)" stroke="#8c8c8c"/><ellipse cx="1542.4" cy="576.3" rx="3.7" ry="2.8" transform="rotate(122 1542.4 576.3)" stroke="#a4a4a4"/><ellipse cx="1548.9" cy="575.2" rx="4.8" ry="3.9" transform="rotate(106 1548.9 575.2)" stroke="#a4a4a4"/><ellipse cx="1557.4" cy="577.0" rx="4.7" ry="4.1" transform="rotate(53 1557.4 577.0)" stroke="#808080"/><ellipse cx="1566.9" cy="574.5" rx="4.2" ry="3.7" transform="rotate(61 1566.9 574.5)" stroke="#989898"/><ellipse cx="1573.6" cy="574.4" rx="4.9" ry="3.9" transform="rotate(58 1573.6 574.4)" stroke="#a4a4a4"/><ellipse cx="1582.3" cy="575.7" rx="3.6" ry="2.7" transform="rotate(69 1582.3 575.7)" stroke="#808080"/><ellipse cx="1590.5" cy="574.2" rx="4.9" ry="4.0" transform="rotate(120 1590.5 574.2)" stroke="#808080"/><ellipse cx="1157.6" cy="583.0" rx="4.4" ry="3.8" transform="rotate(63 1157.6 583.0)" stroke="#8c8c8c"/><ellipse cx="1166.2" cy="582.4" rx="4.8" ry="4.2" transform="rotate(85 1166.2 582.4)" stroke="#747474"/><ellipse cx="1176.6" cy="583.3" rx="4.6" ry="3.8" transform="rotate(95 1176.6 583.3)" stroke="#747474"/><ellipse cx="1185.0" cy="582.9" rx="4.6" ry="3.8" transform="rotate(60 1185.0 582.9)" stroke="#989898"/><ellipse cx="1192.2" cy="582.1" rx="4.2" ry="3.5" transform="rotate(62 1192.2 582.1)" stroke="#8c8c8c"/><ellipse cx="1202.8" cy="581.7" rx="3.4" ry="3.0" transform="rotate(82 1202.8 581.7)" stroke="#989898"/><ellipse cx="1208.1" cy="581.5" rx="4.3" ry="3.2" transform="rotate(54 1208.1 581.5)" stroke="#8c8c8c"/><ellipse cx="1218.9" cy="584.1" rx="4.9" ry="3.7" transform="rotate(104 1218.9 584.1)" stroke="#989898"/><ellipse cx="1226.8" cy="583.8" rx="4.2" ry="3.3" transform="rotate(69 1226.8 583.8)" stroke="#8c8c8c"/><ellipse cx="1234.0" cy="584.3" rx="4.5" ry="3.7" transform="rotate(62 1234.0 584.3)" stroke="#747474"/><ellipse cx="1241.1" cy="583.6" rx="4.1" ry="3.4" transform="rotate(113 1241.1 583.6)" stroke="#a4a4a4"/><ellipse cx="1250.0" cy="581.4" rx="4.1" ry="3.3" transform="rotate(107 1250.0 581.4)" stroke="#747474"/><ellipse cx="1257.9" cy="582.0" rx="4.8" ry="3.6" transform="rotate(99 1257.9 582.0)" stroke="#808080"/><ellipse cx="1267.0" cy="584.3" rx="4.6" ry="3.3" transform="rotate(120 1267.0 584.3)" stroke="#747474"/><ellipse cx="1274.2" cy="583.3" rx="4.4" ry="3.5" transform="rotate(53 1274.2 583.3)" stroke="#747474"/><ellipse cx="1281.6" cy="584.0" rx="4.3" ry="3.2" transform="rotate(128 1281.6 584.0)" stroke="#8c8c8c"/><ellipse cx="1290.5" cy="582.2" rx="4.7" ry="3.5" transform="rotate(71 1290.5 582.2)" stroke="#989898"/><ellipse cx="1298.2" cy="583.1" rx="4.1" ry="3.7" transform="rotate(108 1298.2 583.1)" stroke="#808080"/><ellipse cx="1306.8" cy="582.6" rx="4.2" ry="3.3" transform="rotate(112 1306.8 582.6)" stroke="#747474"/><ellipse cx="1315.5" cy="582.1" rx="5.0" ry="4.1" transform="rotate(105 1315.5 582.1)" stroke="#989898"/><ellipse cx="1324.8" cy="581.8" rx="4.9" ry="4.5" transform="rotate(116 1324.8 581.8)" stroke="#a4a4a4"/><ellipse cx="1331.5" cy="581.9" rx="3.9" ry="3.4" transform="rotate(93 1331.5 581.9)" stroke="#747474"/><ellipse cx="1341.8" cy="581.9" rx="4.9" ry="3.6" transform="rotate(59 1341.8 581.9)" stroke="#8c8c8c"/><ellipse cx="1349.2" cy="582.1" rx="3.9" ry="3.0" transform="rotate(78 1349.2 582.1)" stroke="#747474"/><ellipse cx="1359.6" cy="583.3" rx="3.6" ry="2.6" transform="rotate(63 1359.6 583.3)" stroke="#8c8c8c"/><ellipse cx="1366.6" cy="583.3" rx="4.8" ry="3.6" transform="rotate(89 1366.6 583.3)" stroke="#a4a4a4"/><ellipse cx="1376.4" cy="581.5" rx="5.0" ry="3.8" transform="rotate(118 1376.4 581.5)" stroke="#747474"/><ellipse cx="1385.8" cy="583.7" rx="4.3" ry="3.7" transform="rotate(110 1385.8 583.7)" stroke="#a4a4a4"/><ellipse cx="1394.2" cy="582.2" rx="3.8" ry="2.8" transform="rotate(129 1394.2 582.2)" stroke="#747474"/><ellipse cx="1400.8" cy="583.1" rx="4.4" ry="3.5" transform="rotate(72 1400.8 583.1)" stroke="#808080"/><ellipse cx="1411.7" cy="582.9" rx="3.9" ry="3.2" transform="rotate(122 1411.7 582.9)" stroke="#a4a4a4"/><ellipse cx="1417.3" cy="582.9" rx="4.2" ry="3.5" transform="rotate(108 1417.3 582.9)" stroke="#a4a4a4"/><ellipse cx="1425.1" cy="583.9" rx="3.4" ry="2.7" transform="rotate(61 1425.1 583.9)" stroke="#a4a4a4"/><ellipse cx="1432.8" cy="582.3" rx="4.7" ry="4.2" transform="rotate(127 1432.8 582.3)" stroke="#a4a4a4"/><ellipse cx="1443.4" cy="582.6" rx="3.6" ry="3.1" transform="rotate(76 1443.4 582.6)" stroke="#808080"/><ellipse cx="1450.7" cy="581.9" rx="3.9" ry="2.9" transform="rotate(76 1450.7 581.9)" stroke="#808080"/><ellipse cx="1459.8" cy="581.6" rx="3.9" ry="3.6" transform="rotate(119 1459.8 581.6)" stroke="#747474"/><ellipse cx="1468.1" cy="583.7" rx="4.3" ry="3.2" transform="rotate(70 1468.1 583.7)" stroke="#747474"/><ellipse cx="1475.1" cy="584.0" rx="3.4" ry="2.5" transform="rotate(64 1475.1 584.0)" stroke="#989898"/><ellipse cx="1485.8" cy="582.3" rx="3.6" ry="3.2" transform="rotate(105 1485.8 582.3)" stroke="#8c8c8c"/><ellipse cx="1493.2" cy="584.2" rx="4.1" ry="3.5" transform="rotate(53 1493.2 584.2)" stroke="#8c8c8c"/><ellipse cx="1500.7" cy="583.6" rx="4.8" ry="3.8" transform="rotate(105 1500.7 583.6)" stroke="#989898"/><ellipse cx="1509.1" cy="583.0" rx="4.3" ry="3.5" transform="rotate(61 1509.1 583.0)" stroke="#747474"/><ellipse cx="1518.1" cy="581.6" rx="3.7" ry="3.4" transform="rotate(53 1518.1 581.6)" stroke="#a4a4a4"/><ellipse cx="1527.7" cy="581.9" rx="4.9" ry="4.0" transform="rotate(61 1527.7 581.9)" stroke="#808080"/><ellipse cx="1533.0" cy="583.4" rx="4.4" ry="3.9" transform="rotate(105 1533.0 583.4)" stroke="#808080"/><ellipse cx="1540.0" cy="582.1" rx="4.6" ry="3.5" transform="rotate(93 1540.0 582.1)" stroke="#808080"/><ellipse cx="1549.0" cy="584.1" rx="4.6" ry="3.7" transform="rotate(88 1549.0 584.1)" stroke="#8c8c8c"/><ellipse cx="1557.0" cy="582.1" rx="3.9" ry="3.2" transform="rotate(113 1557.0 582.1)" stroke="#747474"/><ellipse cx="1565.2" cy="583.4" rx="4.1" ry="3.4" transform="rotate(114 1565.2 583.4)" stroke="#a4a4a4"/><ellipse cx="1572.6" cy="583.5" rx="5.0" ry="4.3" transform="rotate(94 1572.6 583.5)" stroke="#a4a4a4"/><ellipse cx="1579.3" cy="583.5" rx="4.7" ry="3.7" transform="rotate(130 1579.3 583.5)" stroke="#989898"/><ellipse cx="1586.0" cy="581.6" rx="4.3" ry="3.4" transform="rotate(71 1586.0 581.6)" stroke="#989898"/><ellipse cx="1595.6" cy="583.0" rx="4.8" ry="4.3" transform="rotate(96 1595.6 583.0)" stroke="#a4a4a4"/><ellipse cx="1164.4" cy="590.9" rx="4.7" ry="3.5" transform="rotate(60 1164.4 590.9)" stroke="#8c8c8c"/><ellipse cx="1172.2" cy="591.5" rx="4.5" ry="3.4" transform="rotate(69 1172.2 591.5)" stroke="#808080"/><ellipse cx="1178.5" cy="589.5" rx="3.5" ry="2.9" transform="rotate(74 1178.5 589.5)" stroke="#a4a4a4"/><ellipse cx="1188.6" cy="591.0" rx="4.3" ry="3.7" transform="rotate(64 1188.6 591.0)" stroke="#989898"/><ellipse cx="1195.6" cy="588.8" rx="4.1" ry="3.5" transform="rotate(65 1195.6 588.8)" stroke="#a4a4a4"/><ellipse cx="1206.5" cy="591.1" rx="4.2" ry="3.2" transform="rotate(72 1206.5 591.1)" stroke="#a4a4a4"/><ellipse cx="1214.0" cy="588.7" rx="4.0" ry="3.1" transform="rotate(98 1214.0 588.7)" stroke="#747474"/><ellipse cx="1225.7" cy="589.7" rx="4.5" ry="4.0" transform="rotate(61 1225.7 589.7)" stroke="#747474"/><ellipse cx="1234.1" cy="588.9" rx="4.3" ry="3.7" transform="rotate(129 1234.1 588.9)" stroke="#a4a4a4"/><ellipse cx="1240.3" cy="591.7" rx="4.3" ry="3.9" transform="rotate(70 1240.3 591.7)" stroke="#747474"/><ellipse cx="1248.1" cy="590.8" rx="4.4" ry="3.3" transform="rotate(94 1248.1 590.8)" stroke="#989898"/><ellipse cx="1256.7" cy="591.2" rx="3.4" ry="2.8" transform="rotate(126 1256.7 591.2)" stroke="#8c8c8c"/><ellipse cx="1263.3" cy="588.9" rx="4.3" ry="3.5" transform="rotate(87 1263.3 588.9)" stroke="#a4a4a4"/><ellipse cx="1272.8" cy="590.8" rx="4.0" ry="3.0" transform="rotate(56 1272.8 590.8)" stroke="#989898"/><ellipse cx="1281.5" cy="589.2" rx="4.5" ry="4.0" transform="rotate(125 1281.5 589.2)" stroke="#8c8c8c"/><ellipse cx="1292.5" cy="590.7" rx="4.7" ry="3.8" transform="rotate(95 1292.5 590.7)" stroke="#808080"/><ellipse cx="1300.6" cy="590.3" rx="4.8" ry="3.5" transform="rotate(114 1300.6 590.3)" stroke="#989898"/><ellipse cx="1307.0" cy="591.2" rx="3.9" ry="2.9" transform="rotate(105 1307.0 591.2)" stroke="#a4a4a4"/><ellipse cx="1314.1" cy="591.1" rx="4.8" ry="4.3" transform="rotate(64 1314.1 591.1)" stroke="#747474"/><ellipse cx="1323.0" cy="591.2" rx="3.9" ry="2.9" transform="rotate(71 1323.0 591.2)" stroke="#808080"/><ellipse cx="1334.3" cy="589.3" rx="3.5" ry="3.0" transform="rotate(59 1334.3 589.3)" stroke="#808080"/><ellipse cx="1340.6" cy="589.0" rx="4.1" ry="3.8" transform="rotate(125 1340.6 589.0)" stroke="#989898"/><ellipse cx="1347.7" cy="589.8" rx="4.1" ry="3.4" transform="rotate(104 1347.7 589.8)" stroke="#747474"/><ellipse cx="1358.2" cy="589.0" rx="4.6" ry="3.9" transform="rotate(80 1358.2 589.0)" stroke="#808080"/><ellipse cx="1364.9" cy="589.9" rx="5.0" ry="3.9" transform="rotate(61 1364.9 589.9)" stroke="#989898"/><ellipse cx="1374.0" cy="589.6" rx="3.6" ry="3.0" transform="rotate(122 1374.0 589.6)" stroke="#808080"/><ellipse cx="1380.0" cy="590.6" rx="4.6" ry="3.5" transform="rotate(105 1380.0 590.6)" stroke="#989898"/><ellipse cx="1389.2" cy="590.3" rx="4.7" ry="3.5" transform="rotate(68 1389.2 590.3)" stroke="#8c8c8c"/><ellipse cx="1396.0" cy="590.1" rx="4.6" ry="3.9" transform="rotate(124 1396.0 590.1)" stroke="#989898"/><ellipse cx="1402.5" cy="588.8" rx="4.1" ry="3.0" transform="rotate(92 1402.5 588.8)" stroke="#808080"/><ellipse cx="1412.4" cy="589.9" rx="4.9" ry="3.9" transform="rotate(100 1412.4 589.9)" stroke="#a4a4a4"/><ellipse cx="1420.0" cy="591.4" rx="4.9" ry="4.5" transform="rotate(110 1420.0 591.4)" stroke="#a4a4a4"/><ellipse cx="1428.7" cy="588.7" rx="4.5" ry="4.1" transform="rotate(52 1428.7 588.7)" stroke="#989898"/><ellipse cx="1438.7" cy="590.9" rx="4.0" ry="3.5" transform="rotate(51 1438.7 590.9)" stroke="#a4a4a4"/><ellipse cx="1445.6" cy="588.8" rx="4.7" ry="4.0" transform="rotate(100 1445.6 588.8)" stroke="#8c8c8c"/><ellipse cx="1455.9" cy="591.3" rx="4.1" ry="3.2" transform="rotate(121 1455.9 591.3)" stroke="#747474"/><ellipse cx="1463.9" cy="591.4" rx="4.7" ry="3.4" transform="rotate(83 1463.9 591.4)" stroke="#747474"/><ellipse cx="1471.6" cy="591.2" rx="3.5" ry="3.2" transform="rotate(72 1471.6 591.2)" stroke="#989898"/><ellipse cx="1480.0" cy="591.2" rx="4.2" ry="3.2" transform="rotate(119 1480.0 591.2)" stroke="#747474"/><ellipse cx="1488.2" cy="590.8" rx="4.2" ry="3.6" transform="rotate(127 1488.2 590.8)" stroke="#a4a4a4"/><ellipse cx="1497.9" cy="591.0" rx="4.9" ry="4.5" transform="rotate(57 1497.9 591.0)" stroke="#808080"/><ellipse cx="1503.8" cy="589.7" rx="5.0" ry="3.6" transform="rotate(85 1503.8 589.7)" stroke="#808080"/><ellipse cx="1513.6" cy="589.3" rx="3.9" ry="2.8" transform="rotate(66 1513.6 589.3)" stroke="#989898"/><ellipse cx="1520.2" cy="591.5" rx="3.8" ry="2.7" transform="rotate(77 1520.2 591.5)" stroke="#989898"/><ellipse cx="1528.7" cy="590.4" rx="3.5" ry="2.6" transform="rotate(75 1528.7 590.4)" stroke="#747474"/><ellipse cx="1538.3" cy="589.0" rx="4.5" ry="3.3" transform="rotate(53 1538.3 589.0)" stroke="#808080"/><ellipse cx="1546.8" cy="589.4" rx="4.3" ry="3.4" transform="rotate(72 1546.8 589.4)" stroke="#808080"/><ellipse cx="1554.8" cy="590.1" rx="5.0" ry="4.0" transform="rotate(127 1554.8 590.1)" stroke="#989898"/><ellipse cx="1562.0" cy="590.3" rx="4.2" ry="3.8" transform="rotate(96 1562.0 590.3)" stroke="#a4a4a4"/><ellipse cx="1572.0" cy="589.8" rx="3.4" ry="3.1" transform="rotate(113 1572.0 589.8)" stroke="#808080"/><ellipse cx="1579.9" cy="590.9" rx="4.4" ry="3.9" transform="rotate(63 1579.9 590.9)" stroke="#808080"/><ellipse cx="1585.1" cy="589.8" rx="3.7" ry="2.7" transform="rotate(71 1585.1 589.8)" stroke="#808080"/><ellipse cx="1157.0" cy="596.3" rx="4.2" ry="3.3" transform="rotate(98 1157.0 596.3)" stroke="#747474"/><ellipse cx="1165.1" cy="597.3" rx="4.5" ry="3.9" transform="rotate(89 1165.1 597.3)" stroke="#808080"/><ellipse cx="1173.8" cy="597.6" rx="3.6" ry="2.8" transform="rotate(99 1173.8 597.6)" stroke="#808080"/><ellipse cx="1182.8" cy="597.0" rx="3.5" ry="2.5" transform="rotate(117 1182.8 597.0)" stroke="#8c8c8c"/><ellipse cx="1190.6" cy="596.4" rx="4.0" ry="3.0" transform="rotate(119 1190.6 596.4)" stroke="#989898"/><ellipse cx="1196.9" cy="597.1" rx="3.6" ry="2.9" transform="rotate(70 1196.9 597.1)" stroke="#989898"/><ellipse cx="1206.0" cy="596.4" rx="3.6" ry="2.8" transform="rotate(101 1206.0 596.4)" stroke="#808080"/><ellipse cx="1214.6" cy="598.1" rx="3.7" ry="3.1" transform="rotate(64 1214.6 598.1)" stroke="#808080"/><ellipse cx="1221.0" cy="597.3" rx="4.5" ry="3.5" transform="rotate(103 1221.0 597.3)" stroke="#808080"/><ellipse cx="1229.8" cy="595.9" rx="4.5" ry="3.7" transform="rotate(127 1229.8 595.9)" stroke="#747474"/><ellipse cx="1235.7" cy="598.7" rx="4.1" ry="3.7" transform="rotate(80 1235.7 598.7)" stroke="#989898"/><ellipse cx="1244.8" cy="598.9" rx="4.5" ry="3.4" transform="rotate(105 1244.8 598.9)" stroke="#747474"/><ellipse cx="1254.9" cy="596.5" rx="4.3" ry="3.5" transform="rotate(68 1254.9 596.5)" stroke="#989898"/><ellipse cx="1262.5" cy="597.3" rx="4.1" ry="3.5" transform="rotate(108 1262.5 597.3)" stroke="#989898"/><ellipse cx="1270.4" cy="597.9" rx="4.2" ry="3.8" transform="rotate(86 1270.4 597.9)" stroke="#8c8c8c"/><ellipse cx="1279.9" cy="596.4" rx="4.7" ry="3.7" transform="rotate(89 1279.9 596.4)" stroke="#747474"/><ellipse cx="1285.9" cy="597.2" rx="4.0" ry="3.2" transform="rotate(92 1285.9 597.2)" stroke="#989898"/><ellipse cx="1295.4" cy="597.8" rx="3.5" ry="2.8" transform="rotate(62 1295.4 597.8)" stroke="#8c8c8c"/><ellipse cx="1303.2" cy="597.7" rx="4.7" ry="3.5" transform="rotate(127 1303.2 597.7)" stroke="#8c8c8c"/><ellipse cx="1310.7" cy="596.3" rx="4.3" ry="3.6" transform="rotate(92 1310.7 596.3)" stroke="#747474"/><ellipse cx="1320.2" cy="598.4" rx="3.9" ry="2.9" transform="rotate(127 1320.2 598.4)" stroke="#a4a4a4"/><ellipse cx="1329.7" cy="598.6" rx="3.9" ry="3.1" transform="rotate(89 1329.7 598.6)" stroke="#989898"/><ellipse cx="1338.6" cy="596.7" rx="4.8" ry="3.7" transform="rotate(72 1338.6 596.7)" stroke="#989898"/><ellipse cx="1348.0" cy="598.7" rx="4.2" ry="3.7" transform="rotate(129 1348.0 598.7)" stroke="#a4a4a4"/><ellipse cx="1357.6" cy="598.3" rx="3.6" ry="3.2" transform="rotate(79 1357.6 598.3)" stroke="#808080"/><ellipse cx="1366.4" cy="597.3" rx="3.8" ry="2.9" transform="rotate(90 1366.4 597.3)" stroke="#747474"/><ellipse cx="1375.1" cy="596.5" rx="4.2" ry="3.5" transform="rotate(68 1375.1 596.5)" stroke="#8c8c8c"/><ellipse cx="1381.7" cy="596.7" rx="4.9" ry="4.2" transform="rotate(91 1381.7 596.7)" stroke="#a4a4a4"/><ellipse cx="1389.6" cy="596.7" rx="4.8" ry="3.7" transform="rotate(101 1389.6 596.7)" stroke="#808080"/><ellipse cx="1399.8" cy="598.6" rx="4.9" ry="3.7" transform="rotate(51 1399.8 598.6)" stroke="#808080"/><ellipse cx="1408.5" cy="596.8" rx="4.7" ry="4.3" transform="rotate(124 1408.5 596.8)" stroke="#989898"/><ellipse cx="1415.5" cy="597.2" rx="3.8" ry="3.3" transform="rotate(122 1415.5 597.2)" stroke="#808080"/><ellipse cx="1424.9" cy="596.5" rx="4.8" ry="3.6" transform="rotate(75 1424.9 596.5)" stroke="#8c8c8c"/><ellipse cx="1432.8" cy="596.4" rx="3.8" ry="3.5" transform="rotate(51 1432.8 596.4)" stroke="#a4a4a4"/><ellipse cx="1439.1" cy="596.1" rx="5.0" ry="3.8" transform="rotate(109 1439.1 596.1)" stroke="#747474"/><ellipse cx="1446.8" cy="596.1" rx="3.5" ry="2.8" transform="rotate(128 1446.8 596.1)" stroke="#8c8c8c"/><ellipse cx="1456.1" cy="598.3" rx="3.6" ry="3.0" transform="rotate(88 1456.1 598.3)" stroke="#989898"/><ellipse cx="1463.6" cy="596.9" rx="3.5" ry="2.8" transform="rotate(77 1463.6 596.9)" stroke="#808080"/><ellipse cx="1473.0" cy="598.8" rx="5.0" ry="4.4" transform="rotate(60 1473.0 598.8)" stroke="#989898"/><ellipse cx="1481.4" cy="597.3" rx="3.7" ry="3.2" transform="rotate(50 1481.4 597.3)" stroke="#808080"/><ellipse cx="1491.8" cy="595.9" rx="3.4" ry="3.1" transform="rotate(71 1491.8 595.9)" stroke="#8c8c8c"/><ellipse cx="1499.6" cy="596.2" rx="3.9" ry="3.0" transform="rotate(129 1499.6 596.2)" stroke="#747474"/><ellipse cx="1505.3" cy="597.1" rx="4.2" ry="3.1" transform="rotate(58 1505.3 597.1)" stroke="#808080"/><ellipse cx="1513.7" cy="596.2" rx="3.8" ry="3.3" transform="rotate(94 1513.7 596.2)" stroke="#8c8c8c"/><ellipse cx="1521.9" cy="598.6" rx="3.5" ry="2.8" transform="rotate(55 1521.9 598.6)" stroke="#989898"/><ellipse cx="1531.2" cy="597.7" rx="4.1" ry="3.0" transform="rotate(117 1531.2 597.7)" stroke="#a4a4a4"/><ellipse cx="1540.5" cy="595.9" rx="4.2" ry="3.3" transform="rotate(98 1540.5 595.9)" stroke="#989898"/><ellipse cx="1548.1" cy="596.2" rx="3.6" ry="2.6" transform="rotate(119 1548.1 596.2)" stroke="#989898"/><ellipse cx="1558.3" cy="596.9" rx="3.8" ry="3.4" transform="rotate(122 1558.3 596.9)" stroke="#8c8c8c"/><ellipse cx="1564.9" cy="597.8" rx="3.4" ry="3.1" transform="rotate(104 1564.9 597.8)" stroke="#8c8c8c"/><ellipse cx="1574.1" cy="596.8" rx="4.0" ry="3.1" transform="rotate(57 1574.1 596.8)" stroke="#989898"/><ellipse cx="1582.3" cy="596.5" rx="3.8" ry="2.8" transform="rotate(101 1582.3 596.5)" stroke="#a4a4a4"/><ellipse cx="1162.4" cy="603.3" rx="4.0" ry="2.9" transform="rotate(54 1162.4 603.3)" stroke="#989898"/><ellipse cx="1170.2" cy="606.1" rx="3.5" ry="2.6" transform="rotate(94 1170.2 606.1)" stroke="#8c8c8c"/><ellipse cx="1180.9" cy="603.5" rx="3.4" ry="3.0" transform="rotate(98 1180.9 603.5)" stroke="#a4a4a4"/><ellipse cx="1187.3" cy="604.6" rx="4.7" ry="4.0" transform="rotate(54 1187.3 604.6)" stroke="#747474"/><ellipse cx="1196.3" cy="605.6" rx="3.7" ry="3.3" transform="rotate(130 1196.3 605.6)" stroke="#747474"/><ellipse cx="1206.5" cy="604.5" rx="4.5" ry="3.4" transform="rotate(96 1206.5 604.5)" stroke="#8c8c8c"/><ellipse cx="1211.2" cy="604.9" rx="4.9" ry="4.2" transform="rotate(120 1211.2 604.9)" stroke="#747474"/><ellipse cx="1220.6" cy="605.5" rx="4.9" ry="4.4" transform="rotate(107 1220.6 605.5)" stroke="#808080"/><ellipse cx="1231.2" cy="603.5" rx="4.8" ry="4.0" transform="rotate(125 1231.2 603.5)" stroke="#989898"/><ellipse cx="1239.6" cy="606.0" rx="4.7" ry="4.1" transform="rotate(108 1239.6 606.0)" stroke="#808080"/><ellipse cx="1248.0" cy="605.3" rx="4.5" ry="3.7" transform="rotate(72 1248.0 605.3)" stroke="#989898"/><ellipse cx="1256.5" cy="603.7" rx="3.9" ry="3.1" transform="rotate(80 1256.5 603.7)" stroke="#8c8c8c"/><ellipse cx="1263.5" cy="605.9" rx="4.4" ry="3.3" transform="rotate(58 1263.5 605.9)" stroke="#808080"/><ellipse cx="1274.8" cy="603.4" rx="4.5" ry="3.8" transform="rotate(89 1274.8 603.4)" stroke="#808080"/><ellipse cx="1281.6" cy="605.4" rx="3.6" ry="2.8" transform="rotate(118 1281.6 605.4)" stroke="#a4a4a4"/><ellipse cx="1292.6" cy="604.7" rx="3.6" ry="3.3" transform="rotate(102 1292.6 604.7)" stroke="#8c8c8c"/><ellipse cx="1299.1" cy="604.8" rx="3.5" ry="2.8" transform="rotate(89 1299.1 604.8)" stroke="#808080"/><ellipse cx="1308.5" cy="605.2" rx="4.4" ry="3.8" transform="rotate(71 1308.5 605.2)" stroke="#a4a4a4"/><ellipse cx="1317.8" cy="603.9" rx="3.4" ry="2.7" transform="rotate(94 1317.8 603.9)" stroke="#a4a4a4"/><ellipse cx="1325.7" cy="604.9" rx="4.8" ry="3.5" transform="rotate(79 1325.7 604.9)" stroke="#808080"/><ellipse cx="1334.2" cy="604.0" rx="3.8" ry="3.2" transform="rotate(77 1334.2 604.0)" stroke="#a4a4a4"/><ellipse cx="1344.8" cy="604.1" rx="4.2" ry="3.1" transform="rotate(79 1344.8 604.1)" stroke="#747474"/><ellipse cx="1351.0" cy="604.7" rx="3.8" ry="3.5" transform="rotate(118 1351.0 604.7)" stroke="#747474"/><ellipse cx="1361.2" cy="604.0" rx="4.5" ry="3.9" transform="rotate(67 1361.2 604.0)" stroke="#989898"/><ellipse cx="1368.5" cy="605.6" rx="4.0" ry="3.3" transform="rotate(67 1368.5 605.6)" stroke="#a4a4a4"/><ellipse cx="1378.1" cy="603.5" rx="3.5" ry="3.2" transform="rotate(79 1378.1 603.5)" stroke="#989898"/><ellipse cx="1385.9" cy="605.0" rx="3.7" ry="2.9" transform="rotate(91 1385.9 605.0)" stroke="#a4a4a4"/><ellipse cx="1395.6" cy="606.2" rx="4.7" ry="4.1" transform="rotate(126 1395.6 606.2)" stroke="#808080"/><ellipse cx="1404.2" cy="605.7" rx="4.4" ry="3.8" transform="rotate(64 1404.2 605.7)" stroke="#8c8c8c"/><ellipse cx="1410.7" cy="605.5" rx="3.7" ry="3.0" transform="rotate(93 1410.7 605.5)" stroke="#747474"/><ellipse cx="1417.6" cy="603.5" rx="4.9" ry="3.9" transform="rotate(81 1417.6 603.5)" stroke="#747474"/><ellipse cx="1426.9" cy="604.6" rx="4.1" ry="3.8" transform="rotate(72 1426.9 604.6)" stroke="#a4a4a4"/><ellipse cx="1436.8" cy="603.9" rx="4.2" ry="3.1" transform="rotate(82 1436.8 603.9)" stroke="#747474"/><ellipse cx="1443.9" cy="603.7" rx="4.8" ry="3.5" transform="rotate(102 1443.9 603.7)" stroke="#808080"/><ellipse cx="1452.0" cy="603.6" rx="4.1" ry="3.6" transform="rotate(76 1452.0 603.6)" stroke="#a4a4a4"/><ellipse cx="1460.0" cy="604.8" rx="4.5" ry="4.0" transform="rotate(124 1460.0 604.8)" stroke="#808080"/><ellipse cx="1468.9" cy="605.3" rx="4.0" ry="3.6" transform="rotate(74 1468.9 605.3)" stroke="#989898"/><ellipse cx="1478.0" cy="603.6" rx="4.8" ry="4.0" transform="rotate(101 1478.0 603.6)" stroke="#8c8c8c"/><ellipse cx="1485.7" cy="604.9" rx="4.5" ry="3.9" transform="rotate(84 1485.7 604.9)" stroke="#747474"/><ellipse cx="1493.6" cy="604.3" rx="4.4" ry="3.9" transform="rotate(110 1493.6 604.3)" stroke="#808080"/><ellipse cx="1502.3" cy="604.0" rx="3.7" ry="2.8" transform="rotate(105 1502.3 604.0)" stroke="#a4a4a4"/><ellipse cx="1510.9" cy="603.5" rx="4.2" ry="3.7" transform="rotate(111 1510.9 603.5)" stroke="#a4a4a4"/><ellipse cx="1519.2" cy="604.4" rx="4.9" ry="3.9" transform="rotate(101 1519.2 604.4)" stroke="#747474"/><ellipse cx="1527.3" cy="606.0" rx="3.9" ry="3.6" transform="rotate(129 1527.3 606.0)" stroke="#747474"/><ellipse cx="1535.2" cy="605.3" rx="4.2" ry="3.8" transform="rotate(127 1535.2 605.3)" stroke="#989898"/><ellipse cx="1546.6" cy="603.3" rx="3.6" ry="3.3" transform="rotate(120 1546.6 603.3)" stroke="#a4a4a4"/><ellipse cx="1553.0" cy="603.7" rx="4.3" ry="3.7" transform="rotate(89 1553.0 603.7)" stroke="#808080"/><ellipse cx="1562.0" cy="605.0" rx="4.8" ry="3.7" transform="rotate(96 1562.0 605.0)" stroke="#8c8c8c"/><ellipse cx="1567.1" cy="605.8" rx="3.6" ry="3.2" transform="rotate(55 1567.1 605.8)" stroke="#808080"/><ellipse cx="1576.7" cy="605.7" rx="3.7" ry="2.8" transform="rotate(74 1576.7 605.7)" stroke="#747474"/><ellipse cx="1155.9" cy="612.9" rx="4.2" ry="3.1" transform="rotate(88 1155.9 612.9)" stroke="#989898"/><ellipse cx="1164.7" cy="612.8" rx="4.3" ry="3.4" transform="rotate(107 1164.7 612.8)" stroke="#8c8c8c"/><ellipse cx="1174.5" cy="613.1" rx="4.5" ry="3.9" transform="rotate(124 1174.5 613.1)" stroke="#747474"/><ellipse cx="1180.9" cy="610.8" rx="4.6" ry="3.4" transform="rotate(95 1180.9 610.8)" stroke="#747474"/><ellipse cx="1190.9" cy="611.4" rx="4.9" ry="3.7" transform="rotate(95 1190.9 611.4)" stroke="#989898"/><ellipse cx="1197.0" cy="613.6" rx="4.2" ry="3.7" transform="rotate(53 1197.0 613.6)" stroke="#989898"/><ellipse cx="1204.7" cy="613.1" rx="4.3" ry="3.5" transform="rotate(53 1204.7 613.1)" stroke="#989898"/><ellipse cx="1213.9" cy="612.6" rx="4.5" ry="4.1" transform="rotate(74 1213.9 612.6)" stroke="#747474"/><ellipse cx="1222.6" cy="613.2" rx="4.6" ry="3.9" transform="rotate(71 1222.6 613.2)" stroke="#747474"/><ellipse cx="1232.3" cy="611.8" rx="4.7" ry="4.0" transform="rotate(117 1232.3 611.8)" stroke="#a4a4a4"/><ellipse cx="1239.1" cy="613.1" rx="4.4" ry="3.7" transform="rotate(120 1239.1 613.1)" stroke="#747474"/><ellipse cx="1248.2" cy="612.6" rx="4.2" ry="3.2" transform="rotate(53 1248.2 612.6)" stroke="#a4a4a4"/><ellipse cx="1255.6" cy="613.0" rx="4.5" ry="3.6" transform="rotate(98 1255.6 613.0)" stroke="#a4a4a4"/><ellipse cx="1265.4" cy="611.1" rx="4.1" ry="3.1" transform="rotate(65 1265.4 611.1)" stroke="#747474"/><ellipse cx="1273.6" cy="612.6" rx="3.5" ry="2.9" transform="rotate(80 1273.6 612.6)" stroke="#a4a4a4"/><ellipse cx="1281.3" cy="613.4" rx="4.8" ry="3.6" transform="rotate(110 1281.3 613.4)" stroke="#808080"/><ellipse cx="1290.6" cy="611.3" rx="3.9" ry="3.2" transform="rotate(108 1290.6 611.3)" stroke="#989898"/><ellipse cx="1298.7" cy="612.2" rx="3.4" ry="2.7" transform="rotate(120 1298.7 612.2)" stroke="#989898"/><ellipse cx="1306.3" cy="612.7" rx="4.2" ry="3.0" transform="rotate(127 1306.3 612.7)" stroke="#8c8c8c"/><ellipse cx="1315.1" cy="611.2" rx="4.9" ry="3.6" transform="rotate(78 1315.1 611.2)" stroke="#747474"/><ellipse cx="1322.9" cy="611.6" rx="4.2" ry="3.2" transform="rotate(75 1322.9 611.6)" stroke="#989898"/><ellipse cx="1333.7" cy="611.1" rx="4.5" ry="3.2" transform="rotate(98 1333.7 611.1)" stroke="#a4a4a4"/><ellipse cx="1341.1" cy="613.4" rx="3.7" ry="3.2" transform="rotate(92 1341.1 613.4)" stroke="#989898"/><ellipse cx="1349.2" cy="613.2" rx="3.5" ry="2.8" transform="rotate(73 1349.2 613.2)" stroke="#989898"/><ellipse cx="1357.7" cy="613.4" rx="3.4" ry="2.8" transform="rotate(55 1357.7 613.4)" stroke="#989898"/><ellipse cx="1364.3" cy="612.9" rx="3.6" ry="3.0" transform="rotate(114 1364.3 612.9)" stroke="#747474"/><ellipse cx="1374.4" cy="613.7" rx="4.0" ry="3.6" transform="rotate(53 1374.4 613.7)" stroke="#808080"/><ellipse cx="1379.8" cy="613.0" rx="3.7" ry="3.2" transform="rotate(51 1379.8 613.0)" stroke="#747474"/><ellipse cx="1388.3" cy="612.3" rx="3.6" ry="2.9" transform="rotate(59 1388.3 612.3)" stroke="#a4a4a4"/><ellipse cx="1397.1" cy="613.5" rx="4.8" ry="4.0" transform="rotate(92 1397.1 613.5)" stroke="#808080"/><ellipse cx="1404.7" cy="612.9" rx="3.9" ry="2.9" transform="rotate(55 1404.7 612.9)" stroke="#8c8c8c"/><ellipse cx="1415.3" cy="611.0" rx="4.8" ry="3.9" transform="rotate(101 1415.3 611.0)" stroke="#808080"/><ellipse cx="1425.0" cy="612.5" rx="4.9" ry="3.8" transform="rotate(68 1425.0 612.5)" stroke="#747474"/><ellipse cx="1432.2" cy="611.5" rx="3.5" ry="2.5" transform="rotate(91 1432.2 611.5)" stroke="#a4a4a4"/><ellipse cx="1439.1" cy="612.3" rx="3.8" ry="3.2" transform="rotate(71 1439.1 612.3)" stroke="#808080"/><ellipse cx="1447.8" cy="612.6" rx="4.6" ry="3.3" transform="rotate(127 1447.8 612.6)" stroke="#8c8c8c"/><ellipse cx="1455.1" cy="613.5" rx="4.4" ry="3.3" transform="rotate(92 1455.1 613.5)" stroke="#989898"/><ellipse cx="1465.5" cy="612.3" rx="4.3" ry="3.5" transform="rotate(64 1465.5 612.3)" stroke="#989898"/><ellipse cx="1473.6" cy="612.9" rx="4.8" ry="4.3" transform="rotate(56 1473.6 612.9)" stroke="#8c8c8c"/><ellipse cx="1482.7" cy="612.8" rx="4.1" ry="3.7" transform="rotate(114 1482.7 612.8)" stroke="#8c8c8c"/><ellipse cx="1491.1" cy="612.8" rx="4.0" ry="3.3" transform="rotate(91 1491.1 612.8)" stroke="#808080"/><ellipse cx="1499.9" cy="611.2" rx="3.9" ry="3.1" transform="rotate(56 1499.9 611.2)" stroke="#a4a4a4"/><ellipse cx="1507.6" cy="613.5" rx="3.9" ry="3.1" transform="rotate(78 1507.6 613.5)" stroke="#747474"/><ellipse cx="1514.3" cy="613.2" rx="3.5" ry="3.0" transform="rotate(114 1514.3 613.2)" stroke="#808080"/><ellipse cx="1524.0" cy="611.9" rx="4.1" ry="3.8" transform="rotate(94 1524.0 611.9)" stroke="#747474"/><ellipse cx="1528.9" cy="611.5" rx="3.6" ry="3.2" transform="rotate(70 1528.9 611.5)" stroke="#808080"/><ellipse cx="1539.9" cy="613.2" rx="4.8" ry="4.2" transform="rotate(53 1539.9 613.2)" stroke="#747474"/><ellipse cx="1548.4" cy="611.8" rx="3.6" ry="2.8" transform="rotate(109 1548.4 611.8)" stroke="#a4a4a4"/><ellipse cx="1554.3" cy="613.5" rx="3.5" ry="2.9" transform="rotate(59 1554.3 613.5)" stroke="#808080"/><ellipse cx="1564.0" cy="611.8" rx="4.6" ry="4.1" transform="rotate(110 1564.0 611.8)" stroke="#a4a4a4"/><ellipse cx="1573.2" cy="611.9" rx="5.0" ry="3.8" transform="rotate(126 1573.2 611.9)" stroke="#8c8c8c"/><ellipse cx="1164.2" cy="620.6" rx="3.6" ry="3.1" transform="rotate(124 1164.2 620.6)" stroke="#a4a4a4"/><ellipse cx="1172.5" cy="618.7" rx="4.4" ry="3.8" transform="rotate(112 1172.5 618.7)" stroke="#747474"/><ellipse cx="1180.1" cy="620.1" rx="4.9" ry="3.9" transform="rotate(61 1180.1 620.1)" stroke="#a4a4a4"/><ellipse cx="1187.7" cy="619.2" rx="4.8" ry="4.1" transform="rotate(93 1187.7 619.2)" stroke="#747474"/><ellipse cx="1196.2" cy="619.4" rx="4.8" ry="4.3" transform="rotate(128 1196.2 619.4)" stroke="#8c8c8c"/><ellipse cx="1204.0" cy="619.1" rx="4.2" ry="3.0" transform="rotate(70 1204.0 619.1)" stroke="#989898"/><ellipse cx="1214.5" cy="620.8" rx="4.2" ry="3.8" transform="rotate(61 1214.5 620.8)" stroke="#747474"/><ellipse cx="1224.1" cy="620.1" rx="4.4" ry="3.6" transform="rotate(69 1224.1 620.1)" stroke="#a4a4a4"/><ellipse cx="1231.9" cy="618.6" rx="3.5" ry="3.2" transform="rotate(68 1231.9 618.6)" stroke="#747474"/><ellipse cx="1239.3" cy="620.7" rx="4.6" ry="3.6" transform="rotate(89 1239.3 620.7)" stroke="#989898"/><ellipse cx="1247.1" cy="621.0" rx="4.4" ry="3.8" transform="rotate(100 1247.1 621.0)" stroke="#747474"/><ellipse cx="1256.2" cy="621.3" rx="3.7" ry="3.1" transform="rotate(109 1256.2 621.3)" stroke="#a4a4a4"/><ellipse cx="1263.8" cy="619.9" rx="3.7" ry="2.7" transform="rotate(92 1263.8 619.9)" stroke="#808080"/><ellipse cx="1272.1" cy="620.1" rx="4.3" ry="3.5" transform="rotate(91 1272.1 620.1)" stroke="#989898"/><ellipse cx="1281.5" cy="620.7" rx="4.5" ry="3.3" transform="rotate(71 1281.5 620.7)" stroke="#8c8c8c"/><ellipse cx="1288.5" cy="621.2" rx="4.1" ry="3.2" transform="rotate(75 1288.5 621.2)" stroke="#a4a4a4"/><ellipse cx="1299.4" cy="618.8" rx="4.4" ry="4.0" transform="rotate(80 1299.4 618.8)" stroke="#747474"/><ellipse cx="1306.8" cy="618.8" rx="4.7" ry="3.8" transform="rotate(78 1306.8 618.8)" stroke="#989898"/><ellipse cx="1316.1" cy="619.5" rx="4.2" ry="3.3" transform="rotate(122 1316.1 619.5)" stroke="#808080"/><ellipse cx="1322.7" cy="619.4" rx="3.7" ry="3.0" transform="rotate(61 1322.7 619.4)" stroke="#989898"/><ellipse cx="1330.8" cy="618.4" rx="3.8" ry="3.4" transform="rotate(67 1330.8 618.4)" stroke="#8c8c8c"/><ellipse cx="1339.9" cy="619.6" rx="3.4" ry="3.1" transform="rotate(52 1339.9 619.6)" stroke="#808080"/><ellipse cx="1347.4" cy="619.6" rx="5.0" ry="3.7" transform="rotate(97 1347.4 619.6)" stroke="#747474"/><ellipse cx="1356.3" cy="620.7" rx="5.0" ry="3.7" transform="rotate(70 1356.3 620.7)" stroke="#747474"/><ellipse cx="1364.5" cy="618.6" rx="3.7" ry="2.8" transform="rotate(124 1364.5 618.6)" stroke="#747474"/><ellipse cx="1373.5" cy="618.8" rx="3.6" ry="2.9" transform="rotate(114 1373.5 618.8)" stroke="#747474"/><ellipse cx="1380.0" cy="619.2" rx="4.8" ry="4.2" transform="rotate(53 1380.0 619.2)" stroke="#a4a4a4"/><ellipse cx="1390.4" cy="620.6" rx="3.7" ry="2.9" transform="rotate(67 1390.4 620.6)" stroke="#747474"/><ellipse cx="1398.6" cy="618.5" rx="4.1" ry="3.2" transform="rotate(111 1398.6 618.5)" stroke="#747474"/><ellipse cx="1404.3" cy="620.3" rx="4.5" ry="3.3" transform="rotate(117 1404.3 620.3)" stroke="#a4a4a4"/><ellipse cx="1413.7" cy="620.3" rx="4.9" ry="4.1" transform="rotate(91 1413.7 620.3)" stroke="#989898"/><ellipse cx="1422.3" cy="619.8" rx="3.7" ry="3.3" transform="rotate(52 1422.3 619.8)" stroke="#8c8c8c"/><ellipse cx="1431.5" cy="620.4" rx="3.8" ry="3.1" transform="rotate(57 1431.5 620.4)" stroke="#808080"/><ellipse cx="1442.1" cy="619.5" rx="3.7" ry="3.3" transform="rotate(99 1442.1 619.5)" stroke="#747474"/><ellipse cx="1448.2" cy="620.1" rx="4.0" ry="3.6" transform="rotate(103 1448.2 620.1)" stroke="#a4a4a4"/><ellipse cx="1458.6" cy="618.8" rx="5.0" ry="4.2" transform="rotate(98 1458.6 618.8)" stroke="#808080"/><ellipse cx="1466.7" cy="620.7" rx="4.6" ry="3.9" transform="rotate(125 1466.7 620.7)" stroke="#8c8c8c"/><ellipse cx="1477.2" cy="618.6" rx="4.6" ry="3.4" transform="rotate(100 1477.2 618.6)" stroke="#a4a4a4"/><ellipse cx="1484.8" cy="620.5" rx="3.5" ry="3.1" transform="rotate(122 1484.8 620.5)" stroke="#a4a4a4"/><ellipse cx="1493.5" cy="621.0" rx="4.9" ry="3.9" transform="rotate(67 1493.5 621.0)" stroke="#808080"/><ellipse cx="1503.2" cy="618.8" rx="4.0" ry="3.6" transform="rotate(65 1503.2 618.8)" stroke="#989898"/><ellipse cx="1510.8" cy="618.4" rx="4.1" ry="2.9" transform="rotate(61 1510.8 618.4)" stroke="#808080"/><ellipse cx="1517.3" cy="619.9" rx="4.2" ry="3.1" transform="rotate(59 1517.3 619.9)" stroke="#808080"/><ellipse cx="1524.9" cy="619.8" rx="4.0" ry="3.7" transform="rotate(54 1524.9 619.8)" stroke="#808080"/><ellipse cx="1533.7" cy="620.0" rx="3.4" ry="2.7" transform="rotate(69 1533.7 620.0)" stroke="#a4a4a4"/><ellipse cx="1542.8" cy="620.5" rx="4.4" ry="3.4" transform="rotate(85 1542.8 620.5)" stroke="#a4a4a4"/><ellipse cx="1548.8" cy="619.5" rx="4.7" ry="3.5" transform="rotate(58 1548.8 619.5)" stroke="#a4a4a4"/><ellipse cx="1558.0" cy="619.5" rx="3.4" ry="2.5" transform="rotate(108 1558.0 619.5)" stroke="#808080"/><ellipse cx="1565.9" cy="618.9" rx="3.7" ry="2.9" transform="rotate(109 1565.9 618.9)" stroke="#747474"/><ellipse cx="1156.8" cy="628.9" rx="5.0" ry="3.6" transform="rotate(98 1156.8 628.9)" stroke="#747474"/><ellipse cx="1165.3" cy="628.0" rx="4.6" ry="3.5" transform="rotate(57 1165.3 628.0)" stroke="#a4a4a4"/><ellipse cx="1172.7" cy="627.3" rx="5.0" ry="3.9" transform="rotate(67 1172.7 627.3)" stroke="#808080"/><ellipse cx="1183.1" cy="628.1" rx="4.1" ry="3.3" transform="rotate(87 1183.1 628.1)" stroke="#747474"/><ellipse cx="1189.8" cy="628.4" rx="4.9" ry="4.0" transform="rotate(94 1189.8 628.4)" stroke="#989898"/><ellipse cx="1199.2" cy="628.7" rx="4.5" ry="3.7" transform="rotate(69 1199.2 628.7)" stroke="#a4a4a4"/><ellipse cx="1206.6" cy="628.6" rx="4.0" ry="3.7" transform="rotate(71 1206.6 628.6)" stroke="#a4a4a4"/><ellipse cx="1216.1" cy="627.6" rx="4.1" ry="3.4" transform="rotate(62 1216.1 627.6)" stroke="#a4a4a4"/><ellipse cx="1224.3" cy="628.4" rx="3.9" ry="3.4" transform="rotate(83 1224.3 628.4)" stroke="#8c8c8c"/><ellipse cx="1232.1" cy="626.4" rx="4.1" ry="3.0" transform="rotate(64 1232.1 626.4)" stroke="#989898"/><ellipse cx="1241.9" cy="627.1" rx="4.7" ry="3.6" transform="rotate(97 1241.9 627.1)" stroke="#808080"/><ellipse cx="1250.8" cy="626.1" rx="4.5" ry="3.8" transform="rotate(89 1250.8 626.1)" stroke="#989898"/><ellipse cx="1258.1" cy="627.3" rx="4.2" ry="3.2" transform="rotate(120 1258.1 627.3)" stroke="#808080"/><ellipse cx="1267.6" cy="627.5" rx="4.2" ry="3.7" transform="rotate(59 1267.6 627.5)" stroke="#808080"/><ellipse cx="1276.4" cy="626.4" rx="4.4" ry="3.7" transform="rotate(110 1276.4 626.4)" stroke="#a4a4a4"/><ellipse cx="1283.2" cy="628.3" rx="4.2" ry="3.2" transform="rotate(120 1283.2 628.3)" stroke="#747474"/><ellipse cx="1291.9" cy="627.1" rx="3.7" ry="3.2" transform="rotate(112 1291.9 627.1)" stroke="#8c8c8c"/><ellipse cx="1301.7" cy="626.1" rx="3.8" ry="3.0" transform="rotate(118 1301.7 626.1)" stroke="#747474"/><ellipse cx="1308.4" cy="628.3" rx="3.8" ry="3.3" transform="rotate(111 1308.4 628.3)" stroke="#989898"/><ellipse cx="1314.9" cy="626.8" rx="4.6" ry="3.8" transform="rotate(60 1314.9 626.8)" stroke="#8c8c8c"/><ellipse cx="1324.1" cy="628.9" rx="4.7" ry="3.4" transform="rotate(62 1324.1 628.9)" stroke="#989898"/><ellipse cx="1330.5" cy="626.6" rx="4.4" ry="3.7" transform="rotate(91 1330.5 626.6)" stroke="#808080"/><ellipse cx="1339.1" cy="628.0" rx="4.9" ry="3.6" transform="rotate(89 1339.1 628.0)" stroke="#808080"/><ellipse cx="1347.4" cy="626.1" rx="3.5" ry="2.7" transform="rotate(66 1347.4 626.1)" stroke="#a4a4a4"/><ellipse cx="1358.1" cy="628.8" rx="4.0" ry="3.1" transform="rotate(77 1358.1 628.8)" stroke="#a4a4a4"/><ellipse cx="1367.3" cy="628.0" rx="4.9" ry="4.1" transform="rotate(110 1367.3 628.0)" stroke="#a4a4a4"/><ellipse cx="1373.2" cy="627.7" rx="3.9" ry="3.1" transform="rotate(51 1373.2 627.7)" stroke="#747474"/><ellipse cx="1381.3" cy="628.7" rx="4.4" ry="3.8" transform="rotate(115 1381.3 628.7)" stroke="#989898"/><ellipse cx="1390.4" cy="626.7" rx="3.9" ry="2.9" transform="rotate(81 1390.4 626.7)" stroke="#808080"/><ellipse cx="1396.6" cy="626.9" rx="3.6" ry="3.0" transform="rotate(55 1396.6 626.9)" stroke="#8c8c8c"/><ellipse cx="1406.9" cy="628.9" rx="4.2" ry="3.1" transform="rotate(128 1406.9 628.9)" stroke="#989898"/><ellipse cx="1414.1" cy="627.6" rx="3.6" ry="3.1" transform="rotate(95 1414.1 627.6)" stroke="#747474"/><ellipse cx="1424.2" cy="626.1" rx="3.6" ry="2.6" transform="rotate(94 1424.2 626.1)" stroke="#a4a4a4"/><ellipse cx="1432.1" cy="627.5" rx="4.2" ry="3.4" transform="rotate(99 1432.1 627.5)" stroke="#747474"/><ellipse cx="1439.1" cy="627.0" rx="3.8" ry="3.3" transform="rotate(113 1439.1 627.0)" stroke="#808080"/><ellipse cx="1449.0" cy="626.4" rx="4.7" ry="3.7" transform="rotate(124 1449.0 626.4)" stroke="#989898"/><ellipse cx="1454.3" cy="627.9" rx="3.9" ry="3.4" transform="rotate(53 1454.3 627.9)" stroke="#8c8c8c"/><ellipse cx="1464.3" cy="627.0" rx="3.9" ry="3.3" transform="rotate(51 1464.3 627.0)" stroke="#808080"/><ellipse cx="1472.1" cy="628.6" rx="3.8" ry="3.0" transform="rotate(81 1472.1 628.6)" stroke="#989898"/><ellipse cx="1481.1" cy="627.6" rx="4.6" ry="3.7" transform="rotate(52 1481.1 627.6)" stroke="#989898"/><ellipse cx="1489.3" cy="626.9" rx="3.7" ry="3.3" transform="rotate(75 1489.3 626.9)" stroke="#747474"/><ellipse cx="1495.8" cy="628.0" rx="3.7" ry="3.0" transform="rotate(72 1495.8 628.0)" stroke="#a4a4a4"/><ellipse cx="1503.7" cy="626.5" rx="3.8" ry="3.3" transform="rotate(83 1503.7 626.5)" stroke="#989898"/><ellipse cx="1512.2" cy="627.2" rx="4.4" ry="3.2" transform="rotate(89 1512.2 627.2)" stroke="#a4a4a4"/><ellipse cx="1520.8" cy="627.4" rx="4.1" ry="3.4" transform="rotate(80 1520.8 627.4)" stroke="#808080"/><ellipse cx="1527.4" cy="627.0" rx="3.9" ry="3.1" transform="rotate(100 1527.4 627.0)" stroke="#989898"/><ellipse cx="1536.4" cy="627.2" rx="4.9" ry="4.5" transform="rotate(60 1536.4 627.2)" stroke="#808080"/><ellipse cx="1544.3" cy="628.6" rx="4.3" ry="3.6" transform="rotate(130 1544.3 628.6)" stroke="#747474"/><ellipse cx="1551.3" cy="627.5" rx="3.6" ry="2.8" transform="rotate(87 1551.3 627.5)" stroke="#747474"/><ellipse cx="1560.1" cy="626.4" rx="4.4" ry="3.9" transform="rotate(121 1560.1 626.4)" stroke="#808080"/><ellipse cx="1568.1" cy="629.0" rx="3.5" ry="3.1" transform="rotate(109 1568.1 629.0)" stroke="#8c8c8c"/><ellipse cx="1162.3" cy="633.6" rx="4.6" ry="4.2" transform="rotate(100 1162.3 633.6)" stroke="#8c8c8c"/><ellipse cx="1170.6" cy="636.0" rx="4.0" ry="3.5" transform="rotate(66 1170.6 636.0)" stroke="#989898"/><ellipse cx="1179.9" cy="636.0" rx="3.6" ry="3.2" transform="rotate(68 1179.9 636.0)" stroke="#747474"/><ellipse cx="1188.0" cy="636.0" rx="5.0" ry="4.3" transform="rotate(106 1188.0 636.0)" stroke="#808080"/><ellipse cx="1198.9" cy="635.2" rx="4.0" ry="2.9" transform="rotate(92 1198.9 635.2)" stroke="#8c8c8c"/><ellipse cx="1205.7" cy="633.7" rx="4.1" ry="3.2" transform="rotate(107 1205.7 633.7)" stroke="#747474"/><ellipse cx="1216.0" cy="635.0" rx="3.5" ry="3.1" transform="rotate(111 1216.0 635.0)" stroke="#989898"/><ellipse cx="1223.5" cy="634.9" rx="3.9" ry="3.3" transform="rotate(104 1223.5 634.9)" stroke="#989898"/><ellipse cx="1233.3" cy="634.7" rx="4.5" ry="3.6" transform="rotate(122 1233.3 634.7)" stroke="#747474"/><ellipse cx="1240.2" cy="634.9" rx="4.4" ry="3.2" transform="rotate(94 1240.2 634.9)" stroke="#a4a4a4"/><ellipse cx="1249.0" cy="635.3" rx="5.0" ry="4.3" transform="rotate(108 1249.0 635.3)" stroke="#989898"/><ellipse cx="1255.1" cy="636.1" rx="4.8" ry="4.2" transform="rotate(67 1255.1 636.1)" stroke="#989898"/><ellipse cx="1265.8" cy="635.9" rx="4.7" ry="3.8" transform="rotate(89 1265.8 635.9)" stroke="#808080"/><ellipse cx="1275.2" cy="634.1" rx="4.6" ry="3.7" transform="rotate(98 1275.2 634.1)" stroke="#a4a4a4"/><ellipse cx="1282.3" cy="635.4" rx="3.7" ry="3.3" transform="rotate(118 1282.3 635.4)" stroke="#a4a4a4"/><ellipse cx="1292.9" cy="634.4" rx="3.4" ry="3.1" transform="rotate(92 1292.9 634.4)" stroke="#808080"/><ellipse cx="1301.8" cy="634.7" rx="5.0" ry="4.0" transform="rotate(108 1301.8 634.7)" stroke="#808080"/><ellipse cx="1308.6" cy="634.7" rx="3.9" ry="3.2" transform="rotate(118 1308.6 634.7)" stroke="#747474"/><ellipse cx="1315.2" cy="636.0" rx="4.2" ry="3.5" transform="rotate(125 1315.2 636.0)" stroke="#808080"/><ellipse cx="1325.4" cy="635.1" rx="3.8" ry="2.9" transform="rotate(118 1325.4 635.1)" stroke="#a4a4a4"/><ellipse cx="1334.4" cy="634.1" rx="3.4" ry="2.7" transform="rotate(96 1334.4 634.1)" stroke="#808080"/><ellipse cx="1340.1" cy="635.7" rx="4.4" ry="4.0" transform="rotate(125 1340.1 635.7)" stroke="#808080"/><ellipse cx="1350.0" cy="633.7" rx="4.7" ry="3.9" transform="rotate(96 1350.0 633.7)" stroke="#a4a4a4"/><ellipse cx="1358.9" cy="635.2" rx="4.1" ry="3.4" transform="rotate(78 1358.9 635.2)" stroke="#808080"/><ellipse cx="1368.7" cy="633.6" rx="4.4" ry="3.5" transform="rotate(96 1368.7 633.6)" stroke="#808080"/><ellipse cx="1376.0" cy="634.2" rx="3.6" ry="3.1" transform="rotate(74 1376.0 634.2)" stroke="#8c8c8c"/><ellipse cx="1386.5" cy="634.1" rx="3.9" ry="3.1" transform="rotate(101 1386.5 634.1)" stroke="#8c8c8c"/><ellipse cx="1394.5" cy="634.5" rx="4.1" ry="3.3" transform="rotate(58 1394.5 634.5)" stroke="#747474"/><ellipse cx="1401.9" cy="634.4" rx="3.6" ry="2.7" transform="rotate(82 1401.9 634.4)" stroke="#747474"/><ellipse cx="1412.8" cy="636.2" rx="3.5" ry="3.1" transform="rotate(128 1412.8 636.2)" stroke="#989898"/><ellipse cx="1420.4" cy="635.6" rx="4.2" ry="3.4" transform="rotate(117 1420.4 635.6)" stroke="#8c8c8c"/><ellipse cx="1429.9" cy="635.2" rx="4.0" ry="3.1" transform="rotate(120 1429.9 635.2)" stroke="#808080"/><ellipse cx="1438.3" cy="635.8" rx="4.4" ry="3.4" transform="rotate(59 1438.3 635.8)" stroke="#a4a4a4"/><ellipse cx="1445.1" cy="635.0" rx="3.7" ry="3.1" transform="rotate(104 1445.1 635.0)" stroke="#808080"/><ellipse cx="1454.7" cy="636.4" rx="4.9" ry="4.4" transform="rotate(126 1454.7 636.4)" stroke="#8c8c8c"/><ellipse cx="1462.6" cy="634.2" rx="4.1" ry="3.8" transform="rotate(57 1462.6 634.2)" stroke="#989898"/><ellipse cx="1471.9" cy="635.7" rx="4.2" ry="3.5" transform="rotate(65 1471.9 635.7)" stroke="#a4a4a4"/><ellipse cx="1480.7" cy="635.1" rx="4.8" ry="4.0" transform="rotate(73 1480.7 635.1)" stroke="#747474"/><ellipse cx="1490.1" cy="634.3" rx="4.8" ry="4.3" transform="rotate(126 1490.1 634.3)" stroke="#747474"/><ellipse cx="1495.2" cy="635.6" rx="4.2" ry="3.6" transform="rotate(83 1495.2 635.6)" stroke="#747474"/><ellipse cx="1505.1" cy="635.2" rx="4.3" ry="3.5" transform="rotate(115 1505.1 635.2)" stroke="#747474"/><ellipse cx="1514.1" cy="635.1" rx="4.3" ry="3.6" transform="rotate(51 1514.1 635.1)" stroke="#808080"/><ellipse cx="1522.1" cy="636.1" rx="4.3" ry="3.7" transform="rotate(109 1522.1 636.1)" stroke="#a4a4a4"/><ellipse cx="1532.2" cy="633.8" rx="4.9" ry="4.2" transform="rotate(81 1532.2 633.8)" stroke="#747474"/><ellipse cx="1540.4" cy="636.5" rx="3.9" ry="3.1" transform="rotate(91 1540.4 636.5)" stroke="#a4a4a4"/><ellipse cx="1548.1" cy="636.0" rx="3.4" ry="3.0" transform="rotate(126 1548.1 636.0)" stroke="#989898"/><ellipse cx="1556.5" cy="635.1" rx="5.0" ry="4.2" transform="rotate(124 1556.5 635.1)" stroke="#747474"/><ellipse cx="1159.6" cy="644.1" rx="4.4" ry="3.6" transform="rotate(59 1159.6 644.1)" stroke="#8c8c8c"/><ellipse cx="1167.4" cy="642.7" rx="4.8" ry="3.8" transform="rotate(70 1167.4 642.7)" stroke="#747474"/><ellipse cx="1175.4" cy="644.0" rx="3.7" ry="2.8" transform="rotate(103 1175.4 644.0)" stroke="#808080"/><ellipse cx="1184.1" cy="641.5" rx="4.0" ry="3.1" transform="rotate(126 1184.1 641.5)" stroke="#989898"/><ellipse cx="1193.7" cy="643.0" rx="4.4" ry="3.4" transform="rotate(105 1193.7 643.0)" stroke="#808080"/><ellipse cx="1201.7" cy="643.7" rx="4.1" ry="3.7" transform="rotate(95 1201.7 643.7)" stroke="#747474"/><ellipse cx="1211.4" cy="643.3" rx="4.6" ry="3.9" transform="rotate(52 1211.4 643.3)" stroke="#989898"/><ellipse cx="1219.9" cy="641.5" rx="3.5" ry="2.9" transform="rotate(58 1219.9 641.5)" stroke="#989898"/><ellipse cx="1230.3" cy="643.4" rx="4.1" ry="3.1" transform="rotate(84 1230.3 643.4)" stroke="#a4a4a4"/><ellipse cx="1237.1" cy="643.0" rx="3.5" ry="3.2" transform="rotate(74 1237.1 643.0)" stroke="#747474"/><ellipse cx="1247.1" cy="643.6" rx="4.4" ry="3.9" transform="rotate(60 1247.1 643.6)" stroke="#747474"/><ellipse cx="1255.2" cy="641.5" rx="4.8" ry="4.1" transform="rotate(83 1255.2 641.5)" stroke="#a4a4a4"/><ellipse cx="1263.8" cy="642.1" rx="4.8" ry="4.2" transform="rotate(96 1263.8 642.1)" stroke="#8c8c8c"/><ellipse cx="1272.6" cy="642.8" rx="3.5" ry="2.7" transform="rotate(102 1272.6 642.8)" stroke="#747474"/><ellipse cx="1280.8" cy="641.7" rx="3.4" ry="2.7" transform="rotate(117 1280.8 641.7)" stroke="#747474"/><ellipse cx="1287.9" cy="644.1" rx="4.9" ry="4.1" transform="rotate(56 1287.9 644.1)" stroke="#747474"/><ellipse cx="1297.3" cy="642.3" rx="4.6" ry="3.7" transform="rotate(59 1297.3 642.3)" stroke="#808080"/><ellipse cx="1307.5" cy="643.2" rx="5.0" ry="4.4" transform="rotate(88 1307.5 643.2)" stroke="#a4a4a4"/><ellipse cx="1316.1" cy="641.4" rx="4.0" ry="3.4" transform="rotate(79 1316.1 641.4)" stroke="#808080"/><ellipse cx="1325.6" cy="642.8" rx="4.3" ry="3.4" transform="rotate(53 1325.6 642.8)" stroke="#989898"/><ellipse cx="1332.7" cy="643.1" rx="4.4" ry="3.4" transform="rotate(100 1332.7 643.1)" stroke="#a4a4a4"/><ellipse cx="1342.7" cy="643.0" rx="4.0" ry="3.6" transform="rotate(104 1342.7 643.0)" stroke="#8c8c8c"/><ellipse cx="1351.1" cy="643.0" rx="4.2" ry="3.8" transform="rotate(129 1351.1 643.0)" stroke="#747474"/><ellipse cx="1359.5" cy="643.3" rx="4.0" ry="3.3" transform="rotate(84 1359.5 643.3)" stroke="#989898"/><ellipse cx="1366.9" cy="642.1" rx="3.5" ry="2.8" transform="rotate(92 1366.9 642.1)" stroke="#a4a4a4"/><ellipse cx="1377.2" cy="644.2" rx="4.3" ry="3.1" transform="rotate(61 1377.2 644.2)" stroke="#989898"/><ellipse cx="1384.8" cy="641.3" rx="3.5" ry="3.2" transform="rotate(83 1384.8 641.3)" stroke="#a4a4a4"/><ellipse cx="1391.6" cy="641.2" rx="3.5" ry="2.8" transform="rotate(77 1391.6 641.2)" stroke="#8c8c8c"/><ellipse cx="1400.1" cy="642.6" rx="4.9" ry="3.7" transform="rotate(78 1400.1 642.6)" stroke="#a4a4a4"/><ellipse cx="1411.0" cy="642.3" rx="4.3" ry="3.2" transform="rotate(124 1411.0 642.3)" stroke="#747474"/><ellipse cx="1419.5" cy="642.4" rx="4.3" ry="3.5" transform="rotate(119 1419.5 642.4)" stroke="#a4a4a4"/><ellipse cx="1427.6" cy="641.3" rx="4.6" ry="3.4" transform="rotate(120 1427.6 641.3)" stroke="#8c8c8c"/><ellipse cx="1437.1" cy="641.4" rx="4.6" ry="3.9" transform="rotate(103 1437.1 641.4)" stroke="#8c8c8c"/><ellipse cx="1444.6" cy="643.6" rx="4.1" ry="3.7" transform="rotate(67 1444.6 643.6)" stroke="#a4a4a4"/><ellipse cx="1455.0" cy="641.7" rx="3.4" ry="3.0" transform="rotate(117 1455.0 641.7)" stroke="#989898"/><ellipse cx="1462.6" cy="642.8" rx="4.5" ry="3.3" transform="rotate(76 1462.6 642.8)" stroke="#747474"/><ellipse cx="1471.0" cy="642.3" rx="3.6" ry="2.7" transform="rotate(78 1471.0 642.3)" stroke="#989898"/><ellipse cx="1481.1" cy="644.1" rx="4.9" ry="4.0" transform="rotate(129 1481.1 644.1)" stroke="#989898"/><ellipse cx="1487.5" cy="642.8" rx="4.8" ry="3.5" transform="rotate(121 1487.5 642.8)" stroke="#747474"/><ellipse cx="1496.4" cy="642.3" rx="4.0" ry="3.5" transform="rotate(85 1496.4 642.3)" stroke="#a4a4a4"/><ellipse cx="1502.7" cy="644.0" rx="3.7" ry="3.3" transform="rotate(82 1502.7 644.0)" stroke="#808080"/><ellipse cx="1512.4" cy="641.8" rx="5.0" ry="3.7" transform="rotate(96 1512.4 641.8)" stroke="#808080"/><ellipse cx="1523.2" cy="642.0" rx="4.0" ry="3.2" transform="rotate(107 1523.2 642.0)" stroke="#8c8c8c"/><ellipse cx="1531.1" cy="643.3" rx="4.6" ry="3.6" transform="rotate(107 1531.1 643.3)" stroke="#808080"/><ellipse cx="1538.2" cy="642.9" rx="3.8" ry="3.0" transform="rotate(95 1538.2 642.9)" stroke="#8c8c8c"/><ellipse cx="1546.7" cy="641.7" rx="3.8" ry="2.9" transform="rotate(115 1546.7 641.7)" stroke="#a4a4a4"/><ellipse cx="1554.6" cy="641.8" rx="4.6" ry="4.0" transform="rotate(75 1554.6 641.8)" stroke="#747474"/><ellipse cx="1162.4" cy="649.6" rx="4.5" ry="3.8" transform="rotate(123 1162.4 649.6)" stroke="#808080"/><ellipse cx="1171.3" cy="650.8" rx="4.4" ry="3.7" transform="rotate(86 1171.3 650.8)" stroke="#8c8c8c"/><ellipse cx="1178.0" cy="650.1" rx="4.1" ry="3.4" transform="rotate(82 1178.0 650.1)" stroke="#989898"/><ellipse cx="1188.4" cy="648.8" rx="4.7" ry="3.6" transform="rotate(107 1188.4 648.8)" stroke="#989898"/><ellipse cx="1197.9" cy="651.5" rx="3.4" ry="2.8" transform="rotate(75 1197.9 651.5)" stroke="#a4a4a4"/><ellipse cx="1205.4" cy="649.6" rx="4.3" ry="3.5" transform="rotate(53 1205.4 649.6)" stroke="#808080"/><ellipse cx="1213.1" cy="649.5" rx="4.0" ry="3.3" transform="rotate(73 1213.1 649.5)" stroke="#808080"/><ellipse cx="1222.0" cy="650.9" rx="3.4" ry="2.8" transform="rotate(125 1222.0 650.9)" stroke="#747474"/><ellipse cx="1228.6" cy="650.1" rx="4.8" ry="3.6" transform="rotate(96 1228.6 650.1)" stroke="#a4a4a4"/><ellipse cx="1238.2" cy="648.8" rx="4.0" ry="3.5" transform="rotate(58 1238.2 648.8)" stroke="#8c8c8c"/><ellipse cx="1245.1" cy="651.1" rx="4.1" ry="3.3" transform="rotate(101 1245.1 651.1)" stroke="#747474"/><ellipse cx="1253.6" cy="650.8" rx="3.7" ry="3.2" transform="rotate(76 1253.6 650.8)" stroke="#747474"/><ellipse cx="1262.7" cy="650.3" rx="4.0" ry="3.2" transform="rotate(124 1262.7 650.3)" stroke="#989898"/><ellipse cx="1271.1" cy="649.7" rx="4.8" ry="3.8" transform="rotate(104 1271.1 649.7)" stroke="#808080"/><ellipse cx="1279.2" cy="651.6" rx="4.6" ry="3.8" transform="rotate(63 1279.2 651.6)" stroke="#989898"/><ellipse cx="1287.5" cy="651.4" rx="4.5" ry="4.0" transform="rotate(95 1287.5 651.4)" stroke="#a4a4a4"/><ellipse cx="1293.8" cy="650.6" rx="4.4" ry="3.2" transform="rotate(85 1293.8 650.6)" stroke="#808080"/><ellipse cx="1302.9" cy="651.6" rx="4.6" ry="4.0" transform="rotate(117 1302.9 651.6)" stroke="#747474"/><ellipse cx="1312.8" cy="651.4" rx="4.5" ry="3.6" transform="rotate(90 1312.8 651.4)" stroke="#747474"/><ellipse cx="1318.8" cy="649.7" rx="4.4" ry="3.6" transform="rotate(61 1318.8 649.7)" stroke="#989898"/><ellipse cx="1327.1" cy="650.5" rx="4.0" ry="3.3" transform="rotate(122 1327.1 650.5)" stroke="#989898"/><ellipse cx="1333.9" cy="650.0" rx="4.2" ry="3.5" transform="rotate(73 1333.9 650.0)" stroke="#747474"/><ellipse cx="1343.8" cy="650.9" rx="4.2" ry="3.6" transform="rotate(55 1343.8 650.9)" stroke="#a4a4a4"/><ellipse cx="1352.0" cy="650.6" rx="5.0" ry="3.7" transform="rotate(74 1352.0 650.6)" stroke="#747474"/><ellipse cx="1359.1" cy="651.1" rx="4.5" ry="3.5" transform="rotate(130 1359.1 651.1)" stroke="#989898"/><ellipse cx="1369.8" cy="648.7" rx="4.3" ry="3.9" transform="rotate(101 1369.8 648.7)" stroke="#a4a4a4"/><ellipse cx="1376.4" cy="648.9" rx="3.5" ry="2.8" transform="rotate(112 1376.4 648.9)" stroke="#a4a4a4"/><ellipse cx="1385.6" cy="651.1" rx="4.4" ry="3.2" transform="rotate(82 1385.6 651.1)" stroke="#989898"/><ellipse cx="1392.6" cy="650.7" rx="4.3" ry="3.3" transform="rotate(51 1392.6 650.7)" stroke="#808080"/><ellipse cx="1400.5" cy="650.2" rx="4.6" ry="3.4" transform="rotate(128 1400.5 650.2)" stroke="#8c8c8c"/><ellipse cx="1408.6" cy="650.8" rx="4.0" ry="3.4" transform="rotate(106 1408.6 650.8)" stroke="#989898"/><ellipse cx="1419.5" cy="649.0" rx="3.6" ry="3.2" transform="rotate(109 1419.5 649.0)" stroke="#8c8c8c"/><ellipse cx="1427.8" cy="649.1" rx="3.6" ry="3.0" transform="rotate(69 1427.8 649.1)" stroke="#989898"/><ellipse cx="1434.7" cy="650.7" rx="4.6" ry="3.4" transform="rotate(68 1434.7 650.7)" stroke="#747474"/><ellipse cx="1441.6" cy="650.8" rx="4.3" ry="3.9" transform="rotate(115 1441.6 650.8)" stroke="#a4a4a4"/><ellipse cx="1450.7" cy="650.0" rx="4.6" ry="4.0" transform="rotate(105 1450.7 650.0)" stroke="#747474"/><ellipse cx="1460.0" cy="649.8" rx="3.6" ry="3.3" transform="rotate(111 1460.0 649.8)" stroke="#8c8c8c"/><ellipse cx="1468.2" cy="649.1" rx="4.2" ry="3.4" transform="rotate(81 1468.2 649.1)" stroke="#8c8c8c"/><ellipse cx="1477.5" cy="649.3" rx="3.9" ry="3.4" transform="rotate(69 1477.5 649.3)" stroke="#8c8c8c"/><ellipse cx="1484.2" cy="651.6" rx="3.9" ry="3.4" transform="rotate(80 1484.2 651.6)" stroke="#8c8c8c"/><ellipse cx="1490.9" cy="650.0" rx="4.6" ry="3.8" transform="rotate(127 1490.9 650.0)" stroke="#808080"/><ellipse cx="1500.4" cy="649.9" rx="3.5" ry="2.8" transform="rotate(110 1500.4 649.9)" stroke="#8c8c8c"/><ellipse cx="1511.8" cy="650.0" rx="4.9" ry="4.5" transform="rotate(98 1511.8 650.0)" stroke="#8c8c8c"/><ellipse cx="1519.1" cy="649.9" rx="4.1" ry="3.7" transform="rotate(74 1519.1 649.9)" stroke="#989898"/><ellipse cx="1526.7" cy="650.2" rx="3.5" ry="3.0" transform="rotate(61 1526.7 650.2)" stroke="#8c8c8c"/><ellipse cx="1536.9" cy="650.3" rx="4.6" ry="3.8" transform="rotate(106 1536.9 650.3)" stroke="#989898"/><ellipse cx="1543.1" cy="650.0" rx="4.5" ry="3.7" transform="rotate(87 1543.1 650.0)" stroke="#989898"/><ellipse cx="1158.3" cy="657.4" rx="4.6" ry="3.7" transform="rotate(84 1158.3 657.4)" stroke="#8c8c8c"/><ellipse cx="1167.1" cy="656.8" rx="4.1" ry="3.6" transform="rotate(87 1167.1 656.8)" stroke="#a4a4a4"/><ellipse cx="1177.6" cy="657.3" rx="4.6" ry="3.8" transform="rotate(96 1177.6 657.3)" stroke="#989898"/><ellipse cx="1186.5" cy="658.2" rx="4.5" ry="3.7" transform="rotate(108 1186.5 658.2)" stroke="#808080"/><ellipse cx="1193.5" cy="657.7" rx="4.8" ry="3.7" transform="rotate(92 1193.5 657.7)" stroke="#747474"/><ellipse cx="1200.8" cy="657.6" rx="3.9" ry="3.4" transform="rotate(65 1200.8 657.6)" stroke="#a4a4a4"/><ellipse cx="1207.9" cy="656.5" rx="4.4" ry="3.5" transform="rotate(111 1207.9 656.5)" stroke="#8c8c8c"/><ellipse cx="1217.1" cy="657.0" rx="3.8" ry="2.9" transform="rotate(112 1217.1 657.0)" stroke="#808080"/><ellipse cx="1226.9" cy="657.4" rx="4.9" ry="4.2" transform="rotate(67 1226.9 657.4)" stroke="#808080"/><ellipse cx="1233.9" cy="657.8" rx="4.6" ry="4.0" transform="rotate(67 1233.9 657.8)" stroke="#8c8c8c"/><ellipse cx="1243.6" cy="658.7" rx="4.0" ry="3.0" transform="rotate(70 1243.6 658.7)" stroke="#989898"/><ellipse cx="1250.1" cy="655.8" rx="4.5" ry="3.6" transform="rotate(67 1250.1 655.8)" stroke="#989898"/><ellipse cx="1258.5" cy="656.4" rx="3.4" ry="3.1" transform="rotate(79 1258.5 656.4)" stroke="#8c8c8c"/><ellipse cx="1267.8" cy="657.0" rx="3.8" ry="2.8" transform="rotate(114 1267.8 657.0)" stroke="#8c8c8c"/><ellipse cx="1278.4" cy="656.5" rx="3.5" ry="2.6" transform="rotate(102 1278.4 656.5)" stroke="#a4a4a4"/><ellipse cx="1284.9" cy="655.8" rx="4.3" ry="3.4" transform="rotate(54 1284.9 655.8)" stroke="#808080"/><ellipse cx="1294.2" cy="658.0" rx="4.1" ry="3.3" transform="rotate(66 1294.2 658.0)" stroke="#808080"/><ellipse cx="1301.2" cy="655.8" rx="3.5" ry="3.1" transform="rotate(83 1301.2 655.8)" stroke="#747474"/><ellipse cx="1310.1" cy="656.2" rx="4.8" ry="3.6" transform="rotate(68 1310.1 656.2)" stroke="#808080"/><ellipse cx="1319.5" cy="656.1" rx="3.7" ry="3.2" transform="rotate(94 1319.5 656.1)" stroke="#989898"/><ellipse cx="1327.6" cy="656.0" rx="3.8" ry="3.4" transform="rotate(73 1327.6 656.0)" stroke="#747474"/><ellipse cx="1338.1" cy="656.2" rx="4.1" ry="3.6" transform="rotate(75 1338.1 656.2)" stroke="#808080"/><ellipse cx="1345.4" cy="657.9" rx="3.6" ry="2.9" transform="rotate(114 1345.4 657.9)" stroke="#8c8c8c"/><ellipse cx="1353.8" cy="658.4" rx="4.1" ry="3.0" transform="rotate(96 1353.8 658.4)" stroke="#8c8c8c"/><ellipse cx="1360.7" cy="657.8" rx="4.0" ry="3.3" transform="rotate(102 1360.7 657.8)" stroke="#989898"/><ellipse cx="1370.8" cy="657.5" rx="3.8" ry="3.1" transform="rotate(96 1370.8 657.5)" stroke="#8c8c8c"/><ellipse cx="1378.9" cy="657.9" rx="5.0" ry="4.0" transform="rotate(118 1378.9 657.9)" stroke="#a4a4a4"/><ellipse cx="1389.6" cy="656.6" rx="3.9" ry="3.4" transform="rotate(83 1389.6 656.6)" stroke="#747474"/><ellipse cx="1399.0" cy="657.5" rx="4.7" ry="3.9" transform="rotate(85 1399.0 657.5)" stroke="#808080"/><ellipse cx="1405.3" cy="658.5" rx="4.1" ry="3.4" transform="rotate(128 1405.3 658.5)" stroke="#8c8c8c"/><ellipse cx="1413.2" cy="657.0" rx="4.3" ry="3.7" transform="rotate(69 1413.2 657.0)" stroke="#747474"/><ellipse cx="1423.1" cy="657.8" rx="3.7" ry="2.9" transform="rotate(75 1423.1 657.8)" stroke="#a4a4a4"/><ellipse cx="1431.0" cy="658.6" rx="3.5" ry="2.6" transform="rotate(98 1431.0 658.6)" stroke="#989898"/><ellipse cx="1441.6" cy="656.4" rx="3.5" ry="2.9" transform="rotate(78 1441.6 656.4)" stroke="#989898"/><ellipse cx="1450.3" cy="656.8" rx="4.3" ry="3.6" transform="rotate(79 1450.3 656.8)" stroke="#989898"/><ellipse cx="1456.3" cy="656.3" rx="4.5" ry="3.9" transform="rotate(79 1456.3 656.3)" stroke="#747474"/><ellipse cx="1464.4" cy="658.0" rx="3.5" ry="3.0" transform="rotate(59 1464.4 658.0)" stroke="#8c8c8c"/><ellipse cx="1474.5" cy="656.0" rx="3.8" ry="3.0" transform="rotate(117 1474.5 656.0)" stroke="#8c8c8c"/><ellipse cx="1482.6" cy="658.5" rx="3.4" ry="3.1" transform="rotate(104 1482.6 658.5)" stroke="#989898"/><ellipse cx="1492.8" cy="656.8" rx="4.9" ry="4.4" transform="rotate(72 1492.8 656.8)" stroke="#a4a4a4"/><ellipse cx="1500.2" cy="656.9" rx="4.6" ry="3.9" transform="rotate(123 1500.2 656.9)" stroke="#989898"/><ellipse cx="1508.4" cy="656.9" rx="4.3" ry="3.4" transform="rotate(64 1508.4 656.9)" stroke="#747474"/><ellipse cx="1517.1" cy="655.8" rx="3.6" ry="3.2" transform="rotate(127 1517.1 655.8)" stroke="#747474"/><ellipse cx="1526.7" cy="657.1" rx="4.0" ry="3.6" transform="rotate(116 1526.7 657.1)" stroke="#8c8c8c"/><ellipse cx="1532.3" cy="656.3" rx="3.8" ry="2.9" transform="rotate(96 1532.3 656.3)" stroke="#8c8c8c"/><ellipse cx="1163.0" cy="665.8" rx="4.4" ry="3.9" transform="rotate(65 1163.0 665.8)" stroke="#989898"/><ellipse cx="1170.1" cy="665.3" rx="4.3" ry="3.3" transform="rotate(117 1170.1 665.3)" stroke="#808080"/><ellipse cx="1180.5" cy="666.3" rx="4.0" ry="3.3" transform="rotate(83 1180.5 666.3)" stroke="#747474"/><ellipse cx="1186.2" cy="664.8" rx="4.3" ry="3.9" transform="rotate(77 1186.2 664.8)" stroke="#747474"/><ellipse cx="1197.3" cy="665.5" rx="4.6" ry="3.5" transform="rotate(125 1197.3 665.5)" stroke="#8c8c8c"/><ellipse cx="1204.7" cy="666.3" rx="5.0" ry="4.1" transform="rotate(77 1204.7 666.3)" stroke="#8c8c8c"/><ellipse cx="1213.9" cy="665.4" rx="4.0" ry="3.5" transform="rotate(78 1213.9 665.4)" stroke="#808080"/><ellipse cx="1220.6" cy="663.5" rx="3.9" ry="3.0" transform="rotate(55 1220.6 663.5)" stroke="#a4a4a4"/><ellipse cx="1231.4" cy="665.0" rx="4.3" ry="3.4" transform="rotate(94 1231.4 665.0)" stroke="#a4a4a4"/><ellipse cx="1239.1" cy="663.7" rx="4.5" ry="3.4" transform="rotate(55 1239.1 663.7)" stroke="#747474"/><ellipse cx="1245.9" cy="665.1" rx="3.6" ry="3.1" transform="rotate(86 1245.9 665.1)" stroke="#a4a4a4"/><ellipse cx="1254.6" cy="664.3" rx="4.4" ry="3.9" transform="rotate(112 1254.6 664.3)" stroke="#808080"/><ellipse cx="1262.0" cy="664.1" rx="3.5" ry="3.2" transform="rotate(60 1262.0 664.1)" stroke="#8c8c8c"/><ellipse cx="1270.8" cy="666.0" rx="3.9" ry="3.0" transform="rotate(106 1270.8 666.0)" stroke="#808080"/><ellipse cx="1280.2" cy="663.7" rx="3.7" ry="2.7" transform="rotate(72 1280.2 663.7)" stroke="#a4a4a4"/><ellipse cx="1287.3" cy="664.2" rx="4.0" ry="3.5" transform="rotate(83 1287.3 664.2)" stroke="#a4a4a4"/><ellipse cx="1294.4" cy="664.1" rx="4.4" ry="3.2" transform="rotate(90 1294.4 664.1)" stroke="#a4a4a4"/><ellipse cx="1302.2" cy="664.6" rx="4.4" ry="3.8" transform="rotate(104 1302.2 664.6)" stroke="#989898"/><ellipse cx="1309.4" cy="664.2" rx="4.4" ry="3.7" transform="rotate(56 1309.4 664.2)" stroke="#989898"/><ellipse cx="1319.3" cy="664.9" rx="4.5" ry="3.7" transform="rotate(130 1319.3 664.9)" stroke="#8c8c8c"/><ellipse cx="1327.8" cy="665.9" rx="3.8" ry="3.4" transform="rotate(74 1327.8 665.9)" stroke="#989898"/><ellipse cx="1335.9" cy="663.8" rx="4.7" ry="3.9" transform="rotate(57 1335.9 663.8)" stroke="#808080"/><ellipse cx="1344.6" cy="663.9" rx="3.5" ry="2.8" transform="rotate(52 1344.6 663.9)" stroke="#747474"/><ellipse cx="1353.2" cy="663.6" rx="4.2" ry="3.8" transform="rotate(106 1353.2 663.6)" stroke="#989898"/><ellipse cx="1362.9" cy="665.0" rx="4.5" ry="3.8" transform="rotate(77 1362.9 665.0)" stroke="#8c8c8c"/><ellipse cx="1371.8" cy="665.7" rx="4.0" ry="3.6" transform="rotate(81 1371.8 665.7)" stroke="#747474"/><ellipse cx="1378.3" cy="665.0" rx="3.8" ry="3.0" transform="rotate(115 1378.3 665.0)" stroke="#989898"/><ellipse cx="1385.4" cy="663.9" rx="4.0" ry="3.0" transform="rotate(68 1385.4 663.9)" stroke="#a4a4a4"/><ellipse cx="1396.4" cy="663.6" rx="3.9" ry="3.3" transform="rotate(83 1396.4 663.6)" stroke="#808080"/><ellipse cx="1403.0" cy="664.4" rx="4.4" ry="3.4" transform="rotate(105 1403.0 664.4)" stroke="#808080"/><ellipse cx="1410.2" cy="665.6" rx="4.6" ry="3.4" transform="rotate(75 1410.2 665.6)" stroke="#a4a4a4"/><ellipse cx="1418.6" cy="666.2" rx="4.1" ry="3.7" transform="rotate(91 1418.6 666.2)" stroke="#a4a4a4"/><ellipse cx="1427.7" cy="666.1" rx="4.1" ry="3.7" transform="rotate(114 1427.7 666.1)" stroke="#8c8c8c"/><ellipse cx="1436.9" cy="666.4" rx="3.7" ry="3.3" transform="rotate(56 1436.9 666.4)" stroke="#8c8c8c"/><ellipse cx="1446.2" cy="664.9" rx="4.6" ry="3.9" transform="rotate(85 1446.2 664.9)" stroke="#a4a4a4"/><ellipse cx="1453.3" cy="666.3" rx="3.6" ry="3.2" transform="rotate(75 1453.3 666.3)" stroke="#808080"/><ellipse cx="1462.5" cy="665.8" rx="4.9" ry="4.3" transform="rotate(66 1462.5 665.8)" stroke="#989898"/><ellipse cx="1469.7" cy="663.6" rx="5.0" ry="4.3" transform="rotate(121 1469.7 663.6)" stroke="#a4a4a4"/><ellipse cx="1479.2" cy="665.4" rx="4.1" ry="3.4" transform="rotate(92 1479.2 665.4)" stroke="#8c8c8c"/><ellipse cx="1485.0" cy="664.7" rx="3.9" ry="3.2" transform="rotate(60 1485.0 664.7)" stroke="#989898"/><ellipse cx="1496.0" cy="666.3" rx="3.5" ry="3.1" transform="rotate(86 1496.0 666.3)" stroke="#a4a4a4"/><ellipse cx="1503.0" cy="665.2" rx="3.5" ry="3.1" transform="rotate(77 1503.0 665.2)" stroke="#989898"/><ellipse cx="1513.0" cy="665.4" rx="4.0" ry="3.2" transform="rotate(115 1513.0 665.4)" stroke="#a4a4a4"/><ellipse cx="1521.7" cy="665.3" rx="5.0" ry="4.3" transform="rotate(87 1521.7 665.3)" stroke="#a4a4a4"/><ellipse cx="1158.0" cy="672.6" rx="3.5" ry="2.8" transform="rotate(92 1158.0 672.6)" stroke="#989898"/><ellipse cx="1166.0" cy="673.0" rx="4.9" ry="4.3" transform="rotate(81 1166.0 673.0)" stroke="#8c8c8c"/><ellipse cx="1175.9" cy="672.0" rx="3.4" ry="2.6" transform="rotate(92 1175.9 672.0)" stroke="#747474"/><ellipse cx="1183.3" cy="673.3" rx="4.5" ry="3.7" transform="rotate(70 1183.3 673.3)" stroke="#a4a4a4"/><ellipse cx="1191.9" cy="672.4" rx="3.7" ry="2.8" transform="rotate(57 1191.9 672.4)" stroke="#747474"/><ellipse cx="1198.9" cy="671.6" rx="4.8" ry="3.9" transform="rotate(114 1198.9 671.6)" stroke="#808080"/><ellipse cx="1209.7" cy="673.3" rx="4.1" ry="3.6" transform="rotate(102 1209.7 673.3)" stroke="#a4a4a4"/><ellipse cx="1215.5" cy="673.1" rx="3.9" ry="2.9" transform="rotate(81 1215.5 673.1)" stroke="#989898"/><ellipse cx="1223.9" cy="672.8" rx="4.5" ry="3.6" transform="rotate(77 1223.9 672.8)" stroke="#989898"/><ellipse cx="1232.4" cy="672.4" rx="3.8" ry="3.1" transform="rotate(129 1232.4 672.4)" stroke="#747474"/><ellipse cx="1239.8" cy="672.1" rx="4.5" ry="3.9" transform="rotate(82 1239.8 672.1)" stroke="#989898"/><ellipse cx="1248.0" cy="673.8" rx="3.9" ry="3.3" transform="rotate(97 1248.0 673.8)" stroke="#989898"/><ellipse cx="1257.2" cy="672.6" rx="4.5" ry="3.5" transform="rotate(79 1257.2 672.6)" stroke="#989898"/><ellipse cx="1265.7" cy="672.7" rx="3.6" ry="2.9" transform="rotate(74 1265.7 672.7)" stroke="#808080"/><ellipse cx="1273.8" cy="672.6" rx="5.0" ry="4.1" transform="rotate(99 1273.8 672.6)" stroke="#808080"/><ellipse cx="1281.7" cy="673.9" rx="4.3" ry="3.4" transform="rotate(87 1281.7 673.9)" stroke="#808080"/><ellipse cx="1289.7" cy="673.6" rx="3.8" ry="3.2" transform="rotate(87 1289.7 673.6)" stroke="#808080"/><ellipse cx="1297.7" cy="671.9" rx="3.9" ry="3.1" transform="rotate(124 1297.7 671.9)" stroke="#8c8c8c"/><ellipse cx="1305.7" cy="671.3" rx="4.5" ry="3.4" transform="rotate(106 1305.7 671.3)" stroke="#747474"/><ellipse cx="1312.1" cy="671.9" rx="3.7" ry="3.2" transform="rotate(113 1312.1 671.9)" stroke="#a4a4a4"/><ellipse cx="1321.5" cy="672.2" rx="4.1" ry="3.2" transform="rotate(68 1321.5 672.2)" stroke="#8c8c8c"/><ellipse cx="1330.2" cy="671.9" rx="3.9" ry="3.3" transform="rotate(54 1330.2 671.9)" stroke="#a4a4a4"/><ellipse cx="1337.8" cy="673.8" rx="4.7" ry="3.7" transform="rotate(116 1337.8 673.8)" stroke="#747474"/><ellipse cx="1344.2" cy="671.5" rx="4.5" ry="4.0" transform="rotate(55 1344.2 671.5)" stroke="#747474"/><ellipse cx="1352.9" cy="673.7" rx="3.4" ry="3.0" transform="rotate(57 1352.9 673.7)" stroke="#989898"/><ellipse cx="1363.4" cy="674.0" rx="4.1" ry="3.3" transform="rotate(54 1363.4 674.0)" stroke="#a4a4a4"/><ellipse cx="1372.0" cy="671.1" rx="3.9" ry="3.5" transform="rotate(72 1372.0 671.1)" stroke="#8c8c8c"/><ellipse cx="1380.2" cy="673.0" rx="4.1" ry="3.2" transform="rotate(93 1380.2 673.0)" stroke="#747474"/><ellipse cx="1389.8" cy="672.3" rx="5.0" ry="4.1" transform="rotate(103 1389.8 672.3)" stroke="#8c8c8c"/><ellipse cx="1395.3" cy="671.3" rx="3.9" ry="3.2" transform="rotate(103 1395.3 671.3)" stroke="#8c8c8c"/><ellipse cx="1405.1" cy="671.6" rx="4.1" ry="3.7" transform="rotate(125 1405.1 671.6)" stroke="#808080"/><ellipse cx="1413.1" cy="672.6" rx="3.4" ry="3.1" transform="rotate(68 1413.1 672.6)" stroke="#747474"/><ellipse cx="1424.3" cy="672.4" rx="4.3" ry="3.4" transform="rotate(73 1424.3 672.4)" stroke="#a4a4a4"/><ellipse cx="1432.4" cy="672.6" rx="4.0" ry="3.0" transform="rotate(86 1432.4 672.6)" stroke="#747474"/><ellipse cx="1439.0" cy="672.4" rx="3.4" ry="2.5" transform="rotate(123 1439.0 672.4)" stroke="#747474"/><ellipse cx="1450.1" cy="671.2" rx="4.4" ry="3.8" transform="rotate(77 1450.1 671.2)" stroke="#989898"/><ellipse cx="1457.3" cy="671.5" rx="4.8" ry="4.4" transform="rotate(75 1457.3 671.5)" stroke="#a4a4a4"/><ellipse cx="1465.3" cy="672.2" rx="4.2" ry="3.1" transform="rotate(111 1465.3 672.2)" stroke="#747474"/><ellipse cx="1474.6" cy="672.1" rx="4.5" ry="3.3" transform="rotate(122 1474.6 672.1)" stroke="#a4a4a4"/><ellipse cx="1484.0" cy="672.4" rx="4.9" ry="3.6" transform="rotate(82 1484.0 672.4)" stroke="#a4a4a4"/><ellipse cx="1494.0" cy="671.7" rx="3.8" ry="3.5" transform="rotate(108 1494.0 671.7)" stroke="#989898"/><ellipse cx="1500.6" cy="673.2" rx="4.1" ry="3.2" transform="rotate(70 1500.6 673.2)" stroke="#8c8c8c"/><ellipse cx="1510.3" cy="673.6" rx="3.4" ry="2.6" transform="rotate(123 1510.3 673.6)" stroke="#8c8c8c"/><ellipse cx="1517.9" cy="672.8" rx="3.8" ry="3.3" transform="rotate(83 1517.9 672.8)" stroke="#808080"/><ellipse cx="1161.6" cy="679.0" rx="4.0" ry="3.1" transform="rotate(92 1161.6 679.0)" stroke="#808080"/><ellipse cx="1169.2" cy="679.9" rx="5.0" ry="4.6" transform="rotate(51 1169.2 679.9)" stroke="#747474"/><ellipse cx="1176.6" cy="678.9" rx="4.2" ry="3.9" transform="rotate(127 1176.6 678.9)" stroke="#8c8c8c"/><ellipse cx="1186.6" cy="680.4" rx="4.9" ry="3.6" transform="rotate(113 1186.6 680.4)" stroke="#808080"/><ellipse cx="1196.2" cy="680.6" rx="4.9" ry="3.8" transform="rotate(93 1196.2 680.6)" stroke="#a4a4a4"/><ellipse cx="1204.4" cy="679.4" rx="4.2" ry="3.2" transform="rotate(87 1204.4 679.4)" stroke="#747474"/><ellipse cx="1212.3" cy="680.9" rx="3.8" ry="3.0" transform="rotate(118 1212.3 680.9)" stroke="#808080"/><ellipse cx="1219.4" cy="680.8" rx="4.1" ry="3.1" transform="rotate(81 1219.4 680.8)" stroke="#808080"/><ellipse cx="1227.3" cy="679.8" rx="5.0" ry="4.5" transform="rotate(106 1227.3 679.8)" stroke="#8c8c8c"/><ellipse cx="1236.2" cy="679.5" rx="3.6" ry="2.7" transform="rotate(72 1236.2 679.5)" stroke="#a4a4a4"/><ellipse cx="1245.5" cy="679.1" rx="4.1" ry="3.4" transform="rotate(101 1245.5 679.1)" stroke="#808080"/><ellipse cx="1254.0" cy="678.8" rx="4.0" ry="3.3" transform="rotate(57 1254.0 678.8)" stroke="#a4a4a4"/><ellipse cx="1261.8" cy="680.6" rx="4.4" ry="3.6" transform="rotate(57 1261.8 680.6)" stroke="#747474"/><ellipse cx="1269.8" cy="679.6" rx="4.4" ry="4.0" transform="rotate(65 1269.8 679.6)" stroke="#808080"/><ellipse cx="1279.7" cy="679.8" rx="4.3" ry="3.4" transform="rotate(115 1279.7 679.8)" stroke="#747474"/><ellipse cx="1286.7" cy="681.2" rx="3.9" ry="3.4" transform="rotate(92 1286.7 681.2)" stroke="#8c8c8c"/><ellipse cx="1292.4" cy="681.3" rx="3.8" ry="3.5" transform="rotate(81 1292.4 681.3)" stroke="#808080"/><ellipse cx="1303.7" cy="681.4" rx="4.6" ry="4.0" transform="rotate(61 1303.7 681.4)" stroke="#8c8c8c"/><ellipse cx="1312.5" cy="680.0" rx="5.0" ry="4.3" transform="rotate(124 1312.5 680.0)" stroke="#747474"/><ellipse cx="1318.9" cy="680.0" rx="3.8" ry="3.1" transform="rotate(102 1318.9 680.0)" stroke="#808080"/><ellipse cx="1327.4" cy="681.2" rx="4.5" ry="4.1" transform="rotate(99 1327.4 681.2)" stroke="#747474"/><ellipse cx="1338.0" cy="678.6" rx="3.4" ry="3.0" transform="rotate(118 1338.0 678.6)" stroke="#989898"/><ellipse cx="1346.3" cy="679.2" rx="4.0" ry="3.1" transform="rotate(57 1346.3 679.2)" stroke="#808080"/><ellipse cx="1353.1" cy="681.1" rx="3.6" ry="2.8" transform="rotate(97 1353.1 681.1)" stroke="#989898"/><ellipse cx="1361.8" cy="678.6" rx="4.1" ry="3.2" transform="rotate(53 1361.8 678.6)" stroke="#808080"/><ellipse cx="1370.0" cy="679.3" rx="3.4" ry="3.0" transform="rotate(68 1370.0 679.3)" stroke="#a4a4a4"/><ellipse cx="1378.5" cy="680.0" rx="4.5" ry="3.8" transform="rotate(128 1378.5 680.0)" stroke="#808080"/><ellipse cx="1386.4" cy="681.1" rx="3.7" ry="3.2" transform="rotate(89 1386.4 681.1)" stroke="#a4a4a4"/><ellipse cx="1397.1" cy="679.2" rx="4.8" ry="4.0" transform="rotate(124 1397.1 679.2)" stroke="#8c8c8c"/><ellipse cx="1403.8" cy="679.5" rx="3.6" ry="2.6" transform="rotate(123 1403.8 679.5)" stroke="#a4a4a4"/><ellipse cx="1413.3" cy="679.5" rx="3.8" ry="3.0" transform="rotate(79 1413.3 679.5)" stroke="#747474"/><ellipse cx="1421.3" cy="679.0" rx="4.6" ry="3.5" transform="rotate(77 1421.3 679.0)" stroke="#8c8c8c"/><ellipse cx="1428.1" cy="679.3" rx="4.6" ry="3.4" transform="rotate(104 1428.1 679.3)" stroke="#8c8c8c"/><ellipse cx="1438.5" cy="680.2" rx="4.6" ry="3.6" transform="rotate(95 1438.5 680.2)" stroke="#8c8c8c"/><ellipse cx="1447.3" cy="678.7" rx="4.6" ry="3.7" transform="rotate(66 1447.3 678.7)" stroke="#747474"/><ellipse cx="1453.5" cy="680.4" rx="3.5" ry="2.7" transform="rotate(54 1453.5 680.4)" stroke="#808080"/><ellipse cx="1462.4" cy="679.0" rx="3.8" ry="3.0" transform="rotate(103 1462.4 679.0)" stroke="#808080"/><ellipse cx="1471.3" cy="678.9" rx="4.7" ry="4.3" transform="rotate(92 1471.3 678.9)" stroke="#808080"/><ellipse cx="1478.0" cy="680.7" rx="3.5" ry="2.9" transform="rotate(123 1478.0 680.7)" stroke="#747474"/><ellipse cx="1488.3" cy="679.5" rx="4.1" ry="3.3" transform="rotate(81 1488.3 679.5)" stroke="#989898"/><ellipse cx="1496.7" cy="680.4" rx="3.5" ry="3.2" transform="rotate(106 1496.7 680.4)" stroke="#808080"/><ellipse cx="1504.8" cy="681.2" rx="3.5" ry="3.0" transform="rotate(83 1504.8 681.2)" stroke="#989898"/><ellipse cx="1509.8" cy="678.7" rx="4.3" ry="3.2" transform="rotate(113 1509.8 678.7)" stroke="#989898"/><ellipse cx="1157.2" cy="689.2" rx="4.2" ry="3.1" transform="rotate(121 1157.2 689.2)" stroke="#747474"/><ellipse cx="1166.5" cy="687.0" rx="4.6" ry="3.5" transform="rotate(84 1166.5 687.0)" stroke="#747474"/><ellipse cx="1174.3" cy="686.7" rx="3.7" ry="3.3" transform="rotate(104 1174.3 686.7)" stroke="#747474"/><ellipse cx="1183.1" cy="686.2" rx="4.0" ry="3.3" transform="rotate(71 1183.1 686.2)" stroke="#8c8c8c"/><ellipse cx="1190.6" cy="688.2" rx="3.8" ry="3.2" transform="rotate(82 1190.6 688.2)" stroke="#747474"/><ellipse cx="1198.8" cy="686.5" rx="3.6" ry="3.1" transform="rotate(56 1198.8 686.5)" stroke="#8c8c8c"/><ellipse cx="1209.3" cy="687.8" rx="3.7" ry="2.8" transform="rotate(57 1209.3 687.8)" stroke="#747474"/><ellipse cx="1217.8" cy="689.2" rx="4.1" ry="3.2" transform="rotate(115 1217.8 689.2)" stroke="#8c8c8c"/><ellipse cx="1225.5" cy="686.8" rx="3.5" ry="2.7" transform="rotate(66 1225.5 686.8)" stroke="#747474"/><ellipse cx="1233.9" cy="687.3" rx="4.6" ry="3.9" transform="rotate(55 1233.9 687.3)" stroke="#747474"/><ellipse cx="1242.6" cy="687.2" rx="4.5" ry="3.7" transform="rotate(76 1242.6 687.2)" stroke="#808080"/><ellipse cx="1252.2" cy="686.9" rx="4.9" ry="3.7" transform="rotate(99 1252.2 686.9)" stroke="#8c8c8c"/><ellipse cx="1258.7" cy="687.7" rx="3.8" ry="2.8" transform="rotate(84 1258.7 687.7)" stroke="#808080"/><ellipse cx="1267.3" cy="688.9" rx="4.6" ry="3.3" transform="rotate(73 1267.3 688.9)" stroke="#a4a4a4"/><ellipse cx="1276.3" cy="687.6" rx="4.1" ry="3.7" transform="rotate(100 1276.3 687.6)" stroke="#a4a4a4"/><ellipse cx="1285.3" cy="687.7" rx="4.1" ry="3.3" transform="rotate(125 1285.3 687.7)" stroke="#747474"/><ellipse cx="1294.6" cy="687.1" rx="4.0" ry="3.7" transform="rotate(64 1294.6 687.1)" stroke="#747474"/><ellipse cx="1302.9" cy="688.4" rx="4.8" ry="4.4" transform="rotate(89 1302.9 688.4)" stroke="#989898"/><ellipse cx="1311.8" cy="688.7" rx="3.9" ry="2.8" transform="rotate(125 1311.8 688.7)" stroke="#808080"/><ellipse cx="1320.3" cy="688.1" rx="3.9" ry="2.9" transform="rotate(112 1320.3 688.1)" stroke="#747474"/><ellipse cx="1330.0" cy="686.7" rx="4.2" ry="3.7" transform="rotate(113 1330.0 686.7)" stroke="#a4a4a4"/><ellipse cx="1339.9" cy="687.5" rx="3.6" ry="3.3" transform="rotate(71 1339.9 687.5)" stroke="#808080"/><ellipse cx="1347.3" cy="688.3" rx="4.8" ry="4.3" transform="rotate(72 1347.3 688.3)" stroke="#808080"/><ellipse cx="1355.1" cy="686.5" rx="3.4" ry="3.0" transform="rotate(61 1355.1 686.5)" stroke="#808080"/><ellipse cx="1363.9" cy="686.9" rx="4.6" ry="3.5" transform="rotate(72 1363.9 686.9)" stroke="#808080"/><ellipse cx="1370.0" cy="688.0" rx="3.8" ry="3.4" transform="rotate(87 1370.0 688.0)" stroke="#808080"/><ellipse cx="1378.9" cy="687.5" rx="4.0" ry="3.0" transform="rotate(60 1378.9 687.5)" stroke="#747474"/><ellipse cx="1388.4" cy="688.1" rx="4.2" ry="3.2" transform="rotate(123 1388.4 688.1)" stroke="#a4a4a4"/><ellipse cx="1397.1" cy="686.7" rx="4.8" ry="4.0" transform="rotate(85 1397.1 686.7)" stroke="#747474"/><ellipse cx="1405.1" cy="687.0" rx="3.8" ry="2.9" transform="rotate(82 1405.1 687.0)" stroke="#989898"/><ellipse cx="1414.0" cy="686.7" rx="4.8" ry="3.8" transform="rotate(113 1414.0 686.7)" stroke="#989898"/><ellipse cx="1420.9" cy="688.4" rx="4.3" ry="3.9" transform="rotate(57 1420.9 688.4)" stroke="#989898"/><ellipse cx="1432.0" cy="689.1" rx="4.0" ry="3.1" transform="rotate(121 1432.0 689.1)" stroke="#747474"/><ellipse cx="1439.4" cy="689.0" rx="3.7" ry="2.8" transform="rotate(64 1439.4 689.0)" stroke="#8c8c8c"/><ellipse cx="1448.0" cy="688.6" rx="4.9" ry="4.3" transform="rotate(75 1448.0 688.6)" stroke="#747474"/><ellipse cx="1455.1" cy="688.9" rx="4.4" ry="4.0" transform="rotate(119 1455.1 688.9)" stroke="#989898"/><ellipse cx="1465.1" cy="688.2" rx="4.0" ry="3.5" transform="rotate(73 1465.1 688.2)" stroke="#989898"/><ellipse cx="1472.9" cy="687.6" rx="3.6" ry="3.0" transform="rotate(96 1472.9 687.6)" stroke="#747474"/><ellipse cx="1481.0" cy="688.7" rx="3.9" ry="3.1" transform="rotate(78 1481.0 688.7)" stroke="#8c8c8c"/><ellipse cx="1489.2" cy="687.6" rx="3.6" ry="2.6" transform="rotate(54 1489.2 687.6)" stroke="#989898"/><ellipse cx="1498.9" cy="688.7" rx="4.9" ry="4.5" transform="rotate(76 1498.9 688.7)" stroke="#a4a4a4"/><ellipse cx="1163.4" cy="693.8" rx="4.8" ry="4.0" transform="rotate(114 1163.4 693.8)" stroke="#808080"/><ellipse cx="1170.6" cy="696.3" rx="3.8" ry="3.5" transform="rotate(93 1170.6 696.3)" stroke="#808080"/><ellipse cx="1180.2" cy="695.1" rx="5.0" ry="4.6" transform="rotate(94 1180.2 695.1)" stroke="#808080"/><ellipse cx="1188.6" cy="693.6" rx="4.1" ry="3.1" transform="rotate(88 1188.6 693.6)" stroke="#989898"/><ellipse cx="1194.7" cy="693.6" rx="3.5" ry="2.6" transform="rotate(104 1194.7 693.6)" stroke="#747474"/><ellipse cx="1202.8" cy="695.8" rx="4.6" ry="4.0" transform="rotate(93 1202.8 695.8)" stroke="#a4a4a4"/><ellipse cx="1210.3" cy="694.0" rx="3.6" ry="2.8" transform="rotate(76 1210.3 694.0)" stroke="#747474"/><ellipse cx="1220.2" cy="693.8" rx="4.2" ry="3.6" transform="rotate(104 1220.2 693.8)" stroke="#a4a4a4"/><ellipse cx="1230.1" cy="694.1" rx="3.5" ry="3.0" transform="rotate(79 1230.1 694.1)" stroke="#8c8c8c"/><ellipse cx="1237.2" cy="695.3" rx="3.8" ry="2.9" transform="rotate(53 1237.2 695.3)" stroke="#989898"/><ellipse cx="1245.1" cy="696.2" rx="3.8" ry="3.2" transform="rotate(125 1245.1 696.2)" stroke="#989898"/><ellipse cx="1252.5" cy="694.8" rx="4.9" ry="4.2" transform="rotate(72 1252.5 694.8)" stroke="#747474"/><ellipse cx="1261.0" cy="695.1" rx="4.4" ry="3.3" transform="rotate(114 1261.0 695.1)" stroke="#989898"/><ellipse cx="1268.8" cy="694.3" rx="5.0" ry="4.5" transform="rotate(78 1268.8 694.3)" stroke="#989898"/><ellipse cx="1277.1" cy="694.9" rx="4.3" ry="3.7" transform="rotate(109 1277.1 694.9)" stroke="#a4a4a4"/><ellipse cx="1287.7" cy="696.1" rx="3.7" ry="3.1" transform="rotate(123 1287.7 696.1)" stroke="#a4a4a4"/><ellipse cx="1295.1" cy="694.4" rx="4.5" ry="3.6" transform="rotate(89 1295.1 694.4)" stroke="#a4a4a4"/><ellipse cx="1304.8" cy="696.1" rx="5.0" ry="4.0" transform="rotate(104 1304.8 696.1)" stroke="#a4a4a4"/><ellipse cx="1313.8" cy="694.7" rx="4.0" ry="3.0" transform="rotate(72 1313.8 694.7)" stroke="#a4a4a4"/><ellipse cx="1319.4" cy="693.9" rx="4.3" ry="3.8" transform="rotate(78 1319.4 693.9)" stroke="#747474"/><ellipse cx="1328.3" cy="693.7" rx="4.1" ry="3.7" transform="rotate(74 1328.3 693.7)" stroke="#989898"/><ellipse cx="1336.9" cy="696.3" rx="3.9" ry="3.6" transform="rotate(51 1336.9 696.3)" stroke="#989898"/><ellipse cx="1345.2" cy="694.3" rx="3.6" ry="2.7" transform="rotate(81 1345.2 694.3)" stroke="#989898"/><ellipse cx="1353.8" cy="694.6" rx="3.6" ry="2.8" transform="rotate(96 1353.8 694.6)" stroke="#a4a4a4"/><ellipse cx="1364.8" cy="695.5" rx="4.8" ry="4.4" transform="rotate(80 1364.8 695.5)" stroke="#8c8c8c"/><ellipse cx="1371.3" cy="694.3" rx="3.9" ry="3.5" transform="rotate(68 1371.3 694.3)" stroke="#747474"/><ellipse cx="1379.4" cy="696.3" rx="4.3" ry="3.8" transform="rotate(72 1379.4 696.3)" stroke="#989898"/><ellipse cx="1390.0" cy="694.7" rx="4.5" ry="4.0" transform="rotate(105 1390.0 694.7)" stroke="#808080"/><ellipse cx="1400.5" cy="694.2" rx="4.5" ry="3.4" transform="rotate(59 1400.5 694.2)" stroke="#8c8c8c"/><ellipse cx="1406.4" cy="693.6" rx="4.6" ry="3.5" transform="rotate(58 1406.4 693.6)" stroke="#a4a4a4"/><ellipse cx="1415.9" cy="693.7" rx="3.4" ry="2.5" transform="rotate(77 1415.9 693.7)" stroke="#808080"/><ellipse cx="1425.6" cy="696.2" rx="4.3" ry="3.6" transform="rotate(63 1425.6 696.2)" stroke="#8c8c8c"/><ellipse cx="1431.6" cy="696.3" rx="5.0" ry="4.5" transform="rotate(58 1431.6 696.3)" stroke="#989898"/><ellipse cx="1440.7" cy="694.0" rx="4.7" ry="4.3" transform="rotate(94 1440.7 694.0)" stroke="#808080"/><ellipse cx="1449.7" cy="693.6" rx="4.5" ry="4.0" transform="rotate(64 1449.7 693.6)" stroke="#747474"/><ellipse cx="1456.6" cy="694.9" rx="4.3" ry="3.6" transform="rotate(88 1456.6 694.9)" stroke="#989898"/><ellipse cx="1465.5" cy="694.0" rx="4.0" ry="3.1" transform="rotate(97 1465.5 694.0)" stroke="#8c8c8c"/><ellipse cx="1472.8" cy="695.2" rx="3.7" ry="2.9" transform="rotate(128 1472.8 695.2)" stroke="#a4a4a4"/><ellipse cx="1483.3" cy="694.5" rx="5.0" ry="4.3" transform="rotate(58 1483.3 694.5)" stroke="#808080"/><ellipse cx="1489.4" cy="695.3" rx="4.2" ry="3.1" transform="rotate(117 1489.4 695.3)" stroke="#8c8c8c"/><ellipse cx="1156.8" cy="701.8" rx="3.7" ry="3.1" transform="rotate(126 1156.8 701.8)" stroke="#989898"/><ellipse cx="1164.2" cy="703.8" rx="5.0" ry="4.5" transform="rotate(65 1164.2 703.8)" stroke="#a4a4a4"/><ellipse cx="1174.8" cy="703.8" rx="3.6" ry="3.2" transform="rotate(59 1174.8 703.8)" stroke="#808080"/><ellipse cx="1181.2" cy="702.1" rx="4.2" ry="3.2" transform="rotate(115 1181.2 702.1)" stroke="#808080"/><ellipse cx="1190.3" cy="702.3" rx="3.8" ry="2.8" transform="rotate(70 1190.3 702.3)" stroke="#8c8c8c"/><ellipse cx="1200.2" cy="702.5" rx="4.1" ry="3.1" transform="rotate(69 1200.2 702.5)" stroke="#a4a4a4"/><ellipse cx="1208.1" cy="701.7" rx="4.1" ry="3.7" transform="rotate(53 1208.1 701.7)" stroke="#a4a4a4"/><ellipse cx="1218.9" cy="702.1" rx="4.1" ry="3.2" transform="rotate(126 1218.9 702.1)" stroke="#808080"/><ellipse cx="1226.4" cy="702.8" rx="4.4" ry="3.9" transform="rotate(67 1226.4 702.8)" stroke="#808080"/><ellipse cx="1234.5" cy="702.1" rx="3.5" ry="2.7" transform="rotate(78 1234.5 702.1)" stroke="#747474"/><ellipse cx="1241.1" cy="701.8" rx="3.8" ry="2.8" transform="rotate(115 1241.1 701.8)" stroke="#8c8c8c"/><ellipse cx="1252.0" cy="703.3" rx="4.7" ry="4.0" transform="rotate(68 1252.0 703.3)" stroke="#989898"/><ellipse cx="1259.8" cy="704.0" rx="3.5" ry="3.1" transform="rotate(79 1259.8 704.0)" stroke="#a4a4a4"/><ellipse cx="1269.3" cy="703.8" rx="3.5" ry="2.9" transform="rotate(57 1269.3 703.8)" stroke="#a4a4a4"/><ellipse cx="1276.7" cy="701.5" rx="4.9" ry="4.0" transform="rotate(118 1276.7 701.5)" stroke="#8c8c8c"/><ellipse cx="1284.2" cy="703.7" rx="4.5" ry="3.6" transform="rotate(118 1284.2 703.7)" stroke="#8c8c8c"/><ellipse cx="1294.4" cy="703.0" rx="3.7" ry="3.0" transform="rotate(54 1294.4 703.0)" stroke="#808080"/><ellipse cx="1301.9" cy="703.6" rx="3.8" ry="3.0" transform="rotate(97 1301.9 703.6)" stroke="#989898"/><ellipse cx="1310.5" cy="703.9" rx="3.9" ry="3.3" transform="rotate(63 1310.5 703.9)" stroke="#8c8c8c"/><ellipse cx="1321.3" cy="704.2" rx="4.2" ry="3.5" transform="rotate(70 1321.3 704.2)" stroke="#747474"/><ellipse cx="1328.2" cy="701.3" rx="4.8" ry="3.8" transform="rotate(60 1328.2 701.3)" stroke="#808080"/><ellipse cx="1336.9" cy="702.4" rx="3.4" ry="2.8" transform="rotate(82 1336.9 702.4)" stroke="#8c8c8c"/><ellipse cx="1344.1" cy="702.7" rx="4.0" ry="3.5" transform="rotate(61 1344.1 702.7)" stroke="#808080"/><ellipse cx="1354.8" cy="703.6" rx="3.8" ry="3.0" transform="rotate(77 1354.8 703.6)" stroke="#989898"/><ellipse cx="1362.3" cy="704.0" rx="4.5" ry="3.5" transform="rotate(88 1362.3 704.0)" stroke="#989898"/><ellipse cx="1371.3" cy="702.0" rx="4.1" ry="3.2" transform="rotate(113 1371.3 702.0)" stroke="#989898"/><ellipse cx="1378.8" cy="703.7" rx="4.4" ry="3.9" transform="rotate(76 1378.8 703.7)" stroke="#a4a4a4"/><ellipse cx="1388.4" cy="703.4" rx="3.9" ry="2.8" transform="rotate(91 1388.4 703.4)" stroke="#747474"/><ellipse cx="1397.1" cy="701.7" rx="4.8" ry="3.6" transform="rotate(91 1397.1 701.7)" stroke="#989898"/><ellipse cx="1405.5" cy="701.7" rx="4.1" ry="3.4" transform="rotate(80 1405.5 701.7)" stroke="#808080"/><ellipse cx="1410.5" cy="703.8" rx="3.6" ry="3.1" transform="rotate(66 1410.5 703.8)" stroke="#808080"/><ellipse cx="1419.5" cy="701.3" rx="4.2" ry="3.3" transform="rotate(59 1419.5 701.3)" stroke="#989898"/><ellipse cx="1430.8" cy="702.9" rx="4.4" ry="3.8" transform="rotate(102 1430.8 702.9)" stroke="#a4a4a4"/><ellipse cx="1437.2" cy="702.5" rx="4.2" ry="3.2" transform="rotate(102 1437.2 702.5)" stroke="#989898"/><ellipse cx="1445.4" cy="703.1" rx="4.2" ry="3.0" transform="rotate(110 1445.4 703.1)" stroke="#808080"/><ellipse cx="1456.2" cy="702.6" rx="3.8" ry="3.3" transform="rotate(84 1456.2 702.6)" stroke="#8c8c8c"/><ellipse cx="1464.0" cy="701.6" rx="4.0" ry="3.2" transform="rotate(60 1464.0 701.6)" stroke="#a4a4a4"/><ellipse cx="1471.5" cy="703.8" rx="4.9" ry="4.1" transform="rotate(71 1471.5 703.8)" stroke="#a4a4a4"/><ellipse cx="1479.3" cy="702.5" rx="3.6" ry="2.8" transform="rotate(110 1479.3 702.5)" stroke="#a4a4a4"/><ellipse cx="1163.5" cy="710.6" rx="5.0" ry="4.0" transform="rotate(93 1163.5 710.6)" stroke="#808080"/><ellipse cx="1172.0" cy="709.3" rx="4.5" ry="3.6" transform="rotate(73 1172.0 709.3)" stroke="#a4a4a4"/><ellipse cx="1178.3" cy="709.4" rx="3.6" ry="2.9" transform="rotate(92 1178.3 709.4)" stroke="#8c8c8c"/><ellipse cx="1188.0" cy="708.6" rx="4.8" ry="4.2" transform="rotate(71 1188.0 708.6)" stroke="#747474"/><ellipse cx="1194.1" cy="709.9" rx="3.6" ry="2.8" transform="rotate(120 1194.1 709.9)" stroke="#a4a4a4"/><ellipse cx="1204.0" cy="708.5" rx="4.5" ry="4.0" transform="rotate(81 1204.0 708.5)" stroke="#8c8c8c"/><ellipse cx="1210.6" cy="708.9" rx="3.5" ry="2.9" transform="rotate(92 1210.6 708.9)" stroke="#808080"/><ellipse cx="1218.5" cy="710.7" rx="3.9" ry="2.8" transform="rotate(100 1218.5 710.7)" stroke="#a4a4a4"/><ellipse cx="1228.1" cy="709.1" rx="4.9" ry="4.4" transform="rotate(127 1228.1 709.1)" stroke="#8c8c8c"/><ellipse cx="1235.9" cy="711.2" rx="4.4" ry="3.2" transform="rotate(51 1235.9 711.2)" stroke="#989898"/><ellipse cx="1243.3" cy="711.2" rx="4.7" ry="3.7" transform="rotate(115 1243.3 711.2)" stroke="#747474"/><ellipse cx="1253.5" cy="710.0" rx="3.5" ry="3.1" transform="rotate(114 1253.5 710.0)" stroke="#a4a4a4"/><ellipse cx="1260.2" cy="710.7" rx="3.8" ry="3.3" transform="rotate(100 1260.2 710.7)" stroke="#8c8c8c"/><ellipse cx="1270.1" cy="709.2" rx="4.2" ry="3.7" transform="rotate(51 1270.1 709.2)" stroke="#747474"/><ellipse cx="1279.3" cy="709.1" rx="4.8" ry="3.8" transform="rotate(118 1279.3 709.1)" stroke="#808080"/><ellipse cx="1288.6" cy="711.4" rx="4.2" ry="3.1" transform="rotate(111 1288.6 711.4)" stroke="#989898"/><ellipse cx="1295.8" cy="709.8" rx="4.3" ry="3.6" transform="rotate(123 1295.8 709.8)" stroke="#a4a4a4"/><ellipse cx="1303.9" cy="711.1" rx="4.7" ry="3.5" transform="rotate(70 1303.9 711.1)" stroke="#a4a4a4"/><ellipse cx="1312.3" cy="708.8" rx="3.8" ry="3.4" transform="rotate(123 1312.3 708.8)" stroke="#747474"/><ellipse cx="1321.3" cy="710.6" rx="3.9" ry="3.4" transform="rotate(62 1321.3 710.6)" stroke="#a4a4a4"/><ellipse cx="1329.1" cy="709.7" rx="4.7" ry="3.8" transform="rotate(115 1329.1 709.7)" stroke="#989898"/><ellipse cx="1337.8" cy="710.0" rx="4.6" ry="3.7" transform="rotate(107 1337.8 710.0)" stroke="#8c8c8c"/><ellipse cx="1345.8" cy="710.5" rx="4.9" ry="4.5" transform="rotate(120 1345.8 710.5)" stroke="#808080"/><ellipse cx="1353.7" cy="709.7" rx="4.0" ry="3.1" transform="rotate(100 1353.7 709.7)" stroke="#808080"/><ellipse cx="1361.0" cy="709.5" rx="4.5" ry="3.7" transform="rotate(105 1361.0 709.5)" stroke="#8c8c8c"/><ellipse cx="1369.0" cy="709.0" rx="5.0" ry="3.8" transform="rotate(115 1369.0 709.0)" stroke="#747474"/><ellipse cx="1378.1" cy="711.1" rx="4.2" ry="3.4" transform="rotate(105 1378.1 711.1)" stroke="#a4a4a4"/><ellipse cx="1388.7" cy="710.7" rx="4.1" ry="3.2" transform="rotate(69 1388.7 710.7)" stroke="#989898"/><ellipse cx="1395.5" cy="709.5" rx="3.8" ry="2.9" transform="rotate(61 1395.5 709.5)" stroke="#808080"/><ellipse cx="1404.6" cy="708.8" rx="5.0" ry="4.5" transform="rotate(58 1404.6 708.8)" stroke="#a4a4a4"/><ellipse cx="1412.0" cy="710.7" rx="4.1" ry="3.6" transform="rotate(108 1412.0 710.7)" stroke="#a4a4a4"/><ellipse cx="1421.2" cy="711.1" rx="3.9" ry="3.5" transform="rotate(107 1421.2 711.1)" stroke="#a4a4a4"/><ellipse cx="1429.1" cy="710.4" rx="4.5" ry="3.3" transform="rotate(54 1429.1 710.4)" stroke="#747474"/><ellipse cx="1438.1" cy="710.8" rx="3.9" ry="3.3" transform="rotate(88 1438.1 710.8)" stroke="#747474"/><ellipse cx="1446.0" cy="709.4" rx="3.6" ry="2.7" transform="rotate(66 1446.0 709.4)" stroke="#808080"/><ellipse cx="1454.0" cy="711.4" rx="4.5" ry="3.7" transform="rotate(59 1454.0 711.4)" stroke="#989898"/><ellipse cx="1462.3" cy="709.4" rx="3.7" ry="2.8" transform="rotate(109 1462.3 709.4)" stroke="#989898"/><ellipse cx="1469.4" cy="710.3" rx="4.3" ry="3.4" transform="rotate(119 1469.4 710.3)" stroke="#747474"/><ellipse cx="1157.2" cy="718.6" rx="4.4" ry="3.7" transform="rotate(65 1157.2 718.6)" stroke="#808080"/><ellipse cx="1165.5" cy="716.2" rx="4.1" ry="3.0" transform="rotate(129 1165.5 716.2)" stroke="#808080"/><ellipse cx="1173.9" cy="718.3" rx="4.8" ry="3.7" transform="rotate(62 1173.9 718.3)" stroke="#a4a4a4"/><ellipse cx="1185.5" cy="717.4" rx="3.9" ry="3.6" transform="rotate(57 1185.5 717.4)" stroke="#747474"/><ellipse cx="1193.1" cy="716.2" rx="4.0" ry="3.6" transform="rotate(77 1193.1 716.2)" stroke="#a4a4a4"/><ellipse cx="1200.2" cy="717.2" rx="4.3" ry="3.4" transform="rotate(86 1200.2 717.2)" stroke="#8c8c8c"/><ellipse cx="1208.5" cy="718.1" rx="4.4" ry="3.2" transform="rotate(95 1208.5 718.1)" stroke="#989898"/><ellipse cx="1215.6" cy="717.2" rx="3.9" ry="3.5" transform="rotate(122 1215.6 717.2)" stroke="#a4a4a4"/><ellipse cx="1226.2" cy="717.6" rx="3.9" ry="3.1" transform="rotate(92 1226.2 717.6)" stroke="#a4a4a4"/><ellipse cx="1231.4" cy="718.3" rx="5.0" ry="4.3" transform="rotate(67 1231.4 718.3)" stroke="#a4a4a4"/><ellipse cx="1242.5" cy="715.8" rx="3.6" ry="2.8" transform="rotate(105 1242.5 715.8)" stroke="#8c8c8c"/><ellipse cx="1249.5" cy="716.1" rx="3.8" ry="3.5" transform="rotate(117 1249.5 716.1)" stroke="#8c8c8c"/><ellipse cx="1258.4" cy="715.9" rx="4.1" ry="3.4" transform="rotate(129 1258.4 715.9)" stroke="#747474"/><ellipse cx="1266.9" cy="717.7" rx="4.2" ry="3.8" transform="rotate(108 1266.9 717.7)" stroke="#808080"/><ellipse cx="1273.2" cy="717.0" rx="3.7" ry="2.9" transform="rotate(55 1273.2 717.0)" stroke="#8c8c8c"/><ellipse cx="1283.0" cy="717.0" rx="4.2" ry="3.2" transform="rotate(109 1283.0 717.0)" stroke="#747474"/><ellipse cx="1291.3" cy="718.4" rx="4.0" ry="3.1" transform="rotate(83 1291.3 718.4)" stroke="#989898"/><ellipse cx="1299.9" cy="717.9" rx="4.9" ry="4.4" transform="rotate(62 1299.9 717.9)" stroke="#747474"/><ellipse cx="1307.1" cy="717.1" rx="4.9" ry="3.5" transform="rotate(106 1307.1 717.1)" stroke="#a4a4a4"/><ellipse cx="1314.4" cy="717.0" rx="4.4" ry="3.8" transform="rotate(109 1314.4 717.0)" stroke="#a4a4a4"/><ellipse cx="1322.1" cy="716.3" rx="4.8" ry="3.6" transform="rotate(123 1322.1 716.3)" stroke="#808080"/><ellipse cx="1330.6" cy="716.9" rx="4.7" ry="4.1" transform="rotate(109 1330.6 716.9)" stroke="#808080"/><ellipse cx="1339.9" cy="716.6" rx="4.1" ry="3.0" transform="rotate(82 1339.9 716.6)" stroke="#989898"/><ellipse cx="1347.5" cy="717.2" rx="3.9" ry="3.1" transform="rotate(64 1347.5 717.2)" stroke="#747474"/><ellipse cx="1355.9" cy="718.2" rx="4.5" ry="3.4" transform="rotate(56 1355.9 718.2)" stroke="#747474"/><ellipse cx="1364.4" cy="717.9" rx="4.0" ry="3.2" transform="rotate(70 1364.4 717.9)" stroke="#808080"/><ellipse cx="1372.4" cy="718.1" rx="4.4" ry="3.3" transform="rotate(91 1372.4 718.1)" stroke="#a4a4a4"/><ellipse cx="1381.5" cy="716.7" rx="4.3" ry="3.5" transform="rotate(62 1381.5 716.7)" stroke="#8c8c8c"/><ellipse cx="1391.2" cy="716.0" rx="3.8" ry="3.3" transform="rotate(115 1391.2 716.0)" stroke="#a4a4a4"/><ellipse cx="1397.5" cy="717.9" rx="4.0" ry="3.0" transform="rotate(89 1397.5 717.9)" stroke="#808080"/><ellipse cx="1407.4" cy="717.5" rx="3.4" ry="2.8" transform="rotate(119 1407.4 717.5)" stroke="#a4a4a4"/><ellipse cx="1416.4" cy="718.7" rx="3.5" ry="2.8" transform="rotate(66 1416.4 718.7)" stroke="#8c8c8c"/><ellipse cx="1423.8" cy="717.0" rx="4.9" ry="3.8" transform="rotate(90 1423.8 717.0)" stroke="#989898"/><ellipse cx="1433.5" cy="716.4" rx="4.5" ry="3.3" transform="rotate(54 1433.5 716.4)" stroke="#a4a4a4"/><ellipse cx="1443.8" cy="718.7" rx="4.6" ry="3.8" transform="rotate(92 1443.8 718.7)" stroke="#a4a4a4"/><ellipse cx="1450.5" cy="716.8" rx="3.8" ry="2.8" transform="rotate(97 1450.5 716.8)" stroke="#808080"/><ellipse cx="1161.5" cy="723.6" rx="4.3" ry="3.8" transform="rotate(104 1161.5 723.6)" stroke="#989898"/><ellipse cx="1168.8" cy="725.0" rx="4.3" ry="3.4" transform="rotate(78 1168.8 725.0)" stroke="#989898"/><ellipse cx="1176.9" cy="724.4" rx="3.8" ry="2.9" transform="rotate(102 1176.9 724.4)" stroke="#a4a4a4"/><ellipse cx="1183.7" cy="725.1" rx="3.9" ry="3.5" transform="rotate(60 1183.7 725.1)" stroke="#989898"/><ellipse cx="1193.6" cy="725.5" rx="4.3" ry="3.3" transform="rotate(60 1193.6 725.5)" stroke="#808080"/><ellipse cx="1204.5" cy="725.7" rx="4.7" ry="4.0" transform="rotate(70 1204.5 725.7)" stroke="#8c8c8c"/><ellipse cx="1213.6" cy="724.5" rx="4.3" ry="3.2" transform="rotate(110 1213.6 724.5)" stroke="#747474"/><ellipse cx="1221.3" cy="725.6" rx="3.5" ry="2.7" transform="rotate(129 1221.3 725.6)" stroke="#808080"/><ellipse cx="1228.6" cy="724.7" rx="3.5" ry="3.1" transform="rotate(112 1228.6 724.7)" stroke="#a4a4a4"/><ellipse cx="1235.9" cy="726.1" rx="3.9" ry="3.1" transform="rotate(92 1235.9 726.1)" stroke="#a4a4a4"/><ellipse cx="1243.9" cy="723.9" rx="4.8" ry="4.0" transform="rotate(112 1243.9 723.9)" stroke="#989898"/><ellipse cx="1252.6" cy="725.4" rx="4.6" ry="3.5" transform="rotate(73 1252.6 725.4)" stroke="#808080"/><ellipse cx="1260.8" cy="724.0" rx="3.5" ry="3.0" transform="rotate(59 1260.8 724.0)" stroke="#808080"/><ellipse cx="1269.4" cy="726.2" rx="4.6" ry="3.4" transform="rotate(102 1269.4 726.2)" stroke="#747474"/><ellipse cx="1277.8" cy="725.2" rx="3.4" ry="2.8" transform="rotate(56 1277.8 725.2)" stroke="#989898"/><ellipse cx="1286.2" cy="723.8" rx="4.4" ry="3.2" transform="rotate(79 1286.2 723.8)" stroke="#747474"/><ellipse cx="1291.5" cy="726.2" rx="3.8" ry="3.1" transform="rotate(103 1291.5 726.2)" stroke="#a4a4a4"/><ellipse cx="1302.0" cy="725.5" rx="4.1" ry="3.7" transform="rotate(82 1302.0 725.5)" stroke="#747474"/><ellipse cx="1310.1" cy="724.2" rx="4.6" ry="3.9" transform="rotate(52 1310.1 724.2)" stroke="#a4a4a4"/><ellipse cx="1317.4" cy="723.4" rx="5.0" ry="4.0" transform="rotate(61 1317.4 723.4)" stroke="#808080"/><ellipse cx="1327.2" cy="723.4" rx="3.7" ry="2.7" transform="rotate(73 1327.2 723.4)" stroke="#a4a4a4"/><ellipse cx="1334.5" cy="723.4" rx="4.6" ry="3.8" transform="rotate(65 1334.5 723.4)" stroke="#a4a4a4"/><ellipse cx="1345.4" cy="725.0" rx="3.8" ry="3.3" transform="rotate(62 1345.4 725.0)" stroke="#747474"/><ellipse cx="1351.4" cy="724.4" rx="4.7" ry="4.3" transform="rotate(125 1351.4 724.4)" stroke="#808080"/><ellipse cx="1360.3" cy="725.8" rx="4.3" ry="3.5" transform="rotate(80 1360.3 725.8)" stroke="#747474"/><ellipse cx="1368.6" cy="723.8" rx="4.2" ry="3.6" transform="rotate(85 1368.6 723.8)" stroke="#808080"/><ellipse cx="1374.8" cy="723.4" rx="4.0" ry="3.5" transform="rotate(94 1374.8 723.4)" stroke="#989898"/><ellipse cx="1384.5" cy="724.5" rx="4.7" ry="3.8" transform="rotate(61 1384.5 724.5)" stroke="#808080"/><ellipse cx="1392.7" cy="724.1" rx="3.7" ry="3.2" transform="rotate(105 1392.7 724.1)" stroke="#8c8c8c"/><ellipse cx="1400.8" cy="725.0" rx="3.5" ry="2.8" transform="rotate(128 1400.8 725.0)" stroke="#a4a4a4"/><ellipse cx="1409.2" cy="725.9" rx="3.8" ry="3.1" transform="rotate(107 1409.2 725.9)" stroke="#8c8c8c"/><ellipse cx="1417.7" cy="725.2" rx="3.9" ry="3.1" transform="rotate(114 1417.7 725.2)" stroke="#8c8c8c"/><ellipse cx="1426.7" cy="724.3" rx="4.6" ry="3.5" transform="rotate(69 1426.7 724.3)" stroke="#989898"/><ellipse cx="1437.3" cy="724.7" rx="4.1" ry="3.8" transform="rotate(81 1437.3 724.7)" stroke="#8c8c8c"/><ellipse cx="1444.5" cy="725.0" rx="4.1" ry="3.2" transform="rotate(54 1444.5 725.0)" stroke="#747474"/><ellipse cx="1159.3" cy="731.8" rx="4.1" ry="3.5" transform="rotate(65 1159.3 731.8)" stroke="#808080"/><ellipse cx="1167.9" cy="731.7" rx="4.7" ry="3.6" transform="rotate(106 1167.9 731.7)" stroke="#8c8c8c"/><ellipse cx="1174.9" cy="732.5" rx="3.6" ry="2.9" transform="rotate(100 1174.9 732.5)" stroke="#747474"/><ellipse cx="1186.0" cy="731.0" rx="4.3" ry="3.6" transform="rotate(94 1186.0 731.0)" stroke="#a4a4a4"/><ellipse cx="1192.5" cy="733.1" rx="4.9" ry="3.6" transform="rotate(98 1192.5 733.1)" stroke="#8c8c8c"/><ellipse cx="1201.5" cy="732.6" rx="4.8" ry="4.1" transform="rotate(91 1201.5 732.6)" stroke="#808080"/><ellipse cx="1208.6" cy="731.2" rx="4.4" ry="3.9" transform="rotate(127 1208.6 731.2)" stroke="#747474"/><ellipse cx="1219.4" cy="732.5" rx="4.0" ry="3.4" transform="rotate(74 1219.4 732.5)" stroke="#747474"/><ellipse cx="1224.7" cy="731.8" rx="3.7" ry="3.0" transform="rotate(61 1224.7 731.8)" stroke="#808080"/><ellipse cx="1235.4" cy="732.2" rx="3.6" ry="2.9" transform="rotate(53 1235.4 732.2)" stroke="#747474"/><ellipse cx="1242.7" cy="730.7" rx="4.2" ry="3.7" transform="rotate(51 1242.7 730.7)" stroke="#808080"/><ellipse cx="1249.2" cy="730.5" rx="4.8" ry="3.7" transform="rotate(129 1249.2 730.5)" stroke="#989898"/><ellipse cx="1258.2" cy="731.5" rx="4.7" ry="4.0" transform="rotate(75 1258.2 731.5)" stroke="#989898"/><ellipse cx="1267.9" cy="730.5" rx="4.4" ry="3.4" transform="rotate(121 1267.9 730.5)" stroke="#989898"/><ellipse cx="1277.3" cy="732.6" rx="3.4" ry="2.9" transform="rotate(86 1277.3 732.6)" stroke="#a4a4a4"/><ellipse cx="1286.6" cy="732.5" rx="4.3" ry="3.7" transform="rotate(51 1286.6 732.5)" stroke="#808080"/><ellipse cx="1295.4" cy="731.6" rx="4.9" ry="4.4" transform="rotate(54 1295.4 731.6)" stroke="#808080"/><ellipse cx="1301.5" cy="731.0" rx="4.3" ry="3.3" transform="rotate(80 1301.5 731.0)" stroke="#8c8c8c"/><ellipse cx="1311.1" cy="733.0" rx="4.3" ry="3.2" transform="rotate(113 1311.1 733.0)" stroke="#989898"/><ellipse cx="1319.9" cy="733.2" rx="3.9" ry="2.8" transform="rotate(105 1319.9 733.2)" stroke="#989898"/><ellipse cx="1329.7" cy="732.2" rx="4.8" ry="3.9" transform="rotate(89 1329.7 732.2)" stroke="#808080"/><ellipse cx="1339.5" cy="731.8" rx="4.3" ry="3.3" transform="rotate(108 1339.5 731.8)" stroke="#a4a4a4"/><ellipse cx="1347.0" cy="730.6" rx="4.6" ry="3.8" transform="rotate(124 1347.0 730.6)" stroke="#808080"/><ellipse cx="1357.2" cy="733.3" rx="3.8" ry="2.9" transform="rotate(76 1357.2 733.3)" stroke="#808080"/><ellipse cx="1364.4" cy="731.1" rx="5.0" ry="4.0" transform="rotate(115 1364.4 731.1)" stroke="#8c8c8c"/><ellipse cx="1374.1" cy="731.2" rx="3.4" ry="3.0" transform="rotate(61 1374.1 731.2)" stroke="#8c8c8c"/><ellipse cx="1381.7" cy="731.0" rx="4.1" ry="3.7" transform="rotate(56 1381.7 731.0)" stroke="#989898"/><ellipse cx="1391.2" cy="733.2" rx="3.5" ry="2.8" transform="rotate(64 1391.2 733.2)" stroke="#747474"/><ellipse cx="1401.8" cy="731.5" rx="4.4" ry="3.2" transform="rotate(103 1401.8 731.5)" stroke="#a4a4a4"/><ellipse cx="1409.6" cy="730.5" rx="4.8" ry="4.2" transform="rotate(58 1409.6 730.5)" stroke="#a4a4a4"/><ellipse cx="1418.9" cy="731.3" rx="3.9" ry="3.6" transform="rotate(101 1418.9 731.3)" stroke="#747474"/><ellipse cx="1426.7" cy="730.6" rx="3.8" ry="3.0" transform="rotate(105 1426.7 730.6)" stroke="#a4a4a4"/><ellipse cx="1163.6" cy="739.4" rx="4.4" ry="3.2" transform="rotate(74 1163.6 739.4)" stroke="#8c8c8c"/><ellipse cx="1172.5" cy="739.7" rx="5.0" ry="3.6" transform="rotate(82 1172.5 739.7)" stroke="#808080"/><ellipse cx="1179.1" cy="738.9" rx="4.7" ry="4.1" transform="rotate(80 1179.1 738.9)" stroke="#808080"/><ellipse cx="1188.8" cy="739.8" rx="3.5" ry="2.7" transform="rotate(93 1188.8 739.8)" stroke="#808080"/><ellipse cx="1198.5" cy="739.8" rx="4.7" ry="4.3" transform="rotate(105 1198.5 739.8)" stroke="#808080"/><ellipse cx="1204.9" cy="739.0" rx="4.7" ry="3.9" transform="rotate(72 1204.9 739.0)" stroke="#a4a4a4"/><ellipse cx="1215.9" cy="739.7" rx="4.4" ry="3.3" transform="rotate(59 1215.9 739.7)" stroke="#a4a4a4"/><ellipse cx="1222.8" cy="738.5" rx="4.0" ry="3.2" transform="rotate(109 1222.8 738.5)" stroke="#808080"/><ellipse cx="1232.2" cy="740.9" rx="3.5" ry="2.6" transform="rotate(87 1232.2 740.9)" stroke="#a4a4a4"/><ellipse cx="1241.6" cy="739.0" rx="4.2" ry="3.4" transform="rotate(50 1241.6 739.0)" stroke="#747474"/><ellipse cx="1248.3" cy="740.1" rx="4.2" ry="3.9" transform="rotate(89 1248.3 740.1)" stroke="#747474"/><ellipse cx="1257.4" cy="738.9" rx="3.4" ry="3.0" transform="rotate(80 1257.4 738.9)" stroke="#8c8c8c"/><ellipse cx="1267.0" cy="739.7" rx="3.8" ry="3.0" transform="rotate(87 1267.0 739.7)" stroke="#a4a4a4"/><ellipse cx="1273.3" cy="739.5" rx="4.6" ry="3.5" transform="rotate(105 1273.3 739.5)" stroke="#808080"/><ellipse cx="1281.4" cy="739.2" rx="4.5" ry="3.5" transform="rotate(80 1281.4 739.2)" stroke="#747474"/><ellipse cx="1290.6" cy="738.6" rx="4.7" ry="4.2" transform="rotate(69 1290.6 738.6)" stroke="#989898"/><ellipse cx="1298.8" cy="738.0" rx="3.8" ry="2.9" transform="rotate(66 1298.8 738.0)" stroke="#a4a4a4"/><ellipse cx="1307.8" cy="740.3" rx="3.9" ry="3.2" transform="rotate(66 1307.8 740.3)" stroke="#989898"/><ellipse cx="1317.0" cy="740.3" rx="4.2" ry="3.5" transform="rotate(107 1317.0 740.3)" stroke="#989898"/><ellipse cx="1323.7" cy="740.3" rx="3.6" ry="3.4" transform="rotate(63 1323.7 740.3)" stroke="#747474"/><ellipse cx="1331.9" cy="739.9" rx="4.2" ry="3.3" transform="rotate(84 1331.9 739.9)" stroke="#808080"/><ellipse cx="1343.4" cy="740.8" rx="4.0" ry="3.4" transform="rotate(105 1343.4 740.8)" stroke="#8c8c8c"/><ellipse cx="1351.4" cy="740.3" rx="4.4" ry="4.0" transform="rotate(76 1351.4 740.3)" stroke="#a4a4a4"/><ellipse cx="1360.5" cy="740.3" rx="4.1" ry="3.3" transform="rotate(123 1360.5 740.3)" stroke="#747474"/><ellipse cx="1369.0" cy="738.5" rx="4.4" ry="3.9" transform="rotate(56 1369.0 738.5)" stroke="#808080"/><ellipse cx="1376.5" cy="738.5" rx="4.3" ry="3.6" transform="rotate(89 1376.5 738.5)" stroke="#8c8c8c"/><ellipse cx="1384.9" cy="739.3" rx="3.9" ry="3.4" transform="rotate(122 1384.9 739.3)" stroke="#808080"/><ellipse cx="1393.9" cy="738.7" rx="4.0" ry="3.0" transform="rotate(53 1393.9 738.7)" stroke="#8c8c8c"/><ellipse cx="1402.5" cy="740.2" rx="3.9" ry="3.2" transform="rotate(57 1402.5 740.2)" stroke="#808080"/><ellipse cx="1409.3" cy="739.8" rx="4.3" ry="3.6" transform="rotate(71 1409.3 739.8)" stroke="#8c8c8c"/><ellipse cx="1418.3" cy="738.7" rx="3.7" ry="3.0" transform="rotate(90 1418.3 738.7)" stroke="#a4a4a4"/><ellipse cx="1157.2" cy="746.2" rx="4.4" ry="4.0" transform="rotate(98 1157.2 746.2)" stroke="#808080"/><ellipse cx="1165.7" cy="746.7" rx="3.7" ry="3.2" transform="rotate(79 1165.7 746.7)" stroke="#808080"/><ellipse cx="1174.1" cy="747.4" rx="4.6" ry="3.9" transform="rotate(69 1174.1 747.4)" stroke="#747474"/><ellipse cx="1180.2" cy="747.8" rx="3.9" ry="3.4" transform="rotate(77 1180.2 747.8)" stroke="#989898"/><ellipse cx="1187.9" cy="745.9" rx="4.4" ry="3.3" transform="rotate(62 1187.9 745.9)" stroke="#808080"/><ellipse cx="1198.3" cy="745.3" rx="3.5" ry="2.6" transform="rotate(79 1198.3 745.3)" stroke="#8c8c8c"/><ellipse cx="1205.7" cy="745.5" rx="4.1" ry="3.2" transform="rotate(103 1205.7 745.5)" stroke="#808080"/><ellipse cx="1214.7" cy="746.4" rx="4.7" ry="3.5" transform="rotate(91 1214.7 746.4)" stroke="#8c8c8c"/><ellipse cx="1220.8" cy="746.4" rx="4.8" ry="3.8" transform="rotate(55 1220.8 746.4)" stroke="#808080"/><ellipse cx="1228.4" cy="746.9" rx="3.7" ry="2.9" transform="rotate(54 1228.4 746.9)" stroke="#747474"/><ellipse cx="1237.8" cy="747.9" rx="4.7" ry="3.5" transform="rotate(105 1237.8 747.9)" stroke="#747474"/><ellipse cx="1245.3" cy="747.7" rx="4.7" ry="3.7" transform="rotate(54 1245.3 747.7)" stroke="#808080"/><ellipse cx="1256.3" cy="747.2" rx="4.4" ry="3.5" transform="rotate(105 1256.3 747.2)" stroke="#808080"/><ellipse cx="1263.9" cy="745.5" rx="4.7" ry="4.0" transform="rotate(84 1263.9 745.5)" stroke="#8c8c8c"/><ellipse cx="1272.7" cy="746.9" rx="4.2" ry="3.2" transform="rotate(129 1272.7 746.9)" stroke="#8c8c8c"/><ellipse cx="1282.3" cy="748.0" rx="4.9" ry="3.7" transform="rotate(62 1282.3 748.0)" stroke="#747474"/><ellipse cx="1290.4" cy="747.2" rx="3.8" ry="3.5" transform="rotate(80 1290.4 747.2)" stroke="#747474"/><ellipse cx="1297.1" cy="748.2" rx="3.9" ry="3.1" transform="rotate(109 1297.1 748.2)" stroke="#8c8c8c"/><ellipse cx="1305.5" cy="747.2" rx="4.6" ry="3.7" transform="rotate(55 1305.5 747.2)" stroke="#989898"/><ellipse cx="1313.6" cy="747.3" rx="4.6" ry="3.7" transform="rotate(106 1313.6 747.3)" stroke="#747474"/><ellipse cx="1320.6" cy="746.3" rx="4.9" ry="4.5" transform="rotate(64 1320.6 746.3)" stroke="#989898"/><ellipse cx="1330.3" cy="746.0" rx="4.9" ry="3.5" transform="rotate(81 1330.3 746.0)" stroke="#8c8c8c"/><ellipse cx="1340.4" cy="746.8" rx="4.3" ry="3.8" transform="rotate(68 1340.4 746.8)" stroke="#747474"/><ellipse cx="1345.1" cy="746.2" rx="4.0" ry="3.6" transform="rotate(55 1345.1 746.2)" stroke="#8c8c8c"/><ellipse cx="1356.3" cy="747.0" rx="4.8" ry="3.5" transform="rotate(63 1356.3 747.0)" stroke="#a4a4a4"/><ellipse cx="1362.9" cy="746.0" rx="3.6" ry="3.2" transform="rotate(95 1362.9 746.0)" stroke="#8c8c8c"/><ellipse cx="1371.9" cy="747.1" rx="3.8" ry="3.0" transform="rotate(69 1371.9 747.1)" stroke="#a4a4a4"/><ellipse cx="1379.4" cy="747.3" rx="3.9" ry="3.4" transform="rotate(70 1379.4 747.3)" stroke="#989898"/><ellipse cx="1388.5" cy="746.1" rx="4.5" ry="4.1" transform="rotate(80 1388.5 746.1)" stroke="#989898"/><ellipse cx="1398.1" cy="746.2" rx="3.5" ry="2.5" transform="rotate(93 1398.1 746.2)" stroke="#a4a4a4"/><ellipse cx="1405.7" cy="745.5" rx="4.9" ry="3.6" transform="rotate(106 1405.7 745.5)" stroke="#989898"/><ellipse cx="1412.9" cy="746.1" rx="4.2" ry="3.2" transform="rotate(104 1412.9 746.1)" stroke="#989898"/><ellipse cx="1161.1" cy="753.3" rx="3.9" ry="3.4" transform="rotate(64 1161.1 753.3)" stroke="#747474"/><ellipse cx="1170.3" cy="754.0" rx="3.6" ry="3.0" transform="rotate(72 1170.3 754.0)" stroke="#808080"/><ellipse cx="1175.6" cy="754.1" rx="4.9" ry="4.0" transform="rotate(70 1175.6 754.1)" stroke="#808080"/><ellipse cx="1186.2" cy="753.0" rx="4.7" ry="4.2" transform="rotate(97 1186.2 753.0)" stroke="#a4a4a4"/><ellipse cx="1194.7" cy="755.6" rx="4.1" ry="3.0" transform="rotate(87 1194.7 755.6)" stroke="#8c8c8c"/><ellipse cx="1204.3" cy="754.3" rx="4.0" ry="3.7" transform="rotate(98 1204.3 754.3)" stroke="#747474"/><ellipse cx="1210.9" cy="752.8" rx="3.8" ry="3.0" transform="rotate(124 1210.9 752.8)" stroke="#808080"/><ellipse cx="1218.1" cy="753.8" rx="3.6" ry="2.8" transform="rotate(129 1218.1 753.8)" stroke="#989898"/><ellipse cx="1228.2" cy="753.1" rx="4.4" ry="3.5" transform="rotate(77 1228.2 753.1)" stroke="#8c8c8c"/><ellipse cx="1235.6" cy="754.3" rx="3.7" ry="3.3" transform="rotate(60 1235.6 754.3)" stroke="#808080"/><ellipse cx="1243.2" cy="755.6" rx="3.9" ry="3.2" transform="rotate(71 1243.2 755.6)" stroke="#747474"/><ellipse cx="1253.8" cy="755.4" rx="3.8" ry="3.5" transform="rotate(54 1253.8 755.4)" stroke="#808080"/><ellipse cx="1262.0" cy="755.5" rx="3.6" ry="3.3" transform="rotate(60 1262.0 755.5)" stroke="#747474"/><ellipse cx="1268.8" cy="754.1" rx="4.2" ry="3.6" transform="rotate(61 1268.8 754.1)" stroke="#747474"/><ellipse cx="1278.2" cy="755.4" rx="3.7" ry="3.2" transform="rotate(80 1278.2 755.4)" stroke="#808080"/><ellipse cx="1286.1" cy="753.0" rx="3.5" ry="2.7" transform="rotate(101 1286.1 753.0)" stroke="#989898"/><ellipse cx="1294.8" cy="753.1" rx="4.8" ry="3.6" transform="rotate(103 1294.8 753.1)" stroke="#808080"/><ellipse cx="1301.5" cy="753.2" rx="4.4" ry="3.6" transform="rotate(57 1301.5 753.2)" stroke="#747474"/><ellipse cx="1309.4" cy="753.8" rx="4.6" ry="3.7" transform="rotate(94 1309.4 753.8)" stroke="#808080"/><ellipse cx="1316.6" cy="755.3" rx="3.5" ry="2.6" transform="rotate(65 1316.6 755.3)" stroke="#a4a4a4"/><ellipse cx="1326.4" cy="755.7" rx="4.8" ry="3.6" transform="rotate(78 1326.4 755.7)" stroke="#808080"/><ellipse cx="1334.8" cy="753.9" rx="3.6" ry="3.2" transform="rotate(99 1334.8 753.9)" stroke="#a4a4a4"/><ellipse cx="1343.2" cy="755.3" rx="4.9" ry="4.1" transform="rotate(121 1343.2 755.3)" stroke="#747474"/><ellipse cx="1350.9" cy="755.0" rx="5.0" ry="3.6" transform="rotate(79 1350.9 755.0)" stroke="#989898"/><ellipse cx="1359.4" cy="755.7" rx="4.9" ry="3.9" transform="rotate(104 1359.4 755.7)" stroke="#8c8c8c"/><ellipse cx="1368.2" cy="753.6" rx="4.4" ry="3.6" transform="rotate(121 1368.2 753.6)" stroke="#a4a4a4"/><ellipse cx="1377.9" cy="752.8" rx="4.9" ry="4.4" transform="rotate(52 1377.9 752.8)" stroke="#747474"/><ellipse cx="1386.7" cy="753.0" rx="3.5" ry="2.9" transform="rotate(82 1386.7 753.0)" stroke="#808080"/><ellipse cx="1394.9" cy="754.1" rx="4.6" ry="3.7" transform="rotate(51 1394.9 754.1)" stroke="#989898"/><ellipse cx="1401.5" cy="753.6" rx="4.0" ry="3.4" transform="rotate(112 1401.5 753.6)" stroke="#747474"/><ellipse cx="1157.4" cy="761.5" rx="4.5" ry="3.5" transform="rotate(94 1157.4 761.5)" stroke="#747474"/><ellipse cx="1167.6" cy="763.4" rx="3.8" ry="3.5" transform="rotate(89 1167.6 763.4)" stroke="#747474"/><ellipse cx="1176.8" cy="760.6" rx="3.8" ry="3.1" transform="rotate(116 1176.8 760.6)" stroke="#808080"/><ellipse cx="1184.3" cy="762.9" rx="4.1" ry="3.5" transform="rotate(103 1184.3 762.9)" stroke="#8c8c8c"/><ellipse cx="1193.0" cy="761.9" rx="4.0" ry="3.6" transform="rotate(74 1193.0 761.9)" stroke="#808080"/><ellipse cx="1200.9" cy="761.2" rx="4.7" ry="4.0" transform="rotate(55 1200.9 761.2)" stroke="#a4a4a4"/><ellipse cx="1212.3" cy="761.0" rx="4.9" ry="3.6" transform="rotate(130 1212.3 761.0)" stroke="#8c8c8c"/><ellipse cx="1218.4" cy="763.1" rx="4.4" ry="3.7" transform="rotate(92 1218.4 763.1)" stroke="#989898"/><ellipse cx="1225.9" cy="763.2" rx="4.8" ry="3.7" transform="rotate(78 1225.9 763.2)" stroke="#a4a4a4"/><ellipse cx="1235.0" cy="762.5" rx="3.7" ry="2.8" transform="rotate(76 1235.0 762.5)" stroke="#989898"/><ellipse cx="1241.8" cy="762.6" rx="3.5" ry="3.2" transform="rotate(72 1241.8 762.6)" stroke="#747474"/><ellipse cx="1249.1" cy="760.7" rx="4.5" ry="4.1" transform="rotate(97 1249.1 760.7)" stroke="#8c8c8c"/><ellipse cx="1258.6" cy="760.4" rx="4.8" ry="4.3" transform="rotate(90 1258.6 760.4)" stroke="#989898"/><ellipse cx="1266.7" cy="760.5" rx="5.0" ry="4.2" transform="rotate(107 1266.7 760.5)" stroke="#747474"/><ellipse cx="1274.1" cy="761.4" rx="4.1" ry="3.0" transform="rotate(75 1274.1 761.4)" stroke="#8c8c8c"/><ellipse cx="1284.1" cy="761.1" rx="4.0" ry="3.0" transform="rotate(101 1284.1 761.1)" stroke="#989898"/><ellipse cx="1291.8" cy="762.7" rx="4.6" ry="4.1" transform="rotate(82 1291.8 762.7)" stroke="#808080"/><ellipse cx="1300.4" cy="761.0" rx="3.5" ry="3.0" transform="rotate(80 1300.4 761.0)" stroke="#808080"/><ellipse cx="1307.2" cy="762.3" rx="4.9" ry="3.8" transform="rotate(69 1307.2 762.3)" stroke="#747474"/><ellipse cx="1315.5" cy="761.5" rx="3.5" ry="2.5" transform="rotate(76 1315.5 761.5)" stroke="#989898"/><ellipse cx="1323.2" cy="760.8" rx="4.5" ry="4.1" transform="rotate(110 1323.2 760.8)" stroke="#808080"/><ellipse cx="1333.5" cy="762.5" rx="3.9" ry="3.2" transform="rotate(129 1333.5 762.5)" stroke="#989898"/><ellipse cx="1343.4" cy="763.3" rx="4.0" ry="3.4" transform="rotate(67 1343.4 763.3)" stroke="#747474"/><ellipse cx="1349.4" cy="760.9" rx="4.9" ry="3.7" transform="rotate(102 1349.4 760.9)" stroke="#a4a4a4"/><ellipse cx="1359.0" cy="762.1" rx="4.3" ry="3.6" transform="rotate(74 1359.0 762.1)" stroke="#808080"/><ellipse cx="1368.8" cy="762.4" rx="4.1" ry="3.1" transform="rotate(103 1368.8 762.4)" stroke="#808080"/><ellipse cx="1376.5" cy="761.6" rx="4.0" ry="3.4" transform="rotate(70 1376.5 761.6)" stroke="#747474"/><ellipse cx="1384.6" cy="762.2" rx="3.9" ry="2.9" transform="rotate(99 1384.6 762.2)" stroke="#8c8c8c"/><ellipse cx="1393.4" cy="761.3" rx="4.3" ry="3.2" transform="rotate(90 1393.4 761.3)" stroke="#8c8c8c"/><ellipse cx="1162.5" cy="770.5" rx="3.6" ry="2.7" transform="rotate(89 1162.5 770.5)" stroke="#747474"/><ellipse cx="1170.6" cy="768.1" rx="3.8" ry="2.9" transform="rotate(104 1170.6 768.1)" stroke="#989898"/><ellipse cx="1178.1" cy="769.6" rx="4.6" ry="3.7" transform="rotate(79 1178.1 769.6)" stroke="#747474"/><ellipse cx="1186.1" cy="769.0" rx="4.3" ry="3.3" transform="rotate(125 1186.1 769.0)" stroke="#8c8c8c"/><ellipse cx="1192.0" cy="769.8" rx="3.5" ry="2.8" transform="rotate(123 1192.0 769.8)" stroke="#8c8c8c"/><ellipse cx="1199.6" cy="769.1" rx="4.8" ry="4.1" transform="rotate(90 1199.6 769.1)" stroke="#8c8c8c"/><ellipse cx="1210.1" cy="769.7" rx="4.2" ry="3.6" transform="rotate(77 1210.1 769.7)" stroke="#a4a4a4"/><ellipse cx="1218.0" cy="768.8" rx="4.7" ry="3.5" transform="rotate(56 1218.0 768.8)" stroke="#a4a4a4"/><ellipse cx="1224.3" cy="768.3" rx="5.0" ry="3.8" transform="rotate(128 1224.3 768.3)" stroke="#a4a4a4"/><ellipse cx="1233.1" cy="767.9" rx="4.7" ry="3.4" transform="rotate(115 1233.1 767.9)" stroke="#8c8c8c"/><ellipse cx="1241.2" cy="768.7" rx="3.9" ry="3.1" transform="rotate(103 1241.2 768.7)" stroke="#8c8c8c"/><ellipse cx="1249.7" cy="769.4" rx="3.8" ry="2.9" transform="rotate(57 1249.7 769.4)" stroke="#808080"/><ellipse cx="1258.1" cy="769.9" rx="4.0" ry="3.3" transform="rotate(56 1258.1 769.9)" stroke="#808080"/><ellipse cx="1268.6" cy="769.0" rx="4.8" ry="3.6" transform="rotate(72 1268.6 769.0)" stroke="#747474"/><ellipse cx="1276.2" cy="768.9" rx="3.9" ry="3.1" transform="rotate(117 1276.2 768.9)" stroke="#808080"/><ellipse cx="1285.3" cy="768.4" rx="4.1" ry="3.7" transform="rotate(87 1285.3 768.4)" stroke="#8c8c8c"/><ellipse cx="1293.7" cy="768.8" rx="4.2" ry="3.5" transform="rotate(78 1293.7 768.8)" stroke="#989898"/><ellipse cx="1304.1" cy="767.9" rx="4.6" ry="4.0" transform="rotate(123 1304.1 767.9)" stroke="#747474"/><ellipse cx="1311.3" cy="768.6" rx="4.1" ry="3.2" transform="rotate(59 1311.3 768.6)" stroke="#808080"/><ellipse cx="1319.2" cy="770.0" rx="4.1" ry="3.3" transform="rotate(74 1319.2 770.0)" stroke="#8c8c8c"/><ellipse cx="1328.8" cy="769.2" rx="3.6" ry="2.9" transform="rotate(81 1328.8 769.2)" stroke="#989898"/><ellipse cx="1337.5" cy="768.6" rx="3.6" ry="3.2" transform="rotate(63 1337.5 768.6)" stroke="#a4a4a4"/><ellipse cx="1345.9" cy="769.7" rx="3.7" ry="2.9" transform="rotate(85 1345.9 769.7)" stroke="#a4a4a4"/><ellipse cx="1356.4" cy="770.5" rx="3.5" ry="2.8" transform="rotate(60 1356.4 770.5)" stroke="#a4a4a4"/><ellipse cx="1364.3" cy="769.2" rx="4.5" ry="4.0" transform="rotate(106 1364.3 769.2)" stroke="#989898"/><ellipse cx="1372.2" cy="770.2" rx="4.2" ry="3.7" transform="rotate(72 1372.2 770.2)" stroke="#808080"/><ellipse cx="1381.9" cy="770.5" rx="4.5" ry="3.7" transform="rotate(84 1381.9 770.5)" stroke="#8c8c8c"/><ellipse cx="1157.4" cy="777.0" rx="4.3" ry="3.2" transform="rotate(113 1157.4 777.0)" stroke="#a4a4a4"/><ellipse cx="1166.5" cy="776.3" rx="4.6" ry="3.4" transform="rotate(75 1166.5 776.3)" stroke="#808080"/><ellipse cx="1174.7" cy="776.9" rx="3.4" ry="3.1" transform="rotate(53 1174.7 776.9)" stroke="#808080"/><ellipse cx="1182.5" cy="775.2" rx="4.3" ry="3.5" transform="rotate(107 1182.5 775.2)" stroke="#8c8c8c"/><ellipse cx="1191.4" cy="777.4" rx="4.8" ry="4.0" transform="rotate(88 1191.4 777.4)" stroke="#8c8c8c"/><ellipse cx="1201.7" cy="776.4" rx="4.2" ry="3.4" transform="rotate(129 1201.7 776.4)" stroke="#989898"/><ellipse cx="1210.8" cy="775.4" rx="4.3" ry="3.8" transform="rotate(54 1210.8 775.4)" stroke="#808080"/><ellipse cx="1220.1" cy="776.4" rx="4.0" ry="3.5" transform="rotate(63 1220.1 776.4)" stroke="#989898"/><ellipse cx="1227.0" cy="775.6" rx="3.8" ry="3.1" transform="rotate(101 1227.0 775.6)" stroke="#808080"/><ellipse cx="1236.2" cy="777.2" rx="4.4" ry="4.1" transform="rotate(71 1236.2 777.2)" stroke="#989898"/><ellipse cx="1245.5" cy="776.4" rx="4.8" ry="3.7" transform="rotate(71 1245.5 776.4)" stroke="#8c8c8c"/><ellipse cx="1252.0" cy="775.9" rx="4.6" ry="3.9" transform="rotate(81 1252.0 775.9)" stroke="#a4a4a4"/><ellipse cx="1260.9" cy="777.4" rx="4.2" ry="3.6" transform="rotate(119 1260.9 777.4)" stroke="#808080"/><ellipse cx="1269.3" cy="777.2" rx="3.8" ry="3.0" transform="rotate(93 1269.3 777.2)" stroke="#747474"/><ellipse cx="1280.0" cy="775.2" rx="4.6" ry="3.5" transform="rotate(57 1280.0 775.2)" stroke="#989898"/><ellipse cx="1285.7" cy="775.1" rx="3.7" ry="2.8" transform="rotate(71 1285.7 775.1)" stroke="#747474"/><ellipse cx="1293.8" cy="776.7" rx="4.5" ry="3.3" transform="rotate(118 1293.8 776.7)" stroke="#8c8c8c"/><ellipse cx="1302.1" cy="777.1" rx="3.5" ry="3.0" transform="rotate(99 1302.1 777.1)" stroke="#989898"/><ellipse cx="1312.1" cy="777.3" rx="3.5" ry="2.8" transform="rotate(93 1312.1 777.3)" stroke="#989898"/><ellipse cx="1319.3" cy="776.0" rx="3.8" ry="2.8" transform="rotate(74 1319.3 776.0)" stroke="#747474"/><ellipse cx="1329.9" cy="776.9" rx="4.4" ry="4.0" transform="rotate(97 1329.9 776.9)" stroke="#808080"/><ellipse cx="1337.7" cy="777.5" rx="3.4" ry="3.1" transform="rotate(53 1337.7 777.5)" stroke="#989898"/><ellipse cx="1345.0" cy="776.1" rx="3.6" ry="3.2" transform="rotate(70 1345.0 776.1)" stroke="#989898"/><ellipse cx="1353.1" cy="777.3" rx="3.4" ry="2.8" transform="rotate(114 1353.1 777.3)" stroke="#8c8c8c"/><ellipse cx="1360.0" cy="775.6" rx="3.8" ry="3.3" transform="rotate(62 1360.0 775.6)" stroke="#808080"/><ellipse cx="1368.0" cy="775.9" rx="4.4" ry="3.7" transform="rotate(62 1368.0 775.9)" stroke="#808080"/><ellipse cx="1378.3" cy="775.3" rx="3.4" ry="2.5" transform="rotate(87 1378.3 775.3)" stroke="#a4a4a4"/><ellipse cx="1161.7" cy="782.5" rx="4.6" ry="3.8" transform="rotate(91 1161.7 782.5)" stroke="#a4a4a4"/><ellipse cx="1170.8" cy="782.6" rx="4.6" ry="4.1" transform="rotate(74 1170.8 782.6)" stroke="#8c8c8c"/><ellipse cx="1179.1" cy="783.7" rx="4.0" ry="3.1" transform="rotate(125 1179.1 783.7)" stroke="#8c8c8c"/><ellipse cx="1185.7" cy="784.9" rx="4.6" ry="3.8" transform="rotate(99 1185.7 784.9)" stroke="#a4a4a4"/><ellipse cx="1195.2" cy="784.7" rx="4.6" ry="3.4" transform="rotate(129 1195.2 784.7)" stroke="#747474"/><ellipse cx="1201.0" cy="783.3" rx="4.4" ry="3.5" transform="rotate(117 1201.0 783.3)" stroke="#747474"/><ellipse cx="1209.7" cy="783.3" rx="3.6" ry="2.8" transform="rotate(54 1209.7 783.3)" stroke="#a4a4a4"/><ellipse cx="1218.5" cy="783.9" rx="3.5" ry="2.6" transform="rotate(130 1218.5 783.9)" stroke="#8c8c8c"/><ellipse cx="1228.6" cy="784.9" rx="3.8" ry="2.9" transform="rotate(130 1228.6 784.9)" stroke="#8c8c8c"/><ellipse cx="1236.9" cy="782.3" rx="3.8" ry="3.4" transform="rotate(58 1236.9 782.3)" stroke="#808080"/><ellipse cx="1243.2" cy="784.3" rx="3.9" ry="2.9" transform="rotate(112 1243.2 784.3)" stroke="#747474"/><ellipse cx="1251.5" cy="783.6" rx="4.5" ry="3.7" transform="rotate(94 1251.5 783.6)" stroke="#8c8c8c"/><ellipse cx="1259.9" cy="784.4" rx="4.7" ry="3.9" transform="rotate(51 1259.9 784.4)" stroke="#747474"/><ellipse cx="1268.2" cy="784.5" rx="4.9" ry="4.5" transform="rotate(85 1268.2 784.5)" stroke="#808080"/><ellipse cx="1276.3" cy="785.1" rx="4.2" ry="3.4" transform="rotate(118 1276.3 785.1)" stroke="#8c8c8c"/><ellipse cx="1286.2" cy="783.9" rx="4.5" ry="3.6" transform="rotate(108 1286.2 783.9)" stroke="#808080"/><ellipse cx="1295.0" cy="784.4" rx="4.6" ry="4.2" transform="rotate(54 1295.0 784.4)" stroke="#8c8c8c"/><ellipse cx="1302.3" cy="783.3" rx="3.7" ry="3.4" transform="rotate(88 1302.3 783.3)" stroke="#8c8c8c"/><ellipse cx="1310.3" cy="782.8" rx="5.0" ry="4.2" transform="rotate(96 1310.3 782.8)" stroke="#a4a4a4"/><ellipse cx="1318.0" cy="783.0" rx="3.9" ry="2.9" transform="rotate(97 1318.0 783.0)" stroke="#808080"/><ellipse cx="1327.8" cy="782.8" rx="4.7" ry="4.0" transform="rotate(82 1327.8 782.8)" stroke="#8c8c8c"/><ellipse cx="1336.0" cy="784.0" rx="4.3" ry="3.9" transform="rotate(104 1336.0 784.0)" stroke="#747474"/><ellipse cx="1344.5" cy="782.4" rx="3.4" ry="3.0" transform="rotate(88 1344.5 782.4)" stroke="#747474"/><ellipse cx="1353.5" cy="782.7" rx="4.3" ry="3.1" transform="rotate(58 1353.5 782.7)" stroke="#747474"/><ellipse cx="1363.8" cy="784.7" rx="3.9" ry="3.2" transform="rotate(127 1363.8 784.7)" stroke="#8c8c8c"/><ellipse cx="1372.2" cy="784.5" rx="4.6" ry="3.6" transform="rotate(96 1372.2 784.5)" stroke="#808080"/><ellipse cx="1157.3" cy="789.7" rx="4.1" ry="3.1" transform="rotate(59 1157.3 789.7)" stroke="#989898"/><ellipse cx="1166.3" cy="791.6" rx="4.3" ry="3.5" transform="rotate(102 1166.3 791.6)" stroke="#747474"/><ellipse cx="1172.8" cy="790.2" rx="3.7" ry="2.8" transform="rotate(113 1172.8 790.2)" stroke="#747474"/><ellipse cx="1180.0" cy="789.9" rx="3.9" ry="3.1" transform="rotate(121 1180.0 789.9)" stroke="#a4a4a4"/><ellipse cx="1188.4" cy="791.5" rx="4.5" ry="3.4" transform="rotate(101 1188.4 791.5)" stroke="#747474"/><ellipse cx="1196.8" cy="791.2" rx="3.8" ry="2.8" transform="rotate(96 1196.8 791.2)" stroke="#808080"/><ellipse cx="1204.4" cy="790.5" rx="5.0" ry="3.7" transform="rotate(59 1204.4 790.5)" stroke="#747474"/><ellipse cx="1212.3" cy="790.2" rx="4.0" ry="3.2" transform="rotate(96 1212.3 790.2)" stroke="#808080"/><ellipse cx="1223.1" cy="791.4" rx="4.7" ry="3.8" transform="rotate(62 1223.1 791.4)" stroke="#808080"/><ellipse cx="1230.6" cy="789.6" rx="3.6" ry="3.1" transform="rotate(108 1230.6 789.6)" stroke="#808080"/><ellipse cx="1240.7" cy="791.1" rx="4.0" ry="3.3" transform="rotate(103 1240.7 791.1)" stroke="#989898"/><ellipse cx="1248.0" cy="790.7" rx="5.0" ry="3.8" transform="rotate(89 1248.0 790.7)" stroke="#8c8c8c"/><ellipse cx="1257.3" cy="791.6" rx="3.8" ry="3.5" transform="rotate(117 1257.3 791.6)" stroke="#989898"/><ellipse cx="1263.1" cy="791.6" rx="4.7" ry="3.8" transform="rotate(125 1263.1 791.6)" stroke="#a4a4a4"/><ellipse cx="1271.6" cy="790.0" rx="4.5" ry="3.3" transform="rotate(102 1271.6 790.0)" stroke="#808080"/><ellipse cx="1279.0" cy="790.1" rx="4.5" ry="3.6" transform="rotate(127 1279.0 790.1)" stroke="#747474"/><ellipse cx="1289.2" cy="791.2" rx="3.4" ry="2.7" transform="rotate(98 1289.2 791.2)" stroke="#808080"/><ellipse cx="1298.0" cy="790.9" rx="3.6" ry="2.7" transform="rotate(68 1298.0 790.9)" stroke="#989898"/><ellipse cx="1303.8" cy="791.3" rx="4.5" ry="4.0" transform="rotate(59 1303.8 791.3)" stroke="#808080"/><ellipse cx="1313.2" cy="790.0" rx="4.6" ry="4.2" transform="rotate(53 1313.2 790.0)" stroke="#808080"/><ellipse cx="1321.8" cy="792.1" rx="4.9" ry="3.7" transform="rotate(91 1321.8 792.1)" stroke="#747474"/><ellipse cx="1329.7" cy="791.9" rx="4.4" ry="3.8" transform="rotate(80 1329.7 791.9)" stroke="#989898"/><ellipse cx="1339.2" cy="791.8" rx="4.3" ry="3.5" transform="rotate(95 1339.2 791.8)" stroke="#a4a4a4"/><ellipse cx="1345.5" cy="792.3" rx="3.9" ry="2.9" transform="rotate(71 1345.5 792.3)" stroke="#989898"/><ellipse cx="1354.0" cy="791.0" rx="4.5" ry="3.4" transform="rotate(121 1354.0 791.0)" stroke="#989898"/><ellipse cx="1362.3" cy="790.8" rx="3.6" ry="2.7" transform="rotate(117 1362.3 790.8)" stroke="#808080"/><ellipse cx="1160.6" cy="797.8" rx="4.8" ry="4.1" transform="rotate(72 1160.6 797.8)" stroke="#a4a4a4"/><ellipse cx="1168.9" cy="797.7" rx="3.9" ry="3.0" transform="rotate(51 1168.9 797.7)" stroke="#a4a4a4"/><ellipse cx="1177.4" cy="798.1" rx="4.7" ry="3.8" transform="rotate(93 1177.4 798.1)" stroke="#808080"/><ellipse cx="1187.2" cy="798.3" rx="3.6" ry="2.8" transform="rotate(65 1187.2 798.3)" stroke="#747474"/><ellipse cx="1194.8" cy="798.5" rx="4.8" ry="4.3" transform="rotate(80 1194.8 798.5)" stroke="#8c8c8c"/><ellipse cx="1203.6" cy="799.2" rx="4.6" ry="3.3" transform="rotate(66 1203.6 799.2)" stroke="#747474"/><ellipse cx="1213.7" cy="797.8" rx="3.8" ry="3.2" transform="rotate(82 1213.7 797.8)" stroke="#808080"/><ellipse cx="1221.4" cy="798.8" rx="3.6" ry="2.7" transform="rotate(130 1221.4 798.8)" stroke="#989898"/><ellipse cx="1229.8" cy="797.6" rx="4.9" ry="3.6" transform="rotate(108 1229.8 797.6)" stroke="#747474"/><ellipse cx="1237.5" cy="797.4" rx="4.6" ry="3.9" transform="rotate(82 1237.5 797.4)" stroke="#747474"/><ellipse cx="1247.8" cy="799.5" rx="3.7" ry="3.1" transform="rotate(63 1247.8 799.5)" stroke="#808080"/><ellipse cx="1257.6" cy="799.1" rx="4.5" ry="3.3" transform="rotate(62 1257.6 799.1)" stroke="#989898"/><ellipse cx="1265.6" cy="799.7" rx="4.2" ry="3.9" transform="rotate(124 1265.6 799.7)" stroke="#808080"/><ellipse cx="1272.4" cy="797.3" rx="4.0" ry="3.1" transform="rotate(75 1272.4 797.3)" stroke="#808080"/><ellipse cx="1281.9" cy="799.2" rx="4.3" ry="3.8" transform="rotate(125 1281.9 799.2)" stroke="#8c8c8c"/><ellipse cx="1291.6" cy="799.5" rx="4.8" ry="3.8" transform="rotate(124 1291.6 799.5)" stroke="#747474"/><ellipse cx="1298.4" cy="798.6" rx="4.3" ry="3.5" transform="rotate(97 1298.4 798.6)" stroke="#808080"/><ellipse cx="1308.1" cy="799.7" rx="3.9" ry="3.5" transform="rotate(68 1308.1 799.7)" stroke="#8c8c8c"/><ellipse cx="1314.6" cy="798.2" rx="4.2" ry="3.4" transform="rotate(107 1314.6 798.2)" stroke="#808080"/><ellipse cx="1322.0" cy="796.9" rx="4.8" ry="3.8" transform="rotate(79 1322.0 796.9)" stroke="#8c8c8c"/><ellipse cx="1331.9" cy="797.8" rx="4.2" ry="3.8" transform="rotate(64 1331.9 797.8)" stroke="#808080"/><ellipse cx="1341.7" cy="798.9" rx="4.9" ry="3.9" transform="rotate(87 1341.7 798.9)" stroke="#808080"/><ellipse cx="1349.6" cy="798.3" rx="4.5" ry="3.5" transform="rotate(118 1349.6 798.3)" stroke="#747474"/><ellipse cx="1158.4" cy="806.0" rx="4.2" ry="3.3" transform="rotate(75 1158.4 806.0)" stroke="#8c8c8c"/><ellipse cx="1168.5" cy="806.6" rx="4.2" ry="3.6" transform="rotate(115 1168.5 806.6)" stroke="#a4a4a4"/><ellipse cx="1176.7" cy="806.3" rx="4.3" ry="3.5" transform="rotate(87 1176.7 806.3)" stroke="#808080"/><ellipse cx="1185.7" cy="807.0" rx="4.8" ry="3.9" transform="rotate(81 1185.7 807.0)" stroke="#747474"/><ellipse cx="1194.7" cy="806.2" rx="4.1" ry="3.5" transform="rotate(95 1194.7 806.2)" stroke="#a4a4a4"/><ellipse cx="1203.8" cy="807.4" rx="4.7" ry="3.5" transform="rotate(99 1203.8 807.4)" stroke="#808080"/><ellipse cx="1211.5" cy="804.6" rx="3.7" ry="2.9" transform="rotate(102 1211.5 804.6)" stroke="#989898"/><ellipse cx="1221.6" cy="804.6" rx="4.5" ry="3.5" transform="rotate(98 1221.6 804.6)" stroke="#808080"/><ellipse cx="1229.4" cy="805.7" rx="3.6" ry="3.3" transform="rotate(62 1229.4 805.7)" stroke="#8c8c8c"/><ellipse cx="1239.5" cy="805.5" rx="3.8" ry="3.3" transform="rotate(75 1239.5 805.5)" stroke="#989898"/><ellipse cx="1249.3" cy="806.0" rx="3.9" ry="3.5" transform="rotate(101 1249.3 806.0)" stroke="#8c8c8c"/><ellipse cx="1258.3" cy="804.6" rx="3.7" ry="2.8" transform="rotate(112 1258.3 804.6)" stroke="#808080"/><ellipse cx="1265.7" cy="807.0" rx="4.7" ry="3.7" transform="rotate(116 1265.7 807.0)" stroke="#8c8c8c"/><ellipse cx="1274.1" cy="807.0" rx="4.1" ry="3.5" transform="rotate(85 1274.1 807.0)" stroke="#a4a4a4"/><ellipse cx="1281.5" cy="805.2" rx="4.1" ry="3.2" transform="rotate(114 1281.5 805.2)" stroke="#808080"/><ellipse cx="1290.4" cy="806.2" rx="4.0" ry="3.6" transform="rotate(67 1290.4 806.2)" stroke="#989898"/><ellipse cx="1298.8" cy="806.5" rx="4.4" ry="3.4" transform="rotate(99 1298.8 806.5)" stroke="#747474"/><ellipse cx="1307.7" cy="807.1" rx="4.7" ry="3.9" transform="rotate(121 1307.7 807.1)" stroke="#989898"/><ellipse cx="1317.2" cy="804.7" rx="3.6" ry="2.7" transform="rotate(104 1317.2 804.7)" stroke="#989898"/><ellipse cx="1325.6" cy="806.5" rx="3.5" ry="2.8" transform="rotate(99 1325.6 806.5)" stroke="#8c8c8c"/><ellipse cx="1335.0" cy="805.1" rx="4.3" ry="3.7" transform="rotate(108 1335.0 805.1)" stroke="#808080"/><ellipse cx="1342.8" cy="804.6" rx="4.7" ry="3.9" transform="rotate(100 1342.8 804.6)" stroke="#808080"/><ellipse cx="1162.6" cy="813.2" rx="4.5" ry="3.5" transform="rotate(71 1162.6 813.2)" stroke="#989898"/><ellipse cx="1167.7" cy="812.4" rx="3.6" ry="3.0" transform="rotate(89 1167.7 812.4)" stroke="#747474"/><ellipse cx="1178.0" cy="814.6" rx="4.8" ry="4.3" transform="rotate(98 1178.0 814.6)" stroke="#8c8c8c"/><ellipse cx="1184.9" cy="814.7" rx="4.0" ry="3.6" transform="rotate(55 1184.9 814.7)" stroke="#747474"/><ellipse cx="1191.7" cy="812.2" rx="4.8" ry="4.3" transform="rotate(113 1191.7 812.2)" stroke="#989898"/><ellipse cx="1200.6" cy="814.7" rx="3.8" ry="3.3" transform="rotate(54 1200.6 814.7)" stroke="#a4a4a4"/><ellipse cx="1210.6" cy="814.0" rx="4.2" ry="3.5" transform="rotate(126 1210.6 814.0)" stroke="#8c8c8c"/><ellipse cx="1217.7" cy="814.2" rx="3.9" ry="2.9" transform="rotate(72 1217.7 814.2)" stroke="#808080"/><ellipse cx="1225.9" cy="814.1" rx="3.9" ry="3.2" transform="rotate(94 1225.9 814.1)" stroke="#808080"/><ellipse cx="1233.4" cy="813.1" rx="3.8" ry="3.4" transform="rotate(69 1233.4 813.1)" stroke="#989898"/><ellipse cx="1243.1" cy="812.1" rx="4.3" ry="3.2" transform="rotate(69 1243.1 812.1)" stroke="#989898"/><ellipse cx="1252.2" cy="812.4" rx="3.5" ry="2.5" transform="rotate(117 1252.2 812.4)" stroke="#808080"/><ellipse cx="1258.4" cy="812.9" rx="4.4" ry="3.4" transform="rotate(87 1258.4 812.9)" stroke="#a4a4a4"/><ellipse cx="1265.7" cy="813.9" rx="4.4" ry="3.2" transform="rotate(85 1265.7 813.9)" stroke="#a4a4a4"/><ellipse cx="1275.8" cy="814.9" rx="3.7" ry="3.0" transform="rotate(62 1275.8 814.9)" stroke="#a4a4a4"/><ellipse cx="1282.7" cy="814.4" rx="4.4" ry="3.7" transform="rotate(60 1282.7 814.4)" stroke="#747474"/><ellipse cx="1293.2" cy="812.7" rx="4.6" ry="3.8" transform="rotate(100 1293.2 812.7)" stroke="#747474"/><ellipse cx="1299.6" cy="814.7" rx="3.8" ry="3.3" transform="rotate(89 1299.6 814.7)" stroke="#808080"/><ellipse cx="1309.8" cy="814.9" rx="4.7" ry="4.1" transform="rotate(78 1309.8 814.9)" stroke="#747474"/><ellipse cx="1317.2" cy="813.7" rx="3.9" ry="3.0" transform="rotate(60 1317.2 813.7)" stroke="#989898"/><ellipse cx="1326.5" cy="812.5" rx="3.7" ry="3.4" transform="rotate(57 1326.5 812.5)" stroke="#747474"/><ellipse cx="1335.3" cy="812.6" rx="4.5" ry="3.5" transform="rotate(64 1335.3 812.6)" stroke="#808080"/><ellipse cx="1159.0" cy="819.7" rx="4.6" ry="4.1" transform="rotate(85 1159.0 819.7)" stroke="#8c8c8c"/><ellipse cx="1165.5" cy="822.0" rx="3.8" ry="2.8" transform="rotate(103 1165.5 822.0)" stroke="#989898"/><ellipse cx="1174.1" cy="819.9" rx="4.6" ry="4.1" transform="rotate(53 1174.1 819.9)" stroke="#747474"/><ellipse cx="1181.4" cy="821.6" rx="3.9" ry="3.1" transform="rotate(67 1181.4 821.6)" stroke="#8c8c8c"/><ellipse cx="1191.3" cy="822.0" rx="4.0" ry="3.2" transform="rotate(117 1191.3 822.0)" stroke="#989898"/><ellipse cx="1199.3" cy="821.7" rx="3.4" ry="3.1" transform="rotate(109 1199.3 821.7)" stroke="#808080"/><ellipse cx="1208.9" cy="820.1" rx="4.0" ry="3.3" transform="rotate(65 1208.9 820.1)" stroke="#808080"/><ellipse cx="1217.0" cy="819.8" rx="4.2" ry="3.8" transform="rotate(76 1217.0 819.8)" stroke="#747474"/><ellipse cx="1225.8" cy="821.1" rx="4.3" ry="3.5" transform="rotate(69 1225.8 821.1)" stroke="#808080"/><ellipse cx="1234.8" cy="820.5" rx="3.6" ry="3.2" transform="rotate(109 1234.8 820.5)" stroke="#808080"/><ellipse cx="1245.1" cy="821.1" rx="3.8" ry="3.1" transform="rotate(93 1245.1 821.1)" stroke="#8c8c8c"/><ellipse cx="1253.3" cy="822.2" rx="4.5" ry="3.8" transform="rotate(100 1253.3 822.2)" stroke="#989898"/><ellipse cx="1260.8" cy="819.8" rx="3.5" ry="3.0" transform="rotate(61 1260.8 819.8)" stroke="#8c8c8c"/><ellipse cx="1267.9" cy="820.8" rx="3.6" ry="3.1" transform="rotate(124 1267.9 820.8)" stroke="#a4a4a4"/><ellipse cx="1279.0" cy="820.6" rx="4.6" ry="3.9" transform="rotate(96 1279.0 820.6)" stroke="#747474"/><ellipse cx="1285.1" cy="822.4" rx="4.0" ry="3.4" transform="rotate(85 1285.1 822.4)" stroke="#a4a4a4"/><ellipse cx="1294.8" cy="820.5" rx="4.2" ry="3.6" transform="rotate(78 1294.8 820.5)" stroke="#989898"/><ellipse cx="1301.1" cy="821.8" rx="3.7" ry="3.2" transform="rotate(112 1301.1 821.8)" stroke="#a4a4a4"/><ellipse cx="1310.7" cy="820.8" rx="4.2" ry="3.6" transform="rotate(109 1310.7 820.8)" stroke="#989898"/><ellipse cx="1318.1" cy="819.7" rx="3.7" ry="3.3" transform="rotate(54 1318.1 819.7)" stroke="#747474"/><ellipse cx="1161.2" cy="829.0" rx="4.1" ry="3.2" transform="rotate(62 1161.2 829.0)" stroke="#989898"/><ellipse cx="1168.5" cy="828.5" rx="3.5" ry="2.8" transform="rotate(66 1168.5 828.5)" stroke="#8c8c8c"/><ellipse cx="1177.9" cy="828.3" rx="3.4" ry="3.0" transform="rotate(126 1177.9 828.3)" stroke="#747474"/><ellipse cx="1186.3" cy="829.4" rx="4.3" ry="3.7" transform="rotate(112 1186.3 829.4)" stroke="#808080"/><ellipse cx="1196.3" cy="828.2" rx="4.4" ry="3.9" transform="rotate(52 1196.3 828.2)" stroke="#989898"/><ellipse cx="1202.7" cy="829.9" rx="4.5" ry="3.7" transform="rotate(75 1202.7 829.9)" stroke="#808080"/><ellipse cx="1210.9" cy="829.9" rx="4.4" ry="3.7" transform="rotate(71 1210.9 829.9)" stroke="#a4a4a4"/><ellipse cx="1220.4" cy="828.4" rx="4.7" ry="4.3" transform="rotate(97 1220.4 828.4)" stroke="#808080"/><ellipse cx="1227.4" cy="827.9" rx="3.6" ry="3.2" transform="rotate(123 1227.4 827.9)" stroke="#989898"/><ellipse cx="1235.0" cy="829.2" rx="4.3" ry="3.2" transform="rotate(129 1235.0 829.2)" stroke="#a4a4a4"/><ellipse cx="1246.3" cy="829.7" rx="3.7" ry="2.9" transform="rotate(93 1246.3 829.7)" stroke="#808080"/><ellipse cx="1252.2" cy="828.9" rx="4.6" ry="3.3" transform="rotate(105 1252.2 828.9)" stroke="#989898"/><ellipse cx="1261.6" cy="828.1" rx="4.5" ry="3.9" transform="rotate(117 1261.6 828.1)" stroke="#747474"/><ellipse cx="1270.7" cy="827.8" rx="3.8" ry="3.4" transform="rotate(79 1270.7 827.8)" stroke="#747474"/><ellipse cx="1279.9" cy="829.3" rx="3.9" ry="3.6" transform="rotate(60 1279.9 829.3)" stroke="#747474"/><ellipse cx="1288.2" cy="829.8" rx="4.1" ry="3.6" transform="rotate(126 1288.2 829.8)" stroke="#808080"/><ellipse cx="1296.8" cy="828.9" rx="3.8" ry="3.0" transform="rotate(111 1296.8 828.9)" stroke="#a4a4a4"/><ellipse cx="1304.5" cy="828.1" rx="4.6" ry="4.0" transform="rotate(54 1304.5 828.1)" stroke="#989898"/><ellipse cx="1313.4" cy="827.2" rx="3.5" ry="2.6" transform="rotate(84 1313.4 827.2)" stroke="#989898"/><ellipse cx="1159.2" cy="834.5" rx="3.7" ry="2.8" transform="rotate(71 1159.2 834.5)" stroke="#989898"/><ellipse cx="1167.6" cy="837.4" rx="3.7" ry="3.2" transform="rotate(97 1167.6 837.4)" stroke="#989898"/><ellipse cx="1174.1" cy="835.5" rx="4.5" ry="3.4" transform="rotate(95 1174.1 835.5)" stroke="#8c8c8c"/><ellipse cx="1183.5" cy="834.5" rx="4.3" ry="3.3" transform="rotate(105 1183.5 834.5)" stroke="#808080"/><ellipse cx="1192.9" cy="834.9" rx="3.8" ry="3.1" transform="rotate(124 1192.9 834.9)" stroke="#989898"/><ellipse cx="1199.6" cy="836.0" rx="4.2" ry="3.8" transform="rotate(56 1199.6 836.0)" stroke="#747474"/><ellipse cx="1208.1" cy="835.5" rx="3.6" ry="3.2" transform="rotate(86 1208.1 835.5)" stroke="#a4a4a4"/><ellipse cx="1216.8" cy="835.3" rx="4.1" ry="3.1" transform="rotate(61 1216.8 835.3)" stroke="#a4a4a4"/><ellipse cx="1224.8" cy="835.9" rx="3.9" ry="2.9" transform="rotate(53 1224.8 835.9)" stroke="#989898"/><ellipse cx="1234.7" cy="834.9" rx="3.7" ry="2.9" transform="rotate(53 1234.7 834.9)" stroke="#8c8c8c"/><ellipse cx="1241.7" cy="837.3" rx="4.5" ry="3.8" transform="rotate(56 1241.7 837.3)" stroke="#a4a4a4"/><ellipse cx="1250.0" cy="836.7" rx="4.7" ry="3.7" transform="rotate(115 1250.0 836.7)" stroke="#747474"/><ellipse cx="1258.6" cy="835.7" rx="4.7" ry="4.1" transform="rotate(122 1258.6 835.7)" stroke="#989898"/><ellipse cx="1266.9" cy="835.6" rx="4.5" ry="3.3" transform="rotate(106 1266.9 835.6)" stroke="#a4a4a4"/><ellipse cx="1274.1" cy="837.2" rx="3.5" ry="2.6" transform="rotate(110 1274.1 837.2)" stroke="#989898"/><ellipse cx="1284.6" cy="837.1" rx="3.9" ry="3.2" transform="rotate(50 1284.6 837.1)" stroke="#8c8c8c"/><ellipse cx="1290.9" cy="836.7" rx="4.7" ry="4.1" transform="rotate(82 1290.9 836.7)" stroke="#747474"/><ellipse cx="1299.1" cy="837.3" rx="4.8" ry="4.3" transform="rotate(94 1299.1 837.3)" stroke="#a4a4a4"/><ellipse cx="1163.7" cy="844.7" rx="3.6" ry="2.9" transform="rotate(123 1163.7 844.7)" stroke="#8c8c8c"/><ellipse cx="1172.6" cy="842.6" rx="4.7" ry="3.9" transform="rotate(83 1172.6 842.6)" stroke="#989898"/><ellipse cx="1180.3" cy="843.7" rx="4.6" ry="3.9" transform="rotate(94 1180.3 843.7)" stroke="#a4a4a4"/><ellipse cx="1187.5" cy="844.4" rx="4.7" ry="4.0" transform="rotate(102 1187.5 844.4)" stroke="#8c8c8c"/><ellipse cx="1196.6" cy="843.5" rx="3.4" ry="2.9" transform="rotate(97 1196.6 843.5)" stroke="#8c8c8c"/><ellipse cx="1205.1" cy="844.7" rx="4.2" ry="3.1" transform="rotate(94 1205.1 844.7)" stroke="#808080"/><ellipse cx="1215.1" cy="844.0" rx="4.9" ry="4.2" transform="rotate(53 1215.1 844.0)" stroke="#808080"/><ellipse cx="1223.8" cy="844.4" rx="4.2" ry="3.8" transform="rotate(127 1223.8 844.4)" stroke="#808080"/><ellipse cx="1230.8" cy="844.3" rx="4.1" ry="3.7" transform="rotate(106 1230.8 844.3)" stroke="#808080"/><ellipse cx="1240.3" cy="844.1" rx="4.5" ry="3.4" transform="rotate(67 1240.3 844.1)" stroke="#989898"/><ellipse cx="1249.5" cy="841.9" rx="4.5" ry="4.0" transform="rotate(63 1249.5 841.9)" stroke="#808080"/><ellipse cx="1257.1" cy="843.5" rx="3.4" ry="2.8" transform="rotate(93 1257.1 843.5)" stroke="#747474"/><ellipse cx="1264.2" cy="843.7" rx="3.8" ry="3.0" transform="rotate(79 1264.2 843.7)" stroke="#8c8c8c"/><ellipse cx="1273.4" cy="844.9" rx="4.5" ry="3.7" transform="rotate(86 1273.4 844.9)" stroke="#8c8c8c"/><ellipse cx="1281.1" cy="844.8" rx="3.9" ry="3.5" transform="rotate(63 1281.1 844.8)" stroke="#a4a4a4"/><ellipse cx="1156.5" cy="852.0" rx="4.1" ry="3.3" transform="rotate(118 1156.5 852.0)" stroke="#8c8c8c"/><ellipse cx="1166.9" cy="849.3" rx="4.1" ry="3.2" transform="rotate(93 1166.9 849.3)" stroke="#a4a4a4"/><ellipse cx="1175.4" cy="850.9" rx="3.5" ry="3.3" transform="rotate(81 1175.4 850.9)" stroke="#808080"/><ellipse cx="1183.4" cy="851.8" rx="3.7" ry="3.4" transform="rotate(103 1183.4 851.8)" stroke="#747474"/><ellipse cx="1193.5" cy="851.9" rx="3.7" ry="3.1" transform="rotate(79 1193.5 851.9)" stroke="#808080"/><ellipse cx="1199.7" cy="850.5" rx="3.9" ry="3.3" transform="rotate(129 1199.7 850.5)" stroke="#747474"/><ellipse cx="1210.3" cy="850.9" rx="4.5" ry="3.5" transform="rotate(108 1210.3 850.9)" stroke="#989898"/><ellipse cx="1218.9" cy="849.8" rx="4.5" ry="3.7" transform="rotate(111 1218.9 849.8)" stroke="#a4a4a4"/><ellipse cx="1224.1" cy="851.6" rx="4.6" ry="3.7" transform="rotate(124 1224.1 851.6)" stroke="#747474"/><ellipse cx="1232.6" cy="850.6" rx="4.0" ry="3.2" transform="rotate(78 1232.6 850.6)" stroke="#8c8c8c"/><ellipse cx="1242.5" cy="849.2" rx="4.9" ry="4.2" transform="rotate(114 1242.5 849.2)" stroke="#747474"/><ellipse cx="1252.8" cy="849.5" rx="3.9" ry="2.9" transform="rotate(120 1252.8 849.5)" stroke="#989898"/><ellipse cx="1261.4" cy="851.7" rx="5.0" ry="3.8" transform="rotate(87 1261.4 851.7)" stroke="#8c8c8c"/><ellipse cx="1269.3" cy="850.5" rx="4.1" ry="3.4" transform="rotate(82 1269.3 850.5)" stroke="#8c8c8c"/><ellipse cx="1164.3" cy="857.7" rx="4.8" ry="3.8" transform="rotate(120 1164.3 857.7)" stroke="#8c8c8c"/><ellipse cx="1173.2" cy="857.3" rx="4.6" ry="3.8" transform="rotate(58 1173.2 857.3)" stroke="#747474"/><ellipse cx="1180.4" cy="857.3" rx="4.4" ry="3.9" transform="rotate(57 1180.4 857.3)" stroke="#989898"/><ellipse cx="1190.6" cy="857.7" rx="4.4" ry="3.4" transform="rotate(68 1190.6 857.7)" stroke="#8c8c8c"/><ellipse cx="1200.5" cy="859.0" rx="4.9" ry="4.3" transform="rotate(98 1200.5 859.0)" stroke="#a4a4a4"/><ellipse cx="1209.0" cy="857.8" rx="4.4" ry="3.2" transform="rotate(124 1209.0 857.8)" stroke="#808080"/><ellipse cx="1215.4" cy="857.4" rx="4.7" ry="4.1" transform="rotate(63 1215.4 857.4)" stroke="#808080"/><ellipse cx="1224.1" cy="856.9" rx="4.0" ry="3.3" transform="rotate(108 1224.1 856.9)" stroke="#8c8c8c"/><ellipse cx="1231.6" cy="858.5" rx="3.7" ry="2.9" transform="rotate(107 1231.6 858.5)" stroke="#808080"/><ellipse cx="1241.9" cy="858.2" rx="4.4" ry="3.8" transform="rotate(113 1241.9 858.2)" stroke="#808080"/><ellipse cx="1250.0" cy="859.4" rx="3.8" ry="2.8" transform="rotate(102 1250.0 859.4)" stroke="#747474"/><ellipse cx="1261.1" cy="858.9" rx="3.5" ry="3.2" transform="rotate(117 1261.1 858.9)" stroke="#747474"/><ellipse cx="1156.4" cy="865.2" rx="4.0" ry="3.1" transform="rotate(76 1156.4 865.2)" stroke="#747474"/><ellipse cx="1164.1" cy="864.5" rx="3.5" ry="2.8" transform="rotate(51 1164.1 864.5)" stroke="#a4a4a4"/><ellipse cx="1173.2" cy="864.9" rx="4.7" ry="3.6" transform="rotate(109 1173.2 864.9)" stroke="#989898"/><ellipse cx="1183.7" cy="865.7" rx="4.3" ry="3.1" transform="rotate(111 1183.7 865.7)" stroke="#808080"/><ellipse cx="1191.5" cy="865.4" rx="3.8" ry="3.0" transform="rotate(54 1191.5 865.4)" stroke="#747474"/><ellipse cx="1201.6" cy="866.3" rx="4.6" ry="3.7" transform="rotate(129 1201.6 866.3)" stroke="#808080"/><ellipse cx="1211.1" cy="866.6" rx="4.3" ry="3.7" transform="rotate(101 1211.1 866.6)" stroke="#747474"/><ellipse cx="1218.2" cy="864.6" rx="3.8" ry="3.0" transform="rotate(101 1218.2 864.6)" stroke="#808080"/><ellipse cx="1226.0" cy="865.3" rx="3.9" ry="3.0" transform="rotate(106 1226.0 865.3)" stroke="#989898"/><ellipse cx="1236.1" cy="866.0" rx="4.0" ry="3.3" transform="rotate(78 1236.1 866.0)" stroke="#8c8c8c"/><ellipse cx="1242.7" cy="864.7" rx="4.7" ry="4.0" transform="rotate(60 1242.7 864.7)" stroke="#8c8c8c"/><ellipse cx="1252.8" cy="866.1" rx="4.3" ry="3.9" transform="rotate(88 1252.8 866.1)" stroke="#a4a4a4"/><ellipse cx="1161.8" cy="874.4" rx="3.7" ry="3.0" transform="rotate(97 1161.8 874.4)" stroke="#8c8c8c"/><ellipse cx="1169.8" cy="873.8" rx="4.0" ry="3.5" transform="rotate(91 1169.8 873.8)" stroke="#a4a4a4"/><ellipse cx="1177.5" cy="871.7" rx="4.3" ry="3.9" transform="rotate(87 1177.5 871.7)" stroke="#808080"/><ellipse cx="1184.3" cy="874.5" rx="4.1" ry="3.2" transform="rotate(124 1184.3 874.5)" stroke="#747474"/><ellipse cx="1193.2" cy="871.7" rx="3.9" ry="3.5" transform="rotate(76 1193.2 871.7)" stroke="#a4a4a4"/><ellipse cx="1201.0" cy="872.1" rx="4.0" ry="3.1" transform="rotate(64 1201.0 872.1)" stroke="#808080"/><ellipse cx="1211.1" cy="872.8" rx="4.9" ry="4.0" transform="rotate(87 1211.1 872.8)" stroke="#808080"/><ellipse cx="1217.8" cy="873.2" rx="4.8" ry="4.1" transform="rotate(84 1217.8 873.2)" stroke="#808080"/><ellipse cx="1228.1" cy="871.6" rx="3.9" ry="3.0" transform="rotate(88 1228.1 871.6)" stroke="#a4a4a4"/><ellipse cx="1235.4" cy="871.8" rx="3.5" ry="2.7" transform="rotate(123 1235.4 871.8)" stroke="#a4a4a4"/><ellipse cx="1243.8" cy="874.5" rx="4.4" ry="3.4" transform="rotate(64 1243.8 874.5)" stroke="#a4a4a4"/><ellipse cx="1156.5" cy="880.3" rx="3.5" ry="2.9" transform="rotate(88 1156.5 880.3)" stroke="#808080"/><ellipse cx="1164.2" cy="881.5" rx="4.2" ry="3.3" transform="rotate(127 1164.2 881.5)" stroke="#989898"/><ellipse cx="1174.0" cy="879.6" rx="3.5" ry="3.1" transform="rotate(51 1174.0 879.6)" stroke="#a4a4a4"/><ellipse cx="1180.5" cy="881.7" rx="4.2" ry="3.5" transform="rotate(65 1180.5 881.7)" stroke="#747474"/><ellipse cx="1190.5" cy="881.3" rx="4.5" ry="4.0" transform="rotate(76 1190.5 881.3)" stroke="#808080"/><ellipse cx="1198.5" cy="881.7" rx="3.4" ry="2.8" transform="rotate(62 1198.5 881.7)" stroke="#747474"/><ellipse cx="1209.3" cy="879.8" rx="4.0" ry="3.7" transform="rotate(97 1209.3 879.8)" stroke="#a4a4a4"/><ellipse cx="1218.0" cy="879.3" rx="4.7" ry="4.2" transform="rotate(120 1218.0 879.3)" stroke="#808080"/><ellipse cx="1226.0" cy="880.5" rx="4.6" ry="4.1" transform="rotate(67 1226.0 880.5)" stroke="#747474"/><ellipse cx="1235.4" cy="879.5" rx="4.5" ry="4.0" transform="rotate(92 1235.4 879.5)" stroke="#a4a4a4"/><ellipse cx="1162.8" cy="886.7" rx="4.2" ry="3.7" transform="rotate(74 1162.8 886.7)" stroke="#989898"/><ellipse cx="1172.5" cy="889.4" rx="4.3" ry="3.4" transform="rotate(83 1172.5 889.4)" stroke="#8c8c8c"/><ellipse cx="1180.0" cy="887.3" rx="3.6" ry="3.1" transform="rotate(93 1180.0 887.3)" stroke="#8c8c8c"/><ellipse cx="1189.0" cy="889.4" rx="4.9" ry="4.2" transform="rotate(84 1189.0 889.4)" stroke="#747474"/><ellipse cx="1197.7" cy="888.8" rx="3.8" ry="3.4" transform="rotate(111 1197.7 888.8)" stroke="#a4a4a4"/><ellipse cx="1204.4" cy="889.0" rx="3.6" ry="2.6" transform="rotate(55 1204.4 889.0)" stroke="#a4a4a4"/><ellipse cx="1212.2" cy="887.0" rx="4.7" ry="3.9" transform="rotate(93 1212.2 887.0)" stroke="#808080"/><ellipse cx="1222.9" cy="888.9" rx="4.8" ry="3.5" transform="rotate(78 1222.9 888.9)" stroke="#989898"/><ellipse cx="1229.1" cy="889.3" rx="4.9" ry="4.4" transform="rotate(126 1229.1 889.3)" stroke="#989898"/><ellipse cx="1159.8" cy="894.9" rx="4.0" ry="3.2" transform="rotate(56 1159.8 894.9)" stroke="#989898"/><ellipse cx="1169.3" cy="895.4" rx="4.8" ry="3.8" transform="rotate(116 1169.3 895.4)" stroke="#989898"/><ellipse cx="1177.2" cy="894.8" rx="4.4" ry="3.9" transform="rotate(105 1177.2 894.8)" stroke="#747474"/><ellipse cx="1186.5" cy="895.8" rx="4.7" ry="3.4" transform="rotate(114 1186.5 895.8)" stroke="#808080"/><ellipse cx="1194.5" cy="895.2" rx="3.5" ry="3.1" transform="rotate(75 1194.5 895.2)" stroke="#989898"/><ellipse cx="1202.3" cy="896.4" rx="4.8" ry="3.9" transform="rotate(113 1202.3 896.4)" stroke="#808080"/><ellipse cx="1213.3" cy="896.3" rx="3.5" ry="2.7" transform="rotate(75 1213.3 896.3)" stroke="#989898"/><ellipse cx="1162.4" cy="902.9" rx="3.9" ry="2.9" transform="rotate(120 1162.4 902.9)" stroke="#a4a4a4"/><ellipse cx="1170.0" cy="904.0" rx="4.9" ry="4.0" transform="rotate(70 1170.0 904.0)" stroke="#8c8c8c"/><ellipse cx="1177.6" cy="901.4" rx="4.6" ry="3.7" transform="rotate(71 1177.6 901.4)" stroke="#808080"/><ellipse cx="1187.5" cy="902.2" rx="4.5" ry="4.1" transform="rotate(93 1187.5 902.2)" stroke="#8c8c8c"/><ellipse cx="1194.8" cy="902.5" rx="4.4" ry="3.5" transform="rotate(109 1194.8 902.5)" stroke="#a4a4a4"/><ellipse cx="1203.2" cy="901.4" rx="3.9" ry="3.3" transform="rotate(116 1203.2 901.4)" stroke="#808080"/><ellipse cx="1213.7" cy="903.6" rx="4.8" ry="4.3" transform="rotate(88 1213.7 903.6)" stroke="#a4a4a4"/><ellipse cx="1158.8" cy="911.3" rx="4.0" ry="3.1" transform="rotate(112 1158.8 911.3)" stroke="#8c8c8c"/><ellipse cx="1165.5" cy="911.3" rx="4.9" ry="3.8" transform="rotate(76 1165.5 911.3)" stroke="#a4a4a4"/><ellipse cx="1173.0" cy="910.8" rx="4.0" ry="3.3" transform="rotate(109 1173.0 910.8)" stroke="#808080"/><ellipse cx="1180.8" cy="909.8" rx="3.7" ry="2.9" transform="rotate(80 1180.8 909.8)" stroke="#989898"/><ellipse cx="1189.7" cy="910.3" rx="3.6" ry="2.8" transform="rotate(53 1189.7 910.3)" stroke="#747474"/><ellipse cx="1196.7" cy="911.3" rx="4.4" ry="3.6" transform="rotate(123 1196.7 911.3)" stroke="#8c8c8c"/><ellipse cx="1203.1" cy="910.2" rx="3.7" ry="3.0" transform="rotate(98 1203.1 910.2)" stroke="#808080"/><ellipse cx="1161.6" cy="916.5" rx="4.4" ry="3.7" transform="rotate(71 1161.6 916.5)" stroke="#989898"/><ellipse cx="1171.2" cy="916.6" rx="4.9" ry="4.3" transform="rotate(127 1171.2 916.6)" stroke="#989898"/><ellipse cx="1180.3" cy="917.9" rx="4.7" ry="3.6" transform="rotate(72 1180.3 917.9)" stroke="#747474"/><ellipse cx="1189.0" cy="917.4" rx="4.6" ry="3.8" transform="rotate(83 1189.0 917.4)" stroke="#747474"/><ellipse cx="1195.7" cy="916.5" rx="3.9" ry="3.5" transform="rotate(110 1195.7 916.5)" stroke="#8c8c8c"/><ellipse cx="1156.8" cy="925.5" rx="4.4" ry="3.4" transform="rotate(55 1156.8 925.5)" stroke="#808080"/><ellipse cx="1166.7" cy="923.6" rx="3.8" ry="2.7" transform="rotate(120 1166.7 923.6)" stroke="#a4a4a4"/><ellipse cx="1175.1" cy="925.8" rx="4.9" ry="4.2" transform="rotate(116 1175.1 925.8)" stroke="#808080"/><ellipse cx="1182.5" cy="924.4" rx="4.2" ry="3.5" transform="rotate(61 1182.5 924.4)" stroke="#747474"/><ellipse cx="1191.1" cy="923.7" rx="4.7" ry="4.3" transform="rotate(82 1191.1 923.7)" stroke="#a4a4a4"/><ellipse cx="1163.2" cy="933.6" rx="4.4" ry="3.9" transform="rotate(52 1163.2 933.6)" stroke="#8c8c8c"/><ellipse cx="1171.1" cy="932.0" rx="4.2" ry="3.3" transform="rotate(128 1171.1 932.0)" stroke="#747474"/><ellipse cx="1180.8" cy="934.0" rx="3.6" ry="3.2" transform="rotate(120 1180.8 934.0)" stroke="#a4a4a4"/><ellipse cx="1157.6" cy="940.1" rx="5.0" ry="3.8" transform="rotate(107 1157.6 940.1)" stroke="#747474"/><ellipse cx="1164.6" cy="939.9" rx="3.7" ry="3.0" transform="rotate(108 1164.6 939.9)" stroke="#747474"/><ellipse cx="1174.6" cy="939.3" rx="4.9" ry="4.0" transform="rotate(63 1174.6 939.3)" stroke="#a4a4a4"/><ellipse cx="1162.0" cy="947.2" rx="4.0" ry="3.1" transform="rotate(73 1162.0 947.2)" stroke="#808080"/><ellipse cx="1157.5" cy="953.3" rx="4.0" ry="3.5" transform="rotate(112 1157.5 953.3)" stroke="#989898"/><ellipse cx="1157.5" cy="969.4" rx="4.3" ry="3.5" transform="rotate(126 1157.5 969.4)" stroke="#989898"/><ellipse cx="1255.3" cy="721.1" rx="3.8" ry="2.9" transform="rotate(124 1255.3 721.1)" stroke="#747474"/><ellipse cx="1546.3" cy="637.0" rx="4.0" ry="3.3" transform="rotate(69 1546.3 637.0)" stroke="#747474"/><ellipse cx="1258.4" cy="673.1" rx="3.1" ry="2.5" transform="rotate(124 1258.4 673.1)" stroke="#747474"/><ellipse cx="1292.3" cy="709.3" rx="4.2" ry="3.7" transform="rotate(75 1292.3 709.3)" stroke="#8c8c8c"/><ellipse cx="1242.3" cy="819.9" rx="3.7" ry="2.7" transform="rotate(86 1242.3 819.9)" stroke="#a4a4a4"/><ellipse cx="1173.6" cy="760.4" rx="3.7" ry="2.6" transform="rotate(87 1173.6 760.4)" stroke="#747474"/><ellipse cx="1490.3" cy="671.4" rx="3.6" ry="3.1" transform="rotate(95 1490.3 671.4)" stroke="#a4a4a4"/><ellipse cx="1178.4" cy="918.0" rx="4.3" ry="3.4" transform="rotate(94 1178.4 918.0)" stroke="#808080"/><ellipse cx="1195.2" cy="851.0" rx="4.5" ry="3.2" transform="rotate(59 1195.2 851.0)" stroke="#989898"/><ellipse cx="1442.7" cy="701.9" rx="3.9" ry="3.2" transform="rotate(91 1442.7 701.9)" stroke="#989898"/><ellipse cx="1289.4" cy="611.1" rx="3.1" ry="2.2" transform="rotate(93 1289.4 611.1)" stroke="#989898"/><ellipse cx="1198.9" cy="698.6" rx="4.3" ry="3.8" transform="rotate(94 1198.9 698.6)" stroke="#808080"/><ellipse cx="1411.2" cy="737.6" rx="3.7" ry="3.0" transform="rotate(56 1411.2 737.6)" stroke="#a4a4a4"/><ellipse cx="1257.0" cy="592.5" rx="3.3" ry="2.5" transform="rotate(81 1257.0 592.5)" stroke="#a4a4a4"/><ellipse cx="1262.9" cy="696.9" rx="3.6" ry="3.1" transform="rotate(103 1262.9 696.9)" stroke="#808080"/><ellipse cx="1196.9" cy="729.4" rx="3.5" ry="2.5" transform="rotate(56 1196.9 729.4)" stroke="#a4a4a4"/><ellipse cx="1330.1" cy="642.5" rx="4.1" ry="3.7" transform="rotate(124 1330.1 642.5)" stroke="#8c8c8c"/><ellipse cx="1469.0" cy="581.7" rx="3.7" ry="2.8" transform="rotate(98 1469.0 581.7)" stroke="#808080"/><ellipse cx="1385.7" cy="665.8" rx="3.7" ry="3.0" transform="rotate(121 1385.7 665.8)" stroke="#a4a4a4"/><ellipse cx="1250.9" cy="642.2" rx="3.1" ry="2.4" transform="rotate(56 1250.9 642.2)" stroke="#8c8c8c"/><ellipse cx="1313.5" cy="720.3" rx="3.4" ry="2.6" transform="rotate(120 1313.5 720.3)" stroke="#8c8c8c"/><ellipse cx="1311.2" cy="804.6" rx="3.5" ry="2.7" transform="rotate(95 1311.2 804.6)" stroke="#808080"/><ellipse cx="1447.7" cy="665.8" rx="3.4" ry="3.1" transform="rotate(122 1447.7 665.8)" stroke="#a4a4a4"/><ellipse cx="1208.1" cy="617.1" rx="4.3" ry="3.9" transform="rotate(90 1208.1 617.1)" stroke="#747474"/><ellipse cx="1532.6" cy="598.9" rx="4.4" ry="3.6" transform="rotate(121 1532.6 598.9)" stroke="#8c8c8c"/><ellipse cx="1177.1" cy="738.0" rx="3.9" ry="3.2" transform="rotate(93 1177.1 738.0)" stroke="#a4a4a4"/><ellipse cx="1238.0" cy="849.7" rx="3.7" ry="3.4" transform="rotate(124 1238.0 849.7)" stroke="#a4a4a4"/><ellipse cx="1282.5" cy="839.2" rx="4.3" ry="3.9" transform="rotate(87 1282.5 839.2)" stroke="#8c8c8c"/><ellipse cx="1429.7" cy="657.0" rx="3.1" ry="2.5" transform="rotate(60 1429.7 657.0)" stroke="#747474"/><ellipse cx="1164.5" cy="861.8" rx="3.6" ry="2.6" transform="rotate(116 1164.5 861.8)" stroke="#8c8c8c"/><ellipse cx="1503.9" cy="666.0" rx="4.3" ry="3.7" transform="rotate(109 1503.9 666.0)" stroke="#a4a4a4"/><ellipse cx="1232.3" cy="621.9" rx="3.6" ry="2.9" transform="rotate(102 1232.3 621.9)" stroke="#747474"/><ellipse cx="1180.1" cy="817.4" rx="3.1" ry="2.6" transform="rotate(84 1180.1 817.4)" stroke="#8c8c8c"/><ellipse cx="1312.4" cy="662.6" rx="3.4" ry="2.9" transform="rotate(114 1312.4 662.6)" stroke="#747474"/><ellipse cx="1242.1" cy="796.6" rx="4.3" ry="3.4" transform="rotate(112 1242.1 796.6)" stroke="#989898"/><ellipse cx="1232.8" cy="815.4" rx="3.6" ry="2.8" transform="rotate(121 1232.8 815.4)" stroke="#808080"/><ellipse cx="1517.8" cy="630.7" rx="4.3" ry="3.6" transform="rotate(93 1517.8 630.7)" stroke="#747474"/><ellipse cx="1193.7" cy="662.9" rx="3.8" ry="3.2" transform="rotate(113 1193.7 662.9)" stroke="#8c8c8c"/><ellipse cx="1243.9" cy="574.5" rx="4.0" ry="3.4" transform="rotate(81 1243.9 574.5)" stroke="#8c8c8c"/><ellipse cx="1297.0" cy="751.8" rx="3.5" ry="2.8" transform="rotate(59 1297.0 751.8)" stroke="#808080"/><ellipse cx="1339.3" cy="627.5" rx="4.1" ry="3.2" transform="rotate(63 1339.3 627.5)" stroke="#8c8c8c"/><ellipse cx="1162.7" cy="895.7" rx="3.4" ry="2.6" transform="rotate(104 1162.7 895.7)" stroke="#808080"/><ellipse cx="1281.4" cy="615.6" rx="4.0" ry="3.4" transform="rotate(104 1281.4 615.6)" stroke="#8c8c8c"/><ellipse cx="1431.4" cy="667.3" rx="3.7" ry="3.2" transform="rotate(120 1431.4 667.3)" stroke="#747474"/><ellipse cx="1376.0" cy="739.1" rx="3.8" ry="3.3" transform="rotate(112 1376.0 739.1)" stroke="#989898"/><ellipse cx="1543.9" cy="640.4" rx="3.4" ry="3.0" transform="rotate(103 1543.9 640.4)" stroke="#747474"/><ellipse cx="1214.4" cy="571.6" rx="4.4" ry="3.7" transform="rotate(85 1214.4 571.6)" stroke="#8c8c8c"/><ellipse cx="1211.9" cy="731.7" rx="4.4" ry="4.0" transform="rotate(129 1211.9 731.7)" stroke="#8c8c8c"/><ellipse cx="1240.3" cy="802.2" rx="3.6" ry="3.0" transform="rotate(113 1240.3 802.2)" stroke="#a4a4a4"/><ellipse cx="1217.6" cy="870.0" rx="4.3" ry="3.8" transform="rotate(83 1217.6 870.0)" stroke="#747474"/><ellipse cx="1347.5" cy="675.6" rx="4.1" ry="3.7" transform="rotate(63 1347.5 675.6)" stroke="#989898"/><ellipse cx="1482.9" cy="608.7" rx="4.1" ry="3.5" transform="rotate(51 1482.9 608.7)" stroke="#8c8c8c"/><ellipse cx="1380.0" cy="766.6" rx="3.7" ry="2.7" transform="rotate(111 1380.0 766.6)" stroke="#8c8c8c"/><ellipse cx="1373.3" cy="697.7" rx="3.8" ry="2.8" transform="rotate(76 1373.3 697.7)" stroke="#8c8c8c"/><ellipse cx="1243.8" cy="655.8" rx="3.5" ry="2.6" transform="rotate(80 1243.8 655.8)" stroke="#8c8c8c"/><ellipse cx="1288.6" cy="599.8" rx="4.1" ry="3.5" transform="rotate(74 1288.6 599.8)" stroke="#8c8c8c"/><ellipse cx="1467.0" cy="660.2" rx="3.3" ry="2.8" transform="rotate(124 1467.0 660.2)" stroke="#747474"/><ellipse cx="1399.2" cy="683.8" rx="3.6" ry="3.0" transform="rotate(70 1399.2 683.8)" stroke="#808080"/><ellipse cx="1198.3" cy="778.5" rx="4.0" ry="3.3" transform="rotate(78 1198.3 778.5)" stroke="#747474"/><ellipse cx="1303.7" cy="758.0" rx="3.8" ry="3.3" transform="rotate(79 1303.7 758.0)" stroke="#808080"/><ellipse cx="1257.3" cy="830.1" rx="4.2" ry="3.3" transform="rotate(105 1257.3 830.1)" stroke="#808080"/><ellipse cx="1283.1" cy="726.6" rx="4.1" ry="3.2" transform="rotate(68 1283.1 726.6)" stroke="#989898"/><ellipse cx="1180.5" cy="747.9" rx="3.5" ry="3.0" transform="rotate(78 1180.5 747.9)" stroke="#989898"/><ellipse cx="1245.2" cy="591.6" rx="3.4" ry="3.0" transform="rotate(110 1245.2 591.6)" stroke="#747474"/><ellipse cx="1244.2" cy="676.9" rx="3.7" ry="2.9" transform="rotate(119 1244.2 676.9)" stroke="#8c8c8c"/><ellipse cx="1544.5" cy="646.3" rx="3.9" ry="3.1" transform="rotate(127 1544.5 646.3)" stroke="#8c8c8c"/><ellipse cx="1210.5" cy="703.6" rx="3.9" ry="3.5" transform="rotate(95 1210.5 703.6)" stroke="#a4a4a4"/><ellipse cx="1305.4" cy="641.7" rx="3.6" ry="3.1" transform="rotate(115 1305.4 641.7)" stroke="#808080"/><ellipse cx="1400.1" cy="586.3" rx="3.1" ry="2.4" transform="rotate(90 1400.1 586.3)" stroke="#989898"/><ellipse cx="1403.3" cy="636.3" rx="3.2" ry="2.4" transform="rotate(111 1403.3 636.3)" stroke="#a4a4a4"/><ellipse cx="1468.6" cy="577.9" rx="4.4" ry="3.4" transform="rotate(74 1468.6 577.9)" stroke="#a4a4a4"/><ellipse cx="1287.2" cy="579.6" rx="4.2" ry="3.5" transform="rotate(115 1287.2 579.6)" stroke="#747474"/><ellipse cx="1161.8" cy="868.4" rx="3.8" ry="3.4" transform="rotate(89 1161.8 868.4)" stroke="#808080"/><ellipse cx="1283.1" cy="599.0" rx="3.3" ry="3.0" transform="rotate(128 1283.1 599.0)" stroke="#808080"/><ellipse cx="1470.4" cy="598.4" rx="3.5" ry="3.0" transform="rotate(70 1470.4 598.4)" stroke="#989898"/><ellipse cx="1320.2" cy="770.4" rx="3.7" ry="2.7" transform="rotate(53 1320.2 770.4)" stroke="#747474"/><ellipse cx="1313.8" cy="685.5" rx="4.5" ry="3.5" transform="rotate(57 1313.8 685.5)" stroke="#989898"/><ellipse cx="1318.2" cy="735.5" rx="3.9" ry="3.0" transform="rotate(70 1318.2 735.5)" stroke="#808080"/><ellipse cx="1243.5" cy="844.8" rx="3.3" ry="2.7" transform="rotate(117 1243.5 844.8)" stroke="#808080"/><ellipse cx="1176.7" cy="883.1" rx="3.4" ry="2.5" transform="rotate(92 1176.7 883.1)" stroke="#747474"/><ellipse cx="1359.3" cy="676.9" rx="3.2" ry="2.7" transform="rotate(105 1359.3 676.9)" stroke="#a4a4a4"/><ellipse cx="1372.5" cy="667.4" rx="3.5" ry="3.0" transform="rotate(53 1372.5 667.4)" stroke="#a4a4a4"/><ellipse cx="1394.1" cy="693.2" rx="3.8" ry="3.0" transform="rotate(74 1394.1 693.2)" stroke="#747474"/><ellipse cx="1355.6" cy="632.7" rx="4.4" ry="4.0" transform="rotate(125 1355.6 632.7)" stroke="#808080"/><ellipse cx="1200.4" cy="891.4" rx="4.2" ry="3.3" transform="rotate(74 1200.4 891.4)" stroke="#747474"/><ellipse cx="1387.5" cy="630.0" rx="4.0" ry="3.6" transform="rotate(85 1387.5 630.0)" stroke="#808080"/><ellipse cx="1321.1" cy="663.2" rx="3.1" ry="2.8" transform="rotate(129 1321.1 663.2)" stroke="#a4a4a4"/><ellipse cx="1310.7" cy="696.4" rx="4.4" ry="3.4" transform="rotate(106 1310.7 696.4)" stroke="#808080"/><ellipse cx="1235.1" cy="626.8" rx="4.1" ry="3.2" transform="rotate(87 1235.1 626.8)" stroke="#808080"/><ellipse cx="1332.2" cy="726.6" rx="3.2" ry="2.4" transform="rotate(85 1332.2 726.6)" stroke="#747474"/><ellipse cx="1337.9" cy="663.3" rx="3.1" ry="2.4" transform="rotate(92 1337.9 663.3)" stroke="#8c8c8c"/><ellipse cx="1193.8" cy="704.2" rx="3.8" ry="3.4" transform="rotate(98 1193.8 704.2)" stroke="#747474"/><ellipse cx="1264.9" cy="766.5" rx="3.6" ry="3.3" transform="rotate(124 1264.9 766.5)" stroke="#a4a4a4"/><ellipse cx="1379.7" cy="639.3" rx="4.1" ry="3.3" transform="rotate(117 1379.7 639.3)" stroke="#747474"/><ellipse cx="1177.4" cy="638.4" rx="3.1" ry="2.5" transform="rotate(109 1177.4 638.4)" stroke="#808080"/><ellipse cx="1375.6" cy="640.8" rx="4.4" ry="3.4" transform="rotate(77 1375.6 640.8)" stroke="#747474"/><ellipse cx="1233.8" cy="690.6" rx="4.2" ry="3.6" transform="rotate(99 1233.8 690.6)" stroke="#8c8c8c"/><ellipse cx="1222.4" cy="725.3" rx="3.7" ry="3.4" transform="rotate(53 1222.4 725.3)" stroke="#a4a4a4"/><ellipse cx="1301.9" cy="764.5" rx="4.5" ry="3.4" transform="rotate(126 1301.9 764.5)" stroke="#808080"/><ellipse cx="1422.8" cy="724.9" rx="3.5" ry="2.7" transform="rotate(91 1422.8 724.9)" stroke="#989898"/><ellipse cx="1326.5" cy="638.8" rx="3.2" ry="2.9" transform="rotate(84 1326.5 638.8)" stroke="#989898"/><ellipse cx="1361.3" cy="612.4" rx="3.9" ry="3.1" transform="rotate(107 1361.3 612.4)" stroke="#8c8c8c"/><ellipse cx="1347.3" cy="578.8" rx="3.1" ry="2.6" transform="rotate(64 1347.3 578.8)" stroke="#a4a4a4"/><ellipse cx="1240.5" cy="720.4" rx="3.8" ry="2.9" transform="rotate(70 1240.5 720.4)" stroke="#808080"/><ellipse cx="1236.3" cy="751.1" rx="3.1" ry="2.8" transform="rotate(117 1236.3 751.1)" stroke="#a4a4a4"/><ellipse cx="1161.0" cy="819.1" rx="3.1" ry="2.6" transform="rotate(84 1161.0 819.1)" stroke="#808080"/><ellipse cx="1377.8" cy="662.1" rx="3.9" ry="3.0" transform="rotate(97 1377.8 662.1)" stroke="#a4a4a4"/><ellipse cx="1539.8" cy="590.1" rx="3.1" ry="2.6" transform="rotate(124 1539.8 590.1)" stroke="#a4a4a4"/><ellipse cx="1169.7" cy="579.9" rx="4.3" ry="3.9" transform="rotate(111 1169.7 579.9)" stroke="#8c8c8c"/><ellipse cx="1547.9" cy="648.7" rx="4.0" ry="3.3" transform="rotate(66 1547.9 648.7)" stroke="#a4a4a4"/><ellipse cx="1428.0" cy="613.3" rx="3.5" ry="3.1" transform="rotate(58 1428.0 613.3)" stroke="#8c8c8c"/><ellipse cx="1227.8" cy="731.1" rx="3.4" ry="3.0" transform="rotate(126 1227.8 731.1)" stroke="#8c8c8c"/><ellipse cx="1551.5" cy="584.1" rx="4.0" ry="3.2" transform="rotate(53 1551.5 584.1)" stroke="#747474"/><ellipse cx="1253.5" cy="786.1" rx="3.8" ry="2.8" transform="rotate(125 1253.5 786.1)" stroke="#747474"/><ellipse cx="1373.4" cy="640.5" rx="4.4" ry="4.0" transform="rotate(101 1373.4 640.5)" stroke="#747474"/><ellipse cx="1158.2" cy="822.6" rx="3.8" ry="3.4" transform="rotate(65 1158.2 822.6)" stroke="#8c8c8c"/><ellipse cx="1267.2" cy="690.9" rx="4.4" ry="3.4" transform="rotate(67 1267.2 690.9)" stroke="#747474"/><ellipse cx="1171.8" cy="620.4" rx="3.6" ry="3.0" transform="rotate(103 1171.8 620.4)" stroke="#a4a4a4"/><ellipse cx="1515.2" cy="573.9" rx="3.4" ry="2.8" transform="rotate(116 1515.2 573.9)" stroke="#747474"/><ellipse cx="1190.5" cy="594.5" rx="4.0" ry="3.0" transform="rotate(117 1190.5 594.5)" stroke="#747474"/><ellipse cx="1220.6" cy="793.3" rx="3.8" ry="3.1" transform="rotate(102 1220.6 793.3)" stroke="#747474"/><ellipse cx="1206.4" cy="898.2" rx="3.6" ry="2.6" transform="rotate(122 1206.4 898.2)" stroke="#a4a4a4"/><ellipse cx="1384.1" cy="672.1" rx="3.8" ry="2.8" transform="rotate(99 1384.1 672.1)" stroke="#8c8c8c"/><ellipse cx="1432.8" cy="640.7" rx="3.8" ry="2.9" transform="rotate(119 1432.8 640.7)" stroke="#808080"/><ellipse cx="1401.7" cy="605.1" rx="3.4" ry="2.7" transform="rotate(87 1401.7 605.1)" stroke="#a4a4a4"/><ellipse cx="1436.5" cy="712.3" rx="3.2" ry="2.6" transform="rotate(82 1436.5 712.3)" stroke="#8c8c8c"/><ellipse cx="1405.0" cy="580.8" rx="3.5" ry="2.9" transform="rotate(117 1405.0 580.8)" stroke="#747474"/><ellipse cx="1185.6" cy="624.8" rx="3.9" ry="3.1" transform="rotate(54 1185.6 624.8)" stroke="#a4a4a4"/><ellipse cx="1436.6" cy="670.4" rx="4.1" ry="3.5" transform="rotate(85 1436.6 670.4)" stroke="#a4a4a4"/><ellipse cx="1384.6" cy="568.8" rx="3.6" ry="3.2" transform="rotate(92 1384.6 568.8)" stroke="#808080"/><ellipse cx="1265.7" cy="649.2" rx="3.5" ry="3.1" transform="rotate(84 1265.7 649.2)" stroke="#747474"/><ellipse cx="1321.0" cy="692.2" rx="4.0" ry="3.1" transform="rotate(77 1321.0 692.2)" stroke="#8c8c8c"/><ellipse cx="1269.6" cy="852.5" rx="4.0" ry="3.3" transform="rotate(84 1269.6 852.5)" stroke="#a4a4a4"/><ellipse cx="1250.1" cy="734.2" rx="3.2" ry="2.4" transform="rotate(62 1250.1 734.2)" stroke="#989898"/><ellipse cx="1349.8" cy="596.8" rx="3.7" ry="2.9" transform="rotate(59 1349.8 596.8)" stroke="#a4a4a4"/><ellipse cx="1190.3" cy="719.8" rx="3.6" ry="2.9" transform="rotate(66 1190.3 719.8)" stroke="#a4a4a4"/><ellipse cx="1435.1" cy="636.0" rx="4.5" ry="3.5" transform="rotate(117 1435.1 636.0)" stroke="#989898"/><ellipse cx="1441.4" cy="628.3" rx="3.8" ry="3.2" transform="rotate(79 1441.4 628.3)" stroke="#a4a4a4"/><ellipse cx="1311.6" cy="653.7" rx="4.3" ry="3.1" transform="rotate(118 1311.6 653.7)" stroke="#747474"/><ellipse cx="1195.2" cy="777.5" rx="3.4" ry="2.5" transform="rotate(119 1195.2 777.5)" stroke="#808080"/><ellipse cx="1445.8" cy="655.1" rx="4.0" ry="3.1" transform="rotate(101 1445.8 655.1)" stroke="#8c8c8c"/><ellipse cx="1448.5" cy="614.2" rx="4.3" ry="3.3" transform="rotate(81 1448.5 614.2)" stroke="#989898"/><ellipse cx="1361.5" cy="756.4" rx="3.2" ry="2.4" transform="rotate(115 1361.5 756.4)" stroke="#747474"/><ellipse cx="1502.3" cy="675.9" rx="4.1" ry="3.6" transform="rotate(61 1502.3 675.9)" stroke="#989898"/><ellipse cx="1329.1" cy="792.8" rx="3.1" ry="2.3" transform="rotate(104 1329.1 792.8)" stroke="#747474"/><ellipse cx="1227.1" cy="739.0" rx="3.2" ry="2.8" transform="rotate(87 1227.1 739.0)" stroke="#a4a4a4"/><ellipse cx="1223.1" cy="705.8" rx="3.6" ry="2.8" transform="rotate(90 1223.1 705.8)" stroke="#808080"/><ellipse cx="1359.9" cy="778.5" rx="4.2" ry="3.6" transform="rotate(77 1359.9 778.5)" stroke="#747474"/><ellipse cx="1332.8" cy="694.0" rx="3.4" ry="2.5" transform="rotate(127 1332.8 694.0)" stroke="#989898"/><ellipse cx="1417.3" cy="712.9" rx="3.9" ry="3.3" transform="rotate(117 1417.3 712.9)" stroke="#747474"/><ellipse cx="1261.3" cy="692.2" rx="3.7" ry="3.0" transform="rotate(77 1261.3 692.2)" stroke="#808080"/><ellipse cx="1244.3" cy="637.8" rx="4.3" ry="3.2" transform="rotate(112 1244.3 637.8)" stroke="#a4a4a4"/><ellipse cx="1297.6" cy="597.6" rx="4.4" ry="4.0" transform="rotate(122 1297.6 597.6)" stroke="#8c8c8c"/><ellipse cx="1215.5" cy="853.5" rx="3.6" ry="2.9" transform="rotate(83 1215.5 853.5)" stroke="#747474"/><ellipse cx="1260.7" cy="589.7" rx="3.5" ry="2.9" transform="rotate(75 1260.7 589.7)" stroke="#989898"/><ellipse cx="1203.1" cy="907.3" rx="3.7" ry="3.3" transform="rotate(55 1203.1 907.3)" stroke="#989898"/><ellipse cx="1211.0" cy="824.2" rx="3.6" ry="3.0" transform="rotate(107 1211.0 824.2)" stroke="#a4a4a4"/><ellipse cx="1594.7" cy="584.3" rx="4.2" ry="3.3" transform="rotate(130 1594.7 584.3)" stroke="#747474"/><ellipse cx="1334.1" cy="727.0" rx="3.7" ry="3.3" transform="rotate(52 1334.1 727.0)" stroke="#8c8c8c"/><ellipse cx="1509.4" cy="614.1" rx="3.1" ry="2.6" transform="rotate(55 1509.4 614.1)" stroke="#989898"/><ellipse cx="1409.5" cy="700.7" rx="4.2" ry="3.8" transform="rotate(96 1409.5 700.7)" stroke="#989898"/><ellipse cx="1202.7" cy="816.8" rx="3.9" ry="3.5" transform="rotate(93 1202.7 816.8)" stroke="#808080"/><ellipse cx="1424.0" cy="581.8" rx="3.2" ry="2.6" transform="rotate(109 1424.0 581.8)" stroke="#a4a4a4"/><ellipse cx="1230.5" cy="800.9" rx="3.8" ry="3.1" transform="rotate(103 1230.5 800.9)" stroke="#8c8c8c"/><ellipse cx="1551.3" cy="633.7" rx="3.7" ry="3.3" transform="rotate(67 1551.3 633.7)" stroke="#a4a4a4"/><ellipse cx="1211.4" cy="722.8" rx="4.4" ry="3.8" transform="rotate(64 1211.4 722.8)" stroke="#a4a4a4"/><ellipse cx="1269.0" cy="749.9" rx="3.3" ry="2.7" transform="rotate(88 1269.0 749.9)" stroke="#989898"/><ellipse cx="1376.5" cy="622.7" rx="3.2" ry="2.4" transform="rotate(107 1376.5 622.7)" stroke="#808080"/><ellipse cx="1288.7" cy="730.3" rx="4.0" ry="3.5" transform="rotate(118 1288.7 730.3)" stroke="#808080"/><ellipse cx="1286.0" cy="621.9" rx="3.2" ry="2.9" transform="rotate(98 1286.0 621.9)" stroke="#8c8c8c"/><ellipse cx="1320.4" cy="642.6" rx="3.7" ry="3.2" transform="rotate(90 1320.4 642.6)" stroke="#8c8c8c"/><ellipse cx="1357.7" cy="752.8" rx="3.6" ry="3.0" transform="rotate(69 1357.7 752.8)" stroke="#989898"/><ellipse cx="1388.8" cy="643.3" rx="3.4" ry="2.5" transform="rotate(99 1388.8 643.3)" stroke="#989898"/><ellipse cx="1350.5" cy="643.5" rx="3.9" ry="3.3" transform="rotate(84 1350.5 643.5)" stroke="#747474"/><ellipse cx="1221.2" cy="729.3" rx="4.4" ry="3.4" transform="rotate(82 1221.2 729.3)" stroke="#989898"/><ellipse cx="1366.2" cy="642.4" rx="3.8" ry="2.9" transform="rotate(126 1366.2 642.4)" stroke="#747474"/><ellipse cx="1255.7" cy="673.8" rx="3.2" ry="2.5" transform="rotate(63 1255.7 673.8)" stroke="#8c8c8c"/><ellipse cx="1250.4" cy="811.8" rx="3.9" ry="3.3" transform="rotate(54 1250.4 811.8)" stroke="#a4a4a4"/><ellipse cx="1270.3" cy="617.5" rx="4.4" ry="3.5" transform="rotate(117 1270.3 617.5)" stroke="#8c8c8c"/><ellipse cx="1297.3" cy="672.2" rx="3.7" ry="2.8" transform="rotate(61 1297.3 672.2)" stroke="#989898"/><ellipse cx="1284.3" cy="733.5" rx="4.4" ry="4.0" transform="rotate(62 1284.3 733.5)" stroke="#8c8c8c"/><ellipse cx="1441.7" cy="579.1" rx="3.2" ry="2.8" transform="rotate(118 1441.7 579.1)" stroke="#8c8c8c"/><ellipse cx="1348.9" cy="621.9" rx="3.2" ry="2.7" transform="rotate(59 1348.9 621.9)" stroke="#747474"/><ellipse cx="1321.3" cy="800.3" rx="3.4" ry="2.6" transform="rotate(99 1321.3 800.3)" stroke="#8c8c8c"/><ellipse cx="1243.0" cy="650.7" rx="3.2" ry="2.3" transform="rotate(73 1243.0 650.7)" stroke="#a4a4a4"/><ellipse cx="1415.0" cy="688.3" rx="3.3" ry="2.6" transform="rotate(67 1415.0 688.3)" stroke="#8c8c8c"/><ellipse cx="1561.5" cy="581.9" rx="4.3" ry="3.4" transform="rotate(107 1561.5 581.9)" stroke="#a4a4a4"/><ellipse cx="1314.2" cy="691.6" rx="3.3" ry="2.5" transform="rotate(90 1314.2 691.6)" stroke="#989898"/><ellipse cx="1222.8" cy="762.0" rx="4.5" ry="3.3" transform="rotate(121 1222.8 762.0)" stroke="#a4a4a4"/><ellipse cx="1328.2" cy="634.9" rx="4.4" ry="3.5" transform="rotate(60 1328.2 634.9)" stroke="#989898"/><ellipse cx="1243.9" cy="594.8" rx="4.2" ry="3.5" transform="rotate(79 1243.9 594.8)" stroke="#989898"/><ellipse cx="1313.4" cy="589.6" rx="3.2" ry="2.3" transform="rotate(110 1313.4 589.6)" stroke="#747474"/><ellipse cx="1252.3" cy="840.8" rx="3.1" ry="2.3" transform="rotate(129 1252.3 840.8)" stroke="#808080"/><ellipse cx="1273.1" cy="785.0" rx="4.2" ry="3.0" transform="rotate(65 1273.1 785.0)" stroke="#8c8c8c"/><ellipse cx="1218.0" cy="704.2" rx="3.1" ry="2.6" transform="rotate(114 1218.0 704.2)" stroke="#808080"/><ellipse cx="1357.5" cy="587.3" rx="3.2" ry="2.5" transform="rotate(111 1357.5 587.3)" stroke="#a4a4a4"/><ellipse cx="1184.6" cy="777.7" rx="3.8" ry="2.9" transform="rotate(67 1184.6 777.7)" stroke="#808080"/><ellipse cx="1211.2" cy="791.9" rx="3.8" ry="3.4" transform="rotate(107 1211.2 791.9)" stroke="#989898"/><ellipse cx="1186.5" cy="885.2" rx="3.6" ry="3.2" transform="rotate(108 1186.5 885.2)" stroke="#989898"/><ellipse cx="1267.1" cy="852.8" rx="3.5" ry="2.5" transform="rotate(122 1267.1 852.8)" stroke="#989898"/><ellipse cx="1225.8" cy="808.5" rx="3.3" ry="2.8" transform="rotate(96 1225.8 808.5)" stroke="#989898"/><ellipse cx="1373.0" cy="682.7" rx="4.2" ry="3.2" transform="rotate(114 1373.0 682.7)" stroke="#747474"/><ellipse cx="1286.8" cy="837.1" rx="4.4" ry="3.5" transform="rotate(94 1286.8 837.1)" stroke="#8c8c8c"/><ellipse cx="1265.4" cy="699.2" rx="3.7" ry="3.4" transform="rotate(124 1265.4 699.2)" stroke="#8c8c8c"/><ellipse cx="1217.2" cy="819.5" rx="4.1" ry="3.2" transform="rotate(94 1217.2 819.5)" stroke="#808080"/><ellipse cx="1340.5" cy="654.1" rx="3.3" ry="2.8" transform="rotate(103 1340.5 654.1)" stroke="#989898"/><ellipse cx="1295.9" cy="782.9" rx="3.7" ry="2.6" transform="rotate(62 1295.9 782.9)" stroke="#8c8c8c"/><ellipse cx="1259.9" cy="654.8" rx="4.0" ry="3.3" transform="rotate(84 1259.9 654.8)" stroke="#808080"/><ellipse cx="1355.5" cy="751.1" rx="4.5" ry="3.3" transform="rotate(89 1355.5 751.1)" stroke="#989898"/><ellipse cx="1199.8" cy="841.0" rx="4.2" ry="3.8" transform="rotate(110 1199.8 841.0)" stroke="#808080"/><ellipse cx="1165.9" cy="698.8" rx="4.1" ry="3.2" transform="rotate(65 1165.9 698.8)" stroke="#808080"/><ellipse cx="1173.9" cy="596.5" rx="4.0" ry="3.5" transform="rotate(78 1173.9 596.5)" stroke="#747474"/><ellipse cx="1361.2" cy="722.1" rx="4.0" ry="3.5" transform="rotate(102 1361.2 722.1)" stroke="#808080"/><ellipse cx="1207.4" cy="813.1" rx="4.3" ry="3.8" transform="rotate(124 1207.4 813.1)" stroke="#808080"/><ellipse cx="1431.5" cy="713.6" rx="4.0" ry="3.0" transform="rotate(120 1431.5 713.6)" stroke="#747474"/><ellipse cx="1286.4" cy="760.4" rx="3.6" ry="2.7" transform="rotate(114 1286.4 760.4)" stroke="#a4a4a4"/><ellipse cx="1169.9" cy="787.2" rx="3.1" ry="2.3" transform="rotate(107 1169.9 787.2)" stroke="#808080"/><ellipse cx="1211.5" cy="770.4" rx="4.0" ry="3.0" transform="rotate(124 1211.5 770.4)" stroke="#747474"/><ellipse cx="1498.2" cy="604.9" rx="3.2" ry="2.5" transform="rotate(118 1498.2 604.9)" stroke="#747474"/><ellipse cx="1190.3" cy="902.1" rx="4.1" ry="3.6" transform="rotate(78 1190.3 902.1)" stroke="#989898"/><ellipse cx="1405.0" cy="702.4" rx="4.0" ry="2.9" transform="rotate(57 1405.0 702.4)" stroke="#8c8c8c"/><ellipse cx="1517.4" cy="659.8" rx="3.5" ry="3.0" transform="rotate(65 1517.4 659.8)" stroke="#a4a4a4"/><ellipse cx="1203.8" cy="822.5" rx="3.7" ry="3.4" transform="rotate(53 1203.8 822.5)" stroke="#8c8c8c"/><ellipse cx="1395.9" cy="597.6" rx="3.3" ry="2.4" transform="rotate(55 1395.9 597.6)" stroke="#989898"/><ellipse cx="1207.7" cy="883.0" rx="4.1" ry="3.4" transform="rotate(128 1207.7 883.0)" stroke="#808080"/><ellipse cx="1317.0" cy="793.0" rx="3.5" ry="3.2" transform="rotate(105 1317.0 793.0)" stroke="#a4a4a4"/><ellipse cx="1157.9" cy="629.0" rx="3.9" ry="2.8" transform="rotate(120 1157.9 629.0)" stroke="#747474"/><ellipse cx="1327.0" cy="810.1" rx="3.2" ry="2.3" transform="rotate(81 1327.0 810.1)" stroke="#989898"/><ellipse cx="1181.1" cy="809.0" rx="4.0" ry="3.5" transform="rotate(101 1181.1 809.0)" stroke="#989898"/><ellipse cx="1406.4" cy="678.1" rx="3.1" ry="2.4" transform="rotate(65 1406.4 678.1)" stroke="#747474"/><ellipse cx="1445.4" cy="573.9" rx="3.9" ry="3.3" transform="rotate(109 1445.4 573.9)" stroke="#747474"/><ellipse cx="1358.0" cy="643.5" rx="3.2" ry="2.7" transform="rotate(110 1358.0 643.5)" stroke="#747474"/><ellipse cx="1281.3" cy="827.4" rx="4.1" ry="3.0" transform="rotate(101 1281.3 827.4)" stroke="#8c8c8c"/><ellipse cx="1321.8" cy="577.4" rx="3.4" ry="3.0" transform="rotate(76 1321.8 577.4)" stroke="#989898"/><ellipse cx="1509.5" cy="582.3" rx="4.3" ry="3.2" transform="rotate(108 1509.5 582.3)" stroke="#747474"/><ellipse cx="1531.0" cy="654.3" rx="4.0" ry="3.1" transform="rotate(126 1531.0 654.3)" stroke="#8c8c8c"/><ellipse cx="1246.8" cy="625.9" rx="3.9" ry="3.2" transform="rotate(105 1246.8 625.9)" stroke="#8c8c8c"/><ellipse cx="1480.3" cy="639.2" rx="3.4" ry="2.5" transform="rotate(74 1480.3 639.2)" stroke="#989898"/><ellipse cx="1187.8" cy="575.1" rx="3.9" ry="3.6" transform="rotate(56 1187.8 575.1)" stroke="#8c8c8c"/><ellipse cx="1195.3" cy="838.0" rx="4.4" ry="4.0" transform="rotate(124 1195.3 838.0)" stroke="#747474"/><ellipse cx="1170.4" cy="921.3" rx="4.4" ry="3.5" transform="rotate(66 1170.4 921.3)" stroke="#a4a4a4"/><ellipse cx="1511.6" cy="594.2" rx="3.1" ry="2.3" transform="rotate(116 1511.6 594.2)" stroke="#808080"/><ellipse cx="1213.2" cy="762.9" rx="4.5" ry="4.0" transform="rotate(89 1213.2 762.9)" stroke="#8c8c8c"/><ellipse cx="1298.2" cy="695.5" rx="3.9" ry="3.3" transform="rotate(86 1298.2 695.5)" stroke="#8c8c8c"/><ellipse cx="1257.4" cy="836.5" rx="3.4" ry="2.8" transform="rotate(103 1257.4 836.5)" stroke="#747474"/><ellipse cx="1242.2" cy="679.1" rx="3.2" ry="2.8" transform="rotate(52 1242.2 679.1)" stroke="#747474"/><ellipse cx="1524.6" cy="618.5" rx="3.9" ry="3.1" transform="rotate(93 1524.6 618.5)" stroke="#808080"/><ellipse cx="1275.5" cy="784.2" rx="4.2" ry="3.2" transform="rotate(51 1275.5 784.2)" stroke="#989898"/><ellipse cx="1283.9" cy="789.4" rx="4.4" ry="3.7" transform="rotate(73 1283.9 789.4)" stroke="#8c8c8c"/><ellipse cx="1235.7" cy="682.5" rx="4.4" ry="3.9" transform="rotate(75 1235.7 682.5)" stroke="#a4a4a4"/><ellipse cx="1573.2" cy="601.1" rx="3.8" ry="2.7" transform="rotate(128 1573.2 601.1)" stroke="#989898"/><ellipse cx="1236.2" cy="835.6" rx="3.9" ry="3.5" transform="rotate(86 1236.2 835.6)" stroke="#8c8c8c"/><ellipse cx="1475.1" cy="689.5" rx="3.6" ry="2.9" transform="rotate(83 1475.1 689.5)" stroke="#808080"/><ellipse cx="1329.5" cy="788.5" rx="4.3" ry="3.5" transform="rotate(129 1329.5 788.5)" stroke="#808080"/><ellipse cx="1158.8" cy="573.6" rx="4.3" ry="3.6" transform="rotate(129 1158.8 573.6)" stroke="#a4a4a4"/><ellipse cx="1220.4" cy="697.6" rx="4.5" ry="4.1" transform="rotate(123 1220.4 697.6)" stroke="#747474"/><ellipse cx="1330.6" cy="590.2" rx="3.6" ry="3.1" transform="rotate(53 1330.6 590.2)" stroke="#a4a4a4"/><ellipse cx="1249.3" cy="583.6" rx="3.7" ry="3.2" transform="rotate(65 1249.3 583.6)" stroke="#989898"/><ellipse cx="1226.8" cy="577.7" rx="3.5" ry="2.6" transform="rotate(115 1226.8 577.7)" stroke="#a4a4a4"/><ellipse cx="1255.1" cy="803.1" rx="3.9" ry="3.4" transform="rotate(56 1255.1 803.1)" stroke="#8c8c8c"/><ellipse cx="1227.4" cy="687.9" rx="3.6" ry="2.9" transform="rotate(97 1227.4 687.9)" stroke="#747474"/><ellipse cx="1308.4" cy="732.5" rx="3.8" ry="3.2" transform="rotate(104 1308.4 732.5)" stroke="#989898"/><ellipse cx="1269.7" cy="824.2" rx="4.2" ry="3.7" transform="rotate(117 1269.7 824.2)" stroke="#747474"/><ellipse cx="1165.8" cy="615.6" rx="3.3" ry="2.9" transform="rotate(113 1165.8 615.6)" stroke="#8c8c8c"/><ellipse cx="1362.2" cy="708.7" rx="3.3" ry="2.7" transform="rotate(109 1362.2 708.7)" stroke="#747474"/></g>
<line x1="1153.0" y1="563.7" x2="1777.0" y2="563.7" stroke="#808080" stroke-width="1.3" />
<line x1="688.2" y1="1400" x2="688.2" y2="1420" stroke="#c8c8c8" stroke-width="1.5"/>
<circle cx="1631" cy="318" r="1" fill="#777"/>
<circle cx="1240" cy="468" r="1" fill="#777"/>
<circle cx="1660.5" cy="724.3" r="1" fill="#777"/>
<circle cx="1669.3" cy="737.6" r="1" fill="#777"/>
<circle cx="12" cy="578" r="1" fill="#777"/>
<circle cx="457" cy="783" r="1" fill="#777"/>
<g font-family="Liberation Serif, serif"><text x="1168.0" y="147.5" font-size="20.5" font-weight="bold" fill="#111" stroke="#111" stroke-width="0.25" textLength="119.0" lengthAdjust="spacingAndGlyphs">Wandaufbau</text><text x="1167.5" y="165.8" font-size="12.6"  fill="#262626" stroke="#262626" stroke-width="0.38" textLength="55.5" lengthAdjust="spacingAndGlyphs">Innenputz</text><text x="1405.0" y="165.8" font-size="12.6"  fill="#262626" stroke="#262626" stroke-width="0.38" textLength="36.7" lengthAdjust="spacingAndGlyphs">2,0 cm</text><text x="1167.5" y="182.3" font-size="12.6"  fill="#262626" stroke="#262626" stroke-width="0.38" textLength="90.5" lengthAdjust="spacingAndGlyphs">Ziegelmauerwek</text><text x="1405.0" y="182.3" font-size="12.6"  fill="#262626" stroke="#262626" stroke-width="0.38" textLength="42.5" lengthAdjust="spacingAndGlyphs">36,5 cm</text><text x="1167.5" y="198.8" font-size="12.6"  fill="#262626" stroke="#262626" stroke-width="0.38" textLength="113.8" lengthAdjust="spacingAndGlyphs">Außenputz (Bestand)</text><text x="1405.0" y="198.8" font-size="12.6"  fill="#262626" stroke="#262626" stroke-width="0.38" textLength="36.7" lengthAdjust="spacingAndGlyphs">2,0 cm</text><text x="1167.5" y="215.3" font-size="12.6"  fill="#262626" stroke="#262626" stroke-width="0.38" textLength="162.2" lengthAdjust="spacingAndGlyphs">Wärmedämmung (Sanierung)</text><text x="1405.0" y="215.3" font-size="12.6"  fill="#262626" stroke="#262626" stroke-width="0.38" textLength="42.0" lengthAdjust="spacingAndGlyphs">12,0 cm</text><text x="1167.5" y="231.8" font-size="12.6"  fill="#262626" stroke="#262626" stroke-width="0.38" textLength="133.8" lengthAdjust="spacingAndGlyphs">Putz (Kalkzementmörtel)</text><text x="1405.0" y="231.8" font-size="12.6"  fill="#262626" stroke="#262626" stroke-width="0.38" textLength="36.7" lengthAdjust="spacingAndGlyphs">2,0 cm</text><text x="1167.2" y="346.4" font-size="12.6" font-weight="bold" fill="#1a1a1a" stroke="#1a1a1a" stroke-width="0.25" textLength="107.8" lengthAdjust="spacingAndGlyphs">Spritzwasserschutz</text><text x="1167.2" y="363.0" font-size="12.6"  fill="#262626" stroke="#262626" stroke-width="0.38" textLength="105.8" lengthAdjust="spacingAndGlyphs">Zementmörtel-Putz</text><text x="1167.2" y="379.3" font-size="12.6"  fill="#262626" stroke="#262626" stroke-width="0.38" textLength="133.8" lengthAdjust="spacingAndGlyphs">bis 30 cm über Erdreich,</text><text x="1167.2" y="395.6" font-size="12.6"  fill="#262626" stroke="#262626" stroke-width="0.38" textLength="118.8" lengthAdjust="spacingAndGlyphs">danach Fassadenputz</text><text x="1461.0" y="518.3" font-size="12.6" font-weight="bold" fill="#1a1a1a" stroke="#1a1a1a" stroke-width="0.25" textLength="45.0" lengthAdjust="spacingAndGlyphs">Kiesbett</text><text x="1461.0" y="534.8" font-size="12.6"  fill="#262626" stroke="#262626" stroke-width="0.38" textLength="415.0" lengthAdjust="spacingAndGlyphs">Zum besseren Versickern von vermehrten Niederschlägen im Sockelbereich</text><text x="1461.0" y="551.6" font-size="12.6"  fill="#262626" stroke="#262626" stroke-width="0.38" textLength="188.4" lengthAdjust="spacingAndGlyphs">und absorbieren  von Spritzwasser</text><text x="158.5" y="396.9" font-size="21" font-weight="bold" fill="#111" stroke="#111" stroke-width="0.25" textLength="126.3" lengthAdjust="spacingAndGlyphs">Bodenaufbau</text><text x="158.5" y="414.7" font-size="12.6"  fill="#262626" stroke="#262626" stroke-width="0.38" textLength="77.4" lengthAdjust="spacingAndGlyphs">Holzfußboden</text><text x="336.8" y="414.7" font-size="12.6"  fill="#262626" stroke="#262626" stroke-width="0.38" textLength="35.6" lengthAdjust="spacingAndGlyphs">2,5 cm</text><text x="158.5" y="431.3" font-size="12.6"  fill="#262626" stroke="#262626" stroke-width="0.38" textLength="79.4" lengthAdjust="spacingAndGlyphs">Zementestrich</text><text x="336.8" y="431.3" font-size="12.6"  fill="#262626" stroke="#262626" stroke-width="0.38" textLength="36.1" lengthAdjust="spacingAndGlyphs">5,0 cm</text><text x="158.5" y="447.9" font-size="12.6"  fill="#262626" stroke="#262626" stroke-width="0.38" textLength="44.2" lengthAdjust="spacingAndGlyphs">PE-Folie</text><text x="158.5" y="464.5" font-size="12.6"  fill="#262626" stroke="#262626" stroke-width="0.38" textLength="112.5" lengthAdjust="spacingAndGlyphs">Trittschalldämmung</text><text x="336.8" y="464.5" font-size="12.6"  fill="#262626" stroke="#262626" stroke-width="0.38" textLength="36.6" lengthAdjust="spacingAndGlyphs">3,0 cm</text><text x="158.5" y="481.1" font-size="12.6"  fill="#262626" stroke="#262626" stroke-width="0.38" textLength="76.5" lengthAdjust="spacingAndGlyphs">Dampfbremse</text><text x="158.5" y="497.7" font-size="12.6"  fill="#262626" stroke="#262626" stroke-width="0.38" textLength="59.7" lengthAdjust="spacingAndGlyphs">STB-Decke</text><text x="336.8" y="497.7" font-size="12.6"  fill="#262626" stroke="#262626" stroke-width="0.38" textLength="44.2" lengthAdjust="spacingAndGlyphs">18,0  cm</text><text x="158.5" y="514.3" font-size="12.6"  fill="#262626" stroke="#262626" stroke-width="0.38" textLength="95.4" lengthAdjust="spacingAndGlyphs">Wärmedämmung</text><text x="336.8" y="514.3" font-size="12.6"  fill="#262626" stroke="#262626" stroke-width="0.38" textLength="36.6" lengthAdjust="spacingAndGlyphs">6,0 cm</text><text x="158.5" y="530.9" font-size="12.6"  fill="#262626" stroke="#262626" stroke-width="0.38" textLength="104.1" lengthAdjust="spacingAndGlyphs">Sauberkeitsschicht</text><text x="336.8" y="530.9" font-size="12.6"  fill="#262626" stroke="#262626" stroke-width="0.38" textLength="36.2" lengthAdjust="spacingAndGlyphs">5,0 cm</text><text x="1189.2" y="1094.0" font-size="20.5" font-weight="bold" fill="#111" stroke="#111" stroke-width="0.25" textLength="109.8" lengthAdjust="spacingAndGlyphs">Fundament</text><text x="1189.2" y="1112.1" font-size="12.6"  fill="#262626" stroke="#262626" stroke-width="0.38" textLength="128.6" lengthAdjust="spacingAndGlyphs">STB-Streifenfundament</text><text x="1427.0" y="1112.1" font-size="12.6"  fill="#262626" stroke="#262626" stroke-width="0.38" textLength="51.5" lengthAdjust="spacingAndGlyphs">80/60 cm</text><text x="1189.2" y="1128.6" font-size="12.6"  fill="#262626" stroke="#262626" stroke-width="0.38" textLength="163.8" lengthAdjust="spacingAndGlyphs">Perimaterdämmung (Bestand)</text><text x="1427.0" y="1128.6" font-size="12.6"  fill="#262626" stroke="#262626" stroke-width="0.38" textLength="36.0" lengthAdjust="spacingAndGlyphs">8,0 cm</text><text x="1189.2" y="1145.2" font-size="12.6"  fill="#262626" stroke="#262626" stroke-width="0.38" textLength="76.2" lengthAdjust="spacingAndGlyphs">Dampfbremse</text><text x="1189.2" y="1161.8" font-size="12.6"  fill="#262626" stroke="#262626" stroke-width="0.38" textLength="176.4" lengthAdjust="spacingAndGlyphs">Perimeterdämmung (Sanierung)</text><text x="1427.0" y="1161.8" font-size="12.6"  fill="#262626" stroke="#262626" stroke-width="0.38" textLength="41.2" lengthAdjust="spacingAndGlyphs">13,0 cm</text><text x="1189.2" y="1178.3" font-size="12.6"  fill="#262626" stroke="#262626" stroke-width="0.38" textLength="111.4" lengthAdjust="spacingAndGlyphs">Putz (Zementmörtel)</text><text x="1427.0" y="1178.3" font-size="12.6"  fill="#262626" stroke="#262626" stroke-width="0.38" textLength="36.0" lengthAdjust="spacingAndGlyphs">2,0 cm</text></g></svg>
</body></html>
